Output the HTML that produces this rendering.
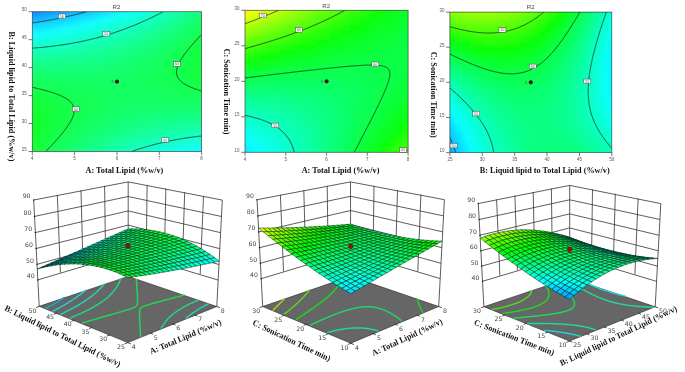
<!DOCTYPE html><html><head><meta charset="utf-8"><style>
*{margin:0;padding:0}
html,body{width:685px;height:372px;background:#fff;overflow:hidden}
svg{display:block}
.cl{fill:none;stroke:#1a1a1a;stroke-width:0.7}
.fr{fill:none;stroke:#2a2a2a;stroke-width:0.8;opacity:.75}
.tk{stroke:#555;stroke-width:0.8}
.tl{font:4.5px "Liberation Sans",sans-serif;fill:#555}
.lb{fill:#fff;stroke:#444;stroke-width:0.5}
.lt{font:3.6px "Liberation Sans",sans-serif;fill:#555}
.tt{font:6.2px "Liberation Sans",sans-serif;fill:#444}
.ax{font:bold 8.65px "Liberation Serif",serif;fill:#111}
.wl{fill:none;stroke:#333;stroke-width:0.8}
.fl{fill:#666;stroke:#222;stroke-width:0.6}
.fc{fill:none;stroke-width:1.45}
.ax3{font:bold 8.55px "Liberation Serif",serif;fill:#111}
.zl{font:6.2px "DejaVu Sans",sans-serif;fill:#444}
.tk3{stroke:#222;stroke-width:0.8}
.sf polygon{stroke:#051905;stroke-width:0.55;stroke-opacity:0.85}
</style></head><body>
<svg width="685" height="372" viewBox="0 0 685 372">
<defs><filter id="bl" x="-5%" y="-5%" width="110%" height="110%"><feGaussianBlur stdDeviation="2.2"/></filter></defs>
<clipPath id="cp0"><rect x="32.3" y="11.7" width="169.3" height="139.8"/></clipPath>
<g clip-path="url(#cp0)"><g class="cg" filter="url(#bl)">
<rect x="27.3" y="6.7" width="5" height="5" fill="#0068ff"/>
<rect x="32.3" y="6.7" width="5" height="5" fill="#006dff"/>
<rect x="37.3" y="6.7" width="5" height="5" fill="#0073ff"/>
<rect x="42.3" y="6.7" width="5" height="5" fill="#0079ff"/>
<rect x="47.3" y="6.7" width="5" height="5" fill="#007fff"/>
<rect x="52.3" y="6.7" width="5" height="5" fill="#0086ff"/>
<rect x="57.3" y="6.7" width="5" height="5" fill="#008cff"/>
<rect x="62.3" y="6.7" width="5" height="5" fill="#0093ff"/>
<rect x="67.3" y="6.7" width="5" height="5" fill="#009aff"/>
<rect x="72.3" y="6.7" width="5" height="5" fill="#00a1ff"/>
<rect x="77.3" y="6.7" width="5" height="5" fill="#00a8ff"/>
<rect x="82.3" y="6.7" width="5" height="5" fill="#00afff"/>
<rect x="87.3" y="6.7" width="5" height="5" fill="#00b6ff"/>
<rect x="92.3" y="6.7" width="5" height="5" fill="#00beff"/>
<rect x="97.3" y="6.7" width="5" height="5" fill="#00c6ff"/>
<rect x="102.3" y="6.7" width="5" height="5" fill="#00ceff"/>
<rect x="107.3" y="6.7" width="5" height="5" fill="#00d6ff"/>
<rect x="112.3" y="6.7" width="5" height="5" fill="#00deff"/>
<rect x="117.3" y="6.7" width="5" height="5" fill="#00e6ff"/>
<rect x="122.3" y="6.7" width="5" height="5" fill="#00efff"/>
<rect x="127.3" y="6.7" width="5" height="5" fill="#00f7ff"/>
<rect x="132.3" y="6.7" width="5" height="5" fill="#00fffe"/>
<rect x="137.3" y="6.7" width="5" height="5" fill="#00fff5"/>
<rect x="142.3" y="6.7" width="5" height="5" fill="#00ffec"/>
<rect x="147.3" y="6.7" width="5" height="5" fill="#00ffe3"/>
<rect x="152.3" y="6.7" width="5" height="5" fill="#00ffd9"/>
<rect x="157.3" y="6.7" width="5" height="5" fill="#00ffd0"/>
<rect x="162.3" y="6.7" width="5" height="5" fill="#00ffc6"/>
<rect x="167.3" y="6.7" width="5" height="5" fill="#00ffbc"/>
<rect x="172.3" y="6.7" width="5" height="5" fill="#00ffb2"/>
<rect x="177.3" y="6.7" width="5" height="5" fill="#00ffa8"/>
<rect x="182.3" y="6.7" width="5" height="5" fill="#00ff9d"/>
<rect x="187.3" y="6.7" width="5" height="5" fill="#00ff93"/>
<rect x="192.3" y="6.7" width="5" height="5" fill="#00ff88"/>
<rect x="197.3" y="6.7" width="5" height="5" fill="#00ff7d"/>
<rect x="202.3" y="6.7" width="5" height="5" fill="#00ff72"/>
<rect x="207.3" y="6.7" width="5" height="5" fill="#00ff67"/>
<rect x="27.3" y="11.7" width="5" height="5" fill="#0088ff"/>
<rect x="32.3" y="11.7" width="5" height="5" fill="#008dff"/>
<rect x="37.3" y="11.7" width="5" height="5" fill="#0092ff"/>
<rect x="42.3" y="11.7" width="5" height="5" fill="#0098ff"/>
<rect x="47.3" y="11.7" width="5" height="5" fill="#009eff"/>
<rect x="52.3" y="11.7" width="5" height="5" fill="#00a3ff"/>
<rect x="57.3" y="11.7" width="5" height="5" fill="#00a9ff"/>
<rect x="62.3" y="11.7" width="5" height="5" fill="#00b0ff"/>
<rect x="67.3" y="11.7" width="5" height="5" fill="#00b6ff"/>
<rect x="72.3" y="11.7" width="5" height="5" fill="#00bcff"/>
<rect x="77.3" y="11.7" width="5" height="5" fill="#00c3ff"/>
<rect x="82.3" y="11.7" width="5" height="5" fill="#00caff"/>
<rect x="87.3" y="11.7" width="5" height="5" fill="#00d0ff"/>
<rect x="92.3" y="11.7" width="5" height="5" fill="#00d7ff"/>
<rect x="97.3" y="11.7" width="5" height="5" fill="#00dfff"/>
<rect x="102.3" y="11.7" width="5" height="5" fill="#00e6ff"/>
<rect x="107.3" y="11.7" width="5" height="5" fill="#00eeff"/>
<rect x="112.3" y="11.7" width="5" height="5" fill="#00f5ff"/>
<rect x="117.3" y="11.7" width="5" height="5" fill="#00fdff"/>
<rect x="122.3" y="11.7" width="5" height="5" fill="#00fff9"/>
<rect x="127.3" y="11.7" width="5" height="5" fill="#00fff1"/>
<rect x="132.3" y="11.7" width="5" height="5" fill="#00ffe9"/>
<rect x="137.3" y="11.7" width="5" height="5" fill="#00ffe0"/>
<rect x="142.3" y="11.7" width="5" height="5" fill="#00ffd8"/>
<rect x="147.3" y="11.7" width="5" height="5" fill="#00ffcf"/>
<rect x="152.3" y="11.7" width="5" height="5" fill="#00ffc6"/>
<rect x="157.3" y="11.7" width="5" height="5" fill="#00ffbd"/>
<rect x="162.3" y="11.7" width="5" height="5" fill="#00ffb4"/>
<rect x="167.3" y="11.7" width="5" height="5" fill="#00ffaa"/>
<rect x="172.3" y="11.7" width="5" height="5" fill="#00ffa1"/>
<rect x="177.3" y="11.7" width="5" height="5" fill="#00ff97"/>
<rect x="182.3" y="11.7" width="5" height="5" fill="#00ff8d"/>
<rect x="187.3" y="11.7" width="5" height="5" fill="#00ff83"/>
<rect x="192.3" y="11.7" width="5" height="5" fill="#00ff79"/>
<rect x="197.3" y="11.7" width="5" height="5" fill="#00ff6f"/>
<rect x="202.3" y="11.7" width="5" height="5" fill="#00ff65"/>
<rect x="207.3" y="11.7" width="5" height="5" fill="#00ff5a"/>
<rect x="27.3" y="16.7" width="5" height="5" fill="#00a7ff"/>
<rect x="32.3" y="16.7" width="5" height="5" fill="#00abff"/>
<rect x="37.3" y="16.7" width="5" height="5" fill="#00b0ff"/>
<rect x="42.3" y="16.7" width="5" height="5" fill="#00b5ff"/>
<rect x="47.3" y="16.7" width="5" height="5" fill="#00baff"/>
<rect x="52.3" y="16.7" width="5" height="5" fill="#00c0ff"/>
<rect x="57.3" y="16.7" width="5" height="5" fill="#00c5ff"/>
<rect x="62.3" y="16.7" width="5" height="5" fill="#00cbff"/>
<rect x="67.3" y="16.7" width="5" height="5" fill="#00d0ff"/>
<rect x="72.3" y="16.7" width="5" height="5" fill="#00d6ff"/>
<rect x="77.3" y="16.7" width="5" height="5" fill="#00dcff"/>
<rect x="82.3" y="16.7" width="5" height="5" fill="#00e3ff"/>
<rect x="87.3" y="16.7" width="5" height="5" fill="#00e9ff"/>
<rect x="92.3" y="16.7" width="5" height="5" fill="#00f0ff"/>
<rect x="97.3" y="16.7" width="5" height="5" fill="#00f6ff"/>
<rect x="102.3" y="16.7" width="5" height="5" fill="#00fdff"/>
<rect x="107.3" y="16.7" width="5" height="5" fill="#00fffa"/>
<rect x="112.3" y="16.7" width="5" height="5" fill="#00fff3"/>
<rect x="117.3" y="16.7" width="5" height="5" fill="#00ffec"/>
<rect x="122.3" y="16.7" width="5" height="5" fill="#00ffe4"/>
<rect x="127.3" y="16.7" width="5" height="5" fill="#00ffdc"/>
<rect x="132.3" y="16.7" width="5" height="5" fill="#00ffd5"/>
<rect x="137.3" y="16.7" width="5" height="5" fill="#00ffcd"/>
<rect x="142.3" y="16.7" width="5" height="5" fill="#00ffc5"/>
<rect x="147.3" y="16.7" width="5" height="5" fill="#00ffbd"/>
<rect x="152.3" y="16.7" width="5" height="5" fill="#00ffb4"/>
<rect x="157.3" y="16.7" width="5" height="5" fill="#00ffac"/>
<rect x="162.3" y="16.7" width="5" height="5" fill="#00ffa3"/>
<rect x="167.3" y="16.7" width="5" height="5" fill="#00ff9a"/>
<rect x="172.3" y="16.7" width="5" height="5" fill="#00ff91"/>
<rect x="177.3" y="16.7" width="5" height="5" fill="#00ff88"/>
<rect x="182.3" y="16.7" width="5" height="5" fill="#00ff7f"/>
<rect x="187.3" y="16.7" width="5" height="5" fill="#00ff75"/>
<rect x="192.3" y="16.7" width="5" height="5" fill="#00ff6c"/>
<rect x="197.3" y="16.7" width="5" height="5" fill="#00ff62"/>
<rect x="202.3" y="16.7" width="5" height="5" fill="#00ff58"/>
<rect x="207.3" y="16.7" width="5" height="5" fill="#00ff4e"/>
<rect x="27.3" y="21.7" width="5" height="5" fill="#00c4ff"/>
<rect x="32.3" y="21.7" width="5" height="5" fill="#00c8ff"/>
<rect x="37.3" y="21.7" width="5" height="5" fill="#00cdff"/>
<rect x="42.3" y="21.7" width="5" height="5" fill="#00d1ff"/>
<rect x="47.3" y="21.7" width="5" height="5" fill="#00d6ff"/>
<rect x="52.3" y="21.7" width="5" height="5" fill="#00daff"/>
<rect x="57.3" y="21.7" width="5" height="5" fill="#00dfff"/>
<rect x="62.3" y="21.7" width="5" height="5" fill="#00e4ff"/>
<rect x="67.3" y="21.7" width="5" height="5" fill="#00eaff"/>
<rect x="72.3" y="21.7" width="5" height="5" fill="#00efff"/>
<rect x="77.3" y="21.7" width="5" height="5" fill="#00f5ff"/>
<rect x="82.3" y="21.7" width="5" height="5" fill="#00faff"/>
<rect x="87.3" y="21.7" width="5" height="5" fill="#00fffe"/>
<rect x="92.3" y="21.7" width="5" height="5" fill="#00fff8"/>
<rect x="97.3" y="21.7" width="5" height="5" fill="#00fff2"/>
<rect x="102.3" y="21.7" width="5" height="5" fill="#00ffeb"/>
<rect x="107.3" y="21.7" width="5" height="5" fill="#00ffe5"/>
<rect x="112.3" y="21.7" width="5" height="5" fill="#00ffde"/>
<rect x="117.3" y="21.7" width="5" height="5" fill="#00ffd8"/>
<rect x="122.3" y="21.7" width="5" height="5" fill="#00ffd1"/>
<rect x="127.3" y="21.7" width="5" height="5" fill="#00ffca"/>
<rect x="132.3" y="21.7" width="5" height="5" fill="#00ffc2"/>
<rect x="137.3" y="21.7" width="5" height="5" fill="#00ffbb"/>
<rect x="142.3" y="21.7" width="5" height="5" fill="#00ffb3"/>
<rect x="147.3" y="21.7" width="5" height="5" fill="#00ffac"/>
<rect x="152.3" y="21.7" width="5" height="5" fill="#00ffa4"/>
<rect x="157.3" y="21.7" width="5" height="5" fill="#00ff9c"/>
<rect x="162.3" y="21.7" width="5" height="5" fill="#00ff94"/>
<rect x="167.3" y="21.7" width="5" height="5" fill="#00ff8b"/>
<rect x="172.3" y="21.7" width="5" height="5" fill="#00ff83"/>
<rect x="177.3" y="21.7" width="5" height="5" fill="#00ff7a"/>
<rect x="182.3" y="21.7" width="5" height="5" fill="#00ff71"/>
<rect x="187.3" y="21.7" width="5" height="5" fill="#00ff69"/>
<rect x="192.3" y="21.7" width="5" height="5" fill="#00ff5f"/>
<rect x="197.3" y="21.7" width="5" height="5" fill="#00ff56"/>
<rect x="202.3" y="21.7" width="5" height="5" fill="#00ff4d"/>
<rect x="207.3" y="21.7" width="5" height="5" fill="#00ff43"/>
<rect x="27.3" y="26.7" width="5" height="5" fill="#00e0ff"/>
<rect x="32.3" y="26.7" width="5" height="5" fill="#00e4ff"/>
<rect x="37.3" y="26.7" width="5" height="5" fill="#00e8ff"/>
<rect x="42.3" y="26.7" width="5" height="5" fill="#00ecff"/>
<rect x="47.3" y="26.7" width="5" height="5" fill="#00f0ff"/>
<rect x="52.3" y="26.7" width="5" height="5" fill="#00f4ff"/>
<rect x="57.3" y="26.7" width="5" height="5" fill="#00f8ff"/>
<rect x="62.3" y="26.7" width="5" height="5" fill="#00fdff"/>
<rect x="67.3" y="26.7" width="5" height="5" fill="#00fffc"/>
<rect x="72.3" y="26.7" width="5" height="5" fill="#00fff8"/>
<rect x="77.3" y="26.7" width="5" height="5" fill="#00fff3"/>
<rect x="82.3" y="26.7" width="5" height="5" fill="#00ffed"/>
<rect x="87.3" y="26.7" width="5" height="5" fill="#00ffe8"/>
<rect x="92.3" y="26.7" width="5" height="5" fill="#00ffe3"/>
<rect x="97.3" y="26.7" width="5" height="5" fill="#00ffdd"/>
<rect x="102.3" y="26.7" width="5" height="5" fill="#00ffd7"/>
<rect x="107.3" y="26.7" width="5" height="5" fill="#00ffd1"/>
<rect x="112.3" y="26.7" width="5" height="5" fill="#00ffcb"/>
<rect x="117.3" y="26.7" width="5" height="5" fill="#00ffc5"/>
<rect x="122.3" y="26.7" width="5" height="5" fill="#00ffbe"/>
<rect x="127.3" y="26.7" width="5" height="5" fill="#00ffb8"/>
<rect x="132.3" y="26.7" width="5" height="5" fill="#00ffb1"/>
<rect x="137.3" y="26.7" width="5" height="5" fill="#00ffaa"/>
<rect x="142.3" y="26.7" width="5" height="5" fill="#00ffa3"/>
<rect x="147.3" y="26.7" width="5" height="5" fill="#00ff9c"/>
<rect x="152.3" y="26.7" width="5" height="5" fill="#00ff95"/>
<rect x="157.3" y="26.7" width="5" height="5" fill="#00ff8d"/>
<rect x="162.3" y="26.7" width="5" height="5" fill="#00ff86"/>
<rect x="167.3" y="26.7" width="5" height="5" fill="#00ff7e"/>
<rect x="172.3" y="26.7" width="5" height="5" fill="#00ff76"/>
<rect x="177.3" y="26.7" width="5" height="5" fill="#00ff6e"/>
<rect x="182.3" y="26.7" width="5" height="5" fill="#00ff66"/>
<rect x="187.3" y="26.7" width="5" height="5" fill="#00ff5d"/>
<rect x="192.3" y="26.7" width="5" height="5" fill="#00ff55"/>
<rect x="197.3" y="26.7" width="5" height="5" fill="#00ff4c"/>
<rect x="202.3" y="26.7" width="5" height="5" fill="#00ff43"/>
<rect x="207.3" y="26.7" width="5" height="5" fill="#00ff3a"/>
<rect x="27.3" y="31.7" width="5" height="5" fill="#00fbff"/>
<rect x="32.3" y="31.7" width="5" height="5" fill="#00feff"/>
<rect x="37.3" y="31.7" width="5" height="5" fill="#00fffd"/>
<rect x="42.3" y="31.7" width="5" height="5" fill="#00fff9"/>
<rect x="47.3" y="31.7" width="5" height="5" fill="#00fff6"/>
<rect x="52.3" y="31.7" width="5" height="5" fill="#00fff2"/>
<rect x="57.3" y="31.7" width="5" height="5" fill="#00ffee"/>
<rect x="62.3" y="31.7" width="5" height="5" fill="#00ffea"/>
<rect x="67.3" y="31.7" width="5" height="5" fill="#00ffe6"/>
<rect x="72.3" y="31.7" width="5" height="5" fill="#00ffe2"/>
<rect x="77.3" y="31.7" width="5" height="5" fill="#00ffdd"/>
<rect x="82.3" y="31.7" width="5" height="5" fill="#00ffd8"/>
<rect x="87.3" y="31.7" width="5" height="5" fill="#00ffd4"/>
<rect x="92.3" y="31.7" width="5" height="5" fill="#00ffcf"/>
<rect x="97.3" y="31.7" width="5" height="5" fill="#00ffca"/>
<rect x="102.3" y="31.7" width="5" height="5" fill="#00ffc4"/>
<rect x="107.3" y="31.7" width="5" height="5" fill="#00ffbf"/>
<rect x="112.3" y="31.7" width="5" height="5" fill="#00ffb9"/>
<rect x="117.3" y="31.7" width="5" height="5" fill="#00ffb4"/>
<rect x="122.3" y="31.7" width="5" height="5" fill="#00ffae"/>
<rect x="127.3" y="31.7" width="5" height="5" fill="#00ffa8"/>
<rect x="132.3" y="31.7" width="5" height="5" fill="#00ffa2"/>
<rect x="137.3" y="31.7" width="5" height="5" fill="#00ff9b"/>
<rect x="142.3" y="31.7" width="5" height="5" fill="#00ff95"/>
<rect x="147.3" y="31.7" width="5" height="5" fill="#00ff8e"/>
<rect x="152.3" y="31.7" width="5" height="5" fill="#00ff87"/>
<rect x="157.3" y="31.7" width="5" height="5" fill="#00ff80"/>
<rect x="162.3" y="31.7" width="5" height="5" fill="#00ff79"/>
<rect x="167.3" y="31.7" width="5" height="5" fill="#00ff72"/>
<rect x="172.3" y="31.7" width="5" height="5" fill="#00ff6b"/>
<rect x="177.3" y="31.7" width="5" height="5" fill="#00ff63"/>
<rect x="182.3" y="31.7" width="5" height="5" fill="#00ff5b"/>
<rect x="187.3" y="31.7" width="5" height="5" fill="#00ff53"/>
<rect x="192.3" y="31.7" width="5" height="5" fill="#00ff4b"/>
<rect x="197.3" y="31.7" width="5" height="5" fill="#00ff43"/>
<rect x="202.3" y="31.7" width="5" height="5" fill="#00ff3b"/>
<rect x="207.3" y="31.7" width="5" height="5" fill="#00ff32"/>
<rect x="27.3" y="36.7" width="5" height="5" fill="#00ffea"/>
<rect x="32.3" y="36.7" width="5" height="5" fill="#00ffe7"/>
<rect x="37.3" y="36.7" width="5" height="5" fill="#00ffe5"/>
<rect x="42.3" y="36.7" width="5" height="5" fill="#00ffe2"/>
<rect x="47.3" y="36.7" width="5" height="5" fill="#00ffdf"/>
<rect x="52.3" y="36.7" width="5" height="5" fill="#00ffdb"/>
<rect x="57.3" y="36.7" width="5" height="5" fill="#00ffd8"/>
<rect x="62.3" y="36.7" width="5" height="5" fill="#00ffd5"/>
<rect x="67.3" y="36.7" width="5" height="5" fill="#00ffd1"/>
<rect x="72.3" y="36.7" width="5" height="5" fill="#00ffcd"/>
<rect x="77.3" y="36.7" width="5" height="5" fill="#00ffc9"/>
<rect x="82.3" y="36.7" width="5" height="5" fill="#00ffc5"/>
<rect x="87.3" y="36.7" width="5" height="5" fill="#00ffc1"/>
<rect x="92.3" y="36.7" width="5" height="5" fill="#00ffbc"/>
<rect x="97.3" y="36.7" width="5" height="5" fill="#00ffb8"/>
<rect x="102.3" y="36.7" width="5" height="5" fill="#00ffb3"/>
<rect x="107.3" y="36.7" width="5" height="5" fill="#00ffae"/>
<rect x="112.3" y="36.7" width="5" height="5" fill="#00ffa9"/>
<rect x="117.3" y="36.7" width="5" height="5" fill="#00ffa4"/>
<rect x="122.3" y="36.7" width="5" height="5" fill="#00ff9e"/>
<rect x="127.3" y="36.7" width="5" height="5" fill="#00ff99"/>
<rect x="132.3" y="36.7" width="5" height="5" fill="#00ff93"/>
<rect x="137.3" y="36.7" width="5" height="5" fill="#00ff8d"/>
<rect x="142.3" y="36.7" width="5" height="5" fill="#00ff87"/>
<rect x="147.3" y="36.7" width="5" height="5" fill="#00ff81"/>
<rect x="152.3" y="36.7" width="5" height="5" fill="#00ff7b"/>
<rect x="157.3" y="36.7" width="5" height="5" fill="#00ff75"/>
<rect x="162.3" y="36.7" width="5" height="5" fill="#00ff6e"/>
<rect x="167.3" y="36.7" width="5" height="5" fill="#00ff67"/>
<rect x="172.3" y="36.7" width="5" height="5" fill="#00ff60"/>
<rect x="177.3" y="36.7" width="5" height="5" fill="#00ff59"/>
<rect x="182.3" y="36.7" width="5" height="5" fill="#00ff52"/>
<rect x="187.3" y="36.7" width="5" height="5" fill="#00ff4b"/>
<rect x="192.3" y="36.7" width="5" height="5" fill="#00ff43"/>
<rect x="197.3" y="36.7" width="5" height="5" fill="#00ff3c"/>
<rect x="202.3" y="36.7" width="5" height="5" fill="#00ff34"/>
<rect x="207.3" y="36.7" width="5" height="5" fill="#00ff2c"/>
<rect x="27.3" y="41.7" width="5" height="5" fill="#00ffd2"/>
<rect x="32.3" y="41.7" width="5" height="5" fill="#00ffd0"/>
<rect x="37.3" y="41.7" width="5" height="5" fill="#00ffce"/>
<rect x="42.3" y="41.7" width="5" height="5" fill="#00ffcb"/>
<rect x="47.3" y="41.7" width="5" height="5" fill="#00ffc9"/>
<rect x="52.3" y="41.7" width="5" height="5" fill="#00ffc6"/>
<rect x="57.3" y="41.7" width="5" height="5" fill="#00ffc3"/>
<rect x="62.3" y="41.7" width="5" height="5" fill="#00ffc0"/>
<rect x="67.3" y="41.7" width="5" height="5" fill="#00ffbd"/>
<rect x="72.3" y="41.7" width="5" height="5" fill="#00ffba"/>
<rect x="77.3" y="41.7" width="5" height="5" fill="#00ffb6"/>
<rect x="82.3" y="41.7" width="5" height="5" fill="#00ffb3"/>
<rect x="87.3" y="41.7" width="5" height="5" fill="#00ffaf"/>
<rect x="92.3" y="41.7" width="5" height="5" fill="#00ffab"/>
<rect x="97.3" y="41.7" width="5" height="5" fill="#00ffa7"/>
<rect x="102.3" y="41.7" width="5" height="5" fill="#00ffa3"/>
<rect x="107.3" y="41.7" width="5" height="5" fill="#00ff9f"/>
<rect x="112.3" y="41.7" width="5" height="5" fill="#00ff9a"/>
<rect x="117.3" y="41.7" width="5" height="5" fill="#00ff95"/>
<rect x="122.3" y="41.7" width="5" height="5" fill="#00ff91"/>
<rect x="127.3" y="41.7" width="5" height="5" fill="#00ff8c"/>
<rect x="132.3" y="41.7" width="5" height="5" fill="#00ff86"/>
<rect x="137.3" y="41.7" width="5" height="5" fill="#00ff81"/>
<rect x="142.3" y="41.7" width="5" height="5" fill="#00ff7c"/>
<rect x="147.3" y="41.7" width="5" height="5" fill="#00ff76"/>
<rect x="152.3" y="41.7" width="5" height="5" fill="#00ff70"/>
<rect x="157.3" y="41.7" width="5" height="5" fill="#00ff6a"/>
<rect x="162.3" y="41.7" width="5" height="5" fill="#00ff64"/>
<rect x="167.3" y="41.7" width="5" height="5" fill="#00ff5e"/>
<rect x="172.3" y="41.7" width="5" height="5" fill="#00ff58"/>
<rect x="177.3" y="41.7" width="5" height="5" fill="#00ff51"/>
<rect x="182.3" y="41.7" width="5" height="5" fill="#00ff4b"/>
<rect x="187.3" y="41.7" width="5" height="5" fill="#00ff44"/>
<rect x="192.3" y="41.7" width="5" height="5" fill="#00ff3d"/>
<rect x="197.3" y="41.7" width="5" height="5" fill="#00ff36"/>
<rect x="202.3" y="41.7" width="5" height="5" fill="#00ff2e"/>
<rect x="207.3" y="41.7" width="5" height="5" fill="#00ff27"/>
<rect x="27.3" y="46.7" width="5" height="5" fill="#00ffbc"/>
<rect x="32.3" y="46.7" width="5" height="5" fill="#00ffba"/>
<rect x="37.3" y="46.7" width="5" height="5" fill="#00ffb8"/>
<rect x="42.3" y="46.7" width="5" height="5" fill="#00ffb6"/>
<rect x="47.3" y="46.7" width="5" height="5" fill="#00ffb4"/>
<rect x="52.3" y="46.7" width="5" height="5" fill="#00ffb2"/>
<rect x="57.3" y="46.7" width="5" height="5" fill="#00ffb0"/>
<rect x="62.3" y="46.7" width="5" height="5" fill="#00ffae"/>
<rect x="67.3" y="46.7" width="5" height="5" fill="#00ffab"/>
<rect x="72.3" y="46.7" width="5" height="5" fill="#00ffa8"/>
<rect x="77.3" y="46.7" width="5" height="5" fill="#00ffa5"/>
<rect x="82.3" y="46.7" width="5" height="5" fill="#00ffa2"/>
<rect x="87.3" y="46.7" width="5" height="5" fill="#00ff9f"/>
<rect x="92.3" y="46.7" width="5" height="5" fill="#00ff9c"/>
<rect x="97.3" y="46.7" width="5" height="5" fill="#00ff98"/>
<rect x="102.3" y="46.7" width="5" height="5" fill="#00ff94"/>
<rect x="107.3" y="46.7" width="5" height="5" fill="#00ff90"/>
<rect x="112.3" y="46.7" width="5" height="5" fill="#00ff8c"/>
<rect x="117.3" y="46.7" width="5" height="5" fill="#00ff88"/>
<rect x="122.3" y="46.7" width="5" height="5" fill="#00ff84"/>
<rect x="127.3" y="46.7" width="5" height="5" fill="#00ff80"/>
<rect x="132.3" y="46.7" width="5" height="5" fill="#00ff7b"/>
<rect x="137.3" y="46.7" width="5" height="5" fill="#00ff76"/>
<rect x="142.3" y="46.7" width="5" height="5" fill="#00ff71"/>
<rect x="147.3" y="46.7" width="5" height="5" fill="#00ff6c"/>
<rect x="152.3" y="46.7" width="5" height="5" fill="#00ff67"/>
<rect x="157.3" y="46.7" width="5" height="5" fill="#00ff62"/>
<rect x="162.3" y="46.7" width="5" height="5" fill="#00ff5c"/>
<rect x="167.3" y="46.7" width="5" height="5" fill="#00ff56"/>
<rect x="172.3" y="46.7" width="5" height="5" fill="#00ff50"/>
<rect x="177.3" y="46.7" width="5" height="5" fill="#00ff4a"/>
<rect x="182.3" y="46.7" width="5" height="5" fill="#00ff44"/>
<rect x="187.3" y="46.7" width="5" height="5" fill="#00ff3e"/>
<rect x="192.3" y="46.7" width="5" height="5" fill="#00ff38"/>
<rect x="197.3" y="46.7" width="5" height="5" fill="#00ff31"/>
<rect x="202.3" y="46.7" width="5" height="5" fill="#00ff2a"/>
<rect x="207.3" y="46.7" width="5" height="5" fill="#00ff23"/>
<rect x="27.3" y="51.7" width="5" height="5" fill="#00ffa6"/>
<rect x="32.3" y="51.7" width="5" height="5" fill="#00ffa5"/>
<rect x="37.3" y="51.7" width="5" height="5" fill="#00ffa4"/>
<rect x="42.3" y="51.7" width="5" height="5" fill="#00ffa3"/>
<rect x="47.3" y="51.7" width="5" height="5" fill="#00ffa2"/>
<rect x="52.3" y="51.7" width="5" height="5" fill="#00ffa0"/>
<rect x="57.3" y="51.7" width="5" height="5" fill="#00ff9e"/>
<rect x="62.3" y="51.7" width="5" height="5" fill="#00ff9c"/>
<rect x="67.3" y="51.7" width="5" height="5" fill="#00ff9a"/>
<rect x="72.3" y="51.7" width="5" height="5" fill="#00ff98"/>
<rect x="77.3" y="51.7" width="5" height="5" fill="#00ff95"/>
<rect x="82.3" y="51.7" width="5" height="5" fill="#00ff93"/>
<rect x="87.3" y="51.7" width="5" height="5" fill="#00ff90"/>
<rect x="92.3" y="51.7" width="5" height="5" fill="#00ff8d"/>
<rect x="97.3" y="51.7" width="5" height="5" fill="#00ff8a"/>
<rect x="102.3" y="51.7" width="5" height="5" fill="#00ff87"/>
<rect x="107.3" y="51.7" width="5" height="5" fill="#00ff84"/>
<rect x="112.3" y="51.7" width="5" height="5" fill="#00ff80"/>
<rect x="117.3" y="51.7" width="5" height="5" fill="#00ff7d"/>
<rect x="122.3" y="51.7" width="5" height="5" fill="#00ff79"/>
<rect x="127.3" y="51.7" width="5" height="5" fill="#00ff75"/>
<rect x="132.3" y="51.7" width="5" height="5" fill="#00ff71"/>
<rect x="137.3" y="51.7" width="5" height="5" fill="#00ff6d"/>
<rect x="142.3" y="51.7" width="5" height="5" fill="#00ff68"/>
<rect x="147.3" y="51.7" width="5" height="5" fill="#00ff64"/>
<rect x="152.3" y="51.7" width="5" height="5" fill="#00ff5f"/>
<rect x="157.3" y="51.7" width="5" height="5" fill="#00ff5a"/>
<rect x="162.3" y="51.7" width="5" height="5" fill="#00ff55"/>
<rect x="167.3" y="51.7" width="5" height="5" fill="#00ff50"/>
<rect x="172.3" y="51.7" width="5" height="5" fill="#00ff4b"/>
<rect x="177.3" y="51.7" width="5" height="5" fill="#00ff45"/>
<rect x="182.3" y="51.7" width="5" height="5" fill="#00ff3f"/>
<rect x="187.3" y="51.7" width="5" height="5" fill="#00ff3a"/>
<rect x="192.3" y="51.7" width="5" height="5" fill="#00ff34"/>
<rect x="197.3" y="51.7" width="5" height="5" fill="#00ff2e"/>
<rect x="202.3" y="51.7" width="5" height="5" fill="#00ff27"/>
<rect x="207.3" y="51.7" width="5" height="5" fill="#00ff21"/>
<rect x="27.3" y="56.7" width="5" height="5" fill="#00ff93"/>
<rect x="32.3" y="56.7" width="5" height="5" fill="#00ff92"/>
<rect x="37.3" y="56.7" width="5" height="5" fill="#00ff92"/>
<rect x="42.3" y="56.7" width="5" height="5" fill="#00ff91"/>
<rect x="47.3" y="56.7" width="5" height="5" fill="#00ff90"/>
<rect x="52.3" y="56.7" width="5" height="5" fill="#00ff8f"/>
<rect x="57.3" y="56.7" width="5" height="5" fill="#00ff8e"/>
<rect x="62.3" y="56.7" width="5" height="5" fill="#00ff8c"/>
<rect x="67.3" y="56.7" width="5" height="5" fill="#00ff8b"/>
<rect x="72.3" y="56.7" width="5" height="5" fill="#00ff89"/>
<rect x="77.3" y="56.7" width="5" height="5" fill="#00ff87"/>
<rect x="82.3" y="56.7" width="5" height="5" fill="#00ff85"/>
<rect x="87.3" y="56.7" width="5" height="5" fill="#00ff83"/>
<rect x="92.3" y="56.7" width="5" height="5" fill="#00ff80"/>
<rect x="97.3" y="56.7" width="5" height="5" fill="#00ff7e"/>
<rect x="102.3" y="56.7" width="5" height="5" fill="#00ff7b"/>
<rect x="107.3" y="56.7" width="5" height="5" fill="#00ff79"/>
<rect x="112.3" y="56.7" width="5" height="5" fill="#00ff76"/>
<rect x="117.3" y="56.7" width="5" height="5" fill="#00ff72"/>
<rect x="122.3" y="56.7" width="5" height="5" fill="#00ff6f"/>
<rect x="127.3" y="56.7" width="5" height="5" fill="#00ff6c"/>
<rect x="132.3" y="56.7" width="5" height="5" fill="#00ff68"/>
<rect x="137.3" y="56.7" width="5" height="5" fill="#00ff64"/>
<rect x="142.3" y="56.7" width="5" height="5" fill="#00ff61"/>
<rect x="147.3" y="56.7" width="5" height="5" fill="#00ff5d"/>
<rect x="152.3" y="56.7" width="5" height="5" fill="#00ff58"/>
<rect x="157.3" y="56.7" width="5" height="5" fill="#00ff54"/>
<rect x="162.3" y="56.7" width="5" height="5" fill="#00ff50"/>
<rect x="167.3" y="56.7" width="5" height="5" fill="#00ff4b"/>
<rect x="172.3" y="56.7" width="5" height="5" fill="#00ff46"/>
<rect x="177.3" y="56.7" width="5" height="5" fill="#00ff41"/>
<rect x="182.3" y="56.7" width="5" height="5" fill="#00ff3c"/>
<rect x="187.3" y="56.7" width="5" height="5" fill="#00ff37"/>
<rect x="192.3" y="56.7" width="5" height="5" fill="#00ff31"/>
<rect x="197.3" y="56.7" width="5" height="5" fill="#00ff2c"/>
<rect x="202.3" y="56.7" width="5" height="5" fill="#00ff26"/>
<rect x="207.3" y="56.7" width="5" height="5" fill="#00ff20"/>
<rect x="27.3" y="61.7" width="5" height="5" fill="#00ff81"/>
<rect x="32.3" y="61.7" width="5" height="5" fill="#00ff81"/>
<rect x="37.3" y="61.7" width="5" height="5" fill="#00ff80"/>
<rect x="42.3" y="61.7" width="5" height="5" fill="#00ff80"/>
<rect x="47.3" y="61.7" width="5" height="5" fill="#00ff80"/>
<rect x="52.3" y="61.7" width="5" height="5" fill="#00ff7f"/>
<rect x="57.3" y="61.7" width="5" height="5" fill="#00ff7e"/>
<rect x="62.3" y="61.7" width="5" height="5" fill="#00ff7e"/>
<rect x="67.3" y="61.7" width="5" height="5" fill="#00ff7d"/>
<rect x="72.3" y="61.7" width="5" height="5" fill="#00ff7b"/>
<rect x="77.3" y="61.7" width="5" height="5" fill="#00ff7a"/>
<rect x="82.3" y="61.7" width="5" height="5" fill="#00ff78"/>
<rect x="87.3" y="61.7" width="5" height="5" fill="#00ff77"/>
<rect x="92.3" y="61.7" width="5" height="5" fill="#00ff75"/>
<rect x="97.3" y="61.7" width="5" height="5" fill="#00ff73"/>
<rect x="102.3" y="61.7" width="5" height="5" fill="#00ff71"/>
<rect x="107.3" y="61.7" width="5" height="5" fill="#00ff6f"/>
<rect x="112.3" y="61.7" width="5" height="5" fill="#00ff6c"/>
<rect x="117.3" y="61.7" width="5" height="5" fill="#00ff6a"/>
<rect x="122.3" y="61.7" width="5" height="5" fill="#00ff67"/>
<rect x="127.3" y="61.7" width="5" height="5" fill="#00ff64"/>
<rect x="132.3" y="61.7" width="5" height="5" fill="#00ff61"/>
<rect x="137.3" y="61.7" width="5" height="5" fill="#00ff5e"/>
<rect x="142.3" y="61.7" width="5" height="5" fill="#00ff5a"/>
<rect x="147.3" y="61.7" width="5" height="5" fill="#00ff57"/>
<rect x="152.3" y="61.7" width="5" height="5" fill="#00ff53"/>
<rect x="157.3" y="61.7" width="5" height="5" fill="#00ff4f"/>
<rect x="162.3" y="61.7" width="5" height="5" fill="#00ff4b"/>
<rect x="167.3" y="61.7" width="5" height="5" fill="#00ff47"/>
<rect x="172.3" y="61.7" width="5" height="5" fill="#00ff43"/>
<rect x="177.3" y="61.7" width="5" height="5" fill="#00ff3f"/>
<rect x="182.3" y="61.7" width="5" height="5" fill="#00ff3a"/>
<rect x="187.3" y="61.7" width="5" height="5" fill="#00ff35"/>
<rect x="192.3" y="61.7" width="5" height="5" fill="#00ff30"/>
<rect x="197.3" y="61.7" width="5" height="5" fill="#00ff2b"/>
<rect x="202.3" y="61.7" width="5" height="5" fill="#00ff26"/>
<rect x="207.3" y="61.7" width="5" height="5" fill="#00ff21"/>
<rect x="27.3" y="66.7" width="5" height="5" fill="#00ff70"/>
<rect x="32.3" y="66.7" width="5" height="5" fill="#00ff70"/>
<rect x="37.3" y="66.7" width="5" height="5" fill="#00ff71"/>
<rect x="42.3" y="66.7" width="5" height="5" fill="#00ff71"/>
<rect x="47.3" y="66.7" width="5" height="5" fill="#00ff71"/>
<rect x="52.3" y="66.7" width="5" height="5" fill="#00ff71"/>
<rect x="57.3" y="66.7" width="5" height="5" fill="#00ff71"/>
<rect x="62.3" y="66.7" width="5" height="5" fill="#00ff70"/>
<rect x="67.3" y="66.7" width="5" height="5" fill="#00ff70"/>
<rect x="72.3" y="66.7" width="5" height="5" fill="#00ff6f"/>
<rect x="77.3" y="66.7" width="5" height="5" fill="#00ff6e"/>
<rect x="82.3" y="66.7" width="5" height="5" fill="#00ff6d"/>
<rect x="87.3" y="66.7" width="5" height="5" fill="#00ff6c"/>
<rect x="92.3" y="66.7" width="5" height="5" fill="#00ff6b"/>
<rect x="97.3" y="66.7" width="5" height="5" fill="#00ff69"/>
<rect x="102.3" y="66.7" width="5" height="5" fill="#00ff68"/>
<rect x="107.3" y="66.7" width="5" height="5" fill="#00ff66"/>
<rect x="112.3" y="66.7" width="5" height="5" fill="#00ff64"/>
<rect x="117.3" y="66.7" width="5" height="5" fill="#00ff62"/>
<rect x="122.3" y="66.7" width="5" height="5" fill="#00ff60"/>
<rect x="127.3" y="66.7" width="5" height="5" fill="#00ff5e"/>
<rect x="132.3" y="66.7" width="5" height="5" fill="#00ff5b"/>
<rect x="137.3" y="66.7" width="5" height="5" fill="#00ff58"/>
<rect x="142.3" y="66.7" width="5" height="5" fill="#00ff56"/>
<rect x="147.3" y="66.7" width="5" height="5" fill="#00ff53"/>
<rect x="152.3" y="66.7" width="5" height="5" fill="#00ff4f"/>
<rect x="157.3" y="66.7" width="5" height="5" fill="#00ff4c"/>
<rect x="162.3" y="66.7" width="5" height="5" fill="#00ff49"/>
<rect x="167.3" y="66.7" width="5" height="5" fill="#00ff45"/>
<rect x="172.3" y="66.7" width="5" height="5" fill="#00ff41"/>
<rect x="177.3" y="66.7" width="5" height="5" fill="#00ff3d"/>
<rect x="182.3" y="66.7" width="5" height="5" fill="#00ff39"/>
<rect x="187.3" y="66.7" width="5" height="5" fill="#00ff35"/>
<rect x="192.3" y="66.7" width="5" height="5" fill="#00ff31"/>
<rect x="197.3" y="66.7" width="5" height="5" fill="#00ff2c"/>
<rect x="202.3" y="66.7" width="5" height="5" fill="#00ff28"/>
<rect x="207.3" y="66.7" width="5" height="5" fill="#00ff23"/>
<rect x="27.3" y="71.7" width="5" height="5" fill="#00ff60"/>
<rect x="32.3" y="71.7" width="5" height="5" fill="#00ff61"/>
<rect x="37.3" y="71.7" width="5" height="5" fill="#00ff62"/>
<rect x="42.3" y="71.7" width="5" height="5" fill="#00ff63"/>
<rect x="47.3" y="71.7" width="5" height="5" fill="#00ff64"/>
<rect x="52.3" y="71.7" width="5" height="5" fill="#00ff64"/>
<rect x="57.3" y="71.7" width="5" height="5" fill="#00ff64"/>
<rect x="62.3" y="71.7" width="5" height="5" fill="#00ff65"/>
<rect x="67.3" y="71.7" width="5" height="5" fill="#00ff65"/>
<rect x="72.3" y="71.7" width="5" height="5" fill="#00ff64"/>
<rect x="77.3" y="71.7" width="5" height="5" fill="#00ff64"/>
<rect x="82.3" y="71.7" width="5" height="5" fill="#00ff64"/>
<rect x="87.3" y="71.7" width="5" height="5" fill="#00ff63"/>
<rect x="92.3" y="71.7" width="5" height="5" fill="#00ff62"/>
<rect x="97.3" y="71.7" width="5" height="5" fill="#00ff61"/>
<rect x="102.3" y="71.7" width="5" height="5" fill="#00ff60"/>
<rect x="107.3" y="71.7" width="5" height="5" fill="#00ff5f"/>
<rect x="112.3" y="71.7" width="5" height="5" fill="#00ff5e"/>
<rect x="117.3" y="71.7" width="5" height="5" fill="#00ff5c"/>
<rect x="122.3" y="71.7" width="5" height="5" fill="#00ff5a"/>
<rect x="127.3" y="71.7" width="5" height="5" fill="#00ff59"/>
<rect x="132.3" y="71.7" width="5" height="5" fill="#00ff57"/>
<rect x="137.3" y="71.7" width="5" height="5" fill="#00ff54"/>
<rect x="142.3" y="71.7" width="5" height="5" fill="#00ff52"/>
<rect x="147.3" y="71.7" width="5" height="5" fill="#00ff50"/>
<rect x="152.3" y="71.7" width="5" height="5" fill="#00ff4d"/>
<rect x="157.3" y="71.7" width="5" height="5" fill="#00ff4a"/>
<rect x="162.3" y="71.7" width="5" height="5" fill="#00ff47"/>
<rect x="167.3" y="71.7" width="5" height="5" fill="#00ff44"/>
<rect x="172.3" y="71.7" width="5" height="5" fill="#00ff41"/>
<rect x="177.3" y="71.7" width="5" height="5" fill="#00ff3e"/>
<rect x="182.3" y="71.7" width="5" height="5" fill="#00ff3a"/>
<rect x="187.3" y="71.7" width="5" height="5" fill="#00ff36"/>
<rect x="192.3" y="71.7" width="5" height="5" fill="#00ff33"/>
<rect x="197.3" y="71.7" width="5" height="5" fill="#00ff2f"/>
<rect x="202.3" y="71.7" width="5" height="5" fill="#00ff2a"/>
<rect x="207.3" y="71.7" width="5" height="5" fill="#00ff26"/>
<rect x="27.3" y="76.7" width="5" height="5" fill="#00ff52"/>
<rect x="32.3" y="76.7" width="5" height="5" fill="#00ff54"/>
<rect x="37.3" y="76.7" width="5" height="5" fill="#00ff55"/>
<rect x="42.3" y="76.7" width="5" height="5" fill="#00ff57"/>
<rect x="47.3" y="76.7" width="5" height="5" fill="#00ff58"/>
<rect x="52.3" y="76.7" width="5" height="5" fill="#00ff59"/>
<rect x="57.3" y="76.7" width="5" height="5" fill="#00ff59"/>
<rect x="62.3" y="76.7" width="5" height="5" fill="#00ff5a"/>
<rect x="67.3" y="76.7" width="5" height="5" fill="#00ff5b"/>
<rect x="72.3" y="76.7" width="5" height="5" fill="#00ff5b"/>
<rect x="77.3" y="76.7" width="5" height="5" fill="#00ff5b"/>
<rect x="82.3" y="76.7" width="5" height="5" fill="#00ff5b"/>
<rect x="87.3" y="76.7" width="5" height="5" fill="#00ff5b"/>
<rect x="92.3" y="76.7" width="5" height="5" fill="#00ff5b"/>
<rect x="97.3" y="76.7" width="5" height="5" fill="#00ff5b"/>
<rect x="102.3" y="76.7" width="5" height="5" fill="#00ff5a"/>
<rect x="107.3" y="76.7" width="5" height="5" fill="#00ff59"/>
<rect x="112.3" y="76.7" width="5" height="5" fill="#00ff58"/>
<rect x="117.3" y="76.7" width="5" height="5" fill="#00ff57"/>
<rect x="122.3" y="76.7" width="5" height="5" fill="#00ff56"/>
<rect x="127.3" y="76.7" width="5" height="5" fill="#00ff55"/>
<rect x="132.3" y="76.7" width="5" height="5" fill="#00ff53"/>
<rect x="137.3" y="76.7" width="5" height="5" fill="#00ff52"/>
<rect x="142.3" y="76.7" width="5" height="5" fill="#00ff50"/>
<rect x="147.3" y="76.7" width="5" height="5" fill="#00ff4e"/>
<rect x="152.3" y="76.7" width="5" height="5" fill="#00ff4c"/>
<rect x="157.3" y="76.7" width="5" height="5" fill="#00ff4a"/>
<rect x="162.3" y="76.7" width="5" height="5" fill="#00ff47"/>
<rect x="167.3" y="76.7" width="5" height="5" fill="#00ff45"/>
<rect x="172.3" y="76.7" width="5" height="5" fill="#00ff42"/>
<rect x="177.3" y="76.7" width="5" height="5" fill="#00ff3f"/>
<rect x="182.3" y="76.7" width="5" height="5" fill="#00ff3c"/>
<rect x="187.3" y="76.7" width="5" height="5" fill="#00ff39"/>
<rect x="192.3" y="76.7" width="5" height="5" fill="#00ff36"/>
<rect x="197.3" y="76.7" width="5" height="5" fill="#00ff32"/>
<rect x="202.3" y="76.7" width="5" height="5" fill="#00ff2f"/>
<rect x="207.3" y="76.7" width="5" height="5" fill="#00ff2b"/>
<rect x="27.3" y="81.7" width="5" height="5" fill="#00ff45"/>
<rect x="32.3" y="81.7" width="5" height="5" fill="#00ff48"/>
<rect x="37.3" y="81.7" width="5" height="5" fill="#00ff4a"/>
<rect x="42.3" y="81.7" width="5" height="5" fill="#00ff4b"/>
<rect x="47.3" y="81.7" width="5" height="5" fill="#00ff4d"/>
<rect x="52.3" y="81.7" width="5" height="5" fill="#00ff4f"/>
<rect x="57.3" y="81.7" width="5" height="5" fill="#00ff50"/>
<rect x="62.3" y="81.7" width="5" height="5" fill="#00ff51"/>
<rect x="67.3" y="81.7" width="5" height="5" fill="#00ff52"/>
<rect x="72.3" y="81.7" width="5" height="5" fill="#00ff53"/>
<rect x="77.3" y="81.7" width="5" height="5" fill="#00ff54"/>
<rect x="82.3" y="81.7" width="5" height="5" fill="#00ff54"/>
<rect x="87.3" y="81.7" width="5" height="5" fill="#00ff55"/>
<rect x="92.3" y="81.7" width="5" height="5" fill="#00ff55"/>
<rect x="97.3" y="81.7" width="5" height="5" fill="#00ff55"/>
<rect x="102.3" y="81.7" width="5" height="5" fill="#00ff55"/>
<rect x="107.3" y="81.7" width="5" height="5" fill="#00ff55"/>
<rect x="112.3" y="81.7" width="5" height="5" fill="#00ff55"/>
<rect x="117.3" y="81.7" width="5" height="5" fill="#00ff54"/>
<rect x="122.3" y="81.7" width="5" height="5" fill="#00ff54"/>
<rect x="127.3" y="81.7" width="5" height="5" fill="#00ff53"/>
<rect x="132.3" y="81.7" width="5" height="5" fill="#00ff52"/>
<rect x="137.3" y="81.7" width="5" height="5" fill="#00ff51"/>
<rect x="142.3" y="81.7" width="5" height="5" fill="#00ff4f"/>
<rect x="147.3" y="81.7" width="5" height="5" fill="#00ff4e"/>
<rect x="152.3" y="81.7" width="5" height="5" fill="#00ff4c"/>
<rect x="157.3" y="81.7" width="5" height="5" fill="#00ff4b"/>
<rect x="162.3" y="81.7" width="5" height="5" fill="#00ff49"/>
<rect x="167.3" y="81.7" width="5" height="5" fill="#00ff47"/>
<rect x="172.3" y="81.7" width="5" height="5" fill="#00ff45"/>
<rect x="177.3" y="81.7" width="5" height="5" fill="#00ff42"/>
<rect x="182.3" y="81.7" width="5" height="5" fill="#00ff40"/>
<rect x="187.3" y="81.7" width="5" height="5" fill="#00ff3d"/>
<rect x="192.3" y="81.7" width="5" height="5" fill="#00ff3a"/>
<rect x="197.3" y="81.7" width="5" height="5" fill="#00ff37"/>
<rect x="202.3" y="81.7" width="5" height="5" fill="#00ff34"/>
<rect x="207.3" y="81.7" width="5" height="5" fill="#00ff31"/>
<rect x="27.3" y="86.7" width="5" height="5" fill="#00ff3a"/>
<rect x="32.3" y="86.7" width="5" height="5" fill="#00ff3d"/>
<rect x="37.3" y="86.7" width="5" height="5" fill="#00ff3f"/>
<rect x="42.3" y="86.7" width="5" height="5" fill="#00ff42"/>
<rect x="47.3" y="86.7" width="5" height="5" fill="#00ff44"/>
<rect x="52.3" y="86.7" width="5" height="5" fill="#00ff46"/>
<rect x="57.3" y="86.7" width="5" height="5" fill="#00ff48"/>
<rect x="62.3" y="86.7" width="5" height="5" fill="#00ff4a"/>
<rect x="67.3" y="86.7" width="5" height="5" fill="#00ff4b"/>
<rect x="72.3" y="86.7" width="5" height="5" fill="#00ff4d"/>
<rect x="77.3" y="86.7" width="5" height="5" fill="#00ff4e"/>
<rect x="82.3" y="86.7" width="5" height="5" fill="#00ff4f"/>
<rect x="87.3" y="86.7" width="5" height="5" fill="#00ff50"/>
<rect x="92.3" y="86.7" width="5" height="5" fill="#00ff51"/>
<rect x="97.3" y="86.7" width="5" height="5" fill="#00ff51"/>
<rect x="102.3" y="86.7" width="5" height="5" fill="#00ff52"/>
<rect x="107.3" y="86.7" width="5" height="5" fill="#00ff52"/>
<rect x="112.3" y="86.7" width="5" height="5" fill="#00ff52"/>
<rect x="117.3" y="86.7" width="5" height="5" fill="#00ff52"/>
<rect x="122.3" y="86.7" width="5" height="5" fill="#00ff52"/>
<rect x="127.3" y="86.7" width="5" height="5" fill="#00ff52"/>
<rect x="132.3" y="86.7" width="5" height="5" fill="#00ff52"/>
<rect x="137.3" y="86.7" width="5" height="5" fill="#00ff51"/>
<rect x="142.3" y="86.7" width="5" height="5" fill="#00ff50"/>
<rect x="147.3" y="86.7" width="5" height="5" fill="#00ff4f"/>
<rect x="152.3" y="86.7" width="5" height="5" fill="#00ff4e"/>
<rect x="157.3" y="86.7" width="5" height="5" fill="#00ff4d"/>
<rect x="162.3" y="86.7" width="5" height="5" fill="#00ff4c"/>
<rect x="167.3" y="86.7" width="5" height="5" fill="#00ff4a"/>
<rect x="172.3" y="86.7" width="5" height="5" fill="#00ff49"/>
<rect x="177.3" y="86.7" width="5" height="5" fill="#00ff47"/>
<rect x="182.3" y="86.7" width="5" height="5" fill="#00ff45"/>
<rect x="187.3" y="86.7" width="5" height="5" fill="#00ff43"/>
<rect x="192.3" y="86.7" width="5" height="5" fill="#00ff40"/>
<rect x="197.3" y="86.7" width="5" height="5" fill="#00ff3e"/>
<rect x="202.3" y="86.7" width="5" height="5" fill="#00ff3b"/>
<rect x="207.3" y="86.7" width="5" height="5" fill="#00ff39"/>
<rect x="27.3" y="91.7" width="5" height="5" fill="#00ff30"/>
<rect x="32.3" y="91.7" width="5" height="5" fill="#00ff34"/>
<rect x="37.3" y="91.7" width="5" height="5" fill="#00ff37"/>
<rect x="42.3" y="91.7" width="5" height="5" fill="#00ff39"/>
<rect x="47.3" y="91.7" width="5" height="5" fill="#00ff3c"/>
<rect x="52.3" y="91.7" width="5" height="5" fill="#00ff3f"/>
<rect x="57.3" y="91.7" width="5" height="5" fill="#00ff41"/>
<rect x="62.3" y="91.7" width="5" height="5" fill="#00ff43"/>
<rect x="67.3" y="91.7" width="5" height="5" fill="#00ff45"/>
<rect x="72.3" y="91.7" width="5" height="5" fill="#00ff47"/>
<rect x="77.3" y="91.7" width="5" height="5" fill="#00ff49"/>
<rect x="82.3" y="91.7" width="5" height="5" fill="#00ff4b"/>
<rect x="87.3" y="91.7" width="5" height="5" fill="#00ff4c"/>
<rect x="92.3" y="91.7" width="5" height="5" fill="#00ff4e"/>
<rect x="97.3" y="91.7" width="5" height="5" fill="#00ff4f"/>
<rect x="102.3" y="91.7" width="5" height="5" fill="#00ff50"/>
<rect x="107.3" y="91.7" width="5" height="5" fill="#00ff51"/>
<rect x="112.3" y="91.7" width="5" height="5" fill="#00ff51"/>
<rect x="117.3" y="91.7" width="5" height="5" fill="#00ff52"/>
<rect x="122.3" y="91.7" width="5" height="5" fill="#00ff52"/>
<rect x="127.3" y="91.7" width="5" height="5" fill="#00ff53"/>
<rect x="132.3" y="91.7" width="5" height="5" fill="#00ff53"/>
<rect x="137.3" y="91.7" width="5" height="5" fill="#00ff53"/>
<rect x="142.3" y="91.7" width="5" height="5" fill="#00ff52"/>
<rect x="147.3" y="91.7" width="5" height="5" fill="#00ff52"/>
<rect x="152.3" y="91.7" width="5" height="5" fill="#00ff51"/>
<rect x="157.3" y="91.7" width="5" height="5" fill="#00ff51"/>
<rect x="162.3" y="91.7" width="5" height="5" fill="#00ff50"/>
<rect x="167.3" y="91.7" width="5" height="5" fill="#00ff4f"/>
<rect x="172.3" y="91.7" width="5" height="5" fill="#00ff4e"/>
<rect x="177.3" y="91.7" width="5" height="5" fill="#00ff4d"/>
<rect x="182.3" y="91.7" width="5" height="5" fill="#00ff4b"/>
<rect x="187.3" y="91.7" width="5" height="5" fill="#00ff49"/>
<rect x="192.3" y="91.7" width="5" height="5" fill="#00ff48"/>
<rect x="197.3" y="91.7" width="5" height="5" fill="#00ff46"/>
<rect x="202.3" y="91.7" width="5" height="5" fill="#00ff44"/>
<rect x="207.3" y="91.7" width="5" height="5" fill="#00ff42"/>
<rect x="27.3" y="96.7" width="5" height="5" fill="#00ff28"/>
<rect x="32.3" y="96.7" width="5" height="5" fill="#00ff2c"/>
<rect x="37.3" y="96.7" width="5" height="5" fill="#00ff2f"/>
<rect x="42.3" y="96.7" width="5" height="5" fill="#00ff32"/>
<rect x="47.3" y="96.7" width="5" height="5" fill="#00ff36"/>
<rect x="52.3" y="96.7" width="5" height="5" fill="#00ff39"/>
<rect x="57.3" y="96.7" width="5" height="5" fill="#00ff3c"/>
<rect x="62.3" y="96.7" width="5" height="5" fill="#00ff3f"/>
<rect x="67.3" y="96.7" width="5" height="5" fill="#00ff41"/>
<rect x="72.3" y="96.7" width="5" height="5" fill="#00ff44"/>
<rect x="77.3" y="96.7" width="5" height="5" fill="#00ff46"/>
<rect x="82.3" y="96.7" width="5" height="5" fill="#00ff48"/>
<rect x="87.3" y="96.7" width="5" height="5" fill="#00ff4a"/>
<rect x="92.3" y="96.7" width="5" height="5" fill="#00ff4c"/>
<rect x="97.3" y="96.7" width="5" height="5" fill="#00ff4e"/>
<rect x="102.3" y="96.7" width="5" height="5" fill="#00ff4f"/>
<rect x="107.3" y="96.7" width="5" height="5" fill="#00ff51"/>
<rect x="112.3" y="96.7" width="5" height="5" fill="#00ff52"/>
<rect x="117.3" y="96.7" width="5" height="5" fill="#00ff53"/>
<rect x="122.3" y="96.7" width="5" height="5" fill="#00ff54"/>
<rect x="127.3" y="96.7" width="5" height="5" fill="#00ff55"/>
<rect x="132.3" y="96.7" width="5" height="5" fill="#00ff55"/>
<rect x="137.3" y="96.7" width="5" height="5" fill="#00ff56"/>
<rect x="142.3" y="96.7" width="5" height="5" fill="#00ff56"/>
<rect x="147.3" y="96.7" width="5" height="5" fill="#00ff56"/>
<rect x="152.3" y="96.7" width="5" height="5" fill="#00ff56"/>
<rect x="157.3" y="96.7" width="5" height="5" fill="#00ff56"/>
<rect x="162.3" y="96.7" width="5" height="5" fill="#00ff56"/>
<rect x="167.3" y="96.7" width="5" height="5" fill="#00ff55"/>
<rect x="172.3" y="96.7" width="5" height="5" fill="#00ff55"/>
<rect x="177.3" y="96.7" width="5" height="5" fill="#00ff54"/>
<rect x="182.3" y="96.7" width="5" height="5" fill="#00ff53"/>
<rect x="187.3" y="96.7" width="5" height="5" fill="#00ff52"/>
<rect x="192.3" y="96.7" width="5" height="5" fill="#00ff51"/>
<rect x="197.3" y="96.7" width="5" height="5" fill="#00ff4f"/>
<rect x="202.3" y="96.7" width="5" height="5" fill="#00ff4e"/>
<rect x="207.3" y="96.7" width="5" height="5" fill="#00ff4c"/>
<rect x="27.3" y="101.7" width="5" height="5" fill="#00ff21"/>
<rect x="32.3" y="101.7" width="5" height="5" fill="#00ff25"/>
<rect x="37.3" y="101.7" width="5" height="5" fill="#00ff29"/>
<rect x="42.3" y="101.7" width="5" height="5" fill="#00ff2d"/>
<rect x="47.3" y="101.7" width="5" height="5" fill="#00ff31"/>
<rect x="52.3" y="101.7" width="5" height="5" fill="#00ff34"/>
<rect x="57.3" y="101.7" width="5" height="5" fill="#00ff38"/>
<rect x="62.3" y="101.7" width="5" height="5" fill="#00ff3b"/>
<rect x="67.3" y="101.7" width="5" height="5" fill="#00ff3e"/>
<rect x="72.3" y="101.7" width="5" height="5" fill="#00ff41"/>
<rect x="77.3" y="101.7" width="5" height="5" fill="#00ff44"/>
<rect x="82.3" y="101.7" width="5" height="5" fill="#00ff47"/>
<rect x="87.3" y="101.7" width="5" height="5" fill="#00ff49"/>
<rect x="92.3" y="101.7" width="5" height="5" fill="#00ff4c"/>
<rect x="97.3" y="101.7" width="5" height="5" fill="#00ff4e"/>
<rect x="102.3" y="101.7" width="5" height="5" fill="#00ff50"/>
<rect x="107.3" y="101.7" width="5" height="5" fill="#00ff52"/>
<rect x="112.3" y="101.7" width="5" height="5" fill="#00ff54"/>
<rect x="117.3" y="101.7" width="5" height="5" fill="#00ff55"/>
<rect x="122.3" y="101.7" width="5" height="5" fill="#00ff57"/>
<rect x="127.3" y="101.7" width="5" height="5" fill="#00ff58"/>
<rect x="132.3" y="101.7" width="5" height="5" fill="#00ff59"/>
<rect x="137.3" y="101.7" width="5" height="5" fill="#00ff5a"/>
<rect x="142.3" y="101.7" width="5" height="5" fill="#00ff5b"/>
<rect x="147.3" y="101.7" width="5" height="5" fill="#00ff5c"/>
<rect x="152.3" y="101.7" width="5" height="5" fill="#00ff5c"/>
<rect x="157.3" y="101.7" width="5" height="5" fill="#00ff5c"/>
<rect x="162.3" y="101.7" width="5" height="5" fill="#00ff5d"/>
<rect x="167.3" y="101.7" width="5" height="5" fill="#00ff5d"/>
<rect x="172.3" y="101.7" width="5" height="5" fill="#00ff5d"/>
<rect x="177.3" y="101.7" width="5" height="5" fill="#00ff5c"/>
<rect x="182.3" y="101.7" width="5" height="5" fill="#00ff5c"/>
<rect x="187.3" y="101.7" width="5" height="5" fill="#00ff5b"/>
<rect x="192.3" y="101.7" width="5" height="5" fill="#00ff5b"/>
<rect x="197.3" y="101.7" width="5" height="5" fill="#00ff5a"/>
<rect x="202.3" y="101.7" width="5" height="5" fill="#00ff59"/>
<rect x="207.3" y="101.7" width="5" height="5" fill="#00ff58"/>
<rect x="27.3" y="106.7" width="5" height="5" fill="#00ff1b"/>
<rect x="32.3" y="106.7" width="5" height="5" fill="#00ff20"/>
<rect x="37.3" y="106.7" width="5" height="5" fill="#00ff24"/>
<rect x="42.3" y="106.7" width="5" height="5" fill="#00ff29"/>
<rect x="47.3" y="106.7" width="5" height="5" fill="#00ff2d"/>
<rect x="52.3" y="106.7" width="5" height="5" fill="#00ff31"/>
<rect x="57.3" y="106.7" width="5" height="5" fill="#00ff35"/>
<rect x="62.3" y="106.7" width="5" height="5" fill="#00ff39"/>
<rect x="67.3" y="106.7" width="5" height="5" fill="#00ff3d"/>
<rect x="72.3" y="106.7" width="5" height="5" fill="#00ff40"/>
<rect x="77.3" y="106.7" width="5" height="5" fill="#00ff44"/>
<rect x="82.3" y="106.7" width="5" height="5" fill="#00ff47"/>
<rect x="87.3" y="106.7" width="5" height="5" fill="#00ff4a"/>
<rect x="92.3" y="106.7" width="5" height="5" fill="#00ff4d"/>
<rect x="97.3" y="106.7" width="5" height="5" fill="#00ff4f"/>
<rect x="102.3" y="106.7" width="5" height="5" fill="#00ff52"/>
<rect x="107.3" y="106.7" width="5" height="5" fill="#00ff55"/>
<rect x="112.3" y="106.7" width="5" height="5" fill="#00ff57"/>
<rect x="117.3" y="106.7" width="5" height="5" fill="#00ff59"/>
<rect x="122.3" y="106.7" width="5" height="5" fill="#00ff5b"/>
<rect x="127.3" y="106.7" width="5" height="5" fill="#00ff5d"/>
<rect x="132.3" y="106.7" width="5" height="5" fill="#00ff5e"/>
<rect x="137.3" y="106.7" width="5" height="5" fill="#00ff60"/>
<rect x="142.3" y="106.7" width="5" height="5" fill="#00ff61"/>
<rect x="147.3" y="106.7" width="5" height="5" fill="#00ff62"/>
<rect x="152.3" y="106.7" width="5" height="5" fill="#00ff63"/>
<rect x="157.3" y="106.7" width="5" height="5" fill="#00ff64"/>
<rect x="162.3" y="106.7" width="5" height="5" fill="#00ff65"/>
<rect x="167.3" y="106.7" width="5" height="5" fill="#00ff66"/>
<rect x="172.3" y="106.7" width="5" height="5" fill="#00ff66"/>
<rect x="177.3" y="106.7" width="5" height="5" fill="#00ff66"/>
<rect x="182.3" y="106.7" width="5" height="5" fill="#00ff66"/>
<rect x="187.3" y="106.7" width="5" height="5" fill="#00ff66"/>
<rect x="192.3" y="106.7" width="5" height="5" fill="#00ff66"/>
<rect x="197.3" y="106.7" width="5" height="5" fill="#00ff66"/>
<rect x="202.3" y="106.7" width="5" height="5" fill="#00ff65"/>
<rect x="207.3" y="106.7" width="5" height="5" fill="#00ff65"/>
<rect x="27.3" y="111.7" width="5" height="5" fill="#00ff17"/>
<rect x="32.3" y="111.7" width="5" height="5" fill="#00ff1c"/>
<rect x="37.3" y="111.7" width="5" height="5" fill="#00ff21"/>
<rect x="42.3" y="111.7" width="5" height="5" fill="#00ff26"/>
<rect x="47.3" y="111.7" width="5" height="5" fill="#00ff2b"/>
<rect x="52.3" y="111.7" width="5" height="5" fill="#00ff30"/>
<rect x="57.3" y="111.7" width="5" height="5" fill="#00ff34"/>
<rect x="62.3" y="111.7" width="5" height="5" fill="#00ff38"/>
<rect x="67.3" y="111.7" width="5" height="5" fill="#00ff3d"/>
<rect x="72.3" y="111.7" width="5" height="5" fill="#00ff41"/>
<rect x="77.3" y="111.7" width="5" height="5" fill="#00ff45"/>
<rect x="82.3" y="111.7" width="5" height="5" fill="#00ff48"/>
<rect x="87.3" y="111.7" width="5" height="5" fill="#00ff4c"/>
<rect x="92.3" y="111.7" width="5" height="5" fill="#00ff4f"/>
<rect x="97.3" y="111.7" width="5" height="5" fill="#00ff53"/>
<rect x="102.3" y="111.7" width="5" height="5" fill="#00ff56"/>
<rect x="107.3" y="111.7" width="5" height="5" fill="#00ff59"/>
<rect x="112.3" y="111.7" width="5" height="5" fill="#00ff5b"/>
<rect x="117.3" y="111.7" width="5" height="5" fill="#00ff5e"/>
<rect x="122.3" y="111.7" width="5" height="5" fill="#00ff61"/>
<rect x="127.3" y="111.7" width="5" height="5" fill="#00ff63"/>
<rect x="132.3" y="111.7" width="5" height="5" fill="#00ff65"/>
<rect x="137.3" y="111.7" width="5" height="5" fill="#00ff67"/>
<rect x="142.3" y="111.7" width="5" height="5" fill="#00ff69"/>
<rect x="147.3" y="111.7" width="5" height="5" fill="#00ff6b"/>
<rect x="152.3" y="111.7" width="5" height="5" fill="#00ff6c"/>
<rect x="157.3" y="111.7" width="5" height="5" fill="#00ff6e"/>
<rect x="162.3" y="111.7" width="5" height="5" fill="#00ff6f"/>
<rect x="167.3" y="111.7" width="5" height="5" fill="#00ff70"/>
<rect x="172.3" y="111.7" width="5" height="5" fill="#00ff71"/>
<rect x="177.3" y="111.7" width="5" height="5" fill="#00ff72"/>
<rect x="182.3" y="111.7" width="5" height="5" fill="#00ff72"/>
<rect x="187.3" y="111.7" width="5" height="5" fill="#00ff73"/>
<rect x="192.3" y="111.7" width="5" height="5" fill="#00ff73"/>
<rect x="197.3" y="111.7" width="5" height="5" fill="#00ff73"/>
<rect x="202.3" y="111.7" width="5" height="5" fill="#00ff73"/>
<rect x="207.3" y="111.7" width="5" height="5" fill="#00ff73"/>
<rect x="27.3" y="116.7" width="5" height="5" fill="#00ff14"/>
<rect x="32.3" y="116.7" width="5" height="5" fill="#00ff1a"/>
<rect x="37.3" y="116.7" width="5" height="5" fill="#00ff1f"/>
<rect x="42.3" y="116.7" width="5" height="5" fill="#00ff25"/>
<rect x="47.3" y="116.7" width="5" height="5" fill="#00ff2a"/>
<rect x="52.3" y="116.7" width="5" height="5" fill="#00ff2f"/>
<rect x="57.3" y="116.7" width="5" height="5" fill="#00ff34"/>
<rect x="62.3" y="116.7" width="5" height="5" fill="#00ff39"/>
<rect x="67.3" y="116.7" width="5" height="5" fill="#00ff3e"/>
<rect x="72.3" y="116.7" width="5" height="5" fill="#00ff42"/>
<rect x="77.3" y="116.7" width="5" height="5" fill="#00ff47"/>
<rect x="82.3" y="116.7" width="5" height="5" fill="#00ff4b"/>
<rect x="87.3" y="116.7" width="5" height="5" fill="#00ff4f"/>
<rect x="92.3" y="116.7" width="5" height="5" fill="#00ff53"/>
<rect x="97.3" y="116.7" width="5" height="5" fill="#00ff57"/>
<rect x="102.3" y="116.7" width="5" height="5" fill="#00ff5b"/>
<rect x="107.3" y="116.7" width="5" height="5" fill="#00ff5e"/>
<rect x="112.3" y="116.7" width="5" height="5" fill="#00ff61"/>
<rect x="117.3" y="116.7" width="5" height="5" fill="#00ff65"/>
<rect x="122.3" y="116.7" width="5" height="5" fill="#00ff68"/>
<rect x="127.3" y="116.7" width="5" height="5" fill="#00ff6a"/>
<rect x="132.3" y="116.7" width="5" height="5" fill="#00ff6d"/>
<rect x="137.3" y="116.7" width="5" height="5" fill="#00ff70"/>
<rect x="142.3" y="116.7" width="5" height="5" fill="#00ff72"/>
<rect x="147.3" y="116.7" width="5" height="5" fill="#00ff74"/>
<rect x="152.3" y="116.7" width="5" height="5" fill="#00ff76"/>
<rect x="157.3" y="116.7" width="5" height="5" fill="#00ff78"/>
<rect x="162.3" y="116.7" width="5" height="5" fill="#00ff7a"/>
<rect x="167.3" y="116.7" width="5" height="5" fill="#00ff7c"/>
<rect x="172.3" y="116.7" width="5" height="5" fill="#00ff7d"/>
<rect x="177.3" y="116.7" width="5" height="5" fill="#00ff7f"/>
<rect x="182.3" y="116.7" width="5" height="5" fill="#00ff80"/>
<rect x="187.3" y="116.7" width="5" height="5" fill="#00ff81"/>
<rect x="192.3" y="116.7" width="5" height="5" fill="#00ff82"/>
<rect x="197.3" y="116.7" width="5" height="5" fill="#00ff82"/>
<rect x="202.3" y="116.7" width="5" height="5" fill="#00ff83"/>
<rect x="207.3" y="116.7" width="5" height="5" fill="#00ff83"/>
<rect x="27.3" y="121.7" width="5" height="5" fill="#00ff12"/>
<rect x="32.3" y="121.7" width="5" height="5" fill="#00ff19"/>
<rect x="37.3" y="121.7" width="5" height="5" fill="#00ff1f"/>
<rect x="42.3" y="121.7" width="5" height="5" fill="#00ff25"/>
<rect x="47.3" y="121.7" width="5" height="5" fill="#00ff2b"/>
<rect x="52.3" y="121.7" width="5" height="5" fill="#00ff30"/>
<rect x="57.3" y="121.7" width="5" height="5" fill="#00ff36"/>
<rect x="62.3" y="121.7" width="5" height="5" fill="#00ff3b"/>
<rect x="67.3" y="121.7" width="5" height="5" fill="#00ff41"/>
<rect x="72.3" y="121.7" width="5" height="5" fill="#00ff46"/>
<rect x="77.3" y="121.7" width="5" height="5" fill="#00ff4b"/>
<rect x="82.3" y="121.7" width="5" height="5" fill="#00ff4f"/>
<rect x="87.3" y="121.7" width="5" height="5" fill="#00ff54"/>
<rect x="92.3" y="121.7" width="5" height="5" fill="#00ff58"/>
<rect x="97.3" y="121.7" width="5" height="5" fill="#00ff5d"/>
<rect x="102.3" y="121.7" width="5" height="5" fill="#00ff61"/>
<rect x="107.3" y="121.7" width="5" height="5" fill="#00ff65"/>
<rect x="112.3" y="121.7" width="5" height="5" fill="#00ff69"/>
<rect x="117.3" y="121.7" width="5" height="5" fill="#00ff6d"/>
<rect x="122.3" y="121.7" width="5" height="5" fill="#00ff70"/>
<rect x="127.3" y="121.7" width="5" height="5" fill="#00ff73"/>
<rect x="132.3" y="121.7" width="5" height="5" fill="#00ff77"/>
<rect x="137.3" y="121.7" width="5" height="5" fill="#00ff7a"/>
<rect x="142.3" y="121.7" width="5" height="5" fill="#00ff7d"/>
<rect x="147.3" y="121.7" width="5" height="5" fill="#00ff7f"/>
<rect x="152.3" y="121.7" width="5" height="5" fill="#00ff82"/>
<rect x="157.3" y="121.7" width="5" height="5" fill="#00ff85"/>
<rect x="162.3" y="121.7" width="5" height="5" fill="#00ff87"/>
<rect x="167.3" y="121.7" width="5" height="5" fill="#00ff89"/>
<rect x="172.3" y="121.7" width="5" height="5" fill="#00ff8b"/>
<rect x="177.3" y="121.7" width="5" height="5" fill="#00ff8d"/>
<rect x="182.3" y="121.7" width="5" height="5" fill="#00ff8e"/>
<rect x="187.3" y="121.7" width="5" height="5" fill="#00ff90"/>
<rect x="192.3" y="121.7" width="5" height="5" fill="#00ff91"/>
<rect x="197.3" y="121.7" width="5" height="5" fill="#00ff93"/>
<rect x="202.3" y="121.7" width="5" height="5" fill="#00ff94"/>
<rect x="207.3" y="121.7" width="5" height="5" fill="#00ff95"/>
<rect x="27.3" y="126.7" width="5" height="5" fill="#00ff12"/>
<rect x="32.3" y="126.7" width="5" height="5" fill="#00ff19"/>
<rect x="37.3" y="126.7" width="5" height="5" fill="#00ff20"/>
<rect x="42.3" y="126.7" width="5" height="5" fill="#00ff26"/>
<rect x="47.3" y="126.7" width="5" height="5" fill="#00ff2d"/>
<rect x="52.3" y="126.7" width="5" height="5" fill="#00ff33"/>
<rect x="57.3" y="126.7" width="5" height="5" fill="#00ff39"/>
<rect x="62.3" y="126.7" width="5" height="5" fill="#00ff3f"/>
<rect x="67.3" y="126.7" width="5" height="5" fill="#00ff45"/>
<rect x="72.3" y="126.7" width="5" height="5" fill="#00ff4a"/>
<rect x="77.3" y="126.7" width="5" height="5" fill="#00ff50"/>
<rect x="82.3" y="126.7" width="5" height="5" fill="#00ff55"/>
<rect x="87.3" y="126.7" width="5" height="5" fill="#00ff5a"/>
<rect x="92.3" y="126.7" width="5" height="5" fill="#00ff5f"/>
<rect x="97.3" y="126.7" width="5" height="5" fill="#00ff64"/>
<rect x="102.3" y="126.7" width="5" height="5" fill="#00ff69"/>
<rect x="107.3" y="126.7" width="5" height="5" fill="#00ff6d"/>
<rect x="112.3" y="126.7" width="5" height="5" fill="#00ff72"/>
<rect x="117.3" y="126.7" width="5" height="5" fill="#00ff76"/>
<rect x="122.3" y="126.7" width="5" height="5" fill="#00ff7a"/>
<rect x="127.3" y="126.7" width="5" height="5" fill="#00ff7e"/>
<rect x="132.3" y="126.7" width="5" height="5" fill="#00ff82"/>
<rect x="137.3" y="126.7" width="5" height="5" fill="#00ff85"/>
<rect x="142.3" y="126.7" width="5" height="5" fill="#00ff89"/>
<rect x="147.3" y="126.7" width="5" height="5" fill="#00ff8c"/>
<rect x="152.3" y="126.7" width="5" height="5" fill="#00ff8f"/>
<rect x="157.3" y="126.7" width="5" height="5" fill="#00ff92"/>
<rect x="162.3" y="126.7" width="5" height="5" fill="#00ff95"/>
<rect x="167.3" y="126.7" width="5" height="5" fill="#00ff98"/>
<rect x="172.3" y="126.7" width="5" height="5" fill="#00ff9a"/>
<rect x="177.3" y="126.7" width="5" height="5" fill="#00ff9c"/>
<rect x="182.3" y="126.7" width="5" height="5" fill="#00ff9f"/>
<rect x="187.3" y="126.7" width="5" height="5" fill="#00ffa1"/>
<rect x="192.3" y="126.7" width="5" height="5" fill="#00ffa3"/>
<rect x="197.3" y="126.7" width="5" height="5" fill="#00ffa4"/>
<rect x="202.3" y="126.7" width="5" height="5" fill="#00ffa6"/>
<rect x="207.3" y="126.7" width="5" height="5" fill="#00ffa7"/>
<rect x="27.3" y="131.7" width="5" height="5" fill="#00ff14"/>
<rect x="32.3" y="131.7" width="5" height="5" fill="#00ff1b"/>
<rect x="37.3" y="131.7" width="5" height="5" fill="#00ff22"/>
<rect x="42.3" y="131.7" width="5" height="5" fill="#00ff29"/>
<rect x="47.3" y="131.7" width="5" height="5" fill="#00ff30"/>
<rect x="52.3" y="131.7" width="5" height="5" fill="#00ff37"/>
<rect x="57.3" y="131.7" width="5" height="5" fill="#00ff3e"/>
<rect x="62.3" y="131.7" width="5" height="5" fill="#00ff44"/>
<rect x="67.3" y="131.7" width="5" height="5" fill="#00ff4a"/>
<rect x="72.3" y="131.7" width="5" height="5" fill="#00ff50"/>
<rect x="77.3" y="131.7" width="5" height="5" fill="#00ff56"/>
<rect x="82.3" y="131.7" width="5" height="5" fill="#00ff5c"/>
<rect x="87.3" y="131.7" width="5" height="5" fill="#00ff62"/>
<rect x="92.3" y="131.7" width="5" height="5" fill="#00ff67"/>
<rect x="97.3" y="131.7" width="5" height="5" fill="#00ff6d"/>
<rect x="102.3" y="131.7" width="5" height="5" fill="#00ff72"/>
<rect x="107.3" y="131.7" width="5" height="5" fill="#00ff77"/>
<rect x="112.3" y="131.7" width="5" height="5" fill="#00ff7c"/>
<rect x="117.3" y="131.7" width="5" height="5" fill="#00ff81"/>
<rect x="122.3" y="131.7" width="5" height="5" fill="#00ff85"/>
<rect x="127.3" y="131.7" width="5" height="5" fill="#00ff8a"/>
<rect x="132.3" y="131.7" width="5" height="5" fill="#00ff8e"/>
<rect x="137.3" y="131.7" width="5" height="5" fill="#00ff92"/>
<rect x="142.3" y="131.7" width="5" height="5" fill="#00ff96"/>
<rect x="147.3" y="131.7" width="5" height="5" fill="#00ff9a"/>
<rect x="152.3" y="131.7" width="5" height="5" fill="#00ff9d"/>
<rect x="157.3" y="131.7" width="5" height="5" fill="#00ffa1"/>
<rect x="162.3" y="131.7" width="5" height="5" fill="#00ffa4"/>
<rect x="167.3" y="131.7" width="5" height="5" fill="#00ffa7"/>
<rect x="172.3" y="131.7" width="5" height="5" fill="#00ffab"/>
<rect x="177.3" y="131.7" width="5" height="5" fill="#00ffad"/>
<rect x="182.3" y="131.7" width="5" height="5" fill="#00ffb0"/>
<rect x="187.3" y="131.7" width="5" height="5" fill="#00ffb3"/>
<rect x="192.3" y="131.7" width="5" height="5" fill="#00ffb5"/>
<rect x="197.3" y="131.7" width="5" height="5" fill="#00ffb7"/>
<rect x="202.3" y="131.7" width="5" height="5" fill="#00ffba"/>
<rect x="207.3" y="131.7" width="5" height="5" fill="#00ffbc"/>
<rect x="27.3" y="136.7" width="5" height="5" fill="#00ff16"/>
<rect x="32.3" y="136.7" width="5" height="5" fill="#00ff1e"/>
<rect x="37.3" y="136.7" width="5" height="5" fill="#00ff26"/>
<rect x="42.3" y="136.7" width="5" height="5" fill="#00ff2e"/>
<rect x="47.3" y="136.7" width="5" height="5" fill="#00ff35"/>
<rect x="52.3" y="136.7" width="5" height="5" fill="#00ff3c"/>
<rect x="57.3" y="136.7" width="5" height="5" fill="#00ff43"/>
<rect x="62.3" y="136.7" width="5" height="5" fill="#00ff4a"/>
<rect x="67.3" y="136.7" width="5" height="5" fill="#00ff51"/>
<rect x="72.3" y="136.7" width="5" height="5" fill="#00ff58"/>
<rect x="77.3" y="136.7" width="5" height="5" fill="#00ff5e"/>
<rect x="82.3" y="136.7" width="5" height="5" fill="#00ff65"/>
<rect x="87.3" y="136.7" width="5" height="5" fill="#00ff6b"/>
<rect x="92.3" y="136.7" width="5" height="5" fill="#00ff71"/>
<rect x="97.3" y="136.7" width="5" height="5" fill="#00ff77"/>
<rect x="102.3" y="136.7" width="5" height="5" fill="#00ff7c"/>
<rect x="107.3" y="136.7" width="5" height="5" fill="#00ff82"/>
<rect x="112.3" y="136.7" width="5" height="5" fill="#00ff87"/>
<rect x="117.3" y="136.7" width="5" height="5" fill="#00ff8d"/>
<rect x="122.3" y="136.7" width="5" height="5" fill="#00ff92"/>
<rect x="127.3" y="136.7" width="5" height="5" fill="#00ff97"/>
<rect x="132.3" y="136.7" width="5" height="5" fill="#00ff9c"/>
<rect x="137.3" y="136.7" width="5" height="5" fill="#00ffa0"/>
<rect x="142.3" y="136.7" width="5" height="5" fill="#00ffa5"/>
<rect x="147.3" y="136.7" width="5" height="5" fill="#00ffa9"/>
<rect x="152.3" y="136.7" width="5" height="5" fill="#00ffad"/>
<rect x="157.3" y="136.7" width="5" height="5" fill="#00ffb1"/>
<rect x="162.3" y="136.7" width="5" height="5" fill="#00ffb5"/>
<rect x="167.3" y="136.7" width="5" height="5" fill="#00ffb9"/>
<rect x="172.3" y="136.7" width="5" height="5" fill="#00ffbc"/>
<rect x="177.3" y="136.7" width="5" height="5" fill="#00ffc0"/>
<rect x="182.3" y="136.7" width="5" height="5" fill="#00ffc3"/>
<rect x="187.3" y="136.7" width="5" height="5" fill="#00ffc6"/>
<rect x="192.3" y="136.7" width="5" height="5" fill="#00ffc9"/>
<rect x="197.3" y="136.7" width="5" height="5" fill="#00ffcc"/>
<rect x="202.3" y="136.7" width="5" height="5" fill="#00ffcf"/>
<rect x="207.3" y="136.7" width="5" height="5" fill="#00ffd1"/>
<rect x="27.3" y="141.7" width="5" height="5" fill="#00ff1a"/>
<rect x="32.3" y="141.7" width="5" height="5" fill="#00ff23"/>
<rect x="37.3" y="141.7" width="5" height="5" fill="#00ff2b"/>
<rect x="42.3" y="141.7" width="5" height="5" fill="#00ff33"/>
<rect x="47.3" y="141.7" width="5" height="5" fill="#00ff3b"/>
<rect x="52.3" y="141.7" width="5" height="5" fill="#00ff43"/>
<rect x="57.3" y="141.7" width="5" height="5" fill="#00ff4b"/>
<rect x="62.3" y="141.7" width="5" height="5" fill="#00ff52"/>
<rect x="67.3" y="141.7" width="5" height="5" fill="#00ff59"/>
<rect x="72.3" y="141.7" width="5" height="5" fill="#00ff61"/>
<rect x="77.3" y="141.7" width="5" height="5" fill="#00ff68"/>
<rect x="82.3" y="141.7" width="5" height="5" fill="#00ff6e"/>
<rect x="87.3" y="141.7" width="5" height="5" fill="#00ff75"/>
<rect x="92.3" y="141.7" width="5" height="5" fill="#00ff7c"/>
<rect x="97.3" y="141.7" width="5" height="5" fill="#00ff82"/>
<rect x="102.3" y="141.7" width="5" height="5" fill="#00ff88"/>
<rect x="107.3" y="141.7" width="5" height="5" fill="#00ff8e"/>
<rect x="112.3" y="141.7" width="5" height="5" fill="#00ff94"/>
<rect x="117.3" y="141.7" width="5" height="5" fill="#00ff9a"/>
<rect x="122.3" y="141.7" width="5" height="5" fill="#00ffa0"/>
<rect x="127.3" y="141.7" width="5" height="5" fill="#00ffa5"/>
<rect x="132.3" y="141.7" width="5" height="5" fill="#00ffab"/>
<rect x="137.3" y="141.7" width="5" height="5" fill="#00ffb0"/>
<rect x="142.3" y="141.7" width="5" height="5" fill="#00ffb5"/>
<rect x="147.3" y="141.7" width="5" height="5" fill="#00ffba"/>
<rect x="152.3" y="141.7" width="5" height="5" fill="#00ffbe"/>
<rect x="157.3" y="141.7" width="5" height="5" fill="#00ffc3"/>
<rect x="162.3" y="141.7" width="5" height="5" fill="#00ffc7"/>
<rect x="167.3" y="141.7" width="5" height="5" fill="#00ffcc"/>
<rect x="172.3" y="141.7" width="5" height="5" fill="#00ffd0"/>
<rect x="177.3" y="141.7" width="5" height="5" fill="#00ffd4"/>
<rect x="182.3" y="141.7" width="5" height="5" fill="#00ffd7"/>
<rect x="187.3" y="141.7" width="5" height="5" fill="#00ffdb"/>
<rect x="192.3" y="141.7" width="5" height="5" fill="#00ffdf"/>
<rect x="197.3" y="141.7" width="5" height="5" fill="#00ffe2"/>
<rect x="202.3" y="141.7" width="5" height="5" fill="#00ffe5"/>
<rect x="207.3" y="141.7" width="5" height="5" fill="#00ffe8"/>
<rect x="27.3" y="146.7" width="5" height="5" fill="#00ff20"/>
<rect x="32.3" y="146.7" width="5" height="5" fill="#00ff29"/>
<rect x="37.3" y="146.7" width="5" height="5" fill="#00ff32"/>
<rect x="42.3" y="146.7" width="5" height="5" fill="#00ff3a"/>
<rect x="47.3" y="146.7" width="5" height="5" fill="#00ff43"/>
<rect x="52.3" y="146.7" width="5" height="5" fill="#00ff4b"/>
<rect x="57.3" y="146.7" width="5" height="5" fill="#00ff53"/>
<rect x="62.3" y="146.7" width="5" height="5" fill="#00ff5b"/>
<rect x="67.3" y="146.7" width="5" height="5" fill="#00ff63"/>
<rect x="72.3" y="146.7" width="5" height="5" fill="#00ff6b"/>
<rect x="77.3" y="146.7" width="5" height="5" fill="#00ff72"/>
<rect x="82.3" y="146.7" width="5" height="5" fill="#00ff7a"/>
<rect x="87.3" y="146.7" width="5" height="5" fill="#00ff81"/>
<rect x="92.3" y="146.7" width="5" height="5" fill="#00ff88"/>
<rect x="97.3" y="146.7" width="5" height="5" fill="#00ff8f"/>
<rect x="102.3" y="146.7" width="5" height="5" fill="#00ff96"/>
<rect x="107.3" y="146.7" width="5" height="5" fill="#00ff9c"/>
<rect x="112.3" y="146.7" width="5" height="5" fill="#00ffa3"/>
<rect x="117.3" y="146.7" width="5" height="5" fill="#00ffa9"/>
<rect x="122.3" y="146.7" width="5" height="5" fill="#00ffaf"/>
<rect x="127.3" y="146.7" width="5" height="5" fill="#00ffb5"/>
<rect x="132.3" y="146.7" width="5" height="5" fill="#00ffbb"/>
<rect x="137.3" y="146.7" width="5" height="5" fill="#00ffc1"/>
<rect x="142.3" y="146.7" width="5" height="5" fill="#00ffc6"/>
<rect x="147.3" y="146.7" width="5" height="5" fill="#00ffcc"/>
<rect x="152.3" y="146.7" width="5" height="5" fill="#00ffd1"/>
<rect x="157.3" y="146.7" width="5" height="5" fill="#00ffd6"/>
<rect x="162.3" y="146.7" width="5" height="5" fill="#00ffdb"/>
<rect x="167.3" y="146.7" width="5" height="5" fill="#00ffe0"/>
<rect x="172.3" y="146.7" width="5" height="5" fill="#00ffe4"/>
<rect x="177.3" y="146.7" width="5" height="5" fill="#00ffe9"/>
<rect x="182.3" y="146.7" width="5" height="5" fill="#00ffed"/>
<rect x="187.3" y="146.7" width="5" height="5" fill="#00fff1"/>
<rect x="192.3" y="146.7" width="5" height="5" fill="#00fff5"/>
<rect x="197.3" y="146.7" width="5" height="5" fill="#00fff9"/>
<rect x="202.3" y="146.7" width="5" height="5" fill="#00fffd"/>
<rect x="207.3" y="146.7" width="5" height="5" fill="#00feff"/>
<rect x="27.3" y="151.7" width="5" height="5" fill="#00ff27"/>
<rect x="32.3" y="151.7" width="5" height="5" fill="#00ff30"/>
<rect x="37.3" y="151.7" width="5" height="5" fill="#00ff3a"/>
<rect x="42.3" y="151.7" width="5" height="5" fill="#00ff43"/>
<rect x="47.3" y="151.7" width="5" height="5" fill="#00ff4c"/>
<rect x="52.3" y="151.7" width="5" height="5" fill="#00ff55"/>
<rect x="57.3" y="151.7" width="5" height="5" fill="#00ff5d"/>
<rect x="62.3" y="151.7" width="5" height="5" fill="#00ff66"/>
<rect x="67.3" y="151.7" width="5" height="5" fill="#00ff6e"/>
<rect x="72.3" y="151.7" width="5" height="5" fill="#00ff76"/>
<rect x="77.3" y="151.7" width="5" height="5" fill="#00ff7e"/>
<rect x="82.3" y="151.7" width="5" height="5" fill="#00ff86"/>
<rect x="87.3" y="151.7" width="5" height="5" fill="#00ff8e"/>
<rect x="92.3" y="151.7" width="5" height="5" fill="#00ff96"/>
<rect x="97.3" y="151.7" width="5" height="5" fill="#00ff9d"/>
<rect x="102.3" y="151.7" width="5" height="5" fill="#00ffa4"/>
<rect x="107.3" y="151.7" width="5" height="5" fill="#00ffac"/>
<rect x="112.3" y="151.7" width="5" height="5" fill="#00ffb3"/>
<rect x="117.3" y="151.7" width="5" height="5" fill="#00ffb9"/>
<rect x="122.3" y="151.7" width="5" height="5" fill="#00ffc0"/>
<rect x="127.3" y="151.7" width="5" height="5" fill="#00ffc7"/>
<rect x="132.3" y="151.7" width="5" height="5" fill="#00ffcd"/>
<rect x="137.3" y="151.7" width="5" height="5" fill="#00ffd3"/>
<rect x="142.3" y="151.7" width="5" height="5" fill="#00ffd9"/>
<rect x="147.3" y="151.7" width="5" height="5" fill="#00ffdf"/>
<rect x="152.3" y="151.7" width="5" height="5" fill="#00ffe5"/>
<rect x="157.3" y="151.7" width="5" height="5" fill="#00ffeb"/>
<rect x="162.3" y="151.7" width="5" height="5" fill="#00fff0"/>
<rect x="167.3" y="151.7" width="5" height="5" fill="#00fff5"/>
<rect x="172.3" y="151.7" width="5" height="5" fill="#00fffa"/>
<rect x="177.3" y="151.7" width="5" height="5" fill="#00ffff"/>
<rect x="182.3" y="151.7" width="5" height="5" fill="#00faff"/>
<rect x="187.3" y="151.7" width="5" height="5" fill="#00f5ff"/>
<rect x="192.3" y="151.7" width="5" height="5" fill="#00f1ff"/>
<rect x="197.3" y="151.7" width="5" height="5" fill="#00ecff"/>
<rect x="202.3" y="151.7" width="5" height="5" fill="#00e8ff"/>
<rect x="207.3" y="151.7" width="5" height="5" fill="#00e4ff"/>
<rect x="27.3" y="156.7" width="5" height="5" fill="#00ff2f"/>
<rect x="32.3" y="156.7" width="5" height="5" fill="#00ff39"/>
<rect x="37.3" y="156.7" width="5" height="5" fill="#00ff43"/>
<rect x="42.3" y="156.7" width="5" height="5" fill="#00ff4d"/>
<rect x="47.3" y="156.7" width="5" height="5" fill="#00ff56"/>
<rect x="52.3" y="156.7" width="5" height="5" fill="#00ff60"/>
<rect x="57.3" y="156.7" width="5" height="5" fill="#00ff69"/>
<rect x="62.3" y="156.7" width="5" height="5" fill="#00ff72"/>
<rect x="67.3" y="156.7" width="5" height="5" fill="#00ff7b"/>
<rect x="72.3" y="156.7" width="5" height="5" fill="#00ff83"/>
<rect x="77.3" y="156.7" width="5" height="5" fill="#00ff8c"/>
<rect x="82.3" y="156.7" width="5" height="5" fill="#00ff94"/>
<rect x="87.3" y="156.7" width="5" height="5" fill="#00ff9d"/>
<rect x="92.3" y="156.7" width="5" height="5" fill="#00ffa5"/>
<rect x="97.3" y="156.7" width="5" height="5" fill="#00ffad"/>
<rect x="102.3" y="156.7" width="5" height="5" fill="#00ffb5"/>
<rect x="107.3" y="156.7" width="5" height="5" fill="#00ffbc"/>
<rect x="112.3" y="156.7" width="5" height="5" fill="#00ffc4"/>
<rect x="117.3" y="156.7" width="5" height="5" fill="#00ffcb"/>
<rect x="122.3" y="156.7" width="5" height="5" fill="#00ffd2"/>
<rect x="127.3" y="156.7" width="5" height="5" fill="#00ffd9"/>
<rect x="132.3" y="156.7" width="5" height="5" fill="#00ffe0"/>
<rect x="137.3" y="156.7" width="5" height="5" fill="#00ffe7"/>
<rect x="142.3" y="156.7" width="5" height="5" fill="#00ffee"/>
<rect x="147.3" y="156.7" width="5" height="5" fill="#00fff4"/>
<rect x="152.3" y="156.7" width="5" height="5" fill="#00fffa"/>
<rect x="157.3" y="156.7" width="5" height="5" fill="#00feff"/>
<rect x="162.3" y="156.7" width="5" height="5" fill="#00f8ff"/>
<rect x="167.3" y="156.7" width="5" height="5" fill="#00f2ff"/>
<rect x="172.3" y="156.7" width="5" height="5" fill="#00ecff"/>
<rect x="177.3" y="156.7" width="5" height="5" fill="#00e7ff"/>
<rect x="182.3" y="156.7" width="5" height="5" fill="#00e1ff"/>
<rect x="187.3" y="156.7" width="5" height="5" fill="#00dcff"/>
<rect x="192.3" y="156.7" width="5" height="5" fill="#00d7ff"/>
<rect x="197.3" y="156.7" width="5" height="5" fill="#00d2ff"/>
<rect x="202.3" y="156.7" width="5" height="5" fill="#00cdff"/>
<rect x="207.3" y="156.7" width="5" height="5" fill="#00c9ff"/>
</g>
<polyline class="cl" points="86.7,11.7 86.3,11.8 85.2,12.1 84.1,12.4 83.5,12.6 83.1,12.7 82.0,13.0 81.0,13.2 80.1,13.4 79.9,13.5 78.9,13.8 77.8,14.0 76.7,14.3 76.6,14.3 75.7,14.5 74.6,14.8 73.6,15.1 73.0,15.2 72.5,15.3 71.5,15.6 70.4,15.8 69.3,16.0 69.2,16.1 68.3,16.3 67.2,16.5 66.2,16.8 65.3,16.9 65.1,17.0 64.0,17.2 63.0,17.5 61.9,17.7 61.3,17.8 60.9,17.9 59.8,18.1 58.8,18.3 57.7,18.6 57.0,18.7 56.6,18.8 55.6,19.0 54.5,19.2 53.5,19.4 52.5,19.6 52.4,19.6 51.3,19.8 50.3,20.0 49.2,20.2 48.2,20.4 47.8,20.4 47.1,20.6 46.1,20.7 45.0,20.9 43.9,21.1 42.9,21.3 42.8,21.3 41.8,21.5 40.8,21.7 39.7,21.8 38.6,22.0 37.6,22.2 37.5,22.2 36.5,22.3 35.5,22.5 34.4,22.7 33.4,22.8 32.3,23.0"/>
<polyline class="cl" points="131.6,151.5 131.8,151.4 132.8,151.1 133.9,150.7 134.1,150.6 134.9,150.3 136.0,150.0 136.7,149.8 137.1,149.6 138.1,149.3 139.2,149.0 139.4,148.9 140.2,148.6 141.3,148.3 142.2,148.0 142.3,148.0 143.4,147.6 144.5,147.3 145.1,147.1 145.5,147.0 146.6,146.7 147.6,146.4 148.1,146.3 148.7,146.1 149.8,145.8 150.8,145.5 151.3,145.4 151.9,145.2 152.9,144.9 154.0,144.7 154.5,144.5 155.0,144.4 156.1,144.1 157.2,143.8 158.0,143.6 158.2,143.6 159.3,143.3 160.3,143.1 161.4,142.8 161.6,142.8 162.4,142.6 163.5,142.3 164.6,142.1 165.4,141.9 165.6,141.8 166.7,141.6 167.7,141.4 168.8,141.2 169.5,141.0 169.9,140.9 170.9,140.7 172.0,140.5 173.0,140.3 173.9,140.1 174.1,140.1 175.1,139.9 176.2,139.7 177.3,139.5 178.3,139.3 178.6,139.3 179.4,139.1 180.4,138.9 181.5,138.8 182.6,138.6 183.6,138.4 183.7,138.4 184.7,138.2 185.7,138.1 186.8,137.9 187.8,137.7 188.9,137.6 189.4,137.5 190.0,137.4 191.0,137.3 192.1,137.1 193.1,137.0 194.2,136.8 195.3,136.7 195.7,136.6 196.3,136.6 197.4,136.4 198.4,136.3 199.5,136.2 200.5,136.1 201.6,135.9"/>
<polyline class="cl" points="163.4,11.7 162.4,12.2 161.7,12.6 161.4,12.7 160.3,13.3 160.0,13.4 159.3,13.8 158.3,14.3 158.2,14.3 157.2,14.9 156.5,15.2 156.1,15.4 155.0,15.9 154.7,16.1 154.0,16.4 152.9,16.9 152.9,16.9 151.9,17.5 151.1,17.8 150.8,18.0 149.8,18.5 149.3,18.7 148.7,19.0 147.6,19.4 147.4,19.6 146.6,19.9 145.5,20.4 145.5,20.4 144.5,20.9 143.5,21.3 143.4,21.4 142.3,21.8 141.5,22.2 141.3,22.3 140.2,22.8 139.5,23.1 139.2,23.2 138.1,23.7 137.5,23.9 137.1,24.1 136.0,24.6 135.4,24.8 134.9,25.0 133.9,25.4 133.3,25.7 132.8,25.9 131.8,26.3 131.1,26.6 130.7,26.7 129.6,27.1 128.9,27.4 128.6,27.5 127.5,27.9 126.6,28.3 126.5,28.4 125.4,28.8 124.4,29.1 124.3,29.2 123.3,29.5 122.2,29.9 121.9,30.0 121.2,30.3 120.1,30.7 119.4,30.9 119.1,31.0 118.0,31.4 117.0,31.8 116.9,31.8 115.9,32.1 114.8,32.5 114.3,32.7 113.8,32.8 112.7,33.2 111.7,33.5 111.6,33.5 110.6,33.9 109.5,34.2 108.8,34.4 108.5,34.5 107.4,34.8 106.4,35.2 105.9,35.3 105.3,35.5 104.3,35.8 103.2,36.1 102.9,36.2 102.1,36.4 101.1,36.7 100.0,37.0 99.8,37.0 99.0,37.3 97.9,37.6 96.8,37.8 96.6,37.9 95.8,38.1 94.7,38.4 93.7,38.7 93.1,38.8 92.6,38.9 91.6,39.2 90.5,39.4 89.5,39.7 89.4,39.7 88.4,39.9 87.3,40.2 86.3,40.4 85.7,40.5 85.2,40.7 84.1,40.9 83.1,41.1 82.0,41.3 81.7,41.4 81.0,41.6 79.9,41.8 78.9,42.0 77.8,42.2 77.4,42.3 76.7,42.4 75.7,42.6 74.6,42.8 73.6,43.0 72.7,43.2 72.5,43.2 71.5,43.4 70.4,43.6 69.3,43.7 68.3,43.9 67.6,44.0 67.2,44.1 66.2,44.3 65.1,44.4 64.0,44.6 63.0,44.8 62.1,44.9 61.9,44.9 60.9,45.1 59.8,45.2 58.8,45.4 57.7,45.5 56.6,45.7 55.8,45.8 55.6,45.8 54.5,45.9 53.5,46.1 52.4,46.2 51.3,46.3 50.3,46.5 49.2,46.6 48.6,46.7 48.2,46.7 47.1,46.8 46.1,46.9 45.0,47.0 43.9,47.1 42.9,47.3 41.8,47.4 40.8,47.5 40.0,47.5 39.7,47.6 38.6,47.7 37.6,47.7 36.5,47.8 35.5,47.9 34.4,48.0 33.4,48.1 32.3,48.2"/>
<polyline class="cl" points="45.8,151.5 46.1,151.2 46.6,150.6 47.1,150.1 47.5,149.8 48.2,149.0 48.3,148.9 49.2,148.0 49.2,147.9 50.0,147.1 50.3,146.8 50.8,146.3 51.3,145.7 51.6,145.4 52.4,144.5 52.4,144.5 53.2,143.6 53.5,143.4 54.0,142.8 54.5,142.2 54.8,141.9 55.6,141.1 55.6,141.0 56.4,140.1 56.6,139.9 57.2,139.3 57.7,138.7 58.0,138.4 58.7,137.5 58.8,137.5 59.5,136.6 59.8,136.2 60.2,135.8 60.9,135.0 60.9,134.9 61.7,134.0 61.9,133.7 62.4,133.2 63.0,132.4 63.1,132.3 63.8,131.4 64.0,131.1 64.5,130.5 65.1,129.7 65.1,129.7 65.8,128.8 66.2,128.3 66.4,127.9 67.0,127.0 67.2,126.8 67.6,126.2 68.2,125.3 68.3,125.2 68.8,124.4 69.3,123.6 69.4,123.5 69.9,122.7 70.4,121.8 70.4,121.8 70.9,120.9 71.3,120.0 71.5,119.8 71.8,119.2 72.2,118.3 72.5,117.5 72.6,117.4 72.9,116.6 73.2,115.7 73.5,114.8 73.6,114.5 73.7,113.9 73.9,113.1 74.0,112.2 74.1,111.3 74.1,110.4 74.1,109.6 74.0,108.7 73.8,107.8 73.6,106.9 73.6,106.8 73.3,106.1 72.9,105.2 72.5,104.5 72.4,104.3 71.8,103.4 71.5,103.0 71.1,102.6 70.4,101.9 70.2,101.7 69.3,100.9 69.3,100.8 68.3,100.0 68.2,99.9 67.2,99.3 66.9,99.1 66.2,98.6 65.6,98.2 65.1,97.9 64.0,97.3 64.0,97.3 63.0,96.8 62.3,96.5 61.9,96.3 60.9,95.8 60.4,95.6 59.8,95.3 58.8,94.9 58.3,94.7 57.7,94.5 56.6,94.1 56.0,93.8 55.6,93.7 54.5,93.3 53.5,93.0 53.5,92.9 52.4,92.6 51.3,92.2 50.9,92.1 50.3,91.9 49.2,91.6 48.2,91.3 48.0,91.2 47.1,91.0 46.1,90.7 45.0,90.4 44.9,90.3 43.9,90.1 42.9,89.8 41.8,89.5 41.6,89.5 40.8,89.2 39.7,89.0 38.6,88.7 38.1,88.6 37.6,88.5 36.5,88.2 35.5,88.0 34.5,87.7 34.4,87.7 33.4,87.5 32.3,87.2"/>
<polyline class="cl" points="201.6,34.4 200.8,35.3 200.5,35.6 200.0,36.2 199.5,36.7 199.1,37.0 198.4,37.8 198.3,37.9 197.5,38.8 197.4,38.9 196.7,39.7 196.3,40.1 195.9,40.5 195.3,41.3 195.1,41.4 194.3,42.3 194.2,42.5 193.6,43.2 193.1,43.6 192.8,44.0 192.1,44.9 192.0,44.9 191.3,45.8 191.0,46.1 190.5,46.7 190.0,47.3 189.8,47.5 189.1,48.4 188.9,48.6 188.4,49.3 187.8,49.9 187.7,50.1 187.0,51.0 186.8,51.3 186.3,51.9 185.7,52.6 185.6,52.8 185.0,53.6 184.7,54.0 184.3,54.5 183.7,55.4 183.6,55.5 183.1,56.3 182.6,57.1 182.5,57.1 181.9,58.0 181.5,58.7 181.4,58.9 180.8,59.8 180.4,60.4 180.3,60.6 179.8,61.5 179.4,62.4 179.4,62.4 178.9,63.3 178.5,64.1 178.3,64.6 178.1,65.0 177.8,65.9 177.5,66.7 177.3,67.5 177.2,67.6 177.0,68.5 176.8,69.4 176.6,70.2 176.6,71.1 176.5,72.0 176.5,72.9 176.6,73.7 176.8,74.6 177.0,75.5 177.3,76.2 177.3,76.4 177.7,77.2 178.2,78.1 178.3,78.3 178.8,79.0 179.4,79.7 179.5,79.9 180.3,80.7 180.4,80.8 181.3,81.6 181.5,81.8 182.3,82.5 182.6,82.6 183.5,83.3 183.6,83.4 184.7,84.1 184.9,84.2 185.7,84.7 186.4,85.1 186.8,85.3 187.8,85.8 188.1,86.0 188.9,86.3 190.0,86.8 190.0,86.8 191.0,87.3 192.1,87.7 192.1,87.7 193.1,88.1 194.2,88.5 194.3,88.6 195.3,88.9 196.3,89.3 196.8,89.5 197.4,89.7 198.4,90.0 199.4,90.3 199.5,90.4 200.5,90.7 201.6,91.0"/>
</g>
<rect class="fr" x="32.3" y="11.7" width="169.3" height="139.8"/>
<line class="tk" x1="32.3" y1="151.5" x2="32.3" y2="155.0"/>
<text class="tl" x="32.3" y="159.7" text-anchor="middle">4</text>
<line class="tk" x1="74.6" y1="151.5" x2="74.6" y2="155.0"/>
<text class="tl" x="74.6" y="159.7" text-anchor="middle">5</text>
<line class="tk" x1="117.0" y1="151.5" x2="117.0" y2="155.0"/>
<text class="tl" x="117.0" y="159.7" text-anchor="middle">6</text>
<line class="tk" x1="159.3" y1="151.5" x2="159.3" y2="155.0"/>
<text class="tl" x="159.3" y="159.7" text-anchor="middle">7</text>
<line class="tk" x1="201.6" y1="151.5" x2="201.6" y2="155.0"/>
<text class="tl" x="201.6" y="159.7" text-anchor="middle">8</text>
<line class="tk" x1="28.5" y1="151.5" x2="32.3" y2="151.5"/>
<text class="tl" x="26.8" y="150.9" text-anchor="end">25</text>
<line class="tk" x1="28.5" y1="123.5" x2="32.3" y2="123.5"/>
<text class="tl" x="26.8" y="122.9" text-anchor="end">30</text>
<line class="tk" x1="28.5" y1="95.6" x2="32.3" y2="95.6"/>
<text class="tl" x="26.8" y="95.0" text-anchor="end">35</text>
<line class="tk" x1="28.5" y1="67.6" x2="32.3" y2="67.6"/>
<text class="tl" x="26.8" y="67.0" text-anchor="end">40</text>
<line class="tk" x1="28.5" y1="39.7" x2="32.3" y2="39.7"/>
<text class="tl" x="26.8" y="39.1" text-anchor="end">45</text>
<line class="tk" x1="28.5" y1="11.7" x2="32.3" y2="11.7"/>
<text class="tl" x="26.8" y="11.1" text-anchor="end">50</text>
<rect class="lb" x="58.5" y="14.0" width="7" height="4.6"/>
<text class="lt" x="62.0" y="17.7" text-anchor="middle">50</text>
<rect class="lb" x="102.8" y="31.4" width="7" height="4.6"/>
<text class="lt" x="106.3" y="35.1" text-anchor="middle">55</text>
<rect class="lb" x="173.4" y="61.6" width="7" height="4.6"/>
<text class="lt" x="176.9" y="65.3" text-anchor="middle">60</text>
<rect class="lb" x="161.8" y="137.8" width="7" height="4.6"/>
<text class="lt" x="165.3" y="141.5" text-anchor="middle">55</text>
<rect class="lb" x="72.4" y="106.9" width="7" height="4.6"/>
<text class="lt" x="75.9" y="110.6" text-anchor="middle">60</text>
<circle cx="117.0" cy="81.6" r="1.6" fill="#700" stroke="#111" stroke-width="0.9"/>
<text class="lt" x="112.5" y="82.9" text-anchor="middle" fill="#333">6</text>
<text class="tt" x="116.5" y="9.2" text-anchor="middle">R2</text>
<text class="ax" transform="translate(124.4,172.9) scale(0.95,1)" text-anchor="middle">A: Total Lipid (%w/v)</text>
<text class="ax" transform="translate(9.3,96.5) rotate(90) scale(0.95,1)" text-anchor="middle">B: Liquid lipid to Total Lipid (%w/v)</text>
<clipPath id="cp1"><rect x="245.0" y="10.3" width="163.1" height="142.0"/></clipPath>
<g clip-path="url(#cp1)"><g class="cg" filter="url(#bl)">
<rect x="240" y="5.3" width="5" height="5" fill="#ffde00"/>
<rect x="245" y="5.3" width="5" height="5" fill="#ffea00"/>
<rect x="250" y="5.3" width="5" height="5" fill="#fff600"/>
<rect x="255" y="5.3" width="5" height="5" fill="#fcff00"/>
<rect x="260" y="5.3" width="5" height="5" fill="#f0ff00"/>
<rect x="265" y="5.3" width="5" height="5" fill="#e5ff00"/>
<rect x="270" y="5.3" width="5" height="5" fill="#d9ff00"/>
<rect x="275" y="5.3" width="5" height="5" fill="#ceff00"/>
<rect x="280" y="5.3" width="5" height="5" fill="#c3ff00"/>
<rect x="285" y="5.3" width="5" height="5" fill="#b8ff00"/>
<rect x="290" y="5.3" width="5" height="5" fill="#aeff00"/>
<rect x="295" y="5.3" width="5" height="5" fill="#a3ff00"/>
<rect x="300" y="5.3" width="5" height="5" fill="#99ff00"/>
<rect x="305" y="5.3" width="5" height="5" fill="#8fff00"/>
<rect x="310" y="5.3" width="5" height="5" fill="#84ff00"/>
<rect x="315" y="5.3" width="5" height="5" fill="#7bff00"/>
<rect x="320" y="5.3" width="5" height="5" fill="#71ff00"/>
<rect x="325" y="5.3" width="5" height="5" fill="#67ff00"/>
<rect x="330" y="5.3" width="5" height="5" fill="#5eff00"/>
<rect x="335" y="5.3" width="5" height="5" fill="#55ff00"/>
<rect x="340" y="5.3" width="5" height="5" fill="#4cff00"/>
<rect x="345" y="5.3" width="5" height="5" fill="#43ff00"/>
<rect x="350" y="5.3" width="5" height="5" fill="#3aff00"/>
<rect x="355" y="5.3" width="5" height="5" fill="#32ff00"/>
<rect x="360" y="5.3" width="5" height="5" fill="#29ff00"/>
<rect x="365" y="5.3" width="5" height="5" fill="#21ff00"/>
<rect x="370" y="5.3" width="5" height="5" fill="#19ff00"/>
<rect x="375" y="5.3" width="5" height="5" fill="#11ff00"/>
<rect x="380" y="5.3" width="5" height="5" fill="#09ff00"/>
<rect x="385" y="5.3" width="5" height="5" fill="#02ff00"/>
<rect x="390" y="5.3" width="5" height="5" fill="#00ff06"/>
<rect x="395" y="5.3" width="5" height="5" fill="#00ff0d"/>
<rect x="400" y="5.3" width="5" height="5" fill="#00ff14"/>
<rect x="405" y="5.3" width="5" height="5" fill="#00ff1b"/>
<rect x="410" y="5.3" width="5" height="5" fill="#00ff22"/>
<rect x="415" y="5.3" width="5" height="5" fill="#00ff28"/>
<rect x="240" y="10.3" width="5" height="5" fill="#fffb00"/>
<rect x="245" y="10.3" width="5" height="5" fill="#f7ff00"/>
<rect x="250" y="10.3" width="5" height="5" fill="#ecff00"/>
<rect x="255" y="10.3" width="5" height="5" fill="#e1ff00"/>
<rect x="260" y="10.3" width="5" height="5" fill="#d6ff00"/>
<rect x="265" y="10.3" width="5" height="5" fill="#cbff00"/>
<rect x="270" y="10.3" width="5" height="5" fill="#c0ff00"/>
<rect x="275" y="10.3" width="5" height="5" fill="#b6ff00"/>
<rect x="280" y="10.3" width="5" height="5" fill="#abff00"/>
<rect x="285" y="10.3" width="5" height="5" fill="#a1ff00"/>
<rect x="290" y="10.3" width="5" height="5" fill="#97ff00"/>
<rect x="295" y="10.3" width="5" height="5" fill="#8dff00"/>
<rect x="300" y="10.3" width="5" height="5" fill="#83ff00"/>
<rect x="305" y="10.3" width="5" height="5" fill="#7aff00"/>
<rect x="310" y="10.3" width="5" height="5" fill="#71ff00"/>
<rect x="315" y="10.3" width="5" height="5" fill="#67ff00"/>
<rect x="320" y="10.3" width="5" height="5" fill="#5eff00"/>
<rect x="325" y="10.3" width="5" height="5" fill="#56ff00"/>
<rect x="330" y="10.3" width="5" height="5" fill="#4dff00"/>
<rect x="335" y="10.3" width="5" height="5" fill="#44ff00"/>
<rect x="340" y="10.3" width="5" height="5" fill="#3cff00"/>
<rect x="345" y="10.3" width="5" height="5" fill="#34ff00"/>
<rect x="350" y="10.3" width="5" height="5" fill="#2cff00"/>
<rect x="355" y="10.3" width="5" height="5" fill="#24ff00"/>
<rect x="360" y="10.3" width="5" height="5" fill="#1cff00"/>
<rect x="365" y="10.3" width="5" height="5" fill="#15ff00"/>
<rect x="370" y="10.3" width="5" height="5" fill="#0dff00"/>
<rect x="375" y="10.3" width="5" height="5" fill="#06ff00"/>
<rect x="380" y="10.3" width="5" height="5" fill="#00ff01"/>
<rect x="385" y="10.3" width="5" height="5" fill="#00ff08"/>
<rect x="390" y="10.3" width="5" height="5" fill="#00ff0e"/>
<rect x="395" y="10.3" width="5" height="5" fill="#00ff15"/>
<rect x="400" y="10.3" width="5" height="5" fill="#00ff1b"/>
<rect x="405" y="10.3" width="5" height="5" fill="#00ff21"/>
<rect x="410" y="10.3" width="5" height="5" fill="#00ff27"/>
<rect x="415" y="10.3" width="5" height="5" fill="#00ff2d"/>
<rect x="240" y="15.3" width="5" height="5" fill="#e6ff00"/>
<rect x="245" y="15.3" width="5" height="5" fill="#dbff00"/>
<rect x="250" y="15.3" width="5" height="5" fill="#d0ff00"/>
<rect x="255" y="15.3" width="5" height="5" fill="#c6ff00"/>
<rect x="260" y="15.3" width="5" height="5" fill="#bbff00"/>
<rect x="265" y="15.3" width="5" height="5" fill="#b1ff00"/>
<rect x="270" y="15.3" width="5" height="5" fill="#a7ff00"/>
<rect x="275" y="15.3" width="5" height="5" fill="#9eff00"/>
<rect x="280" y="15.3" width="5" height="5" fill="#94ff00"/>
<rect x="285" y="15.3" width="5" height="5" fill="#8aff00"/>
<rect x="290" y="15.3" width="5" height="5" fill="#81ff00"/>
<rect x="295" y="15.3" width="5" height="5" fill="#78ff00"/>
<rect x="300" y="15.3" width="5" height="5" fill="#6fff00"/>
<rect x="305" y="15.3" width="5" height="5" fill="#66ff00"/>
<rect x="310" y="15.3" width="5" height="5" fill="#5eff00"/>
<rect x="315" y="15.3" width="5" height="5" fill="#55ff00"/>
<rect x="320" y="15.3" width="5" height="5" fill="#4dff00"/>
<rect x="325" y="15.3" width="5" height="5" fill="#45ff00"/>
<rect x="330" y="15.3" width="5" height="5" fill="#3dff00"/>
<rect x="335" y="15.3" width="5" height="5" fill="#35ff00"/>
<rect x="340" y="15.3" width="5" height="5" fill="#2dff00"/>
<rect x="345" y="15.3" width="5" height="5" fill="#26ff00"/>
<rect x="350" y="15.3" width="5" height="5" fill="#1eff00"/>
<rect x="355" y="15.3" width="5" height="5" fill="#17ff00"/>
<rect x="360" y="15.3" width="5" height="5" fill="#10ff00"/>
<rect x="365" y="15.3" width="5" height="5" fill="#09ff00"/>
<rect x="370" y="15.3" width="5" height="5" fill="#03ff00"/>
<rect x="375" y="15.3" width="5" height="5" fill="#00ff04"/>
<rect x="380" y="15.3" width="5" height="5" fill="#00ff0a"/>
<rect x="385" y="15.3" width="5" height="5" fill="#00ff10"/>
<rect x="390" y="15.3" width="5" height="5" fill="#00ff16"/>
<rect x="395" y="15.3" width="5" height="5" fill="#00ff1c"/>
<rect x="400" y="15.3" width="5" height="5" fill="#00ff22"/>
<rect x="405" y="15.3" width="5" height="5" fill="#00ff27"/>
<rect x="410" y="15.3" width="5" height="5" fill="#00ff2d"/>
<rect x="415" y="15.3" width="5" height="5" fill="#00ff32"/>
<rect x="240" y="20.3" width="5" height="5" fill="#c9ff00"/>
<rect x="245" y="20.3" width="5" height="5" fill="#bfff00"/>
<rect x="250" y="20.3" width="5" height="5" fill="#b5ff00"/>
<rect x="255" y="20.3" width="5" height="5" fill="#acff00"/>
<rect x="260" y="20.3" width="5" height="5" fill="#a2ff00"/>
<rect x="265" y="20.3" width="5" height="5" fill="#99ff00"/>
<rect x="270" y="20.3" width="5" height="5" fill="#8fff00"/>
<rect x="275" y="20.3" width="5" height="5" fill="#86ff00"/>
<rect x="280" y="20.3" width="5" height="5" fill="#7dff00"/>
<rect x="285" y="20.3" width="5" height="5" fill="#74ff00"/>
<rect x="290" y="20.3" width="5" height="5" fill="#6cff00"/>
<rect x="295" y="20.3" width="5" height="5" fill="#63ff00"/>
<rect x="300" y="20.3" width="5" height="5" fill="#5bff00"/>
<rect x="305" y="20.3" width="5" height="5" fill="#53ff00"/>
<rect x="310" y="20.3" width="5" height="5" fill="#4bff00"/>
<rect x="315" y="20.3" width="5" height="5" fill="#43ff00"/>
<rect x="320" y="20.3" width="5" height="5" fill="#3cff00"/>
<rect x="325" y="20.3" width="5" height="5" fill="#34ff00"/>
<rect x="330" y="20.3" width="5" height="5" fill="#2dff00"/>
<rect x="335" y="20.3" width="5" height="5" fill="#26ff00"/>
<rect x="340" y="20.3" width="5" height="5" fill="#1fff00"/>
<rect x="345" y="20.3" width="5" height="5" fill="#18ff00"/>
<rect x="350" y="20.3" width="5" height="5" fill="#11ff00"/>
<rect x="355" y="20.3" width="5" height="5" fill="#0bff00"/>
<rect x="360" y="20.3" width="5" height="5" fill="#05ff00"/>
<rect x="365" y="20.3" width="5" height="5" fill="#00ff01"/>
<rect x="370" y="20.3" width="5" height="5" fill="#00ff07"/>
<rect x="375" y="20.3" width="5" height="5" fill="#00ff0d"/>
<rect x="380" y="20.3" width="5" height="5" fill="#00ff13"/>
<rect x="385" y="20.3" width="5" height="5" fill="#00ff18"/>
<rect x="390" y="20.3" width="5" height="5" fill="#00ff1d"/>
<rect x="395" y="20.3" width="5" height="5" fill="#00ff23"/>
<rect x="400" y="20.3" width="5" height="5" fill="#00ff28"/>
<rect x="405" y="20.3" width="5" height="5" fill="#00ff2c"/>
<rect x="410" y="20.3" width="5" height="5" fill="#00ff31"/>
<rect x="415" y="20.3" width="5" height="5" fill="#00ff35"/>
<rect x="240" y="25.3" width="5" height="5" fill="#aeff00"/>
<rect x="245" y="25.3" width="5" height="5" fill="#a5ff00"/>
<rect x="250" y="25.3" width="5" height="5" fill="#9bff00"/>
<rect x="255" y="25.3" width="5" height="5" fill="#92ff00"/>
<rect x="260" y="25.3" width="5" height="5" fill="#89ff00"/>
<rect x="265" y="25.3" width="5" height="5" fill="#81ff00"/>
<rect x="270" y="25.3" width="5" height="5" fill="#78ff00"/>
<rect x="275" y="25.3" width="5" height="5" fill="#70ff00"/>
<rect x="280" y="25.3" width="5" height="5" fill="#67ff00"/>
<rect x="285" y="25.3" width="5" height="5" fill="#5fff00"/>
<rect x="290" y="25.3" width="5" height="5" fill="#57ff00"/>
<rect x="295" y="25.3" width="5" height="5" fill="#50ff00"/>
<rect x="300" y="25.3" width="5" height="5" fill="#48ff00"/>
<rect x="305" y="25.3" width="5" height="5" fill="#41ff00"/>
<rect x="310" y="25.3" width="5" height="5" fill="#39ff00"/>
<rect x="315" y="25.3" width="5" height="5" fill="#32ff00"/>
<rect x="320" y="25.3" width="5" height="5" fill="#2bff00"/>
<rect x="325" y="25.3" width="5" height="5" fill="#25ff00"/>
<rect x="330" y="25.3" width="5" height="5" fill="#1eff00"/>
<rect x="335" y="25.3" width="5" height="5" fill="#18ff00"/>
<rect x="340" y="25.3" width="5" height="5" fill="#11ff00"/>
<rect x="345" y="25.3" width="5" height="5" fill="#0bff00"/>
<rect x="350" y="25.3" width="5" height="5" fill="#05ff00"/>
<rect x="355" y="25.3" width="5" height="5" fill="#00ff00"/>
<rect x="360" y="25.3" width="5" height="5" fill="#00ff06"/>
<rect x="365" y="25.3" width="5" height="5" fill="#00ff0b"/>
<rect x="370" y="25.3" width="5" height="5" fill="#00ff11"/>
<rect x="375" y="25.3" width="5" height="5" fill="#00ff16"/>
<rect x="380" y="25.3" width="5" height="5" fill="#00ff1b"/>
<rect x="385" y="25.3" width="5" height="5" fill="#00ff1f"/>
<rect x="390" y="25.3" width="5" height="5" fill="#00ff24"/>
<rect x="395" y="25.3" width="5" height="5" fill="#00ff28"/>
<rect x="400" y="25.3" width="5" height="5" fill="#00ff2d"/>
<rect x="405" y="25.3" width="5" height="5" fill="#00ff31"/>
<rect x="410" y="25.3" width="5" height="5" fill="#00ff35"/>
<rect x="415" y="25.3" width="5" height="5" fill="#00ff38"/>
<rect x="240" y="30.3" width="5" height="5" fill="#93ff00"/>
<rect x="245" y="30.3" width="5" height="5" fill="#8aff00"/>
<rect x="250" y="30.3" width="5" height="5" fill="#82ff00"/>
<rect x="255" y="30.3" width="5" height="5" fill="#7aff00"/>
<rect x="260" y="30.3" width="5" height="5" fill="#71ff00"/>
<rect x="265" y="30.3" width="5" height="5" fill="#69ff00"/>
<rect x="270" y="30.3" width="5" height="5" fill="#61ff00"/>
<rect x="275" y="30.3" width="5" height="5" fill="#5aff00"/>
<rect x="280" y="30.3" width="5" height="5" fill="#52ff00"/>
<rect x="285" y="30.3" width="5" height="5" fill="#4bff00"/>
<rect x="290" y="30.3" width="5" height="5" fill="#44ff00"/>
<rect x="295" y="30.3" width="5" height="5" fill="#3dff00"/>
<rect x="300" y="30.3" width="5" height="5" fill="#36ff00"/>
<rect x="305" y="30.3" width="5" height="5" fill="#2fff00"/>
<rect x="310" y="30.3" width="5" height="5" fill="#28ff00"/>
<rect x="315" y="30.3" width="5" height="5" fill="#22ff00"/>
<rect x="320" y="30.3" width="5" height="5" fill="#1cff00"/>
<rect x="325" y="30.3" width="5" height="5" fill="#16ff00"/>
<rect x="330" y="30.3" width="5" height="5" fill="#10ff00"/>
<rect x="335" y="30.3" width="5" height="5" fill="#0aff00"/>
<rect x="340" y="30.3" width="5" height="5" fill="#05ff00"/>
<rect x="345" y="30.3" width="5" height="5" fill="#00ff01"/>
<rect x="350" y="30.3" width="5" height="5" fill="#00ff06"/>
<rect x="355" y="30.3" width="5" height="5" fill="#00ff0b"/>
<rect x="360" y="30.3" width="5" height="5" fill="#00ff10"/>
<rect x="365" y="30.3" width="5" height="5" fill="#00ff15"/>
<rect x="370" y="30.3" width="5" height="5" fill="#00ff19"/>
<rect x="375" y="30.3" width="5" height="5" fill="#00ff1e"/>
<rect x="380" y="30.3" width="5" height="5" fill="#00ff22"/>
<rect x="385" y="30.3" width="5" height="5" fill="#00ff26"/>
<rect x="390" y="30.3" width="5" height="5" fill="#00ff2a"/>
<rect x="395" y="30.3" width="5" height="5" fill="#00ff2e"/>
<rect x="400" y="30.3" width="5" height="5" fill="#00ff31"/>
<rect x="405" y="30.3" width="5" height="5" fill="#00ff34"/>
<rect x="410" y="30.3" width="5" height="5" fill="#00ff38"/>
<rect x="415" y="30.3" width="5" height="5" fill="#00ff3b"/>
<rect x="240" y="35.3" width="5" height="5" fill="#79ff00"/>
<rect x="245" y="35.3" width="5" height="5" fill="#71ff00"/>
<rect x="250" y="35.3" width="5" height="5" fill="#69ff00"/>
<rect x="255" y="35.3" width="5" height="5" fill="#62ff00"/>
<rect x="260" y="35.3" width="5" height="5" fill="#5aff00"/>
<rect x="265" y="35.3" width="5" height="5" fill="#53ff00"/>
<rect x="270" y="35.3" width="5" height="5" fill="#4cff00"/>
<rect x="275" y="35.3" width="5" height="5" fill="#45ff00"/>
<rect x="280" y="35.3" width="5" height="5" fill="#3eff00"/>
<rect x="285" y="35.3" width="5" height="5" fill="#37ff00"/>
<rect x="290" y="35.3" width="5" height="5" fill="#30ff00"/>
<rect x="295" y="35.3" width="5" height="5" fill="#2aff00"/>
<rect x="300" y="35.3" width="5" height="5" fill="#24ff00"/>
<rect x="305" y="35.3" width="5" height="5" fill="#1eff00"/>
<rect x="310" y="35.3" width="5" height="5" fill="#18ff00"/>
<rect x="315" y="35.3" width="5" height="5" fill="#12ff00"/>
<rect x="320" y="35.3" width="5" height="5" fill="#0dff00"/>
<rect x="325" y="35.3" width="5" height="5" fill="#08ff00"/>
<rect x="330" y="35.3" width="5" height="5" fill="#02ff00"/>
<rect x="335" y="35.3" width="5" height="5" fill="#00ff03"/>
<rect x="340" y="35.3" width="5" height="5" fill="#00ff08"/>
<rect x="345" y="35.3" width="5" height="5" fill="#00ff0c"/>
<rect x="350" y="35.3" width="5" height="5" fill="#00ff11"/>
<rect x="355" y="35.3" width="5" height="5" fill="#00ff15"/>
<rect x="360" y="35.3" width="5" height="5" fill="#00ff19"/>
<rect x="365" y="35.3" width="5" height="5" fill="#00ff1d"/>
<rect x="370" y="35.3" width="5" height="5" fill="#00ff21"/>
<rect x="375" y="35.3" width="5" height="5" fill="#00ff25"/>
<rect x="380" y="35.3" width="5" height="5" fill="#00ff28"/>
<rect x="385" y="35.3" width="5" height="5" fill="#00ff2c"/>
<rect x="390" y="35.3" width="5" height="5" fill="#00ff2f"/>
<rect x="395" y="35.3" width="5" height="5" fill="#00ff32"/>
<rect x="400" y="35.3" width="5" height="5" fill="#00ff35"/>
<rect x="405" y="35.3" width="5" height="5" fill="#00ff37"/>
<rect x="410" y="35.3" width="5" height="5" fill="#00ff3a"/>
<rect x="415" y="35.3" width="5" height="5" fill="#00ff3c"/>
<rect x="240" y="40.3" width="5" height="5" fill="#60ff00"/>
<rect x="245" y="40.3" width="5" height="5" fill="#58ff00"/>
<rect x="250" y="40.3" width="5" height="5" fill="#51ff00"/>
<rect x="255" y="40.3" width="5" height="5" fill="#4aff00"/>
<rect x="260" y="40.3" width="5" height="5" fill="#43ff00"/>
<rect x="265" y="40.3" width="5" height="5" fill="#3dff00"/>
<rect x="270" y="40.3" width="5" height="5" fill="#36ff00"/>
<rect x="275" y="40.3" width="5" height="5" fill="#30ff00"/>
<rect x="280" y="40.3" width="5" height="5" fill="#2aff00"/>
<rect x="285" y="40.3" width="5" height="5" fill="#24ff00"/>
<rect x="290" y="40.3" width="5" height="5" fill="#1eff00"/>
<rect x="295" y="40.3" width="5" height="5" fill="#18ff00"/>
<rect x="300" y="40.3" width="5" height="5" fill="#13ff00"/>
<rect x="305" y="40.3" width="5" height="5" fill="#0eff00"/>
<rect x="310" y="40.3" width="5" height="5" fill="#09ff00"/>
<rect x="315" y="40.3" width="5" height="5" fill="#04ff00"/>
<rect x="320" y="40.3" width="5" height="5" fill="#00ff01"/>
<rect x="325" y="40.3" width="5" height="5" fill="#00ff06"/>
<rect x="330" y="40.3" width="5" height="5" fill="#00ff0a"/>
<rect x="335" y="40.3" width="5" height="5" fill="#00ff0f"/>
<rect x="340" y="40.3" width="5" height="5" fill="#00ff13"/>
<rect x="345" y="40.3" width="5" height="5" fill="#00ff17"/>
<rect x="350" y="40.3" width="5" height="5" fill="#00ff1b"/>
<rect x="355" y="40.3" width="5" height="5" fill="#00ff1e"/>
<rect x="360" y="40.3" width="5" height="5" fill="#00ff22"/>
<rect x="365" y="40.3" width="5" height="5" fill="#00ff25"/>
<rect x="370" y="40.3" width="5" height="5" fill="#00ff28"/>
<rect x="375" y="40.3" width="5" height="5" fill="#00ff2b"/>
<rect x="380" y="40.3" width="5" height="5" fill="#00ff2e"/>
<rect x="385" y="40.3" width="5" height="5" fill="#00ff31"/>
<rect x="390" y="40.3" width="5" height="5" fill="#00ff33"/>
<rect x="395" y="40.3" width="5" height="5" fill="#00ff36"/>
<rect x="400" y="40.3" width="5" height="5" fill="#00ff38"/>
<rect x="405" y="40.3" width="5" height="5" fill="#00ff3a"/>
<rect x="410" y="40.3" width="5" height="5" fill="#00ff3c"/>
<rect x="415" y="40.3" width="5" height="5" fill="#00ff3d"/>
<rect x="240" y="45.3" width="5" height="5" fill="#47ff00"/>
<rect x="245" y="45.3" width="5" height="5" fill="#40ff00"/>
<rect x="250" y="45.3" width="5" height="5" fill="#3aff00"/>
<rect x="255" y="45.3" width="5" height="5" fill="#34ff00"/>
<rect x="260" y="45.3" width="5" height="5" fill="#2eff00"/>
<rect x="265" y="45.3" width="5" height="5" fill="#28ff00"/>
<rect x="270" y="45.3" width="5" height="5" fill="#22ff00"/>
<rect x="275" y="45.3" width="5" height="5" fill="#1cff00"/>
<rect x="280" y="45.3" width="5" height="5" fill="#17ff00"/>
<rect x="285" y="45.3" width="5" height="5" fill="#12ff00"/>
<rect x="290" y="45.3" width="5" height="5" fill="#0cff00"/>
<rect x="295" y="45.3" width="5" height="5" fill="#07ff00"/>
<rect x="300" y="45.3" width="5" height="5" fill="#03ff00"/>
<rect x="305" y="45.3" width="5" height="5" fill="#00ff02"/>
<rect x="310" y="45.3" width="5" height="5" fill="#00ff06"/>
<rect x="315" y="45.3" width="5" height="5" fill="#00ff0b"/>
<rect x="320" y="45.3" width="5" height="5" fill="#00ff0f"/>
<rect x="325" y="45.3" width="5" height="5" fill="#00ff13"/>
<rect x="330" y="45.3" width="5" height="5" fill="#00ff17"/>
<rect x="335" y="45.3" width="5" height="5" fill="#00ff1a"/>
<rect x="340" y="45.3" width="5" height="5" fill="#00ff1e"/>
<rect x="345" y="45.3" width="5" height="5" fill="#00ff21"/>
<rect x="350" y="45.3" width="5" height="5" fill="#00ff24"/>
<rect x="355" y="45.3" width="5" height="5" fill="#00ff27"/>
<rect x="360" y="45.3" width="5" height="5" fill="#00ff2a"/>
<rect x="365" y="45.3" width="5" height="5" fill="#00ff2c"/>
<rect x="370" y="45.3" width="5" height="5" fill="#00ff2f"/>
<rect x="375" y="45.3" width="5" height="5" fill="#00ff31"/>
<rect x="380" y="45.3" width="5" height="5" fill="#00ff33"/>
<rect x="385" y="45.3" width="5" height="5" fill="#00ff35"/>
<rect x="390" y="45.3" width="5" height="5" fill="#00ff37"/>
<rect x="395" y="45.3" width="5" height="5" fill="#00ff39"/>
<rect x="400" y="45.3" width="5" height="5" fill="#00ff3a"/>
<rect x="405" y="45.3" width="5" height="5" fill="#00ff3b"/>
<rect x="410" y="45.3" width="5" height="5" fill="#00ff3d"/>
<rect x="415" y="45.3" width="5" height="5" fill="#00ff3d"/>
<rect x="240" y="50.3" width="5" height="5" fill="#2fff00"/>
<rect x="245" y="50.3" width="5" height="5" fill="#29ff00"/>
<rect x="250" y="50.3" width="5" height="5" fill="#23ff00"/>
<rect x="255" y="50.3" width="5" height="5" fill="#1eff00"/>
<rect x="260" y="50.3" width="5" height="5" fill="#18ff00"/>
<rect x="265" y="50.3" width="5" height="5" fill="#13ff00"/>
<rect x="270" y="50.3" width="5" height="5" fill="#0eff00"/>
<rect x="275" y="50.3" width="5" height="5" fill="#09ff00"/>
<rect x="280" y="50.3" width="5" height="5" fill="#04ff00"/>
<rect x="285" y="50.3" width="5" height="5" fill="#00ff00"/>
<rect x="290" y="50.3" width="5" height="5" fill="#00ff05"/>
<rect x="295" y="50.3" width="5" height="5" fill="#00ff09"/>
<rect x="300" y="50.3" width="5" height="5" fill="#00ff0d"/>
<rect x="305" y="50.3" width="5" height="5" fill="#00ff11"/>
<rect x="310" y="50.3" width="5" height="5" fill="#00ff15"/>
<rect x="315" y="50.3" width="5" height="5" fill="#00ff18"/>
<rect x="320" y="50.3" width="5" height="5" fill="#00ff1c"/>
<rect x="325" y="50.3" width="5" height="5" fill="#00ff1f"/>
<rect x="330" y="50.3" width="5" height="5" fill="#00ff22"/>
<rect x="335" y="50.3" width="5" height="5" fill="#00ff25"/>
<rect x="340" y="50.3" width="5" height="5" fill="#00ff28"/>
<rect x="345" y="50.3" width="5" height="5" fill="#00ff2a"/>
<rect x="350" y="50.3" width="5" height="5" fill="#00ff2d"/>
<rect x="355" y="50.3" width="5" height="5" fill="#00ff2f"/>
<rect x="360" y="50.3" width="5" height="5" fill="#00ff31"/>
<rect x="365" y="50.3" width="5" height="5" fill="#00ff33"/>
<rect x="370" y="50.3" width="5" height="5" fill="#00ff35"/>
<rect x="375" y="50.3" width="5" height="5" fill="#00ff36"/>
<rect x="380" y="50.3" width="5" height="5" fill="#00ff38"/>
<rect x="385" y="50.3" width="5" height="5" fill="#00ff39"/>
<rect x="390" y="50.3" width="5" height="5" fill="#00ff3a"/>
<rect x="395" y="50.3" width="5" height="5" fill="#00ff3b"/>
<rect x="400" y="50.3" width="5" height="5" fill="#00ff3c"/>
<rect x="405" y="50.3" width="5" height="5" fill="#00ff3c"/>
<rect x="410" y="50.3" width="5" height="5" fill="#00ff3d"/>
<rect x="415" y="50.3" width="5" height="5" fill="#00ff3d"/>
<rect x="240" y="55.3" width="5" height="5" fill="#18ff00"/>
<rect x="245" y="55.3" width="5" height="5" fill="#13ff00"/>
<rect x="250" y="55.3" width="5" height="5" fill="#0eff00"/>
<rect x="255" y="55.3" width="5" height="5" fill="#09ff00"/>
<rect x="260" y="55.3" width="5" height="5" fill="#04ff00"/>
<rect x="265" y="55.3" width="5" height="5" fill="#00ff01"/>
<rect x="270" y="55.3" width="5" height="5" fill="#00ff05"/>
<rect x="275" y="55.3" width="5" height="5" fill="#00ff09"/>
<rect x="280" y="55.3" width="5" height="5" fill="#00ff0d"/>
<rect x="285" y="55.3" width="5" height="5" fill="#00ff11"/>
<rect x="290" y="55.3" width="5" height="5" fill="#00ff15"/>
<rect x="295" y="55.3" width="5" height="5" fill="#00ff18"/>
<rect x="300" y="55.3" width="5" height="5" fill="#00ff1c"/>
<rect x="305" y="55.3" width="5" height="5" fill="#00ff1f"/>
<rect x="310" y="55.3" width="5" height="5" fill="#00ff22"/>
<rect x="315" y="55.3" width="5" height="5" fill="#00ff25"/>
<rect x="320" y="55.3" width="5" height="5" fill="#00ff28"/>
<rect x="325" y="55.3" width="5" height="5" fill="#00ff2a"/>
<rect x="330" y="55.3" width="5" height="5" fill="#00ff2d"/>
<rect x="335" y="55.3" width="5" height="5" fill="#00ff2f"/>
<rect x="340" y="55.3" width="5" height="5" fill="#00ff31"/>
<rect x="345" y="55.3" width="5" height="5" fill="#00ff33"/>
<rect x="350" y="55.3" width="5" height="5" fill="#00ff34"/>
<rect x="355" y="55.3" width="5" height="5" fill="#00ff36"/>
<rect x="360" y="55.3" width="5" height="5" fill="#00ff37"/>
<rect x="365" y="55.3" width="5" height="5" fill="#00ff39"/>
<rect x="370" y="55.3" width="5" height="5" fill="#00ff3a"/>
<rect x="375" y="55.3" width="5" height="5" fill="#00ff3b"/>
<rect x="380" y="55.3" width="5" height="5" fill="#00ff3b"/>
<rect x="385" y="55.3" width="5" height="5" fill="#00ff3c"/>
<rect x="390" y="55.3" width="5" height="5" fill="#00ff3c"/>
<rect x="395" y="55.3" width="5" height="5" fill="#00ff3c"/>
<rect x="400" y="55.3" width="5" height="5" fill="#00ff3d"/>
<rect x="405" y="55.3" width="5" height="5" fill="#00ff3c"/>
<rect x="410" y="55.3" width="5" height="5" fill="#00ff3c"/>
<rect x="415" y="55.3" width="5" height="5" fill="#00ff3c"/>
<rect x="240" y="60.3" width="5" height="5" fill="#01ff00"/>
<rect x="245" y="60.3" width="5" height="5" fill="#00ff03"/>
<rect x="250" y="60.3" width="5" height="5" fill="#00ff08"/>
<rect x="255" y="60.3" width="5" height="5" fill="#00ff0c"/>
<rect x="260" y="60.3" width="5" height="5" fill="#00ff10"/>
<rect x="265" y="60.3" width="5" height="5" fill="#00ff14"/>
<rect x="270" y="60.3" width="5" height="5" fill="#00ff17"/>
<rect x="275" y="60.3" width="5" height="5" fill="#00ff1b"/>
<rect x="280" y="60.3" width="5" height="5" fill="#00ff1e"/>
<rect x="285" y="60.3" width="5" height="5" fill="#00ff21"/>
<rect x="290" y="60.3" width="5" height="5" fill="#00ff24"/>
<rect x="295" y="60.3" width="5" height="5" fill="#00ff27"/>
<rect x="300" y="60.3" width="5" height="5" fill="#00ff2a"/>
<rect x="305" y="60.3" width="5" height="5" fill="#00ff2c"/>
<rect x="310" y="60.3" width="5" height="5" fill="#00ff2f"/>
<rect x="315" y="60.3" width="5" height="5" fill="#00ff31"/>
<rect x="320" y="60.3" width="5" height="5" fill="#00ff33"/>
<rect x="325" y="60.3" width="5" height="5" fill="#00ff35"/>
<rect x="330" y="60.3" width="5" height="5" fill="#00ff36"/>
<rect x="335" y="60.3" width="5" height="5" fill="#00ff38"/>
<rect x="340" y="60.3" width="5" height="5" fill="#00ff39"/>
<rect x="345" y="60.3" width="5" height="5" fill="#00ff3b"/>
<rect x="350" y="60.3" width="5" height="5" fill="#00ff3c"/>
<rect x="355" y="60.3" width="5" height="5" fill="#00ff3c"/>
<rect x="360" y="60.3" width="5" height="5" fill="#00ff3d"/>
<rect x="365" y="60.3" width="5" height="5" fill="#00ff3e"/>
<rect x="370" y="60.3" width="5" height="5" fill="#00ff3e"/>
<rect x="375" y="60.3" width="5" height="5" fill="#00ff3e"/>
<rect x="380" y="60.3" width="5" height="5" fill="#00ff3e"/>
<rect x="385" y="60.3" width="5" height="5" fill="#00ff3e"/>
<rect x="390" y="60.3" width="5" height="5" fill="#00ff3e"/>
<rect x="395" y="60.3" width="5" height="5" fill="#00ff3d"/>
<rect x="400" y="60.3" width="5" height="5" fill="#00ff3d"/>
<rect x="405" y="60.3" width="5" height="5" fill="#00ff3c"/>
<rect x="410" y="60.3" width="5" height="5" fill="#00ff3b"/>
<rect x="415" y="60.3" width="5" height="5" fill="#00ff3a"/>
<rect x="240" y="65.3" width="5" height="5" fill="#00ff14"/>
<rect x="245" y="65.3" width="5" height="5" fill="#00ff18"/>
<rect x="250" y="65.3" width="5" height="5" fill="#00ff1c"/>
<rect x="255" y="65.3" width="5" height="5" fill="#00ff1f"/>
<rect x="260" y="65.3" width="5" height="5" fill="#00ff23"/>
<rect x="265" y="65.3" width="5" height="5" fill="#00ff26"/>
<rect x="270" y="65.3" width="5" height="5" fill="#00ff29"/>
<rect x="275" y="65.3" width="5" height="5" fill="#00ff2c"/>
<rect x="280" y="65.3" width="5" height="5" fill="#00ff2e"/>
<rect x="285" y="65.3" width="5" height="5" fill="#00ff31"/>
<rect x="290" y="65.3" width="5" height="5" fill="#00ff33"/>
<rect x="295" y="65.3" width="5" height="5" fill="#00ff35"/>
<rect x="300" y="65.3" width="5" height="5" fill="#00ff37"/>
<rect x="305" y="65.3" width="5" height="5" fill="#00ff39"/>
<rect x="310" y="65.3" width="5" height="5" fill="#00ff3b"/>
<rect x="315" y="65.3" width="5" height="5" fill="#00ff3c"/>
<rect x="320" y="65.3" width="5" height="5" fill="#00ff3e"/>
<rect x="325" y="65.3" width="5" height="5" fill="#00ff3f"/>
<rect x="330" y="65.3" width="5" height="5" fill="#00ff40"/>
<rect x="335" y="65.3" width="5" height="5" fill="#00ff41"/>
<rect x="340" y="65.3" width="5" height="5" fill="#00ff41"/>
<rect x="345" y="65.3" width="5" height="5" fill="#00ff42"/>
<rect x="350" y="65.3" width="5" height="5" fill="#00ff42"/>
<rect x="355" y="65.3" width="5" height="5" fill="#00ff42"/>
<rect x="360" y="65.3" width="5" height="5" fill="#00ff42"/>
<rect x="365" y="65.3" width="5" height="5" fill="#00ff42"/>
<rect x="370" y="65.3" width="5" height="5" fill="#00ff42"/>
<rect x="375" y="65.3" width="5" height="5" fill="#00ff41"/>
<rect x="380" y="65.3" width="5" height="5" fill="#00ff40"/>
<rect x="385" y="65.3" width="5" height="5" fill="#00ff40"/>
<rect x="390" y="65.3" width="5" height="5" fill="#00ff3f"/>
<rect x="395" y="65.3" width="5" height="5" fill="#00ff3d"/>
<rect x="400" y="65.3" width="5" height="5" fill="#00ff3c"/>
<rect x="405" y="65.3" width="5" height="5" fill="#00ff3b"/>
<rect x="410" y="65.3" width="5" height="5" fill="#00ff39"/>
<rect x="415" y="65.3" width="5" height="5" fill="#00ff37"/>
<rect x="240" y="70.3" width="5" height="5" fill="#00ff2a"/>
<rect x="245" y="70.3" width="5" height="5" fill="#00ff2d"/>
<rect x="250" y="70.3" width="5" height="5" fill="#00ff30"/>
<rect x="255" y="70.3" width="5" height="5" fill="#00ff32"/>
<rect x="260" y="70.3" width="5" height="5" fill="#00ff35"/>
<rect x="265" y="70.3" width="5" height="5" fill="#00ff38"/>
<rect x="270" y="70.3" width="5" height="5" fill="#00ff3a"/>
<rect x="275" y="70.3" width="5" height="5" fill="#00ff3c"/>
<rect x="280" y="70.3" width="5" height="5" fill="#00ff3e"/>
<rect x="285" y="70.3" width="5" height="5" fill="#00ff40"/>
<rect x="290" y="70.3" width="5" height="5" fill="#00ff41"/>
<rect x="295" y="70.3" width="5" height="5" fill="#00ff43"/>
<rect x="300" y="70.3" width="5" height="5" fill="#00ff44"/>
<rect x="305" y="70.3" width="5" height="5" fill="#00ff45"/>
<rect x="310" y="70.3" width="5" height="5" fill="#00ff46"/>
<rect x="315" y="70.3" width="5" height="5" fill="#00ff47"/>
<rect x="320" y="70.3" width="5" height="5" fill="#00ff48"/>
<rect x="325" y="70.3" width="5" height="5" fill="#00ff48"/>
<rect x="330" y="70.3" width="5" height="5" fill="#00ff48"/>
<rect x="335" y="70.3" width="5" height="5" fill="#00ff48"/>
<rect x="340" y="70.3" width="5" height="5" fill="#00ff48"/>
<rect x="345" y="70.3" width="5" height="5" fill="#00ff48"/>
<rect x="350" y="70.3" width="5" height="5" fill="#00ff48"/>
<rect x="355" y="70.3" width="5" height="5" fill="#00ff47"/>
<rect x="360" y="70.3" width="5" height="5" fill="#00ff47"/>
<rect x="365" y="70.3" width="5" height="5" fill="#00ff46"/>
<rect x="370" y="70.3" width="5" height="5" fill="#00ff45"/>
<rect x="375" y="70.3" width="5" height="5" fill="#00ff43"/>
<rect x="380" y="70.3" width="5" height="5" fill="#00ff42"/>
<rect x="385" y="70.3" width="5" height="5" fill="#00ff41"/>
<rect x="390" y="70.3" width="5" height="5" fill="#00ff3f"/>
<rect x="395" y="70.3" width="5" height="5" fill="#00ff3d"/>
<rect x="400" y="70.3" width="5" height="5" fill="#00ff3b"/>
<rect x="405" y="70.3" width="5" height="5" fill="#00ff39"/>
<rect x="410" y="70.3" width="5" height="5" fill="#00ff36"/>
<rect x="415" y="70.3" width="5" height="5" fill="#00ff34"/>
<rect x="240" y="75.3" width="5" height="5" fill="#00ff3e"/>
<rect x="245" y="75.3" width="5" height="5" fill="#00ff40"/>
<rect x="250" y="75.3" width="5" height="5" fill="#00ff43"/>
<rect x="255" y="75.3" width="5" height="5" fill="#00ff45"/>
<rect x="260" y="75.3" width="5" height="5" fill="#00ff47"/>
<rect x="265" y="75.3" width="5" height="5" fill="#00ff48"/>
<rect x="270" y="75.3" width="5" height="5" fill="#00ff4a"/>
<rect x="275" y="75.3" width="5" height="5" fill="#00ff4b"/>
<rect x="280" y="75.3" width="5" height="5" fill="#00ff4d"/>
<rect x="285" y="75.3" width="5" height="5" fill="#00ff4e"/>
<rect x="290" y="75.3" width="5" height="5" fill="#00ff4f"/>
<rect x="295" y="75.3" width="5" height="5" fill="#00ff4f"/>
<rect x="300" y="75.3" width="5" height="5" fill="#00ff50"/>
<rect x="305" y="75.3" width="5" height="5" fill="#00ff50"/>
<rect x="310" y="75.3" width="5" height="5" fill="#00ff51"/>
<rect x="315" y="75.3" width="5" height="5" fill="#00ff51"/>
<rect x="320" y="75.3" width="5" height="5" fill="#00ff51"/>
<rect x="325" y="75.3" width="5" height="5" fill="#00ff50"/>
<rect x="330" y="75.3" width="5" height="5" fill="#00ff50"/>
<rect x="335" y="75.3" width="5" height="5" fill="#00ff50"/>
<rect x="340" y="75.3" width="5" height="5" fill="#00ff4f"/>
<rect x="345" y="75.3" width="5" height="5" fill="#00ff4e"/>
<rect x="350" y="75.3" width="5" height="5" fill="#00ff4d"/>
<rect x="355" y="75.3" width="5" height="5" fill="#00ff4c"/>
<rect x="360" y="75.3" width="5" height="5" fill="#00ff4a"/>
<rect x="365" y="75.3" width="5" height="5" fill="#00ff49"/>
<rect x="370" y="75.3" width="5" height="5" fill="#00ff47"/>
<rect x="375" y="75.3" width="5" height="5" fill="#00ff45"/>
<rect x="380" y="75.3" width="5" height="5" fill="#00ff43"/>
<rect x="385" y="75.3" width="5" height="5" fill="#00ff41"/>
<rect x="390" y="75.3" width="5" height="5" fill="#00ff3e"/>
<rect x="395" y="75.3" width="5" height="5" fill="#00ff3c"/>
<rect x="400" y="75.3" width="5" height="5" fill="#00ff39"/>
<rect x="405" y="75.3" width="5" height="5" fill="#00ff36"/>
<rect x="410" y="75.3" width="5" height="5" fill="#00ff33"/>
<rect x="415" y="75.3" width="5" height="5" fill="#00ff30"/>
<rect x="240" y="80.3" width="5" height="5" fill="#00ff52"/>
<rect x="245" y="80.3" width="5" height="5" fill="#00ff53"/>
<rect x="250" y="80.3" width="5" height="5" fill="#00ff55"/>
<rect x="255" y="80.3" width="5" height="5" fill="#00ff56"/>
<rect x="260" y="80.3" width="5" height="5" fill="#00ff58"/>
<rect x="265" y="80.3" width="5" height="5" fill="#00ff59"/>
<rect x="270" y="80.3" width="5" height="5" fill="#00ff5a"/>
<rect x="275" y="80.3" width="5" height="5" fill="#00ff5a"/>
<rect x="280" y="80.3" width="5" height="5" fill="#00ff5b"/>
<rect x="285" y="80.3" width="5" height="5" fill="#00ff5b"/>
<rect x="290" y="80.3" width="5" height="5" fill="#00ff5b"/>
<rect x="295" y="80.3" width="5" height="5" fill="#00ff5b"/>
<rect x="300" y="80.3" width="5" height="5" fill="#00ff5b"/>
<rect x="305" y="80.3" width="5" height="5" fill="#00ff5b"/>
<rect x="310" y="80.3" width="5" height="5" fill="#00ff5b"/>
<rect x="315" y="80.3" width="5" height="5" fill="#00ff5a"/>
<rect x="320" y="80.3" width="5" height="5" fill="#00ff59"/>
<rect x="325" y="80.3" width="5" height="5" fill="#00ff58"/>
<rect x="330" y="80.3" width="5" height="5" fill="#00ff57"/>
<rect x="335" y="80.3" width="5" height="5" fill="#00ff56"/>
<rect x="340" y="80.3" width="5" height="5" fill="#00ff54"/>
<rect x="345" y="80.3" width="5" height="5" fill="#00ff53"/>
<rect x="350" y="80.3" width="5" height="5" fill="#00ff51"/>
<rect x="355" y="80.3" width="5" height="5" fill="#00ff4f"/>
<rect x="360" y="80.3" width="5" height="5" fill="#00ff4d"/>
<rect x="365" y="80.3" width="5" height="5" fill="#00ff4b"/>
<rect x="370" y="80.3" width="5" height="5" fill="#00ff48"/>
<rect x="375" y="80.3" width="5" height="5" fill="#00ff46"/>
<rect x="380" y="80.3" width="5" height="5" fill="#00ff43"/>
<rect x="385" y="80.3" width="5" height="5" fill="#00ff40"/>
<rect x="390" y="80.3" width="5" height="5" fill="#00ff3d"/>
<rect x="395" y="80.3" width="5" height="5" fill="#00ff3a"/>
<rect x="400" y="80.3" width="5" height="5" fill="#00ff36"/>
<rect x="405" y="80.3" width="5" height="5" fill="#00ff33"/>
<rect x="410" y="80.3" width="5" height="5" fill="#00ff2f"/>
<rect x="415" y="80.3" width="5" height="5" fill="#00ff2b"/>
<rect x="240" y="85.3" width="5" height="5" fill="#00ff65"/>
<rect x="245" y="85.3" width="5" height="5" fill="#00ff66"/>
<rect x="250" y="85.3" width="5" height="5" fill="#00ff67"/>
<rect x="255" y="85.3" width="5" height="5" fill="#00ff67"/>
<rect x="260" y="85.3" width="5" height="5" fill="#00ff68"/>
<rect x="265" y="85.3" width="5" height="5" fill="#00ff68"/>
<rect x="270" y="85.3" width="5" height="5" fill="#00ff68"/>
<rect x="275" y="85.3" width="5" height="5" fill="#00ff68"/>
<rect x="280" y="85.3" width="5" height="5" fill="#00ff68"/>
<rect x="285" y="85.3" width="5" height="5" fill="#00ff68"/>
<rect x="290" y="85.3" width="5" height="5" fill="#00ff67"/>
<rect x="295" y="85.3" width="5" height="5" fill="#00ff67"/>
<rect x="300" y="85.3" width="5" height="5" fill="#00ff66"/>
<rect x="305" y="85.3" width="5" height="5" fill="#00ff65"/>
<rect x="310" y="85.3" width="5" height="5" fill="#00ff64"/>
<rect x="315" y="85.3" width="5" height="5" fill="#00ff63"/>
<rect x="320" y="85.3" width="5" height="5" fill="#00ff61"/>
<rect x="325" y="85.3" width="5" height="5" fill="#00ff5f"/>
<rect x="330" y="85.3" width="5" height="5" fill="#00ff5e"/>
<rect x="335" y="85.3" width="5" height="5" fill="#00ff5c"/>
<rect x="340" y="85.3" width="5" height="5" fill="#00ff59"/>
<rect x="345" y="85.3" width="5" height="5" fill="#00ff57"/>
<rect x="350" y="85.3" width="5" height="5" fill="#00ff55"/>
<rect x="355" y="85.3" width="5" height="5" fill="#00ff52"/>
<rect x="360" y="85.3" width="5" height="5" fill="#00ff4f"/>
<rect x="365" y="85.3" width="5" height="5" fill="#00ff4c"/>
<rect x="370" y="85.3" width="5" height="5" fill="#00ff49"/>
<rect x="375" y="85.3" width="5" height="5" fill="#00ff46"/>
<rect x="380" y="85.3" width="5" height="5" fill="#00ff42"/>
<rect x="385" y="85.3" width="5" height="5" fill="#00ff3f"/>
<rect x="390" y="85.3" width="5" height="5" fill="#00ff3b"/>
<rect x="395" y="85.3" width="5" height="5" fill="#00ff37"/>
<rect x="400" y="85.3" width="5" height="5" fill="#00ff33"/>
<rect x="405" y="85.3" width="5" height="5" fill="#00ff2f"/>
<rect x="410" y="85.3" width="5" height="5" fill="#00ff2a"/>
<rect x="415" y="85.3" width="5" height="5" fill="#00ff26"/>
<rect x="240" y="90.3" width="5" height="5" fill="#00ff77"/>
<rect x="245" y="90.3" width="5" height="5" fill="#00ff77"/>
<rect x="250" y="90.3" width="5" height="5" fill="#00ff77"/>
<rect x="255" y="90.3" width="5" height="5" fill="#00ff77"/>
<rect x="260" y="90.3" width="5" height="5" fill="#00ff77"/>
<rect x="265" y="90.3" width="5" height="5" fill="#00ff77"/>
<rect x="270" y="90.3" width="5" height="5" fill="#00ff76"/>
<rect x="275" y="90.3" width="5" height="5" fill="#00ff76"/>
<rect x="280" y="90.3" width="5" height="5" fill="#00ff75"/>
<rect x="285" y="90.3" width="5" height="5" fill="#00ff74"/>
<rect x="290" y="90.3" width="5" height="5" fill="#00ff73"/>
<rect x="295" y="90.3" width="5" height="5" fill="#00ff71"/>
<rect x="300" y="90.3" width="5" height="5" fill="#00ff70"/>
<rect x="305" y="90.3" width="5" height="5" fill="#00ff6e"/>
<rect x="310" y="90.3" width="5" height="5" fill="#00ff6c"/>
<rect x="315" y="90.3" width="5" height="5" fill="#00ff6a"/>
<rect x="320" y="90.3" width="5" height="5" fill="#00ff68"/>
<rect x="325" y="90.3" width="5" height="5" fill="#00ff66"/>
<rect x="330" y="90.3" width="5" height="5" fill="#00ff63"/>
<rect x="335" y="90.3" width="5" height="5" fill="#00ff61"/>
<rect x="340" y="90.3" width="5" height="5" fill="#00ff5e"/>
<rect x="345" y="90.3" width="5" height="5" fill="#00ff5b"/>
<rect x="350" y="90.3" width="5" height="5" fill="#00ff58"/>
<rect x="355" y="90.3" width="5" height="5" fill="#00ff54"/>
<rect x="360" y="90.3" width="5" height="5" fill="#00ff51"/>
<rect x="365" y="90.3" width="5" height="5" fill="#00ff4d"/>
<rect x="370" y="90.3" width="5" height="5" fill="#00ff49"/>
<rect x="375" y="90.3" width="5" height="5" fill="#00ff45"/>
<rect x="380" y="90.3" width="5" height="5" fill="#00ff41"/>
<rect x="385" y="90.3" width="5" height="5" fill="#00ff3d"/>
<rect x="390" y="90.3" width="5" height="5" fill="#00ff38"/>
<rect x="395" y="90.3" width="5" height="5" fill="#00ff34"/>
<rect x="400" y="90.3" width="5" height="5" fill="#00ff2f"/>
<rect x="405" y="90.3" width="5" height="5" fill="#00ff2a"/>
<rect x="410" y="90.3" width="5" height="5" fill="#00ff25"/>
<rect x="415" y="90.3" width="5" height="5" fill="#00ff1f"/>
<rect x="240" y="95.3" width="5" height="5" fill="#00ff89"/>
<rect x="245" y="95.3" width="5" height="5" fill="#00ff88"/>
<rect x="250" y="95.3" width="5" height="5" fill="#00ff88"/>
<rect x="255" y="95.3" width="5" height="5" fill="#00ff87"/>
<rect x="260" y="95.3" width="5" height="5" fill="#00ff86"/>
<rect x="265" y="95.3" width="5" height="5" fill="#00ff85"/>
<rect x="270" y="95.3" width="5" height="5" fill="#00ff84"/>
<rect x="275" y="95.3" width="5" height="5" fill="#00ff82"/>
<rect x="280" y="95.3" width="5" height="5" fill="#00ff81"/>
<rect x="285" y="95.3" width="5" height="5" fill="#00ff7f"/>
<rect x="290" y="95.3" width="5" height="5" fill="#00ff7d"/>
<rect x="295" y="95.3" width="5" height="5" fill="#00ff7b"/>
<rect x="300" y="95.3" width="5" height="5" fill="#00ff79"/>
<rect x="305" y="95.3" width="5" height="5" fill="#00ff77"/>
<rect x="310" y="95.3" width="5" height="5" fill="#00ff74"/>
<rect x="315" y="95.3" width="5" height="5" fill="#00ff71"/>
<rect x="320" y="95.3" width="5" height="5" fill="#00ff6f"/>
<rect x="325" y="95.3" width="5" height="5" fill="#00ff6b"/>
<rect x="330" y="95.3" width="5" height="5" fill="#00ff68"/>
<rect x="335" y="95.3" width="5" height="5" fill="#00ff65"/>
<rect x="340" y="95.3" width="5" height="5" fill="#00ff61"/>
<rect x="345" y="95.3" width="5" height="5" fill="#00ff5e"/>
<rect x="350" y="95.3" width="5" height="5" fill="#00ff5a"/>
<rect x="355" y="95.3" width="5" height="5" fill="#00ff56"/>
<rect x="360" y="95.3" width="5" height="5" fill="#00ff52"/>
<rect x="365" y="95.3" width="5" height="5" fill="#00ff4d"/>
<rect x="370" y="95.3" width="5" height="5" fill="#00ff49"/>
<rect x="375" y="95.3" width="5" height="5" fill="#00ff44"/>
<rect x="380" y="95.3" width="5" height="5" fill="#00ff3f"/>
<rect x="385" y="95.3" width="5" height="5" fill="#00ff3a"/>
<rect x="390" y="95.3" width="5" height="5" fill="#00ff35"/>
<rect x="395" y="95.3" width="5" height="5" fill="#00ff30"/>
<rect x="400" y="95.3" width="5" height="5" fill="#00ff2a"/>
<rect x="405" y="95.3" width="5" height="5" fill="#00ff24"/>
<rect x="410" y="95.3" width="5" height="5" fill="#00ff1e"/>
<rect x="415" y="95.3" width="5" height="5" fill="#00ff18"/>
<rect x="240" y="100.3" width="5" height="5" fill="#00ff99"/>
<rect x="245" y="100.3" width="5" height="5" fill="#00ff98"/>
<rect x="250" y="100.3" width="5" height="5" fill="#00ff97"/>
<rect x="255" y="100.3" width="5" height="5" fill="#00ff96"/>
<rect x="260" y="100.3" width="5" height="5" fill="#00ff94"/>
<rect x="265" y="100.3" width="5" height="5" fill="#00ff92"/>
<rect x="270" y="100.3" width="5" height="5" fill="#00ff90"/>
<rect x="275" y="100.3" width="5" height="5" fill="#00ff8e"/>
<rect x="280" y="100.3" width="5" height="5" fill="#00ff8c"/>
<rect x="285" y="100.3" width="5" height="5" fill="#00ff8a"/>
<rect x="290" y="100.3" width="5" height="5" fill="#00ff87"/>
<rect x="295" y="100.3" width="5" height="5" fill="#00ff84"/>
<rect x="300" y="100.3" width="5" height="5" fill="#00ff81"/>
<rect x="305" y="100.3" width="5" height="5" fill="#00ff7e"/>
<rect x="310" y="100.3" width="5" height="5" fill="#00ff7b"/>
<rect x="315" y="100.3" width="5" height="5" fill="#00ff78"/>
<rect x="320" y="100.3" width="5" height="5" fill="#00ff74"/>
<rect x="325" y="100.3" width="5" height="5" fill="#00ff70"/>
<rect x="330" y="100.3" width="5" height="5" fill="#00ff6d"/>
<rect x="335" y="100.3" width="5" height="5" fill="#00ff68"/>
<rect x="340" y="100.3" width="5" height="5" fill="#00ff64"/>
<rect x="345" y="100.3" width="5" height="5" fill="#00ff60"/>
<rect x="350" y="100.3" width="5" height="5" fill="#00ff5b"/>
<rect x="355" y="100.3" width="5" height="5" fill="#00ff57"/>
<rect x="360" y="100.3" width="5" height="5" fill="#00ff52"/>
<rect x="365" y="100.3" width="5" height="5" fill="#00ff4d"/>
<rect x="370" y="100.3" width="5" height="5" fill="#00ff47"/>
<rect x="375" y="100.3" width="5" height="5" fill="#00ff42"/>
<rect x="380" y="100.3" width="5" height="5" fill="#00ff3c"/>
<rect x="385" y="100.3" width="5" height="5" fill="#00ff37"/>
<rect x="390" y="100.3" width="5" height="5" fill="#00ff31"/>
<rect x="395" y="100.3" width="5" height="5" fill="#00ff2b"/>
<rect x="400" y="100.3" width="5" height="5" fill="#00ff25"/>
<rect x="405" y="100.3" width="5" height="5" fill="#00ff1e"/>
<rect x="410" y="100.3" width="5" height="5" fill="#00ff18"/>
<rect x="415" y="100.3" width="5" height="5" fill="#00ff11"/>
<rect x="240" y="105.3" width="5" height="5" fill="#00ffaa"/>
<rect x="245" y="105.3" width="5" height="5" fill="#00ffa8"/>
<rect x="250" y="105.3" width="5" height="5" fill="#00ffa6"/>
<rect x="255" y="105.3" width="5" height="5" fill="#00ffa4"/>
<rect x="260" y="105.3" width="5" height="5" fill="#00ffa1"/>
<rect x="265" y="105.3" width="5" height="5" fill="#00ff9f"/>
<rect x="270" y="105.3" width="5" height="5" fill="#00ff9c"/>
<rect x="275" y="105.3" width="5" height="5" fill="#00ff9a"/>
<rect x="280" y="105.3" width="5" height="5" fill="#00ff97"/>
<rect x="285" y="105.3" width="5" height="5" fill="#00ff94"/>
<rect x="290" y="105.3" width="5" height="5" fill="#00ff90"/>
<rect x="295" y="105.3" width="5" height="5" fill="#00ff8d"/>
<rect x="300" y="105.3" width="5" height="5" fill="#00ff89"/>
<rect x="305" y="105.3" width="5" height="5" fill="#00ff85"/>
<rect x="310" y="105.3" width="5" height="5" fill="#00ff82"/>
<rect x="315" y="105.3" width="5" height="5" fill="#00ff7d"/>
<rect x="320" y="105.3" width="5" height="5" fill="#00ff79"/>
<rect x="325" y="105.3" width="5" height="5" fill="#00ff75"/>
<rect x="330" y="105.3" width="5" height="5" fill="#00ff70"/>
<rect x="335" y="105.3" width="5" height="5" fill="#00ff6b"/>
<rect x="340" y="105.3" width="5" height="5" fill="#00ff66"/>
<rect x="345" y="105.3" width="5" height="5" fill="#00ff61"/>
<rect x="350" y="105.3" width="5" height="5" fill="#00ff5c"/>
<rect x="355" y="105.3" width="5" height="5" fill="#00ff57"/>
<rect x="360" y="105.3" width="5" height="5" fill="#00ff51"/>
<rect x="365" y="105.3" width="5" height="5" fill="#00ff4b"/>
<rect x="370" y="105.3" width="5" height="5" fill="#00ff45"/>
<rect x="375" y="105.3" width="5" height="5" fill="#00ff3f"/>
<rect x="380" y="105.3" width="5" height="5" fill="#00ff39"/>
<rect x="385" y="105.3" width="5" height="5" fill="#00ff33"/>
<rect x="390" y="105.3" width="5" height="5" fill="#00ff2c"/>
<rect x="395" y="105.3" width="5" height="5" fill="#00ff25"/>
<rect x="400" y="105.3" width="5" height="5" fill="#00ff1e"/>
<rect x="405" y="105.3" width="5" height="5" fill="#00ff17"/>
<rect x="410" y="105.3" width="5" height="5" fill="#00ff10"/>
<rect x="415" y="105.3" width="5" height="5" fill="#00ff09"/>
<rect x="240" y="110.3" width="5" height="5" fill="#00ffb9"/>
<rect x="245" y="110.3" width="5" height="5" fill="#00ffb7"/>
<rect x="250" y="110.3" width="5" height="5" fill="#00ffb4"/>
<rect x="255" y="110.3" width="5" height="5" fill="#00ffb1"/>
<rect x="260" y="110.3" width="5" height="5" fill="#00ffae"/>
<rect x="265" y="110.3" width="5" height="5" fill="#00ffab"/>
<rect x="270" y="110.3" width="5" height="5" fill="#00ffa8"/>
<rect x="275" y="110.3" width="5" height="5" fill="#00ffa4"/>
<rect x="280" y="110.3" width="5" height="5" fill="#00ffa1"/>
<rect x="285" y="110.3" width="5" height="5" fill="#00ff9d"/>
<rect x="290" y="110.3" width="5" height="5" fill="#00ff99"/>
<rect x="295" y="110.3" width="5" height="5" fill="#00ff95"/>
<rect x="300" y="110.3" width="5" height="5" fill="#00ff90"/>
<rect x="305" y="110.3" width="5" height="5" fill="#00ff8c"/>
<rect x="310" y="110.3" width="5" height="5" fill="#00ff87"/>
<rect x="315" y="110.3" width="5" height="5" fill="#00ff82"/>
<rect x="320" y="110.3" width="5" height="5" fill="#00ff7d"/>
<rect x="325" y="110.3" width="5" height="5" fill="#00ff78"/>
<rect x="330" y="110.3" width="5" height="5" fill="#00ff73"/>
<rect x="335" y="110.3" width="5" height="5" fill="#00ff6e"/>
<rect x="340" y="110.3" width="5" height="5" fill="#00ff68"/>
<rect x="345" y="110.3" width="5" height="5" fill="#00ff62"/>
<rect x="350" y="110.3" width="5" height="5" fill="#00ff5c"/>
<rect x="355" y="110.3" width="5" height="5" fill="#00ff56"/>
<rect x="360" y="110.3" width="5" height="5" fill="#00ff50"/>
<rect x="365" y="110.3" width="5" height="5" fill="#00ff49"/>
<rect x="370" y="110.3" width="5" height="5" fill="#00ff43"/>
<rect x="375" y="110.3" width="5" height="5" fill="#00ff3c"/>
<rect x="380" y="110.3" width="5" height="5" fill="#00ff35"/>
<rect x="385" y="110.3" width="5" height="5" fill="#00ff2e"/>
<rect x="390" y="110.3" width="5" height="5" fill="#00ff26"/>
<rect x="395" y="110.3" width="5" height="5" fill="#00ff1f"/>
<rect x="400" y="110.3" width="5" height="5" fill="#00ff17"/>
<rect x="405" y="110.3" width="5" height="5" fill="#00ff10"/>
<rect x="410" y="110.3" width="5" height="5" fill="#00ff08"/>
<rect x="415" y="110.3" width="5" height="5" fill="#01ff00"/>
<rect x="240" y="115.3" width="5" height="5" fill="#00ffc8"/>
<rect x="245" y="115.3" width="5" height="5" fill="#00ffc5"/>
<rect x="250" y="115.3" width="5" height="5" fill="#00ffc1"/>
<rect x="255" y="115.3" width="5" height="5" fill="#00ffbe"/>
<rect x="260" y="115.3" width="5" height="5" fill="#00ffba"/>
<rect x="265" y="115.3" width="5" height="5" fill="#00ffb6"/>
<rect x="270" y="115.3" width="5" height="5" fill="#00ffb2"/>
<rect x="275" y="115.3" width="5" height="5" fill="#00ffae"/>
<rect x="280" y="115.3" width="5" height="5" fill="#00ffaa"/>
<rect x="285" y="115.3" width="5" height="5" fill="#00ffa5"/>
<rect x="290" y="115.3" width="5" height="5" fill="#00ffa1"/>
<rect x="295" y="115.3" width="5" height="5" fill="#00ff9c"/>
<rect x="300" y="115.3" width="5" height="5" fill="#00ff97"/>
<rect x="305" y="115.3" width="5" height="5" fill="#00ff91"/>
<rect x="310" y="115.3" width="5" height="5" fill="#00ff8c"/>
<rect x="315" y="115.3" width="5" height="5" fill="#00ff87"/>
<rect x="320" y="115.3" width="5" height="5" fill="#00ff81"/>
<rect x="325" y="115.3" width="5" height="5" fill="#00ff7b"/>
<rect x="330" y="115.3" width="5" height="5" fill="#00ff75"/>
<rect x="335" y="115.3" width="5" height="5" fill="#00ff6f"/>
<rect x="340" y="115.3" width="5" height="5" fill="#00ff69"/>
<rect x="345" y="115.3" width="5" height="5" fill="#00ff62"/>
<rect x="350" y="115.3" width="5" height="5" fill="#00ff5b"/>
<rect x="355" y="115.3" width="5" height="5" fill="#00ff55"/>
<rect x="360" y="115.3" width="5" height="5" fill="#00ff4e"/>
<rect x="365" y="115.3" width="5" height="5" fill="#00ff47"/>
<rect x="370" y="115.3" width="5" height="5" fill="#00ff3f"/>
<rect x="375" y="115.3" width="5" height="5" fill="#00ff38"/>
<rect x="380" y="115.3" width="5" height="5" fill="#00ff30"/>
<rect x="385" y="115.3" width="5" height="5" fill="#00ff28"/>
<rect x="390" y="115.3" width="5" height="5" fill="#00ff20"/>
<rect x="395" y="115.3" width="5" height="5" fill="#00ff18"/>
<rect x="400" y="115.3" width="5" height="5" fill="#00ff10"/>
<rect x="405" y="115.3" width="5" height="5" fill="#00ff07"/>
<rect x="410" y="115.3" width="5" height="5" fill="#01ff00"/>
<rect x="415" y="115.3" width="5" height="5" fill="#0aff00"/>
<rect x="240" y="120.3" width="5" height="5" fill="#00ffd6"/>
<rect x="245" y="120.3" width="5" height="5" fill="#00ffd2"/>
<rect x="250" y="120.3" width="5" height="5" fill="#00ffce"/>
<rect x="255" y="120.3" width="5" height="5" fill="#00ffca"/>
<rect x="260" y="120.3" width="5" height="5" fill="#00ffc5"/>
<rect x="265" y="120.3" width="5" height="5" fill="#00ffc1"/>
<rect x="270" y="120.3" width="5" height="5" fill="#00ffbc"/>
<rect x="275" y="120.3" width="5" height="5" fill="#00ffb7"/>
<rect x="280" y="120.3" width="5" height="5" fill="#00ffb2"/>
<rect x="285" y="120.3" width="5" height="5" fill="#00ffad"/>
<rect x="290" y="120.3" width="5" height="5" fill="#00ffa8"/>
<rect x="295" y="120.3" width="5" height="5" fill="#00ffa2"/>
<rect x="300" y="120.3" width="5" height="5" fill="#00ff9c"/>
<rect x="305" y="120.3" width="5" height="5" fill="#00ff96"/>
<rect x="310" y="120.3" width="5" height="5" fill="#00ff90"/>
<rect x="315" y="120.3" width="5" height="5" fill="#00ff8a"/>
<rect x="320" y="120.3" width="5" height="5" fill="#00ff84"/>
<rect x="325" y="120.3" width="5" height="5" fill="#00ff7d"/>
<rect x="330" y="120.3" width="5" height="5" fill="#00ff77"/>
<rect x="335" y="120.3" width="5" height="5" fill="#00ff70"/>
<rect x="340" y="120.3" width="5" height="5" fill="#00ff69"/>
<rect x="345" y="120.3" width="5" height="5" fill="#00ff62"/>
<rect x="350" y="120.3" width="5" height="5" fill="#00ff5a"/>
<rect x="355" y="120.3" width="5" height="5" fill="#00ff53"/>
<rect x="360" y="120.3" width="5" height="5" fill="#00ff4b"/>
<rect x="365" y="120.3" width="5" height="5" fill="#00ff43"/>
<rect x="370" y="120.3" width="5" height="5" fill="#00ff3b"/>
<rect x="375" y="120.3" width="5" height="5" fill="#00ff33"/>
<rect x="380" y="120.3" width="5" height="5" fill="#00ff2a"/>
<rect x="385" y="120.3" width="5" height="5" fill="#00ff22"/>
<rect x="390" y="120.3" width="5" height="5" fill="#00ff19"/>
<rect x="395" y="120.3" width="5" height="5" fill="#00ff10"/>
<rect x="400" y="120.3" width="5" height="5" fill="#00ff07"/>
<rect x="405" y="120.3" width="5" height="5" fill="#02ff00"/>
<rect x="410" y="120.3" width="5" height="5" fill="#0bff00"/>
<rect x="415" y="120.3" width="5" height="5" fill="#15ff00"/>
<rect x="240" y="125.3" width="5" height="5" fill="#00ffe3"/>
<rect x="245" y="125.3" width="5" height="5" fill="#00ffdf"/>
<rect x="250" y="125.3" width="5" height="5" fill="#00ffda"/>
<rect x="255" y="125.3" width="5" height="5" fill="#00ffd5"/>
<rect x="260" y="125.3" width="5" height="5" fill="#00ffd0"/>
<rect x="265" y="125.3" width="5" height="5" fill="#00ffcb"/>
<rect x="270" y="125.3" width="5" height="5" fill="#00ffc5"/>
<rect x="275" y="125.3" width="5" height="5" fill="#00ffc0"/>
<rect x="280" y="125.3" width="5" height="5" fill="#00ffba"/>
<rect x="285" y="125.3" width="5" height="5" fill="#00ffb4"/>
<rect x="290" y="125.3" width="5" height="5" fill="#00ffae"/>
<rect x="295" y="125.3" width="5" height="5" fill="#00ffa8"/>
<rect x="300" y="125.3" width="5" height="5" fill="#00ffa1"/>
<rect x="305" y="125.3" width="5" height="5" fill="#00ff9b"/>
<rect x="310" y="125.3" width="5" height="5" fill="#00ff94"/>
<rect x="315" y="125.3" width="5" height="5" fill="#00ff8d"/>
<rect x="320" y="125.3" width="5" height="5" fill="#00ff86"/>
<rect x="325" y="125.3" width="5" height="5" fill="#00ff7f"/>
<rect x="330" y="125.3" width="5" height="5" fill="#00ff77"/>
<rect x="335" y="125.3" width="5" height="5" fill="#00ff70"/>
<rect x="340" y="125.3" width="5" height="5" fill="#00ff68"/>
<rect x="345" y="125.3" width="5" height="5" fill="#00ff60"/>
<rect x="350" y="125.3" width="5" height="5" fill="#00ff58"/>
<rect x="355" y="125.3" width="5" height="5" fill="#00ff50"/>
<rect x="360" y="125.3" width="5" height="5" fill="#00ff47"/>
<rect x="365" y="125.3" width="5" height="5" fill="#00ff3f"/>
<rect x="370" y="125.3" width="5" height="5" fill="#00ff36"/>
<rect x="375" y="125.3" width="5" height="5" fill="#00ff2d"/>
<rect x="380" y="125.3" width="5" height="5" fill="#00ff24"/>
<rect x="385" y="125.3" width="5" height="5" fill="#00ff1b"/>
<rect x="390" y="125.3" width="5" height="5" fill="#00ff12"/>
<rect x="395" y="125.3" width="5" height="5" fill="#00ff08"/>
<rect x="400" y="125.3" width="5" height="5" fill="#02ff00"/>
<rect x="405" y="125.3" width="5" height="5" fill="#0cff00"/>
<rect x="410" y="125.3" width="5" height="5" fill="#16ff00"/>
<rect x="415" y="125.3" width="5" height="5" fill="#20ff00"/>
<rect x="240" y="130.3" width="5" height="5" fill="#00fff0"/>
<rect x="245" y="130.3" width="5" height="5" fill="#00ffea"/>
<rect x="250" y="130.3" width="5" height="5" fill="#00ffe5"/>
<rect x="255" y="130.3" width="5" height="5" fill="#00ffdf"/>
<rect x="260" y="130.3" width="5" height="5" fill="#00ffda"/>
<rect x="265" y="130.3" width="5" height="5" fill="#00ffd4"/>
<rect x="270" y="130.3" width="5" height="5" fill="#00ffce"/>
<rect x="275" y="130.3" width="5" height="5" fill="#00ffc7"/>
<rect x="280" y="130.3" width="5" height="5" fill="#00ffc1"/>
<rect x="285" y="130.3" width="5" height="5" fill="#00ffba"/>
<rect x="290" y="130.3" width="5" height="5" fill="#00ffb3"/>
<rect x="295" y="130.3" width="5" height="5" fill="#00ffad"/>
<rect x="300" y="130.3" width="5" height="5" fill="#00ffa5"/>
<rect x="305" y="130.3" width="5" height="5" fill="#00ff9e"/>
<rect x="310" y="130.3" width="5" height="5" fill="#00ff97"/>
<rect x="315" y="130.3" width="5" height="5" fill="#00ff8f"/>
<rect x="320" y="130.3" width="5" height="5" fill="#00ff87"/>
<rect x="325" y="130.3" width="5" height="5" fill="#00ff7f"/>
<rect x="330" y="130.3" width="5" height="5" fill="#00ff77"/>
<rect x="335" y="130.3" width="5" height="5" fill="#00ff6f"/>
<rect x="340" y="130.3" width="5" height="5" fill="#00ff67"/>
<rect x="345" y="130.3" width="5" height="5" fill="#00ff5e"/>
<rect x="350" y="130.3" width="5" height="5" fill="#00ff55"/>
<rect x="355" y="130.3" width="5" height="5" fill="#00ff4c"/>
<rect x="360" y="130.3" width="5" height="5" fill="#00ff43"/>
<rect x="365" y="130.3" width="5" height="5" fill="#00ff3a"/>
<rect x="370" y="130.3" width="5" height="5" fill="#00ff31"/>
<rect x="375" y="130.3" width="5" height="5" fill="#00ff27"/>
<rect x="380" y="130.3" width="5" height="5" fill="#00ff1d"/>
<rect x="385" y="130.3" width="5" height="5" fill="#00ff13"/>
<rect x="390" y="130.3" width="5" height="5" fill="#00ff09"/>
<rect x="395" y="130.3" width="5" height="5" fill="#01ff00"/>
<rect x="400" y="130.3" width="5" height="5" fill="#0bff00"/>
<rect x="405" y="130.3" width="5" height="5" fill="#16ff00"/>
<rect x="410" y="130.3" width="5" height="5" fill="#21ff00"/>
<rect x="415" y="130.3" width="5" height="5" fill="#2cff00"/>
<rect x="240" y="135.3" width="5" height="5" fill="#00fffc"/>
<rect x="245" y="135.3" width="5" height="5" fill="#00fff6"/>
<rect x="250" y="135.3" width="5" height="5" fill="#00ffef"/>
<rect x="255" y="135.3" width="5" height="5" fill="#00ffe9"/>
<rect x="260" y="135.3" width="5" height="5" fill="#00ffe3"/>
<rect x="265" y="135.3" width="5" height="5" fill="#00ffdc"/>
<rect x="270" y="135.3" width="5" height="5" fill="#00ffd5"/>
<rect x="275" y="135.3" width="5" height="5" fill="#00ffce"/>
<rect x="280" y="135.3" width="5" height="5" fill="#00ffc7"/>
<rect x="285" y="135.3" width="5" height="5" fill="#00ffc0"/>
<rect x="290" y="135.3" width="5" height="5" fill="#00ffb8"/>
<rect x="295" y="135.3" width="5" height="5" fill="#00ffb1"/>
<rect x="300" y="135.3" width="5" height="5" fill="#00ffa9"/>
<rect x="305" y="135.3" width="5" height="5" fill="#00ffa1"/>
<rect x="310" y="135.3" width="5" height="5" fill="#00ff99"/>
<rect x="315" y="135.3" width="5" height="5" fill="#00ff91"/>
<rect x="320" y="135.3" width="5" height="5" fill="#00ff88"/>
<rect x="325" y="135.3" width="5" height="5" fill="#00ff7f"/>
<rect x="330" y="135.3" width="5" height="5" fill="#00ff77"/>
<rect x="335" y="135.3" width="5" height="5" fill="#00ff6e"/>
<rect x="340" y="135.3" width="5" height="5" fill="#00ff65"/>
<rect x="345" y="135.3" width="5" height="5" fill="#00ff5b"/>
<rect x="350" y="135.3" width="5" height="5" fill="#00ff52"/>
<rect x="355" y="135.3" width="5" height="5" fill="#00ff48"/>
<rect x="360" y="135.3" width="5" height="5" fill="#00ff3e"/>
<rect x="365" y="135.3" width="5" height="5" fill="#00ff34"/>
<rect x="370" y="135.3" width="5" height="5" fill="#00ff2a"/>
<rect x="375" y="135.3" width="5" height="5" fill="#00ff20"/>
<rect x="380" y="135.3" width="5" height="5" fill="#00ff16"/>
<rect x="385" y="135.3" width="5" height="5" fill="#00ff0b"/>
<rect x="390" y="135.3" width="5" height="5" fill="#00ff00"/>
<rect x="395" y="135.3" width="5" height="5" fill="#0bff00"/>
<rect x="400" y="135.3" width="5" height="5" fill="#16ff00"/>
<rect x="405" y="135.3" width="5" height="5" fill="#21ff00"/>
<rect x="410" y="135.3" width="5" height="5" fill="#2dff00"/>
<rect x="415" y="135.3" width="5" height="5" fill="#38ff00"/>
<rect x="240" y="140.3" width="5" height="5" fill="#00f7ff"/>
<rect x="245" y="140.3" width="5" height="5" fill="#00feff"/>
<rect x="250" y="140.3" width="5" height="5" fill="#00fff9"/>
<rect x="255" y="140.3" width="5" height="5" fill="#00fff2"/>
<rect x="260" y="140.3" width="5" height="5" fill="#00ffeb"/>
<rect x="265" y="140.3" width="5" height="5" fill="#00ffe4"/>
<rect x="270" y="140.3" width="5" height="5" fill="#00ffdc"/>
<rect x="275" y="140.3" width="5" height="5" fill="#00ffd5"/>
<rect x="280" y="140.3" width="5" height="5" fill="#00ffcd"/>
<rect x="285" y="140.3" width="5" height="5" fill="#00ffc5"/>
<rect x="290" y="140.3" width="5" height="5" fill="#00ffbd"/>
<rect x="295" y="140.3" width="5" height="5" fill="#00ffb4"/>
<rect x="300" y="140.3" width="5" height="5" fill="#00ffac"/>
<rect x="305" y="140.3" width="5" height="5" fill="#00ffa3"/>
<rect x="310" y="140.3" width="5" height="5" fill="#00ff9a"/>
<rect x="315" y="140.3" width="5" height="5" fill="#00ff91"/>
<rect x="320" y="140.3" width="5" height="5" fill="#00ff88"/>
<rect x="325" y="140.3" width="5" height="5" fill="#00ff7f"/>
<rect x="330" y="140.3" width="5" height="5" fill="#00ff75"/>
<rect x="335" y="140.3" width="5" height="5" fill="#00ff6c"/>
<rect x="340" y="140.3" width="5" height="5" fill="#00ff62"/>
<rect x="345" y="140.3" width="5" height="5" fill="#00ff58"/>
<rect x="350" y="140.3" width="5" height="5" fill="#00ff4e"/>
<rect x="355" y="140.3" width="5" height="5" fill="#00ff43"/>
<rect x="360" y="140.3" width="5" height="5" fill="#00ff39"/>
<rect x="365" y="140.3" width="5" height="5" fill="#00ff2e"/>
<rect x="370" y="140.3" width="5" height="5" fill="#00ff23"/>
<rect x="375" y="140.3" width="5" height="5" fill="#00ff18"/>
<rect x="380" y="140.3" width="5" height="5" fill="#00ff0d"/>
<rect x="385" y="140.3" width="5" height="5" fill="#00ff02"/>
<rect x="390" y="140.3" width="5" height="5" fill="#0aff00"/>
<rect x="395" y="140.3" width="5" height="5" fill="#15ff00"/>
<rect x="400" y="140.3" width="5" height="5" fill="#21ff00"/>
<rect x="405" y="140.3" width="5" height="5" fill="#2dff00"/>
<rect x="410" y="140.3" width="5" height="5" fill="#39ff00"/>
<rect x="415" y="140.3" width="5" height="5" fill="#46ff00"/>
<rect x="240" y="145.3" width="5" height="5" fill="#00edff"/>
<rect x="245" y="145.3" width="5" height="5" fill="#00f4ff"/>
<rect x="250" y="145.3" width="5" height="5" fill="#00fcff"/>
<rect x="255" y="145.3" width="5" height="5" fill="#00fffb"/>
<rect x="260" y="145.3" width="5" height="5" fill="#00fff3"/>
<rect x="265" y="145.3" width="5" height="5" fill="#00ffeb"/>
<rect x="270" y="145.3" width="5" height="5" fill="#00ffe3"/>
<rect x="275" y="145.3" width="5" height="5" fill="#00ffda"/>
<rect x="280" y="145.3" width="5" height="5" fill="#00ffd2"/>
<rect x="285" y="145.3" width="5" height="5" fill="#00ffc9"/>
<rect x="290" y="145.3" width="5" height="5" fill="#00ffc0"/>
<rect x="295" y="145.3" width="5" height="5" fill="#00ffb7"/>
<rect x="300" y="145.3" width="5" height="5" fill="#00ffae"/>
<rect x="305" y="145.3" width="5" height="5" fill="#00ffa5"/>
<rect x="310" y="145.3" width="5" height="5" fill="#00ff9b"/>
<rect x="315" y="145.3" width="5" height="5" fill="#00ff91"/>
<rect x="320" y="145.3" width="5" height="5" fill="#00ff87"/>
<rect x="325" y="145.3" width="5" height="5" fill="#00ff7d"/>
<rect x="330" y="145.3" width="5" height="5" fill="#00ff73"/>
<rect x="335" y="145.3" width="5" height="5" fill="#00ff69"/>
<rect x="340" y="145.3" width="5" height="5" fill="#00ff5e"/>
<rect x="345" y="145.3" width="5" height="5" fill="#00ff54"/>
<rect x="350" y="145.3" width="5" height="5" fill="#00ff49"/>
<rect x="355" y="145.3" width="5" height="5" fill="#00ff3e"/>
<rect x="360" y="145.3" width="5" height="5" fill="#00ff33"/>
<rect x="365" y="145.3" width="5" height="5" fill="#00ff27"/>
<rect x="370" y="145.3" width="5" height="5" fill="#00ff1c"/>
<rect x="375" y="145.3" width="5" height="5" fill="#00ff10"/>
<rect x="380" y="145.3" width="5" height="5" fill="#00ff04"/>
<rect x="385" y="145.3" width="5" height="5" fill="#08ff00"/>
<rect x="390" y="145.3" width="5" height="5" fill="#14ff00"/>
<rect x="395" y="145.3" width="5" height="5" fill="#20ff00"/>
<rect x="400" y="145.3" width="5" height="5" fill="#2dff00"/>
<rect x="405" y="145.3" width="5" height="5" fill="#3aff00"/>
<rect x="410" y="145.3" width="5" height="5" fill="#46ff00"/>
<rect x="415" y="145.3" width="5" height="5" fill="#53ff00"/>
<rect x="240" y="150.3" width="5" height="5" fill="#00e3ff"/>
<rect x="245" y="150.3" width="5" height="5" fill="#00ebff"/>
<rect x="250" y="150.3" width="5" height="5" fill="#00f3ff"/>
<rect x="255" y="150.3" width="5" height="5" fill="#00fcff"/>
<rect x="260" y="150.3" width="5" height="5" fill="#00fffa"/>
<rect x="265" y="150.3" width="5" height="5" fill="#00fff1"/>
<rect x="270" y="150.3" width="5" height="5" fill="#00ffe8"/>
<rect x="275" y="150.3" width="5" height="5" fill="#00ffdf"/>
<rect x="280" y="150.3" width="5" height="5" fill="#00ffd6"/>
<rect x="285" y="150.3" width="5" height="5" fill="#00ffcc"/>
<rect x="290" y="150.3" width="5" height="5" fill="#00ffc3"/>
<rect x="295" y="150.3" width="5" height="5" fill="#00ffb9"/>
<rect x="300" y="150.3" width="5" height="5" fill="#00ffaf"/>
<rect x="305" y="150.3" width="5" height="5" fill="#00ffa5"/>
<rect x="310" y="150.3" width="5" height="5" fill="#00ff9b"/>
<rect x="315" y="150.3" width="5" height="5" fill="#00ff91"/>
<rect x="320" y="150.3" width="5" height="5" fill="#00ff86"/>
<rect x="325" y="150.3" width="5" height="5" fill="#00ff7b"/>
<rect x="330" y="150.3" width="5" height="5" fill="#00ff70"/>
<rect x="335" y="150.3" width="5" height="5" fill="#00ff65"/>
<rect x="340" y="150.3" width="5" height="5" fill="#00ff5a"/>
<rect x="345" y="150.3" width="5" height="5" fill="#00ff4f"/>
<rect x="350" y="150.3" width="5" height="5" fill="#00ff43"/>
<rect x="355" y="150.3" width="5" height="5" fill="#00ff37"/>
<rect x="360" y="150.3" width="5" height="5" fill="#00ff2c"/>
<rect x="365" y="150.3" width="5" height="5" fill="#00ff1f"/>
<rect x="370" y="150.3" width="5" height="5" fill="#00ff13"/>
<rect x="375" y="150.3" width="5" height="5" fill="#00ff07"/>
<rect x="380" y="150.3" width="5" height="5" fill="#06ff00"/>
<rect x="385" y="150.3" width="5" height="5" fill="#12ff00"/>
<rect x="390" y="150.3" width="5" height="5" fill="#1fff00"/>
<rect x="395" y="150.3" width="5" height="5" fill="#2cff00"/>
<rect x="400" y="150.3" width="5" height="5" fill="#3aff00"/>
<rect x="405" y="150.3" width="5" height="5" fill="#47ff00"/>
<rect x="410" y="150.3" width="5" height="5" fill="#54ff00"/>
<rect x="415" y="150.3" width="5" height="5" fill="#62ff00"/>
<rect x="240" y="155.3" width="5" height="5" fill="#00daff"/>
<rect x="245" y="155.3" width="5" height="5" fill="#00e3ff"/>
<rect x="250" y="155.3" width="5" height="5" fill="#00ecff"/>
<rect x="255" y="155.3" width="5" height="5" fill="#00f5ff"/>
<rect x="260" y="155.3" width="5" height="5" fill="#00feff"/>
<rect x="265" y="155.3" width="5" height="5" fill="#00fff7"/>
<rect x="270" y="155.3" width="5" height="5" fill="#00ffed"/>
<rect x="275" y="155.3" width="5" height="5" fill="#00ffe3"/>
<rect x="280" y="155.3" width="5" height="5" fill="#00ffd9"/>
<rect x="285" y="155.3" width="5" height="5" fill="#00ffcf"/>
<rect x="290" y="155.3" width="5" height="5" fill="#00ffc5"/>
<rect x="295" y="155.3" width="5" height="5" fill="#00ffbb"/>
<rect x="300" y="155.3" width="5" height="5" fill="#00ffb0"/>
<rect x="305" y="155.3" width="5" height="5" fill="#00ffa5"/>
<rect x="310" y="155.3" width="5" height="5" fill="#00ff9a"/>
<rect x="315" y="155.3" width="5" height="5" fill="#00ff8f"/>
<rect x="320" y="155.3" width="5" height="5" fill="#00ff84"/>
<rect x="325" y="155.3" width="5" height="5" fill="#00ff78"/>
<rect x="330" y="155.3" width="5" height="5" fill="#00ff6d"/>
<rect x="335" y="155.3" width="5" height="5" fill="#00ff61"/>
<rect x="340" y="155.3" width="5" height="5" fill="#00ff55"/>
<rect x="345" y="155.3" width="5" height="5" fill="#00ff49"/>
<rect x="350" y="155.3" width="5" height="5" fill="#00ff3d"/>
<rect x="355" y="155.3" width="5" height="5" fill="#00ff30"/>
<rect x="360" y="155.3" width="5" height="5" fill="#00ff24"/>
<rect x="365" y="155.3" width="5" height="5" fill="#00ff17"/>
<rect x="370" y="155.3" width="5" height="5" fill="#00ff0a"/>
<rect x="375" y="155.3" width="5" height="5" fill="#03ff00"/>
<rect x="380" y="155.3" width="5" height="5" fill="#10ff00"/>
<rect x="385" y="155.3" width="5" height="5" fill="#1eff00"/>
<rect x="390" y="155.3" width="5" height="5" fill="#2bff00"/>
<rect x="395" y="155.3" width="5" height="5" fill="#39ff00"/>
<rect x="400" y="155.3" width="5" height="5" fill="#47ff00"/>
<rect x="405" y="155.3" width="5" height="5" fill="#55ff00"/>
<rect x="410" y="155.3" width="5" height="5" fill="#63ff00"/>
<rect x="415" y="155.3" width="5" height="5" fill="#72ff00"/>
<rect x="240" y="160.3" width="5" height="5" fill="#00d2ff"/>
<rect x="245" y="160.3" width="5" height="5" fill="#00dbff"/>
<rect x="250" y="160.3" width="5" height="5" fill="#00e5ff"/>
<rect x="255" y="160.3" width="5" height="5" fill="#00eeff"/>
<rect x="260" y="160.3" width="5" height="5" fill="#00f8ff"/>
<rect x="265" y="160.3" width="5" height="5" fill="#00fffb"/>
<rect x="270" y="160.3" width="5" height="5" fill="#00fff1"/>
<rect x="275" y="160.3" width="5" height="5" fill="#00ffe7"/>
<rect x="280" y="160.3" width="5" height="5" fill="#00ffdc"/>
<rect x="285" y="160.3" width="5" height="5" fill="#00ffd1"/>
<rect x="290" y="160.3" width="5" height="5" fill="#00ffc6"/>
<rect x="295" y="160.3" width="5" height="5" fill="#00ffbb"/>
<rect x="300" y="160.3" width="5" height="5" fill="#00ffb0"/>
<rect x="305" y="160.3" width="5" height="5" fill="#00ffa4"/>
<rect x="310" y="160.3" width="5" height="5" fill="#00ff99"/>
<rect x="315" y="160.3" width="5" height="5" fill="#00ff8d"/>
<rect x="320" y="160.3" width="5" height="5" fill="#00ff81"/>
<rect x="325" y="160.3" width="5" height="5" fill="#00ff75"/>
<rect x="330" y="160.3" width="5" height="5" fill="#00ff69"/>
<rect x="335" y="160.3" width="5" height="5" fill="#00ff5c"/>
<rect x="340" y="160.3" width="5" height="5" fill="#00ff50"/>
<rect x="345" y="160.3" width="5" height="5" fill="#00ff43"/>
<rect x="350" y="160.3" width="5" height="5" fill="#00ff36"/>
<rect x="355" y="160.3" width="5" height="5" fill="#00ff29"/>
<rect x="360" y="160.3" width="5" height="5" fill="#00ff1b"/>
<rect x="365" y="160.3" width="5" height="5" fill="#00ff0e"/>
<rect x="370" y="160.3" width="5" height="5" fill="#00ff00"/>
<rect x="375" y="160.3" width="5" height="5" fill="#0dff00"/>
<rect x="380" y="160.3" width="5" height="5" fill="#1bff00"/>
<rect x="385" y="160.3" width="5" height="5" fill="#2aff00"/>
<rect x="390" y="160.3" width="5" height="5" fill="#38ff00"/>
<rect x="395" y="160.3" width="5" height="5" fill="#46ff00"/>
<rect x="400" y="160.3" width="5" height="5" fill="#55ff00"/>
<rect x="405" y="160.3" width="5" height="5" fill="#64ff00"/>
<rect x="410" y="160.3" width="5" height="5" fill="#73ff00"/>
<rect x="415" y="160.3" width="5" height="5" fill="#82ff00"/>
</g>
<polyline class="cl" points="245.0,115.4 246.0,115.6 247.0,115.8 247.7,115.9 248.1,116.0 249.1,116.2 250.1,116.5 251.1,116.7 251.5,116.8 252.1,117.0 253.2,117.2 254.2,117.5 254.9,117.7 255.2,117.8 256.2,118.0 257.2,118.3 258.0,118.6 258.3,118.7 259.3,119.0 260.3,119.3 260.7,119.5 261.3,119.7 262.3,120.0 263.2,120.3 263.3,120.4 264.4,120.8 265.4,121.2 265.5,121.2 266.4,121.6 267.4,122.0 267.6,122.1 268.4,122.5 269.5,123.0 269.5,123.0 270.5,123.5 271.3,123.9 271.5,124.0 272.5,124.5 273.0,124.8 273.5,125.1 274.5,125.7 274.6,125.7 275.6,126.3 275.9,126.6 276.6,127.0 277.3,127.4 277.6,127.7 278.5,128.3 278.6,128.4 279.7,129.2 279.7,129.2 280.7,130.0 280.8,130.1 281.7,130.9 281.8,131.0 282.7,131.8 282.8,131.9 283.7,132.8 283.7,132.8 284.6,133.7 284.8,133.9 285.4,134.6 285.8,135.0 286.1,135.4 286.8,136.3 286.8,136.3 287.5,137.2 287.8,137.7 288.1,138.1 288.7,139.0 288.8,139.2 289.3,139.9 289.8,140.8 289.9,140.9 290.3,141.7 290.8,142.5 290.9,142.8 291.2,143.4 291.6,144.3 291.9,145.0 292.0,145.2 292.3,146.1 292.7,147.0 292.9,147.6 293.0,147.9 293.3,148.8 293.6,149.6 293.8,150.5 293.9,151.0 294.0,151.4 294.3,152.3"/>
<polyline class="cl" points="245.0,77.9 246.0,77.8 246.5,77.8 247.0,77.7 248.1,77.6 249.1,77.4 250.1,77.3 251.1,77.2 252.1,77.1 253.2,76.9 253.8,76.9 254.2,76.8 255.2,76.7 256.2,76.6 257.2,76.4 258.3,76.3 259.3,76.2 260.3,76.1 261.1,76.0 261.3,76.0 262.3,75.8 263.3,75.7 264.4,75.6 265.4,75.5 266.4,75.3 267.4,75.2 268.4,75.1 268.5,75.1 269.5,75.0 270.5,74.9 271.5,74.7 272.5,74.6 273.5,74.5 274.6,74.4 275.6,74.2 275.9,74.2 276.6,74.1 277.6,74.0 278.6,73.9 279.7,73.8 280.7,73.6 281.7,73.5 282.7,73.4 283.4,73.3 283.7,73.3 284.8,73.2 285.8,73.0 286.8,72.9 287.8,72.8 288.8,72.7 289.9,72.6 290.9,72.4 291.0,72.4 291.9,72.3 292.9,72.2 293.9,72.1 294.9,72.0 296.0,71.8 297.0,71.7 298.0,71.6 298.6,71.5 299.0,71.5 300.0,71.4 301.1,71.3 302.1,71.1 303.1,71.0 304.1,70.9 305.1,70.8 306.2,70.7 306.4,70.6 307.2,70.6 308.2,70.4 309.2,70.3 310.2,70.2 311.3,70.1 312.3,70.0 313.3,69.9 314.3,69.8 314.3,69.8 315.3,69.6 316.4,69.5 317.4,69.4 318.4,69.3 319.4,69.2 320.4,69.1 321.5,69.0 322.4,68.9 322.5,68.9 323.5,68.8 324.5,68.7 325.5,68.5 326.6,68.4 327.6,68.3 328.6,68.2 329.6,68.1 330.6,68.0 330.8,68.0 331.6,67.9 332.7,67.8 333.7,67.7 334.7,67.6 335.7,67.5 336.7,67.4 337.8,67.3 338.8,67.2 339.7,67.1 339.8,67.1 340.8,67.0 341.8,66.9 342.9,66.8 343.9,66.7 344.9,66.6 345.9,66.5 346.9,66.4 348.0,66.3 349.0,66.3 349.5,66.2 350.0,66.2 351.0,66.1 352.0,66.0 353.1,65.9 354.1,65.9 355.1,65.8 356.1,65.7 357.1,65.6 358.2,65.6 359.2,65.5 360.2,65.4 361.2,65.4 362.1,65.3 362.2,65.3 363.2,65.3 364.3,65.2 365.3,65.2 366.3,65.1 367.3,65.1 368.3,65.1 369.4,65.1 370.4,65.1 371.4,65.0 372.4,65.0 373.4,65.1 374.5,65.1 375.5,65.1 376.5,65.2 377.5,65.2 378.4,65.3 378.5,65.3 379.6,65.5 380.6,65.6 381.6,65.8 382.6,66.0 383.5,66.2 383.6,66.2 384.7,66.6 385.7,67.0 385.9,67.1 386.7,67.6 387.3,68.0 387.7,68.4 388.2,68.9 388.7,69.6 388.9,69.8 389.3,70.6 389.6,71.5 389.7,72.4 389.8,72.5 389.8,73.3 389.8,74.2 389.8,75.1 389.8,75.5 389.7,76.0 389.6,76.9 389.4,77.8 389.2,78.6 389.0,79.5 388.8,80.4 388.7,80.5 388.5,81.3 388.2,82.2 387.9,83.1 387.7,83.7 387.6,84.0 387.3,84.8 387.0,85.7 386.7,86.5 386.7,86.6 386.3,87.5 386.0,88.4 385.7,89.1 385.6,89.3 385.2,90.2 384.9,91.1 384.7,91.5 384.5,91.9 384.1,92.8 383.7,93.7 383.6,93.9 383.3,94.6 382.9,95.5 382.6,96.1 382.5,96.4 382.1,97.3 381.7,98.2 381.6,98.4 381.3,99.0 380.9,99.9 380.6,100.6 380.5,100.8 380.0,101.7 379.6,102.6 379.6,102.7 379.2,103.5 378.8,104.4 378.5,104.8 378.3,105.3 377.9,106.2 377.5,106.9 377.5,107.0 377.0,107.9 376.6,108.8 376.5,109.0 376.2,109.7 375.7,110.6 375.5,111.1 375.3,111.5 374.8,112.4 374.5,113.1 374.4,113.2 374.0,114.1 373.5,115.0 373.4,115.2 373.1,115.9 372.6,116.8 372.4,117.2 372.2,117.7 371.7,118.6 371.4,119.2 371.3,119.5 370.8,120.3 370.4,121.2 370.4,121.2 369.9,122.1 369.5,123.0 369.4,123.2 369.0,123.9 368.6,124.8 368.3,125.2 368.1,125.7 367.6,126.6 367.3,127.2 367.2,127.4 366.7,128.3 366.3,129.2 366.3,129.2 365.8,130.1 365.4,131.0 365.3,131.1 364.9,131.9 364.4,132.8 364.3,133.1 364.0,133.7 363.5,134.6 363.2,135.1 363.1,135.4 362.6,136.3 362.2,137.0 362.1,137.2 361.7,138.1 361.2,139.0 361.2,139.0 360.7,139.9 360.3,140.8 360.2,140.9 359.8,141.7 359.4,142.5 359.2,142.9 358.9,143.4 358.4,144.3 358.2,144.8 358.0,145.2 357.5,146.1 357.1,146.8 357.0,147.0 356.6,147.9 356.1,148.7 356.1,148.8 355.6,149.6 355.2,150.5 355.1,150.6 354.7,151.4 354.2,152.3"/>
<polyline class="cl" points="408.1,149.5 408.0,149.6 407.1,150.5 407.1,150.5 406.2,151.4 406.1,151.6 405.3,152.3"/>
<polyline class="cl" points="245.0,48.6 245.6,48.5 246.0,48.4 247.0,48.1 248.1,47.8 248.8,47.6 249.1,47.5 250.1,47.2 251.1,46.9 252.0,46.7 252.1,46.7 253.2,46.4 254.2,46.1 255.1,45.8 255.2,45.8 256.2,45.5 257.2,45.2 258.2,44.9 258.3,44.9 259.3,44.6 260.3,44.3 261.2,44.0 261.3,44.0 262.3,43.7 263.3,43.4 264.2,43.1 264.4,43.1 265.4,42.8 266.4,42.5 267.1,42.2 267.4,42.1 268.4,41.8 269.5,41.5 270.0,41.4 270.5,41.2 271.5,40.9 272.5,40.6 272.8,40.5 273.5,40.2 274.6,39.9 275.5,39.6 275.6,39.6 276.6,39.2 277.6,38.9 278.3,38.7 278.6,38.6 279.7,38.2 280.7,37.9 280.9,37.8 281.7,37.6 282.7,37.2 283.6,36.9 283.7,36.9 284.8,36.5 285.8,36.2 286.1,36.0 286.8,35.8 287.8,35.5 288.7,35.1 288.8,35.1 289.9,34.7 290.9,34.4 291.2,34.3 291.9,34.0 292.9,33.6 293.6,33.4 293.9,33.3 294.9,32.9 296.0,32.5 296.0,32.5 297.0,32.1 298.0,31.8 298.4,31.6 299.0,31.4 300.0,31.0 300.7,30.7 301.1,30.6 302.1,30.2 303.0,29.8 303.1,29.8 304.1,29.4 305.1,29.0 305.3,28.9 306.2,28.6 307.2,28.2 307.5,28.1 308.2,27.8 309.2,27.3 309.7,27.2 310.2,26.9 311.3,26.5 311.8,26.3 312.3,26.1 313.3,25.6 313.9,25.4 314.3,25.2 315.3,24.8 316.0,24.5 316.4,24.3 317.4,23.9 318.0,23.6 318.4,23.4 319.4,23.0 320.0,22.7 320.4,22.5 321.5,22.1 322.0,21.8 322.5,21.6 323.5,21.1 323.9,20.9 324.5,20.7 325.5,20.2 325.8,20.1 326.6,19.7 327.6,19.2 327.7,19.2 328.6,18.7 329.5,18.3 329.6,18.2 330.6,17.7 331.3,17.4 331.6,17.2 332.7,16.7 333.1,16.5 333.7,16.2 334.7,15.7 334.9,15.6 335.7,15.2 336.6,14.7 336.7,14.7 337.8,14.1 338.3,13.8 338.8,13.6 339.8,13.1 340.0,13.0 340.8,12.5 341.6,12.1 341.8,12.0 342.9,11.4 343.2,11.2 343.9,10.8 344.8,10.3"/>
<polyline class="cl" points="245.0,23.7 245.3,23.6 246.0,23.4 247.0,23.0 247.7,22.7 248.1,22.6 249.1,22.2 250.1,21.9 250.1,21.8 251.1,21.5 252.1,21.1 252.5,20.9 253.2,20.7 254.2,20.3 254.8,20.1 255.2,19.9 256.2,19.5 257.1,19.2 257.2,19.1 258.3,18.7 259.3,18.3 259.4,18.3 260.3,17.9 261.3,17.5 261.6,17.4 262.3,17.1 263.3,16.7 263.9,16.5 264.4,16.3 265.4,15.9 266.1,15.6 266.4,15.5 267.4,15.1 268.2,14.7 268.4,14.6 269.5,14.2 270.4,13.8 270.5,13.8 271.5,13.4 272.5,13.0 272.5,12.9 273.5,12.5 274.6,12.1 274.6,12.1 275.6,11.6 276.6,11.2 276.6,11.2 277.6,10.8 278.6,10.3 278.7,10.3"/>
</g>
<rect class="fr" x="245.0" y="10.3" width="163.1" height="142.0"/>
<line class="tk" x1="245.0" y1="152.3" x2="245.0" y2="155.8"/>
<text class="tl" x="245.0" y="160.5" text-anchor="middle">4</text>
<line class="tk" x1="285.8" y1="152.3" x2="285.8" y2="155.8"/>
<text class="tl" x="285.8" y="160.5" text-anchor="middle">5</text>
<line class="tk" x1="326.6" y1="152.3" x2="326.6" y2="155.8"/>
<text class="tl" x="326.6" y="160.5" text-anchor="middle">6</text>
<line class="tk" x1="367.3" y1="152.3" x2="367.3" y2="155.8"/>
<text class="tl" x="367.3" y="160.5" text-anchor="middle">7</text>
<line class="tk" x1="408.1" y1="152.3" x2="408.1" y2="155.8"/>
<text class="tl" x="408.1" y="160.5" text-anchor="middle">8</text>
<line class="tk" x1="241.2" y1="152.3" x2="245.0" y2="152.3"/>
<text class="tl" x="239.5" y="151.7" text-anchor="end">10</text>
<line class="tk" x1="241.2" y1="116.8" x2="245.0" y2="116.8"/>
<text class="tl" x="239.5" y="116.2" text-anchor="end">15</text>
<line class="tk" x1="241.2" y1="81.3" x2="245.0" y2="81.3"/>
<text class="tl" x="239.5" y="80.7" text-anchor="end">20</text>
<line class="tk" x1="241.2" y1="45.8" x2="245.0" y2="45.8"/>
<text class="tl" x="239.5" y="45.2" text-anchor="end">25</text>
<line class="tk" x1="241.2" y1="10.3" x2="245.0" y2="10.3"/>
<text class="tl" x="239.5" y="9.7" text-anchor="end">30</text>
<rect class="lb" x="259.2" y="13.2" width="7" height="4.6"/>
<text class="lt" x="262.7" y="16.9" text-anchor="middle">70</text>
<rect class="lb" x="295.4" y="27.5" width="7" height="4.6"/>
<text class="lt" x="298.9" y="31.2" text-anchor="middle">65</text>
<rect class="lb" x="371.8" y="62.0" width="7" height="4.6"/>
<text class="lt" x="375.3" y="65.7" text-anchor="middle">60</text>
<rect class="lb" x="271.8" y="123.1" width="7" height="4.6"/>
<text class="lt" x="275.3" y="126.8" text-anchor="middle">55</text>
<rect class="lb" x="399.8" y="147.6" width="7" height="4.6"/>
<text class="lt" x="403.3" y="151.3" text-anchor="middle">65</text>
<circle cx="326.6" cy="81.3" r="1.6" fill="#700" stroke="#111" stroke-width="0.9"/>
<text class="lt" x="322.1" y="82.6" text-anchor="middle" fill="#333">6</text>
<text class="tt" x="326.3" y="7.9" text-anchor="middle">R2</text>
<text class="ax" transform="translate(340.5,172.5) scale(0.95,1)" text-anchor="middle">A: Total Lipid (%w/v)</text>
<text class="ax" transform="translate(223.9,91.5) rotate(90) scale(0.95,1)" text-anchor="middle">C: Sonication Time min)</text>
<clipPath id="cp2"><rect x="449.9" y="12.1" width="161.9" height="140.5"/></clipPath>
<g clip-path="url(#cp2)"><g class="cg" filter="url(#bl)">
<rect x="444.9" y="7.1" width="5" height="5" fill="#97ff00"/>
<rect x="449.9" y="7.1" width="5" height="5" fill="#9dff00"/>
<rect x="454.9" y="7.1" width="5" height="5" fill="#a1ff00"/>
<rect x="459.9" y="7.1" width="5" height="5" fill="#a4ff00"/>
<rect x="464.9" y="7.1" width="5" height="5" fill="#a7ff00"/>
<rect x="469.9" y="7.1" width="5" height="5" fill="#a8ff00"/>
<rect x="474.9" y="7.1" width="5" height="5" fill="#a8ff00"/>
<rect x="479.9" y="7.1" width="5" height="5" fill="#a7ff00"/>
<rect x="484.9" y="7.1" width="5" height="5" fill="#a5ff00"/>
<rect x="489.9" y="7.1" width="5" height="5" fill="#a3ff00"/>
<rect x="494.9" y="7.1" width="5" height="5" fill="#9fff00"/>
<rect x="499.9" y="7.1" width="5" height="5" fill="#9aff00"/>
<rect x="504.9" y="7.1" width="5" height="5" fill="#94ff00"/>
<rect x="509.9" y="7.1" width="5" height="5" fill="#8cff00"/>
<rect x="514.9" y="7.1" width="5" height="5" fill="#84ff00"/>
<rect x="519.9" y="7.1" width="5" height="5" fill="#7bff00"/>
<rect x="524.9" y="7.1" width="5" height="5" fill="#71ff00"/>
<rect x="529.9" y="7.1" width="5" height="5" fill="#66ff00"/>
<rect x="534.9" y="7.1" width="5" height="5" fill="#59ff00"/>
<rect x="539.9" y="7.1" width="5" height="5" fill="#4cff00"/>
<rect x="544.9" y="7.1" width="5" height="5" fill="#3eff00"/>
<rect x="549.9" y="7.1" width="5" height="5" fill="#2eff00"/>
<rect x="554.9" y="7.1" width="5" height="5" fill="#1eff00"/>
<rect x="559.9" y="7.1" width="5" height="5" fill="#0cff00"/>
<rect x="564.9" y="7.1" width="5" height="5" fill="#00ff06"/>
<rect x="569.9" y="7.1" width="5" height="5" fill="#00ff1a"/>
<rect x="574.9" y="7.1" width="5" height="5" fill="#00ff2f"/>
<rect x="579.9" y="7.1" width="5" height="5" fill="#00ff44"/>
<rect x="584.9" y="7.1" width="5" height="5" fill="#00ff5b"/>
<rect x="589.9" y="7.1" width="5" height="5" fill="#00ff73"/>
<rect x="594.9" y="7.1" width="5" height="5" fill="#00ff8c"/>
<rect x="599.9" y="7.1" width="5" height="5" fill="#00ffa6"/>
<rect x="604.9" y="7.1" width="5" height="5" fill="#00ffc0"/>
<rect x="609.9" y="7.1" width="5" height="5" fill="#00ffdc"/>
<rect x="614.9" y="7.1" width="5" height="5" fill="#00fff9"/>
<rect x="619.9" y="7.1" width="5" height="5" fill="#00e7ff"/>
<rect x="444.9" y="12.1" width="5" height="5" fill="#7cff00"/>
<rect x="449.9" y="12.1" width="5" height="5" fill="#82ff00"/>
<rect x="454.9" y="12.1" width="5" height="5" fill="#87ff00"/>
<rect x="459.9" y="12.1" width="5" height="5" fill="#8bff00"/>
<rect x="464.9" y="12.1" width="5" height="5" fill="#8dff00"/>
<rect x="469.9" y="12.1" width="5" height="5" fill="#8fff00"/>
<rect x="474.9" y="12.1" width="5" height="5" fill="#90ff00"/>
<rect x="479.9" y="12.1" width="5" height="5" fill="#90ff00"/>
<rect x="484.9" y="12.1" width="5" height="5" fill="#8eff00"/>
<rect x="489.9" y="12.1" width="5" height="5" fill="#8cff00"/>
<rect x="494.9" y="12.1" width="5" height="5" fill="#89ff00"/>
<rect x="499.9" y="12.1" width="5" height="5" fill="#84ff00"/>
<rect x="504.9" y="12.1" width="5" height="5" fill="#7fff00"/>
<rect x="509.9" y="12.1" width="5" height="5" fill="#78ff00"/>
<rect x="514.9" y="12.1" width="5" height="5" fill="#71ff00"/>
<rect x="519.9" y="12.1" width="5" height="5" fill="#68ff00"/>
<rect x="524.9" y="12.1" width="5" height="5" fill="#5eff00"/>
<rect x="529.9" y="12.1" width="5" height="5" fill="#54ff00"/>
<rect x="534.9" y="12.1" width="5" height="5" fill="#48ff00"/>
<rect x="539.9" y="12.1" width="5" height="5" fill="#3bff00"/>
<rect x="544.9" y="12.1" width="5" height="5" fill="#2dff00"/>
<rect x="549.9" y="12.1" width="5" height="5" fill="#1fff00"/>
<rect x="554.9" y="12.1" width="5" height="5" fill="#0fff00"/>
<rect x="559.9" y="12.1" width="5" height="5" fill="#00ff02"/>
<rect x="564.9" y="12.1" width="5" height="5" fill="#00ff14"/>
<rect x="569.9" y="12.1" width="5" height="5" fill="#00ff27"/>
<rect x="574.9" y="12.1" width="5" height="5" fill="#00ff3b"/>
<rect x="579.9" y="12.1" width="5" height="5" fill="#00ff50"/>
<rect x="584.9" y="12.1" width="5" height="5" fill="#00ff67"/>
<rect x="589.9" y="12.1" width="5" height="5" fill="#00ff7e"/>
<rect x="594.9" y="12.1" width="5" height="5" fill="#00ff96"/>
<rect x="599.9" y="12.1" width="5" height="5" fill="#00ffaf"/>
<rect x="604.9" y="12.1" width="5" height="5" fill="#00ffca"/>
<rect x="609.9" y="12.1" width="5" height="5" fill="#00ffe5"/>
<rect x="614.9" y="12.1" width="5" height="5" fill="#00fdff"/>
<rect x="619.9" y="12.1" width="5" height="5" fill="#00dfff"/>
<rect x="444.9" y="17.1" width="5" height="5" fill="#61ff00"/>
<rect x="449.9" y="17.1" width="5" height="5" fill="#67ff00"/>
<rect x="454.9" y="17.1" width="5" height="5" fill="#6dff00"/>
<rect x="459.9" y="17.1" width="5" height="5" fill="#71ff00"/>
<rect x="464.9" y="17.1" width="5" height="5" fill="#75ff00"/>
<rect x="469.9" y="17.1" width="5" height="5" fill="#77ff00"/>
<rect x="474.9" y="17.1" width="5" height="5" fill="#79ff00"/>
<rect x="479.9" y="17.1" width="5" height="5" fill="#79ff00"/>
<rect x="484.9" y="17.1" width="5" height="5" fill="#78ff00"/>
<rect x="489.9" y="17.1" width="5" height="5" fill="#76ff00"/>
<rect x="494.9" y="17.1" width="5" height="5" fill="#73ff00"/>
<rect x="499.9" y="17.1" width="5" height="5" fill="#70ff00"/>
<rect x="504.9" y="17.1" width="5" height="5" fill="#6bff00"/>
<rect x="509.9" y="17.1" width="5" height="5" fill="#65ff00"/>
<rect x="514.9" y="17.1" width="5" height="5" fill="#5eff00"/>
<rect x="519.9" y="17.1" width="5" height="5" fill="#56ff00"/>
<rect x="524.9" y="17.1" width="5" height="5" fill="#4dff00"/>
<rect x="529.9" y="17.1" width="5" height="5" fill="#43ff00"/>
<rect x="534.9" y="17.1" width="5" height="5" fill="#37ff00"/>
<rect x="539.9" y="17.1" width="5" height="5" fill="#2bff00"/>
<rect x="544.9" y="17.1" width="5" height="5" fill="#1eff00"/>
<rect x="549.9" y="17.1" width="5" height="5" fill="#10ff00"/>
<rect x="554.9" y="17.1" width="5" height="5" fill="#00ff00"/>
<rect x="559.9" y="17.1" width="5" height="5" fill="#00ff10"/>
<rect x="564.9" y="17.1" width="5" height="5" fill="#00ff21"/>
<rect x="569.9" y="17.1" width="5" height="5" fill="#00ff34"/>
<rect x="574.9" y="17.1" width="5" height="5" fill="#00ff47"/>
<rect x="579.9" y="17.1" width="5" height="5" fill="#00ff5c"/>
<rect x="584.9" y="17.1" width="5" height="5" fill="#00ff71"/>
<rect x="589.9" y="17.1" width="5" height="5" fill="#00ff88"/>
<rect x="594.9" y="17.1" width="5" height="5" fill="#00ffa0"/>
<rect x="599.9" y="17.1" width="5" height="5" fill="#00ffb8"/>
<rect x="604.9" y="17.1" width="5" height="5" fill="#00ffd2"/>
<rect x="609.9" y="17.1" width="5" height="5" fill="#00ffed"/>
<rect x="614.9" y="17.1" width="5" height="5" fill="#00f5ff"/>
<rect x="619.9" y="17.1" width="5" height="5" fill="#00d8ff"/>
<rect x="444.9" y="22.1" width="5" height="5" fill="#47ff00"/>
<rect x="449.9" y="22.1" width="5" height="5" fill="#4eff00"/>
<rect x="454.9" y="22.1" width="5" height="5" fill="#54ff00"/>
<rect x="459.9" y="22.1" width="5" height="5" fill="#59ff00"/>
<rect x="464.9" y="22.1" width="5" height="5" fill="#5dff00"/>
<rect x="469.9" y="22.1" width="5" height="5" fill="#60ff00"/>
<rect x="474.9" y="22.1" width="5" height="5" fill="#62ff00"/>
<rect x="479.9" y="22.1" width="5" height="5" fill="#63ff00"/>
<rect x="484.9" y="22.1" width="5" height="5" fill="#62ff00"/>
<rect x="489.9" y="22.1" width="5" height="5" fill="#61ff00"/>
<rect x="494.9" y="22.1" width="5" height="5" fill="#5fff00"/>
<rect x="499.9" y="22.1" width="5" height="5" fill="#5cff00"/>
<rect x="504.9" y="22.1" width="5" height="5" fill="#57ff00"/>
<rect x="509.9" y="22.1" width="5" height="5" fill="#52ff00"/>
<rect x="514.9" y="22.1" width="5" height="5" fill="#4cff00"/>
<rect x="519.9" y="22.1" width="5" height="5" fill="#44ff00"/>
<rect x="524.9" y="22.1" width="5" height="5" fill="#3cff00"/>
<rect x="529.9" y="22.1" width="5" height="5" fill="#32ff00"/>
<rect x="534.9" y="22.1" width="5" height="5" fill="#28ff00"/>
<rect x="539.9" y="22.1" width="5" height="5" fill="#1cff00"/>
<rect x="544.9" y="22.1" width="5" height="5" fill="#0fff00"/>
<rect x="549.9" y="22.1" width="5" height="5" fill="#02ff00"/>
<rect x="554.9" y="22.1" width="5" height="5" fill="#00ff0d"/>
<rect x="559.9" y="22.1" width="5" height="5" fill="#00ff1d"/>
<rect x="564.9" y="22.1" width="5" height="5" fill="#00ff2e"/>
<rect x="569.9" y="22.1" width="5" height="5" fill="#00ff40"/>
<rect x="574.9" y="22.1" width="5" height="5" fill="#00ff53"/>
<rect x="579.9" y="22.1" width="5" height="5" fill="#00ff67"/>
<rect x="584.9" y="22.1" width="5" height="5" fill="#00ff7c"/>
<rect x="589.9" y="22.1" width="5" height="5" fill="#00ff92"/>
<rect x="594.9" y="22.1" width="5" height="5" fill="#00ffa9"/>
<rect x="599.9" y="22.1" width="5" height="5" fill="#00ffc1"/>
<rect x="604.9" y="22.1" width="5" height="5" fill="#00ffda"/>
<rect x="609.9" y="22.1" width="5" height="5" fill="#00fff4"/>
<rect x="614.9" y="22.1" width="5" height="5" fill="#00efff"/>
<rect x="619.9" y="22.1" width="5" height="5" fill="#00d2ff"/>
<rect x="444.9" y="27.1" width="5" height="5" fill="#2dff00"/>
<rect x="449.9" y="27.1" width="5" height="5" fill="#35ff00"/>
<rect x="454.9" y="27.1" width="5" height="5" fill="#3bff00"/>
<rect x="459.9" y="27.1" width="5" height="5" fill="#41ff00"/>
<rect x="464.9" y="27.1" width="5" height="5" fill="#46ff00"/>
<rect x="469.9" y="27.1" width="5" height="5" fill="#49ff00"/>
<rect x="474.9" y="27.1" width="5" height="5" fill="#4cff00"/>
<rect x="479.9" y="27.1" width="5" height="5" fill="#4dff00"/>
<rect x="484.9" y="27.1" width="5" height="5" fill="#4eff00"/>
<rect x="489.9" y="27.1" width="5" height="5" fill="#4dff00"/>
<rect x="494.9" y="27.1" width="5" height="5" fill="#4bff00"/>
<rect x="499.9" y="27.1" width="5" height="5" fill="#49ff00"/>
<rect x="504.9" y="27.1" width="5" height="5" fill="#45ff00"/>
<rect x="509.9" y="27.1" width="5" height="5" fill="#40ff00"/>
<rect x="514.9" y="27.1" width="5" height="5" fill="#3aff00"/>
<rect x="519.9" y="27.1" width="5" height="5" fill="#33ff00"/>
<rect x="524.9" y="27.1" width="5" height="5" fill="#2bff00"/>
<rect x="529.9" y="27.1" width="5" height="5" fill="#22ff00"/>
<rect x="534.9" y="27.1" width="5" height="5" fill="#18ff00"/>
<rect x="539.9" y="27.1" width="5" height="5" fill="#0dff00"/>
<rect x="544.9" y="27.1" width="5" height="5" fill="#01ff00"/>
<rect x="549.9" y="27.1" width="5" height="5" fill="#00ff0c"/>
<rect x="554.9" y="27.1" width="5" height="5" fill="#00ff1a"/>
<rect x="559.9" y="27.1" width="5" height="5" fill="#00ff29"/>
<rect x="564.9" y="27.1" width="5" height="5" fill="#00ff39"/>
<rect x="569.9" y="27.1" width="5" height="5" fill="#00ff4b"/>
<rect x="574.9" y="27.1" width="5" height="5" fill="#00ff5d"/>
<rect x="579.9" y="27.1" width="5" height="5" fill="#00ff71"/>
<rect x="584.9" y="27.1" width="5" height="5" fill="#00ff85"/>
<rect x="589.9" y="27.1" width="5" height="5" fill="#00ff9a"/>
<rect x="594.9" y="27.1" width="5" height="5" fill="#00ffb1"/>
<rect x="599.9" y="27.1" width="5" height="5" fill="#00ffc8"/>
<rect x="604.9" y="27.1" width="5" height="5" fill="#00ffe1"/>
<rect x="609.9" y="27.1" width="5" height="5" fill="#00fffb"/>
<rect x="614.9" y="27.1" width="5" height="5" fill="#00e9ff"/>
<rect x="619.9" y="27.1" width="5" height="5" fill="#00cdff"/>
<rect x="444.9" y="32.1" width="5" height="5" fill="#14ff00"/>
<rect x="449.9" y="32.1" width="5" height="5" fill="#1dff00"/>
<rect x="454.9" y="32.1" width="5" height="5" fill="#24ff00"/>
<rect x="459.9" y="32.1" width="5" height="5" fill="#2aff00"/>
<rect x="464.9" y="32.1" width="5" height="5" fill="#2fff00"/>
<rect x="469.9" y="32.1" width="5" height="5" fill="#33ff00"/>
<rect x="474.9" y="32.1" width="5" height="5" fill="#36ff00"/>
<rect x="479.9" y="32.1" width="5" height="5" fill="#38ff00"/>
<rect x="484.9" y="32.1" width="5" height="5" fill="#39ff00"/>
<rect x="489.9" y="32.1" width="5" height="5" fill="#39ff00"/>
<rect x="494.9" y="32.1" width="5" height="5" fill="#38ff00"/>
<rect x="499.9" y="32.1" width="5" height="5" fill="#36ff00"/>
<rect x="504.9" y="32.1" width="5" height="5" fill="#33ff00"/>
<rect x="509.9" y="32.1" width="5" height="5" fill="#2fff00"/>
<rect x="514.9" y="32.1" width="5" height="5" fill="#29ff00"/>
<rect x="519.9" y="32.1" width="5" height="5" fill="#23ff00"/>
<rect x="524.9" y="32.1" width="5" height="5" fill="#1cff00"/>
<rect x="529.9" y="32.1" width="5" height="5" fill="#13ff00"/>
<rect x="534.9" y="32.1" width="5" height="5" fill="#0aff00"/>
<rect x="539.9" y="32.1" width="5" height="5" fill="#00ff00"/>
<rect x="544.9" y="32.1" width="5" height="5" fill="#00ff0c"/>
<rect x="549.9" y="32.1" width="5" height="5" fill="#00ff19"/>
<rect x="554.9" y="32.1" width="5" height="5" fill="#00ff26"/>
<rect x="559.9" y="32.1" width="5" height="5" fill="#00ff35"/>
<rect x="564.9" y="32.1" width="5" height="5" fill="#00ff44"/>
<rect x="569.9" y="32.1" width="5" height="5" fill="#00ff55"/>
<rect x="574.9" y="32.1" width="5" height="5" fill="#00ff67"/>
<rect x="579.9" y="32.1" width="5" height="5" fill="#00ff7a"/>
<rect x="584.9" y="32.1" width="5" height="5" fill="#00ff8e"/>
<rect x="589.9" y="32.1" width="5" height="5" fill="#00ffa3"/>
<rect x="594.9" y="32.1" width="5" height="5" fill="#00ffb8"/>
<rect x="599.9" y="32.1" width="5" height="5" fill="#00ffcf"/>
<rect x="604.9" y="32.1" width="5" height="5" fill="#00ffe7"/>
<rect x="609.9" y="32.1" width="5" height="5" fill="#00fdff"/>
<rect x="614.9" y="32.1" width="5" height="5" fill="#00e3ff"/>
<rect x="619.9" y="32.1" width="5" height="5" fill="#00c8ff"/>
<rect x="444.9" y="37.1" width="5" height="5" fill="#00ff04"/>
<rect x="449.9" y="37.1" width="5" height="5" fill="#05ff00"/>
<rect x="454.9" y="37.1" width="5" height="5" fill="#0dff00"/>
<rect x="459.9" y="37.1" width="5" height="5" fill="#14ff00"/>
<rect x="464.9" y="37.1" width="5" height="5" fill="#19ff00"/>
<rect x="469.9" y="37.1" width="5" height="5" fill="#1eff00"/>
<rect x="474.9" y="37.1" width="5" height="5" fill="#22ff00"/>
<rect x="479.9" y="37.1" width="5" height="5" fill="#24ff00"/>
<rect x="484.9" y="37.1" width="5" height="5" fill="#26ff00"/>
<rect x="489.9" y="37.1" width="5" height="5" fill="#27ff00"/>
<rect x="494.9" y="37.1" width="5" height="5" fill="#26ff00"/>
<rect x="499.9" y="37.1" width="5" height="5" fill="#24ff00"/>
<rect x="504.9" y="37.1" width="5" height="5" fill="#22ff00"/>
<rect x="509.9" y="37.1" width="5" height="5" fill="#1eff00"/>
<rect x="514.9" y="37.1" width="5" height="5" fill="#1aff00"/>
<rect x="519.9" y="37.1" width="5" height="5" fill="#14ff00"/>
<rect x="524.9" y="37.1" width="5" height="5" fill="#0dff00"/>
<rect x="529.9" y="37.1" width="5" height="5" fill="#05ff00"/>
<rect x="534.9" y="37.1" width="5" height="5" fill="#00ff04"/>
<rect x="539.9" y="37.1" width="5" height="5" fill="#00ff0e"/>
<rect x="544.9" y="37.1" width="5" height="5" fill="#00ff19"/>
<rect x="549.9" y="37.1" width="5" height="5" fill="#00ff24"/>
<rect x="554.9" y="37.1" width="5" height="5" fill="#00ff32"/>
<rect x="559.9" y="37.1" width="5" height="5" fill="#00ff40"/>
<rect x="564.9" y="37.1" width="5" height="5" fill="#00ff4f"/>
<rect x="569.9" y="37.1" width="5" height="5" fill="#00ff5f"/>
<rect x="574.9" y="37.1" width="5" height="5" fill="#00ff70"/>
<rect x="579.9" y="37.1" width="5" height="5" fill="#00ff82"/>
<rect x="584.9" y="37.1" width="5" height="5" fill="#00ff96"/>
<rect x="589.9" y="37.1" width="5" height="5" fill="#00ffaa"/>
<rect x="594.9" y="37.1" width="5" height="5" fill="#00ffbf"/>
<rect x="599.9" y="37.1" width="5" height="5" fill="#00ffd6"/>
<rect x="604.9" y="37.1" width="5" height="5" fill="#00ffed"/>
<rect x="609.9" y="37.1" width="5" height="5" fill="#00f8ff"/>
<rect x="614.9" y="37.1" width="5" height="5" fill="#00dfff"/>
<rect x="619.9" y="37.1" width="5" height="5" fill="#00c4ff"/>
<rect x="444.9" y="42.1" width="5" height="5" fill="#00ff1b"/>
<rect x="449.9" y="42.1" width="5" height="5" fill="#00ff12"/>
<rect x="454.9" y="42.1" width="5" height="5" fill="#00ff09"/>
<rect x="459.9" y="42.1" width="5" height="5" fill="#00ff02"/>
<rect x="464.9" y="42.1" width="5" height="5" fill="#04ff00"/>
<rect x="469.9" y="42.1" width="5" height="5" fill="#0aff00"/>
<rect x="474.9" y="42.1" width="5" height="5" fill="#0eff00"/>
<rect x="479.9" y="42.1" width="5" height="5" fill="#11ff00"/>
<rect x="484.9" y="42.1" width="5" height="5" fill="#13ff00"/>
<rect x="489.9" y="42.1" width="5" height="5" fill="#14ff00"/>
<rect x="494.9" y="42.1" width="5" height="5" fill="#14ff00"/>
<rect x="499.9" y="42.1" width="5" height="5" fill="#13ff00"/>
<rect x="504.9" y="42.1" width="5" height="5" fill="#11ff00"/>
<rect x="509.9" y="42.1" width="5" height="5" fill="#0eff00"/>
<rect x="514.9" y="42.1" width="5" height="5" fill="#0aff00"/>
<rect x="519.9" y="42.1" width="5" height="5" fill="#05ff00"/>
<rect x="524.9" y="42.1" width="5" height="5" fill="#00ff01"/>
<rect x="529.9" y="42.1" width="5" height="5" fill="#00ff08"/>
<rect x="534.9" y="42.1" width="5" height="5" fill="#00ff11"/>
<rect x="539.9" y="42.1" width="5" height="5" fill="#00ff1a"/>
<rect x="544.9" y="42.1" width="5" height="5" fill="#00ff24"/>
<rect x="549.9" y="42.1" width="5" height="5" fill="#00ff30"/>
<rect x="554.9" y="42.1" width="5" height="5" fill="#00ff3c"/>
<rect x="559.9" y="42.1" width="5" height="5" fill="#00ff4a"/>
<rect x="564.9" y="42.1" width="5" height="5" fill="#00ff58"/>
<rect x="569.9" y="42.1" width="5" height="5" fill="#00ff68"/>
<rect x="574.9" y="42.1" width="5" height="5" fill="#00ff78"/>
<rect x="579.9" y="42.1" width="5" height="5" fill="#00ff8a"/>
<rect x="584.9" y="42.1" width="5" height="5" fill="#00ff9d"/>
<rect x="589.9" y="42.1" width="5" height="5" fill="#00ffb0"/>
<rect x="594.9" y="42.1" width="5" height="5" fill="#00ffc5"/>
<rect x="599.9" y="42.1" width="5" height="5" fill="#00ffdb"/>
<rect x="604.9" y="42.1" width="5" height="5" fill="#00fff2"/>
<rect x="609.9" y="42.1" width="5" height="5" fill="#00f4ff"/>
<rect x="614.9" y="42.1" width="5" height="5" fill="#00dbff"/>
<rect x="619.9" y="42.1" width="5" height="5" fill="#00c1ff"/>
<rect x="444.9" y="47.1" width="5" height="5" fill="#00ff32"/>
<rect x="449.9" y="47.1" width="5" height="5" fill="#00ff28"/>
<rect x="454.9" y="47.1" width="5" height="5" fill="#00ff1f"/>
<rect x="459.9" y="47.1" width="5" height="5" fill="#00ff17"/>
<rect x="464.9" y="47.1" width="5" height="5" fill="#00ff10"/>
<rect x="469.9" y="47.1" width="5" height="5" fill="#00ff0a"/>
<rect x="474.9" y="47.1" width="5" height="5" fill="#00ff05"/>
<rect x="479.9" y="47.1" width="5" height="5" fill="#00ff01"/>
<rect x="484.9" y="47.1" width="5" height="5" fill="#01ff00"/>
<rect x="489.9" y="47.1" width="5" height="5" fill="#03ff00"/>
<rect x="494.9" y="47.1" width="5" height="5" fill="#04ff00"/>
<rect x="499.9" y="47.1" width="5" height="5" fill="#03ff00"/>
<rect x="504.9" y="47.1" width="5" height="5" fill="#02ff00"/>
<rect x="509.9" y="47.1" width="5" height="5" fill="#00ff01"/>
<rect x="514.9" y="47.1" width="5" height="5" fill="#00ff04"/>
<rect x="519.9" y="47.1" width="5" height="5" fill="#00ff09"/>
<rect x="524.9" y="47.1" width="5" height="5" fill="#00ff0e"/>
<rect x="529.9" y="47.1" width="5" height="5" fill="#00ff15"/>
<rect x="534.9" y="47.1" width="5" height="5" fill="#00ff1d"/>
<rect x="539.9" y="47.1" width="5" height="5" fill="#00ff26"/>
<rect x="544.9" y="47.1" width="5" height="5" fill="#00ff2f"/>
<rect x="549.9" y="47.1" width="5" height="5" fill="#00ff3a"/>
<rect x="554.9" y="47.1" width="5" height="5" fill="#00ff46"/>
<rect x="559.9" y="47.1" width="5" height="5" fill="#00ff53"/>
<rect x="564.9" y="47.1" width="5" height="5" fill="#00ff61"/>
<rect x="569.9" y="47.1" width="5" height="5" fill="#00ff70"/>
<rect x="574.9" y="47.1" width="5" height="5" fill="#00ff80"/>
<rect x="579.9" y="47.1" width="5" height="5" fill="#00ff91"/>
<rect x="584.9" y="47.1" width="5" height="5" fill="#00ffa3"/>
<rect x="589.9" y="47.1" width="5" height="5" fill="#00ffb6"/>
<rect x="594.9" y="47.1" width="5" height="5" fill="#00ffcb"/>
<rect x="599.9" y="47.1" width="5" height="5" fill="#00ffe0"/>
<rect x="604.9" y="47.1" width="5" height="5" fill="#00fff6"/>
<rect x="609.9" y="47.1" width="5" height="5" fill="#00f0ff"/>
<rect x="614.9" y="47.1" width="5" height="5" fill="#00d8ff"/>
<rect x="619.9" y="47.1" width="5" height="5" fill="#00bfff"/>
<rect x="444.9" y="52.1" width="5" height="5" fill="#00ff48"/>
<rect x="449.9" y="52.1" width="5" height="5" fill="#00ff3d"/>
<rect x="454.9" y="52.1" width="5" height="5" fill="#00ff33"/>
<rect x="459.9" y="52.1" width="5" height="5" fill="#00ff2b"/>
<rect x="464.9" y="52.1" width="5" height="5" fill="#00ff23"/>
<rect x="469.9" y="52.1" width="5" height="5" fill="#00ff1d"/>
<rect x="474.9" y="52.1" width="5" height="5" fill="#00ff18"/>
<rect x="479.9" y="52.1" width="5" height="5" fill="#00ff13"/>
<rect x="484.9" y="52.1" width="5" height="5" fill="#00ff10"/>
<rect x="489.9" y="52.1" width="5" height="5" fill="#00ff0e"/>
<rect x="494.9" y="52.1" width="5" height="5" fill="#00ff0d"/>
<rect x="499.9" y="52.1" width="5" height="5" fill="#00ff0c"/>
<rect x="504.9" y="52.1" width="5" height="5" fill="#00ff0d"/>
<rect x="509.9" y="52.1" width="5" height="5" fill="#00ff0f"/>
<rect x="514.9" y="52.1" width="5" height="5" fill="#00ff12"/>
<rect x="519.9" y="52.1" width="5" height="5" fill="#00ff16"/>
<rect x="524.9" y="52.1" width="5" height="5" fill="#00ff1b"/>
<rect x="529.9" y="52.1" width="5" height="5" fill="#00ff21"/>
<rect x="534.9" y="52.1" width="5" height="5" fill="#00ff28"/>
<rect x="539.9" y="52.1" width="5" height="5" fill="#00ff31"/>
<rect x="544.9" y="52.1" width="5" height="5" fill="#00ff3a"/>
<rect x="549.9" y="52.1" width="5" height="5" fill="#00ff44"/>
<rect x="554.9" y="52.1" width="5" height="5" fill="#00ff4f"/>
<rect x="559.9" y="52.1" width="5" height="5" fill="#00ff5c"/>
<rect x="564.9" y="52.1" width="5" height="5" fill="#00ff69"/>
<rect x="569.9" y="52.1" width="5" height="5" fill="#00ff77"/>
<rect x="574.9" y="52.1" width="5" height="5" fill="#00ff87"/>
<rect x="579.9" y="52.1" width="5" height="5" fill="#00ff97"/>
<rect x="584.9" y="52.1" width="5" height="5" fill="#00ffa9"/>
<rect x="589.9" y="52.1" width="5" height="5" fill="#00ffbc"/>
<rect x="594.9" y="52.1" width="5" height="5" fill="#00ffcf"/>
<rect x="599.9" y="52.1" width="5" height="5" fill="#00ffe4"/>
<rect x="604.9" y="52.1" width="5" height="5" fill="#00fffa"/>
<rect x="609.9" y="52.1" width="5" height="5" fill="#00eeff"/>
<rect x="614.9" y="52.1" width="5" height="5" fill="#00d6ff"/>
<rect x="619.9" y="52.1" width="5" height="5" fill="#00bdff"/>
<rect x="444.9" y="57.1" width="5" height="5" fill="#00ff5d"/>
<rect x="449.9" y="57.1" width="5" height="5" fill="#00ff52"/>
<rect x="454.9" y="57.1" width="5" height="5" fill="#00ff47"/>
<rect x="459.9" y="57.1" width="5" height="5" fill="#00ff3e"/>
<rect x="464.9" y="57.1" width="5" height="5" fill="#00ff36"/>
<rect x="469.9" y="57.1" width="5" height="5" fill="#00ff2f"/>
<rect x="474.9" y="57.1" width="5" height="5" fill="#00ff29"/>
<rect x="479.9" y="57.1" width="5" height="5" fill="#00ff24"/>
<rect x="484.9" y="57.1" width="5" height="5" fill="#00ff21"/>
<rect x="489.9" y="57.1" width="5" height="5" fill="#00ff1e"/>
<rect x="494.9" y="57.1" width="5" height="5" fill="#00ff1c"/>
<rect x="499.9" y="57.1" width="5" height="5" fill="#00ff1b"/>
<rect x="504.9" y="57.1" width="5" height="5" fill="#00ff1b"/>
<rect x="509.9" y="57.1" width="5" height="5" fill="#00ff1d"/>
<rect x="514.9" y="57.1" width="5" height="5" fill="#00ff1f"/>
<rect x="519.9" y="57.1" width="5" height="5" fill="#00ff23"/>
<rect x="524.9" y="57.1" width="5" height="5" fill="#00ff27"/>
<rect x="529.9" y="57.1" width="5" height="5" fill="#00ff2d"/>
<rect x="534.9" y="57.1" width="5" height="5" fill="#00ff33"/>
<rect x="539.9" y="57.1" width="5" height="5" fill="#00ff3b"/>
<rect x="544.9" y="57.1" width="5" height="5" fill="#00ff43"/>
<rect x="549.9" y="57.1" width="5" height="5" fill="#00ff4d"/>
<rect x="554.9" y="57.1" width="5" height="5" fill="#00ff58"/>
<rect x="559.9" y="57.1" width="5" height="5" fill="#00ff64"/>
<rect x="564.9" y="57.1" width="5" height="5" fill="#00ff70"/>
<rect x="569.9" y="57.1" width="5" height="5" fill="#00ff7e"/>
<rect x="574.9" y="57.1" width="5" height="5" fill="#00ff8d"/>
<rect x="579.9" y="57.1" width="5" height="5" fill="#00ff9d"/>
<rect x="584.9" y="57.1" width="5" height="5" fill="#00ffae"/>
<rect x="589.9" y="57.1" width="5" height="5" fill="#00ffc0"/>
<rect x="594.9" y="57.1" width="5" height="5" fill="#00ffd3"/>
<rect x="599.9" y="57.1" width="5" height="5" fill="#00ffe7"/>
<rect x="604.9" y="57.1" width="5" height="5" fill="#00fffc"/>
<rect x="609.9" y="57.1" width="5" height="5" fill="#00ebff"/>
<rect x="614.9" y="57.1" width="5" height="5" fill="#00d4ff"/>
<rect x="619.9" y="57.1" width="5" height="5" fill="#00bcff"/>
<rect x="444.9" y="62.1" width="5" height="5" fill="#00ff71"/>
<rect x="449.9" y="62.1" width="5" height="5" fill="#00ff65"/>
<rect x="454.9" y="62.1" width="5" height="5" fill="#00ff5b"/>
<rect x="459.9" y="62.1" width="5" height="5" fill="#00ff51"/>
<rect x="464.9" y="62.1" width="5" height="5" fill="#00ff48"/>
<rect x="469.9" y="62.1" width="5" height="5" fill="#00ff41"/>
<rect x="474.9" y="62.1" width="5" height="5" fill="#00ff3a"/>
<rect x="479.9" y="62.1" width="5" height="5" fill="#00ff35"/>
<rect x="484.9" y="62.1" width="5" height="5" fill="#00ff30"/>
<rect x="489.9" y="62.1" width="5" height="5" fill="#00ff2d"/>
<rect x="494.9" y="62.1" width="5" height="5" fill="#00ff2b"/>
<rect x="499.9" y="62.1" width="5" height="5" fill="#00ff29"/>
<rect x="504.9" y="62.1" width="5" height="5" fill="#00ff29"/>
<rect x="509.9" y="62.1" width="5" height="5" fill="#00ff2a"/>
<rect x="514.9" y="62.1" width="5" height="5" fill="#00ff2c"/>
<rect x="519.9" y="62.1" width="5" height="5" fill="#00ff2e"/>
<rect x="524.9" y="62.1" width="5" height="5" fill="#00ff32"/>
<rect x="529.9" y="62.1" width="5" height="5" fill="#00ff37"/>
<rect x="534.9" y="62.1" width="5" height="5" fill="#00ff3d"/>
<rect x="539.9" y="62.1" width="5" height="5" fill="#00ff44"/>
<rect x="544.9" y="62.1" width="5" height="5" fill="#00ff4c"/>
<rect x="549.9" y="62.1" width="5" height="5" fill="#00ff55"/>
<rect x="554.9" y="62.1" width="5" height="5" fill="#00ff60"/>
<rect x="559.9" y="62.1" width="5" height="5" fill="#00ff6b"/>
<rect x="564.9" y="62.1" width="5" height="5" fill="#00ff77"/>
<rect x="569.9" y="62.1" width="5" height="5" fill="#00ff84"/>
<rect x="574.9" y="62.1" width="5" height="5" fill="#00ff93"/>
<rect x="579.9" y="62.1" width="5" height="5" fill="#00ffa2"/>
<rect x="584.9" y="62.1" width="5" height="5" fill="#00ffb2"/>
<rect x="589.9" y="62.1" width="5" height="5" fill="#00ffc4"/>
<rect x="594.9" y="62.1" width="5" height="5" fill="#00ffd6"/>
<rect x="599.9" y="62.1" width="5" height="5" fill="#00ffea"/>
<rect x="604.9" y="62.1" width="5" height="5" fill="#00fffe"/>
<rect x="609.9" y="62.1" width="5" height="5" fill="#00eaff"/>
<rect x="614.9" y="62.1" width="5" height="5" fill="#00d3ff"/>
<rect x="619.9" y="62.1" width="5" height="5" fill="#00bcff"/>
<rect x="444.9" y="67.1" width="5" height="5" fill="#00ff85"/>
<rect x="449.9" y="67.1" width="5" height="5" fill="#00ff78"/>
<rect x="454.9" y="67.1" width="5" height="5" fill="#00ff6d"/>
<rect x="459.9" y="67.1" width="5" height="5" fill="#00ff63"/>
<rect x="464.9" y="67.1" width="5" height="5" fill="#00ff5a"/>
<rect x="469.9" y="67.1" width="5" height="5" fill="#00ff52"/>
<rect x="474.9" y="67.1" width="5" height="5" fill="#00ff4b"/>
<rect x="479.9" y="67.1" width="5" height="5" fill="#00ff44"/>
<rect x="484.9" y="67.1" width="5" height="5" fill="#00ff3f"/>
<rect x="489.9" y="67.1" width="5" height="5" fill="#00ff3b"/>
<rect x="494.9" y="67.1" width="5" height="5" fill="#00ff39"/>
<rect x="499.9" y="67.1" width="5" height="5" fill="#00ff37"/>
<rect x="504.9" y="67.1" width="5" height="5" fill="#00ff36"/>
<rect x="509.9" y="67.1" width="5" height="5" fill="#00ff36"/>
<rect x="514.9" y="67.1" width="5" height="5" fill="#00ff37"/>
<rect x="519.9" y="67.1" width="5" height="5" fill="#00ff39"/>
<rect x="524.9" y="67.1" width="5" height="5" fill="#00ff3d"/>
<rect x="529.9" y="67.1" width="5" height="5" fill="#00ff41"/>
<rect x="534.9" y="67.1" width="5" height="5" fill="#00ff47"/>
<rect x="539.9" y="67.1" width="5" height="5" fill="#00ff4d"/>
<rect x="544.9" y="67.1" width="5" height="5" fill="#00ff55"/>
<rect x="549.9" y="67.1" width="5" height="5" fill="#00ff5d"/>
<rect x="554.9" y="67.1" width="5" height="5" fill="#00ff67"/>
<rect x="559.9" y="67.1" width="5" height="5" fill="#00ff71"/>
<rect x="564.9" y="67.1" width="5" height="5" fill="#00ff7d"/>
<rect x="569.9" y="67.1" width="5" height="5" fill="#00ff8a"/>
<rect x="574.9" y="67.1" width="5" height="5" fill="#00ff97"/>
<rect x="579.9" y="67.1" width="5" height="5" fill="#00ffa6"/>
<rect x="584.9" y="67.1" width="5" height="5" fill="#00ffb6"/>
<rect x="589.9" y="67.1" width="5" height="5" fill="#00ffc7"/>
<rect x="594.9" y="67.1" width="5" height="5" fill="#00ffd9"/>
<rect x="599.9" y="67.1" width="5" height="5" fill="#00ffec"/>
<rect x="604.9" y="67.1" width="5" height="5" fill="#00feff"/>
<rect x="609.9" y="67.1" width="5" height="5" fill="#00e9ff"/>
<rect x="614.9" y="67.1" width="5" height="5" fill="#00d3ff"/>
<rect x="619.9" y="67.1" width="5" height="5" fill="#00bcff"/>
<rect x="444.9" y="72.1" width="5" height="5" fill="#00ff98"/>
<rect x="449.9" y="72.1" width="5" height="5" fill="#00ff8b"/>
<rect x="454.9" y="72.1" width="5" height="5" fill="#00ff7f"/>
<rect x="459.9" y="72.1" width="5" height="5" fill="#00ff74"/>
<rect x="464.9" y="72.1" width="5" height="5" fill="#00ff6a"/>
<rect x="469.9" y="72.1" width="5" height="5" fill="#00ff62"/>
<rect x="474.9" y="72.1" width="5" height="5" fill="#00ff5a"/>
<rect x="479.9" y="72.1" width="5" height="5" fill="#00ff53"/>
<rect x="484.9" y="72.1" width="5" height="5" fill="#00ff4e"/>
<rect x="489.9" y="72.1" width="5" height="5" fill="#00ff49"/>
<rect x="494.9" y="72.1" width="5" height="5" fill="#00ff46"/>
<rect x="499.9" y="72.1" width="5" height="5" fill="#00ff43"/>
<rect x="504.9" y="72.1" width="5" height="5" fill="#00ff42"/>
<rect x="509.9" y="72.1" width="5" height="5" fill="#00ff41"/>
<rect x="514.9" y="72.1" width="5" height="5" fill="#00ff42"/>
<rect x="519.9" y="72.1" width="5" height="5" fill="#00ff44"/>
<rect x="524.9" y="72.1" width="5" height="5" fill="#00ff47"/>
<rect x="529.9" y="72.1" width="5" height="5" fill="#00ff4a"/>
<rect x="534.9" y="72.1" width="5" height="5" fill="#00ff4f"/>
<rect x="539.9" y="72.1" width="5" height="5" fill="#00ff55"/>
<rect x="544.9" y="72.1" width="5" height="5" fill="#00ff5c"/>
<rect x="549.9" y="72.1" width="5" height="5" fill="#00ff64"/>
<rect x="554.9" y="72.1" width="5" height="5" fill="#00ff6d"/>
<rect x="559.9" y="72.1" width="5" height="5" fill="#00ff77"/>
<rect x="564.9" y="72.1" width="5" height="5" fill="#00ff82"/>
<rect x="569.9" y="72.1" width="5" height="5" fill="#00ff8e"/>
<rect x="574.9" y="72.1" width="5" height="5" fill="#00ff9b"/>
<rect x="579.9" y="72.1" width="5" height="5" fill="#00ffaa"/>
<rect x="584.9" y="72.1" width="5" height="5" fill="#00ffb9"/>
<rect x="589.9" y="72.1" width="5" height="5" fill="#00ffc9"/>
<rect x="594.9" y="72.1" width="5" height="5" fill="#00ffda"/>
<rect x="599.9" y="72.1" width="5" height="5" fill="#00ffed"/>
<rect x="604.9" y="72.1" width="5" height="5" fill="#00feff"/>
<rect x="609.9" y="72.1" width="5" height="5" fill="#00e9ff"/>
<rect x="614.9" y="72.1" width="5" height="5" fill="#00d4ff"/>
<rect x="619.9" y="72.1" width="5" height="5" fill="#00bdff"/>
<rect x="444.9" y="77.1" width="5" height="5" fill="#00ffaa"/>
<rect x="449.9" y="77.1" width="5" height="5" fill="#00ff9d"/>
<rect x="454.9" y="77.1" width="5" height="5" fill="#00ff90"/>
<rect x="459.9" y="77.1" width="5" height="5" fill="#00ff85"/>
<rect x="464.9" y="77.1" width="5" height="5" fill="#00ff7a"/>
<rect x="469.9" y="77.1" width="5" height="5" fill="#00ff71"/>
<rect x="474.9" y="77.1" width="5" height="5" fill="#00ff69"/>
<rect x="479.9" y="77.1" width="5" height="5" fill="#00ff62"/>
<rect x="484.9" y="77.1" width="5" height="5" fill="#00ff5b"/>
<rect x="489.9" y="77.1" width="5" height="5" fill="#00ff56"/>
<rect x="494.9" y="77.1" width="5" height="5" fill="#00ff52"/>
<rect x="499.9" y="77.1" width="5" height="5" fill="#00ff4f"/>
<rect x="504.9" y="77.1" width="5" height="5" fill="#00ff4d"/>
<rect x="509.9" y="77.1" width="5" height="5" fill="#00ff4c"/>
<rect x="514.9" y="77.1" width="5" height="5" fill="#00ff4c"/>
<rect x="519.9" y="77.1" width="5" height="5" fill="#00ff4d"/>
<rect x="524.9" y="77.1" width="5" height="5" fill="#00ff50"/>
<rect x="529.9" y="77.1" width="5" height="5" fill="#00ff53"/>
<rect x="534.9" y="77.1" width="5" height="5" fill="#00ff57"/>
<rect x="539.9" y="77.1" width="5" height="5" fill="#00ff5c"/>
<rect x="544.9" y="77.1" width="5" height="5" fill="#00ff63"/>
<rect x="549.9" y="77.1" width="5" height="5" fill="#00ff6a"/>
<rect x="554.9" y="77.1" width="5" height="5" fill="#00ff73"/>
<rect x="559.9" y="77.1" width="5" height="5" fill="#00ff7c"/>
<rect x="564.9" y="77.1" width="5" height="5" fill="#00ff86"/>
<rect x="569.9" y="77.1" width="5" height="5" fill="#00ff92"/>
<rect x="574.9" y="77.1" width="5" height="5" fill="#00ff9f"/>
<rect x="579.9" y="77.1" width="5" height="5" fill="#00ffac"/>
<rect x="584.9" y="77.1" width="5" height="5" fill="#00ffbb"/>
<rect x="589.9" y="77.1" width="5" height="5" fill="#00ffcb"/>
<rect x="594.9" y="77.1" width="5" height="5" fill="#00ffdb"/>
<rect x="599.9" y="77.1" width="5" height="5" fill="#00ffed"/>
<rect x="604.9" y="77.1" width="5" height="5" fill="#00feff"/>
<rect x="609.9" y="77.1" width="5" height="5" fill="#00eaff"/>
<rect x="614.9" y="77.1" width="5" height="5" fill="#00d5ff"/>
<rect x="619.9" y="77.1" width="5" height="5" fill="#00bfff"/>
<rect x="444.9" y="82.1" width="5" height="5" fill="#00ffbc"/>
<rect x="449.9" y="82.1" width="5" height="5" fill="#00ffae"/>
<rect x="454.9" y="82.1" width="5" height="5" fill="#00ffa1"/>
<rect x="459.9" y="82.1" width="5" height="5" fill="#00ff95"/>
<rect x="464.9" y="82.1" width="5" height="5" fill="#00ff8a"/>
<rect x="469.9" y="82.1" width="5" height="5" fill="#00ff80"/>
<rect x="474.9" y="82.1" width="5" height="5" fill="#00ff77"/>
<rect x="479.9" y="82.1" width="5" height="5" fill="#00ff6f"/>
<rect x="484.9" y="82.1" width="5" height="5" fill="#00ff68"/>
<rect x="489.9" y="82.1" width="5" height="5" fill="#00ff63"/>
<rect x="494.9" y="82.1" width="5" height="5" fill="#00ff5e"/>
<rect x="499.9" y="82.1" width="5" height="5" fill="#00ff5a"/>
<rect x="504.9" y="82.1" width="5" height="5" fill="#00ff58"/>
<rect x="509.9" y="82.1" width="5" height="5" fill="#00ff56"/>
<rect x="514.9" y="82.1" width="5" height="5" fill="#00ff56"/>
<rect x="519.9" y="82.1" width="5" height="5" fill="#00ff56"/>
<rect x="524.9" y="82.1" width="5" height="5" fill="#00ff58"/>
<rect x="529.9" y="82.1" width="5" height="5" fill="#00ff5b"/>
<rect x="534.9" y="82.1" width="5" height="5" fill="#00ff5e"/>
<rect x="539.9" y="82.1" width="5" height="5" fill="#00ff63"/>
<rect x="544.9" y="82.1" width="5" height="5" fill="#00ff69"/>
<rect x="549.9" y="82.1" width="5" height="5" fill="#00ff70"/>
<rect x="554.9" y="82.1" width="5" height="5" fill="#00ff77"/>
<rect x="559.9" y="82.1" width="5" height="5" fill="#00ff80"/>
<rect x="564.9" y="82.1" width="5" height="5" fill="#00ff8a"/>
<rect x="569.9" y="82.1" width="5" height="5" fill="#00ff95"/>
<rect x="574.9" y="82.1" width="5" height="5" fill="#00ffa1"/>
<rect x="579.9" y="82.1" width="5" height="5" fill="#00ffae"/>
<rect x="584.9" y="82.1" width="5" height="5" fill="#00ffbc"/>
<rect x="589.9" y="82.1" width="5" height="5" fill="#00ffcb"/>
<rect x="594.9" y="82.1" width="5" height="5" fill="#00ffdc"/>
<rect x="599.9" y="82.1" width="5" height="5" fill="#00ffed"/>
<rect x="604.9" y="82.1" width="5" height="5" fill="#00ffff"/>
<rect x="609.9" y="82.1" width="5" height="5" fill="#00ecff"/>
<rect x="614.9" y="82.1" width="5" height="5" fill="#00d7ff"/>
<rect x="619.9" y="82.1" width="5" height="5" fill="#00c2ff"/>
<rect x="444.9" y="87.1" width="5" height="5" fill="#00ffcc"/>
<rect x="449.9" y="87.1" width="5" height="5" fill="#00ffbe"/>
<rect x="454.9" y="87.1" width="5" height="5" fill="#00ffb0"/>
<rect x="459.9" y="87.1" width="5" height="5" fill="#00ffa4"/>
<rect x="464.9" y="87.1" width="5" height="5" fill="#00ff98"/>
<rect x="469.9" y="87.1" width="5" height="5" fill="#00ff8e"/>
<rect x="474.9" y="87.1" width="5" height="5" fill="#00ff84"/>
<rect x="479.9" y="87.1" width="5" height="5" fill="#00ff7c"/>
<rect x="484.9" y="87.1" width="5" height="5" fill="#00ff75"/>
<rect x="489.9" y="87.1" width="5" height="5" fill="#00ff6e"/>
<rect x="494.9" y="87.1" width="5" height="5" fill="#00ff69"/>
<rect x="499.9" y="87.1" width="5" height="5" fill="#00ff65"/>
<rect x="504.9" y="87.1" width="5" height="5" fill="#00ff62"/>
<rect x="509.9" y="87.1" width="5" height="5" fill="#00ff60"/>
<rect x="514.9" y="87.1" width="5" height="5" fill="#00ff5f"/>
<rect x="519.9" y="87.1" width="5" height="5" fill="#00ff5f"/>
<rect x="524.9" y="87.1" width="5" height="5" fill="#00ff60"/>
<rect x="529.9" y="87.1" width="5" height="5" fill="#00ff62"/>
<rect x="534.9" y="87.1" width="5" height="5" fill="#00ff65"/>
<rect x="539.9" y="87.1" width="5" height="5" fill="#00ff69"/>
<rect x="544.9" y="87.1" width="5" height="5" fill="#00ff6e"/>
<rect x="549.9" y="87.1" width="5" height="5" fill="#00ff74"/>
<rect x="554.9" y="87.1" width="5" height="5" fill="#00ff7c"/>
<rect x="559.9" y="87.1" width="5" height="5" fill="#00ff84"/>
<rect x="564.9" y="87.1" width="5" height="5" fill="#00ff8d"/>
<rect x="569.9" y="87.1" width="5" height="5" fill="#00ff98"/>
<rect x="574.9" y="87.1" width="5" height="5" fill="#00ffa3"/>
<rect x="579.9" y="87.1" width="5" height="5" fill="#00ffb0"/>
<rect x="584.9" y="87.1" width="5" height="5" fill="#00ffbd"/>
<rect x="589.9" y="87.1" width="5" height="5" fill="#00ffcc"/>
<rect x="594.9" y="87.1" width="5" height="5" fill="#00ffdb"/>
<rect x="599.9" y="87.1" width="5" height="5" fill="#00ffec"/>
<rect x="604.9" y="87.1" width="5" height="5" fill="#00fffe"/>
<rect x="609.9" y="87.1" width="5" height="5" fill="#00eeff"/>
<rect x="614.9" y="87.1" width="5" height="5" fill="#00daff"/>
<rect x="619.9" y="87.1" width="5" height="5" fill="#00c5ff"/>
<rect x="444.9" y="92.1" width="5" height="5" fill="#00ffdc"/>
<rect x="449.9" y="92.1" width="5" height="5" fill="#00ffcd"/>
<rect x="454.9" y="92.1" width="5" height="5" fill="#00ffbf"/>
<rect x="459.9" y="92.1" width="5" height="5" fill="#00ffb2"/>
<rect x="464.9" y="92.1" width="5" height="5" fill="#00ffa6"/>
<rect x="469.9" y="92.1" width="5" height="5" fill="#00ff9b"/>
<rect x="474.9" y="92.1" width="5" height="5" fill="#00ff91"/>
<rect x="479.9" y="92.1" width="5" height="5" fill="#00ff88"/>
<rect x="484.9" y="92.1" width="5" height="5" fill="#00ff80"/>
<rect x="489.9" y="92.1" width="5" height="5" fill="#00ff79"/>
<rect x="494.9" y="92.1" width="5" height="5" fill="#00ff73"/>
<rect x="499.9" y="92.1" width="5" height="5" fill="#00ff6f"/>
<rect x="504.9" y="92.1" width="5" height="5" fill="#00ff6b"/>
<rect x="509.9" y="92.1" width="5" height="5" fill="#00ff68"/>
<rect x="514.9" y="92.1" width="5" height="5" fill="#00ff67"/>
<rect x="519.9" y="92.1" width="5" height="5" fill="#00ff66"/>
<rect x="524.9" y="92.1" width="5" height="5" fill="#00ff66"/>
<rect x="529.9" y="92.1" width="5" height="5" fill="#00ff68"/>
<rect x="534.9" y="92.1" width="5" height="5" fill="#00ff6a"/>
<rect x="539.9" y="92.1" width="5" height="5" fill="#00ff6e"/>
<rect x="544.9" y="92.1" width="5" height="5" fill="#00ff73"/>
<rect x="549.9" y="92.1" width="5" height="5" fill="#00ff78"/>
<rect x="554.9" y="92.1" width="5" height="5" fill="#00ff7f"/>
<rect x="559.9" y="92.1" width="5" height="5" fill="#00ff87"/>
<rect x="564.9" y="92.1" width="5" height="5" fill="#00ff8f"/>
<rect x="569.9" y="92.1" width="5" height="5" fill="#00ff99"/>
<rect x="574.9" y="92.1" width="5" height="5" fill="#00ffa4"/>
<rect x="579.9" y="92.1" width="5" height="5" fill="#00ffb0"/>
<rect x="584.9" y="92.1" width="5" height="5" fill="#00ffbd"/>
<rect x="589.9" y="92.1" width="5" height="5" fill="#00ffcb"/>
<rect x="594.9" y="92.1" width="5" height="5" fill="#00ffda"/>
<rect x="599.9" y="92.1" width="5" height="5" fill="#00ffea"/>
<rect x="604.9" y="92.1" width="5" height="5" fill="#00fffb"/>
<rect x="609.9" y="92.1" width="5" height="5" fill="#00f1ff"/>
<rect x="614.9" y="92.1" width="5" height="5" fill="#00ddff"/>
<rect x="619.9" y="92.1" width="5" height="5" fill="#00c9ff"/>
<rect x="444.9" y="97.1" width="5" height="5" fill="#00ffec"/>
<rect x="449.9" y="97.1" width="5" height="5" fill="#00ffdc"/>
<rect x="454.9" y="97.1" width="5" height="5" fill="#00ffcd"/>
<rect x="459.9" y="97.1" width="5" height="5" fill="#00ffc0"/>
<rect x="464.9" y="97.1" width="5" height="5" fill="#00ffb3"/>
<rect x="469.9" y="97.1" width="5" height="5" fill="#00ffa7"/>
<rect x="474.9" y="97.1" width="5" height="5" fill="#00ff9d"/>
<rect x="479.9" y="97.1" width="5" height="5" fill="#00ff93"/>
<rect x="484.9" y="97.1" width="5" height="5" fill="#00ff8b"/>
<rect x="489.9" y="97.1" width="5" height="5" fill="#00ff83"/>
<rect x="494.9" y="97.1" width="5" height="5" fill="#00ff7d"/>
<rect x="499.9" y="97.1" width="5" height="5" fill="#00ff78"/>
<rect x="504.9" y="97.1" width="5" height="5" fill="#00ff73"/>
<rect x="509.9" y="97.1" width="5" height="5" fill="#00ff70"/>
<rect x="514.9" y="97.1" width="5" height="5" fill="#00ff6e"/>
<rect x="519.9" y="97.1" width="5" height="5" fill="#00ff6d"/>
<rect x="524.9" y="97.1" width="5" height="5" fill="#00ff6d"/>
<rect x="529.9" y="97.1" width="5" height="5" fill="#00ff6d"/>
<rect x="534.9" y="97.1" width="5" height="5" fill="#00ff6f"/>
<rect x="539.9" y="97.1" width="5" height="5" fill="#00ff72"/>
<rect x="544.9" y="97.1" width="5" height="5" fill="#00ff76"/>
<rect x="549.9" y="97.1" width="5" height="5" fill="#00ff7c"/>
<rect x="554.9" y="97.1" width="5" height="5" fill="#00ff82"/>
<rect x="559.9" y="97.1" width="5" height="5" fill="#00ff89"/>
<rect x="564.9" y="97.1" width="5" height="5" fill="#00ff91"/>
<rect x="569.9" y="97.1" width="5" height="5" fill="#00ff9a"/>
<rect x="574.9" y="97.1" width="5" height="5" fill="#00ffa5"/>
<rect x="579.9" y="97.1" width="5" height="5" fill="#00ffb0"/>
<rect x="584.9" y="97.1" width="5" height="5" fill="#00ffbc"/>
<rect x="589.9" y="97.1" width="5" height="5" fill="#00ffca"/>
<rect x="594.9" y="97.1" width="5" height="5" fill="#00ffd8"/>
<rect x="599.9" y="97.1" width="5" height="5" fill="#00ffe8"/>
<rect x="604.9" y="97.1" width="5" height="5" fill="#00fff8"/>
<rect x="609.9" y="97.1" width="5" height="5" fill="#00f4ff"/>
<rect x="614.9" y="97.1" width="5" height="5" fill="#00e2ff"/>
<rect x="619.9" y="97.1" width="5" height="5" fill="#00ceff"/>
<rect x="444.9" y="102.1" width="5" height="5" fill="#00fffa"/>
<rect x="449.9" y="102.1" width="5" height="5" fill="#00ffea"/>
<rect x="454.9" y="102.1" width="5" height="5" fill="#00ffdb"/>
<rect x="459.9" y="102.1" width="5" height="5" fill="#00ffcd"/>
<rect x="464.9" y="102.1" width="5" height="5" fill="#00ffbf"/>
<rect x="469.9" y="102.1" width="5" height="5" fill="#00ffb3"/>
<rect x="474.9" y="102.1" width="5" height="5" fill="#00ffa8"/>
<rect x="479.9" y="102.1" width="5" height="5" fill="#00ff9e"/>
<rect x="484.9" y="102.1" width="5" height="5" fill="#00ff95"/>
<rect x="489.9" y="102.1" width="5" height="5" fill="#00ff8d"/>
<rect x="494.9" y="102.1" width="5" height="5" fill="#00ff86"/>
<rect x="499.9" y="102.1" width="5" height="5" fill="#00ff80"/>
<rect x="504.9" y="102.1" width="5" height="5" fill="#00ff7b"/>
<rect x="509.9" y="102.1" width="5" height="5" fill="#00ff77"/>
<rect x="514.9" y="102.1" width="5" height="5" fill="#00ff74"/>
<rect x="519.9" y="102.1" width="5" height="5" fill="#00ff73"/>
<rect x="524.9" y="102.1" width="5" height="5" fill="#00ff72"/>
<rect x="529.9" y="102.1" width="5" height="5" fill="#00ff72"/>
<rect x="534.9" y="102.1" width="5" height="5" fill="#00ff74"/>
<rect x="539.9" y="102.1" width="5" height="5" fill="#00ff76"/>
<rect x="544.9" y="102.1" width="5" height="5" fill="#00ff7a"/>
<rect x="549.9" y="102.1" width="5" height="5" fill="#00ff7e"/>
<rect x="554.9" y="102.1" width="5" height="5" fill="#00ff84"/>
<rect x="559.9" y="102.1" width="5" height="5" fill="#00ff8a"/>
<rect x="564.9" y="102.1" width="5" height="5" fill="#00ff92"/>
<rect x="569.9" y="102.1" width="5" height="5" fill="#00ff9b"/>
<rect x="574.9" y="102.1" width="5" height="5" fill="#00ffa4"/>
<rect x="579.9" y="102.1" width="5" height="5" fill="#00ffaf"/>
<rect x="584.9" y="102.1" width="5" height="5" fill="#00ffbb"/>
<rect x="589.9" y="102.1" width="5" height="5" fill="#00ffc8"/>
<rect x="594.9" y="102.1" width="5" height="5" fill="#00ffd5"/>
<rect x="599.9" y="102.1" width="5" height="5" fill="#00ffe4"/>
<rect x="604.9" y="102.1" width="5" height="5" fill="#00fff4"/>
<rect x="609.9" y="102.1" width="5" height="5" fill="#00f9ff"/>
<rect x="614.9" y="102.1" width="5" height="5" fill="#00e7ff"/>
<rect x="619.9" y="102.1" width="5" height="5" fill="#00d3ff"/>
<rect x="444.9" y="107.1" width="5" height="5" fill="#00f6ff"/>
<rect x="449.9" y="107.1" width="5" height="5" fill="#00fff7"/>
<rect x="454.9" y="107.1" width="5" height="5" fill="#00ffe8"/>
<rect x="459.9" y="107.1" width="5" height="5" fill="#00ffd9"/>
<rect x="464.9" y="107.1" width="5" height="5" fill="#00ffcb"/>
<rect x="469.9" y="107.1" width="5" height="5" fill="#00ffbe"/>
<rect x="474.9" y="107.1" width="5" height="5" fill="#00ffb2"/>
<rect x="479.9" y="107.1" width="5" height="5" fill="#00ffa8"/>
<rect x="484.9" y="107.1" width="5" height="5" fill="#00ff9e"/>
<rect x="489.9" y="107.1" width="5" height="5" fill="#00ff96"/>
<rect x="494.9" y="107.1" width="5" height="5" fill="#00ff8e"/>
<rect x="499.9" y="107.1" width="5" height="5" fill="#00ff88"/>
<rect x="504.9" y="107.1" width="5" height="5" fill="#00ff82"/>
<rect x="509.9" y="107.1" width="5" height="5" fill="#00ff7e"/>
<rect x="514.9" y="107.1" width="5" height="5" fill="#00ff7a"/>
<rect x="519.9" y="107.1" width="5" height="5" fill="#00ff78"/>
<rect x="524.9" y="107.1" width="5" height="5" fill="#00ff77"/>
<rect x="529.9" y="107.1" width="5" height="5" fill="#00ff76"/>
<rect x="534.9" y="107.1" width="5" height="5" fill="#00ff77"/>
<rect x="539.9" y="107.1" width="5" height="5" fill="#00ff79"/>
<rect x="544.9" y="107.1" width="5" height="5" fill="#00ff7c"/>
<rect x="549.9" y="107.1" width="5" height="5" fill="#00ff80"/>
<rect x="554.9" y="107.1" width="5" height="5" fill="#00ff85"/>
<rect x="559.9" y="107.1" width="5" height="5" fill="#00ff8b"/>
<rect x="564.9" y="107.1" width="5" height="5" fill="#00ff92"/>
<rect x="569.9" y="107.1" width="5" height="5" fill="#00ff9a"/>
<rect x="574.9" y="107.1" width="5" height="5" fill="#00ffa3"/>
<rect x="579.9" y="107.1" width="5" height="5" fill="#00ffad"/>
<rect x="584.9" y="107.1" width="5" height="5" fill="#00ffb9"/>
<rect x="589.9" y="107.1" width="5" height="5" fill="#00ffc5"/>
<rect x="594.9" y="107.1" width="5" height="5" fill="#00ffd2"/>
<rect x="599.9" y="107.1" width="5" height="5" fill="#00ffe0"/>
<rect x="604.9" y="107.1" width="5" height="5" fill="#00fff0"/>
<rect x="609.9" y="107.1" width="5" height="5" fill="#00feff"/>
<rect x="614.9" y="107.1" width="5" height="5" fill="#00ecff"/>
<rect x="619.9" y="107.1" width="5" height="5" fill="#00daff"/>
<rect x="444.9" y="112.1" width="5" height="5" fill="#00e8ff"/>
<rect x="449.9" y="112.1" width="5" height="5" fill="#00faff"/>
<rect x="454.9" y="112.1" width="5" height="5" fill="#00fff4"/>
<rect x="459.9" y="112.1" width="5" height="5" fill="#00ffe4"/>
<rect x="464.9" y="112.1" width="5" height="5" fill="#00ffd6"/>
<rect x="469.9" y="112.1" width="5" height="5" fill="#00ffc8"/>
<rect x="474.9" y="112.1" width="5" height="5" fill="#00ffbc"/>
<rect x="479.9" y="112.1" width="5" height="5" fill="#00ffb1"/>
<rect x="484.9" y="112.1" width="5" height="5" fill="#00ffa7"/>
<rect x="489.9" y="112.1" width="5" height="5" fill="#00ff9e"/>
<rect x="494.9" y="112.1" width="5" height="5" fill="#00ff95"/>
<rect x="499.9" y="112.1" width="5" height="5" fill="#00ff8e"/>
<rect x="504.9" y="112.1" width="5" height="5" fill="#00ff88"/>
<rect x="509.9" y="112.1" width="5" height="5" fill="#00ff83"/>
<rect x="514.9" y="112.1" width="5" height="5" fill="#00ff7f"/>
<rect x="519.9" y="112.1" width="5" height="5" fill="#00ff7d"/>
<rect x="524.9" y="112.1" width="5" height="5" fill="#00ff7b"/>
<rect x="529.9" y="112.1" width="5" height="5" fill="#00ff7a"/>
<rect x="534.9" y="112.1" width="5" height="5" fill="#00ff7a"/>
<rect x="539.9" y="112.1" width="5" height="5" fill="#00ff7b"/>
<rect x="544.9" y="112.1" width="5" height="5" fill="#00ff7e"/>
<rect x="549.9" y="112.1" width="5" height="5" fill="#00ff81"/>
<rect x="554.9" y="112.1" width="5" height="5" fill="#00ff85"/>
<rect x="559.9" y="112.1" width="5" height="5" fill="#00ff8b"/>
<rect x="564.9" y="112.1" width="5" height="5" fill="#00ff91"/>
<rect x="569.9" y="112.1" width="5" height="5" fill="#00ff99"/>
<rect x="574.9" y="112.1" width="5" height="5" fill="#00ffa1"/>
<rect x="579.9" y="112.1" width="5" height="5" fill="#00ffab"/>
<rect x="584.9" y="112.1" width="5" height="5" fill="#00ffb6"/>
<rect x="589.9" y="112.1" width="5" height="5" fill="#00ffc1"/>
<rect x="594.9" y="112.1" width="5" height="5" fill="#00ffce"/>
<rect x="599.9" y="112.1" width="5" height="5" fill="#00ffdc"/>
<rect x="604.9" y="112.1" width="5" height="5" fill="#00ffeb"/>
<rect x="609.9" y="112.1" width="5" height="5" fill="#00fffb"/>
<rect x="614.9" y="112.1" width="5" height="5" fill="#00f3ff"/>
<rect x="619.9" y="112.1" width="5" height="5" fill="#00e1ff"/>
<rect x="444.9" y="117.1" width="5" height="5" fill="#00dcff"/>
<rect x="449.9" y="117.1" width="5" height="5" fill="#00eeff"/>
<rect x="454.9" y="117.1" width="5" height="5" fill="#00ffff"/>
<rect x="459.9" y="117.1" width="5" height="5" fill="#00ffef"/>
<rect x="464.9" y="117.1" width="5" height="5" fill="#00ffe0"/>
<rect x="469.9" y="117.1" width="5" height="5" fill="#00ffd2"/>
<rect x="474.9" y="117.1" width="5" height="5" fill="#00ffc5"/>
<rect x="479.9" y="117.1" width="5" height="5" fill="#00ffb9"/>
<rect x="484.9" y="117.1" width="5" height="5" fill="#00ffaf"/>
<rect x="489.9" y="117.1" width="5" height="5" fill="#00ffa5"/>
<rect x="494.9" y="117.1" width="5" height="5" fill="#00ff9c"/>
<rect x="499.9" y="117.1" width="5" height="5" fill="#00ff95"/>
<rect x="504.9" y="117.1" width="5" height="5" fill="#00ff8e"/>
<rect x="509.9" y="117.1" width="5" height="5" fill="#00ff88"/>
<rect x="514.9" y="117.1" width="5" height="5" fill="#00ff84"/>
<rect x="519.9" y="117.1" width="5" height="5" fill="#00ff80"/>
<rect x="524.9" y="117.1" width="5" height="5" fill="#00ff7e"/>
<rect x="529.9" y="117.1" width="5" height="5" fill="#00ff7d"/>
<rect x="534.9" y="117.1" width="5" height="5" fill="#00ff7c"/>
<rect x="539.9" y="117.1" width="5" height="5" fill="#00ff7d"/>
<rect x="544.9" y="117.1" width="5" height="5" fill="#00ff7f"/>
<rect x="549.9" y="117.1" width="5" height="5" fill="#00ff81"/>
<rect x="554.9" y="117.1" width="5" height="5" fill="#00ff85"/>
<rect x="559.9" y="117.1" width="5" height="5" fill="#00ff8a"/>
<rect x="564.9" y="117.1" width="5" height="5" fill="#00ff90"/>
<rect x="569.9" y="117.1" width="5" height="5" fill="#00ff97"/>
<rect x="574.9" y="117.1" width="5" height="5" fill="#00ff9f"/>
<rect x="579.9" y="117.1" width="5" height="5" fill="#00ffa8"/>
<rect x="584.9" y="117.1" width="5" height="5" fill="#00ffb2"/>
<rect x="589.9" y="117.1" width="5" height="5" fill="#00ffbd"/>
<rect x="594.9" y="117.1" width="5" height="5" fill="#00ffc9"/>
<rect x="599.9" y="117.1" width="5" height="5" fill="#00ffd6"/>
<rect x="604.9" y="117.1" width="5" height="5" fill="#00ffe5"/>
<rect x="609.9" y="117.1" width="5" height="5" fill="#00fff4"/>
<rect x="614.9" y="117.1" width="5" height="5" fill="#00faff"/>
<rect x="619.9" y="117.1" width="5" height="5" fill="#00e8ff"/>
<rect x="444.9" y="122.1" width="5" height="5" fill="#00d0ff"/>
<rect x="449.9" y="122.1" width="5" height="5" fill="#00e3ff"/>
<rect x="454.9" y="122.1" width="5" height="5" fill="#00f5ff"/>
<rect x="459.9" y="122.1" width="5" height="5" fill="#00fff9"/>
<rect x="464.9" y="122.1" width="5" height="5" fill="#00ffe9"/>
<rect x="469.9" y="122.1" width="5" height="5" fill="#00ffdb"/>
<rect x="474.9" y="122.1" width="5" height="5" fill="#00ffcd"/>
<rect x="479.9" y="122.1" width="5" height="5" fill="#00ffc1"/>
<rect x="484.9" y="122.1" width="5" height="5" fill="#00ffb6"/>
<rect x="489.9" y="122.1" width="5" height="5" fill="#00ffab"/>
<rect x="494.9" y="122.1" width="5" height="5" fill="#00ffa2"/>
<rect x="499.9" y="122.1" width="5" height="5" fill="#00ff9a"/>
<rect x="504.9" y="122.1" width="5" height="5" fill="#00ff93"/>
<rect x="509.9" y="122.1" width="5" height="5" fill="#00ff8d"/>
<rect x="514.9" y="122.1" width="5" height="5" fill="#00ff88"/>
<rect x="519.9" y="122.1" width="5" height="5" fill="#00ff83"/>
<rect x="524.9" y="122.1" width="5" height="5" fill="#00ff80"/>
<rect x="529.9" y="122.1" width="5" height="5" fill="#00ff7e"/>
<rect x="534.9" y="122.1" width="5" height="5" fill="#00ff7e"/>
<rect x="539.9" y="122.1" width="5" height="5" fill="#00ff7e"/>
<rect x="544.9" y="122.1" width="5" height="5" fill="#00ff7f"/>
<rect x="549.9" y="122.1" width="5" height="5" fill="#00ff81"/>
<rect x="554.9" y="122.1" width="5" height="5" fill="#00ff84"/>
<rect x="559.9" y="122.1" width="5" height="5" fill="#00ff89"/>
<rect x="564.9" y="122.1" width="5" height="5" fill="#00ff8e"/>
<rect x="569.9" y="122.1" width="5" height="5" fill="#00ff94"/>
<rect x="574.9" y="122.1" width="5" height="5" fill="#00ff9c"/>
<rect x="579.9" y="122.1" width="5" height="5" fill="#00ffa4"/>
<rect x="584.9" y="122.1" width="5" height="5" fill="#00ffae"/>
<rect x="589.9" y="122.1" width="5" height="5" fill="#00ffb8"/>
<rect x="594.9" y="122.1" width="5" height="5" fill="#00ffc4"/>
<rect x="599.9" y="122.1" width="5" height="5" fill="#00ffd0"/>
<rect x="604.9" y="122.1" width="5" height="5" fill="#00ffde"/>
<rect x="609.9" y="122.1" width="5" height="5" fill="#00ffed"/>
<rect x="614.9" y="122.1" width="5" height="5" fill="#00fffc"/>
<rect x="619.9" y="122.1" width="5" height="5" fill="#00f1ff"/>
<rect x="444.9" y="127.1" width="5" height="5" fill="#00c5ff"/>
<rect x="449.9" y="127.1" width="5" height="5" fill="#00d8ff"/>
<rect x="454.9" y="127.1" width="5" height="5" fill="#00ebff"/>
<rect x="459.9" y="127.1" width="5" height="5" fill="#00fcff"/>
<rect x="464.9" y="127.1" width="5" height="5" fill="#00fff2"/>
<rect x="469.9" y="127.1" width="5" height="5" fill="#00ffe3"/>
<rect x="474.9" y="127.1" width="5" height="5" fill="#00ffd5"/>
<rect x="479.9" y="127.1" width="5" height="5" fill="#00ffc8"/>
<rect x="484.9" y="127.1" width="5" height="5" fill="#00ffbc"/>
<rect x="489.9" y="127.1" width="5" height="5" fill="#00ffb1"/>
<rect x="494.9" y="127.1" width="5" height="5" fill="#00ffa7"/>
<rect x="499.9" y="127.1" width="5" height="5" fill="#00ff9f"/>
<rect x="504.9" y="127.1" width="5" height="5" fill="#00ff97"/>
<rect x="509.9" y="127.1" width="5" height="5" fill="#00ff90"/>
<rect x="514.9" y="127.1" width="5" height="5" fill="#00ff8a"/>
<rect x="519.9" y="127.1" width="5" height="5" fill="#00ff86"/>
<rect x="524.9" y="127.1" width="5" height="5" fill="#00ff82"/>
<rect x="529.9" y="127.1" width="5" height="5" fill="#00ff80"/>
<rect x="534.9" y="127.1" width="5" height="5" fill="#00ff7e"/>
<rect x="539.9" y="127.1" width="5" height="5" fill="#00ff7e"/>
<rect x="544.9" y="127.1" width="5" height="5" fill="#00ff7e"/>
<rect x="549.9" y="127.1" width="5" height="5" fill="#00ff80"/>
<rect x="554.9" y="127.1" width="5" height="5" fill="#00ff83"/>
<rect x="559.9" y="127.1" width="5" height="5" fill="#00ff86"/>
<rect x="564.9" y="127.1" width="5" height="5" fill="#00ff8b"/>
<rect x="569.9" y="127.1" width="5" height="5" fill="#00ff91"/>
<rect x="574.9" y="127.1" width="5" height="5" fill="#00ff98"/>
<rect x="579.9" y="127.1" width="5" height="5" fill="#00ffa0"/>
<rect x="584.9" y="127.1" width="5" height="5" fill="#00ffa9"/>
<rect x="589.9" y="127.1" width="5" height="5" fill="#00ffb2"/>
<rect x="594.9" y="127.1" width="5" height="5" fill="#00ffbd"/>
<rect x="599.9" y="127.1" width="5" height="5" fill="#00ffca"/>
<rect x="604.9" y="127.1" width="5" height="5" fill="#00ffd7"/>
<rect x="609.9" y="127.1" width="5" height="5" fill="#00ffe5"/>
<rect x="614.9" y="127.1" width="5" height="5" fill="#00fff4"/>
<rect x="619.9" y="127.1" width="5" height="5" fill="#00faff"/>
<rect x="444.9" y="132.1" width="5" height="5" fill="#00bbff"/>
<rect x="449.9" y="132.1" width="5" height="5" fill="#00cfff"/>
<rect x="454.9" y="132.1" width="5" height="5" fill="#00e2ff"/>
<rect x="459.9" y="132.1" width="5" height="5" fill="#00f3ff"/>
<rect x="464.9" y="132.1" width="5" height="5" fill="#00fffa"/>
<rect x="469.9" y="132.1" width="5" height="5" fill="#00ffea"/>
<rect x="474.9" y="132.1" width="5" height="5" fill="#00ffdc"/>
<rect x="479.9" y="132.1" width="5" height="5" fill="#00ffce"/>
<rect x="484.9" y="132.1" width="5" height="5" fill="#00ffc2"/>
<rect x="489.9" y="132.1" width="5" height="5" fill="#00ffb6"/>
<rect x="494.9" y="132.1" width="5" height="5" fill="#00ffac"/>
<rect x="499.9" y="132.1" width="5" height="5" fill="#00ffa3"/>
<rect x="504.9" y="132.1" width="5" height="5" fill="#00ff9a"/>
<rect x="509.9" y="132.1" width="5" height="5" fill="#00ff93"/>
<rect x="514.9" y="132.1" width="5" height="5" fill="#00ff8d"/>
<rect x="519.9" y="132.1" width="5" height="5" fill="#00ff88"/>
<rect x="524.9" y="132.1" width="5" height="5" fill="#00ff83"/>
<rect x="529.9" y="132.1" width="5" height="5" fill="#00ff80"/>
<rect x="534.9" y="132.1" width="5" height="5" fill="#00ff7e"/>
<rect x="539.9" y="132.1" width="5" height="5" fill="#00ff7d"/>
<rect x="544.9" y="132.1" width="5" height="5" fill="#00ff7d"/>
<rect x="549.9" y="132.1" width="5" height="5" fill="#00ff7e"/>
<rect x="554.9" y="132.1" width="5" height="5" fill="#00ff80"/>
<rect x="559.9" y="132.1" width="5" height="5" fill="#00ff83"/>
<rect x="564.9" y="132.1" width="5" height="5" fill="#00ff88"/>
<rect x="569.9" y="132.1" width="5" height="5" fill="#00ff8d"/>
<rect x="574.9" y="132.1" width="5" height="5" fill="#00ff93"/>
<rect x="579.9" y="132.1" width="5" height="5" fill="#00ff9a"/>
<rect x="584.9" y="132.1" width="5" height="5" fill="#00ffa3"/>
<rect x="589.9" y="132.1" width="5" height="5" fill="#00ffac"/>
<rect x="594.9" y="132.1" width="5" height="5" fill="#00ffb7"/>
<rect x="599.9" y="132.1" width="5" height="5" fill="#00ffc2"/>
<rect x="604.9" y="132.1" width="5" height="5" fill="#00ffce"/>
<rect x="609.9" y="132.1" width="5" height="5" fill="#00ffdc"/>
<rect x="614.9" y="132.1" width="5" height="5" fill="#00ffeb"/>
<rect x="619.9" y="132.1" width="5" height="5" fill="#00fffa"/>
<rect x="444.9" y="137.1" width="5" height="5" fill="#00b1ff"/>
<rect x="449.9" y="137.1" width="5" height="5" fill="#00c6ff"/>
<rect x="454.9" y="137.1" width="5" height="5" fill="#00d9ff"/>
<rect x="459.9" y="137.1" width="5" height="5" fill="#00ebff"/>
<rect x="464.9" y="137.1" width="5" height="5" fill="#00fdff"/>
<rect x="469.9" y="137.1" width="5" height="5" fill="#00fff1"/>
<rect x="474.9" y="137.1" width="5" height="5" fill="#00ffe2"/>
<rect x="479.9" y="137.1" width="5" height="5" fill="#00ffd4"/>
<rect x="484.9" y="137.1" width="5" height="5" fill="#00ffc7"/>
<rect x="489.9" y="137.1" width="5" height="5" fill="#00ffbb"/>
<rect x="494.9" y="137.1" width="5" height="5" fill="#00ffb0"/>
<rect x="499.9" y="137.1" width="5" height="5" fill="#00ffa6"/>
<rect x="504.9" y="137.1" width="5" height="5" fill="#00ff9d"/>
<rect x="509.9" y="137.1" width="5" height="5" fill="#00ff95"/>
<rect x="514.9" y="137.1" width="5" height="5" fill="#00ff8e"/>
<rect x="519.9" y="137.1" width="5" height="5" fill="#00ff88"/>
<rect x="524.9" y="137.1" width="5" height="5" fill="#00ff84"/>
<rect x="529.9" y="137.1" width="5" height="5" fill="#00ff80"/>
<rect x="534.9" y="137.1" width="5" height="5" fill="#00ff7d"/>
<rect x="539.9" y="137.1" width="5" height="5" fill="#00ff7c"/>
<rect x="544.9" y="137.1" width="5" height="5" fill="#00ff7b"/>
<rect x="549.9" y="137.1" width="5" height="5" fill="#00ff7c"/>
<rect x="554.9" y="137.1" width="5" height="5" fill="#00ff7d"/>
<rect x="559.9" y="137.1" width="5" height="5" fill="#00ff80"/>
<rect x="564.9" y="137.1" width="5" height="5" fill="#00ff83"/>
<rect x="569.9" y="137.1" width="5" height="5" fill="#00ff88"/>
<rect x="574.9" y="137.1" width="5" height="5" fill="#00ff8e"/>
<rect x="579.9" y="137.1" width="5" height="5" fill="#00ff94"/>
<rect x="584.9" y="137.1" width="5" height="5" fill="#00ff9c"/>
<rect x="589.9" y="137.1" width="5" height="5" fill="#00ffa5"/>
<rect x="594.9" y="137.1" width="5" height="5" fill="#00ffaf"/>
<rect x="599.9" y="137.1" width="5" height="5" fill="#00ffba"/>
<rect x="604.9" y="137.1" width="5" height="5" fill="#00ffc6"/>
<rect x="609.9" y="137.1" width="5" height="5" fill="#00ffd3"/>
<rect x="614.9" y="137.1" width="5" height="5" fill="#00ffe1"/>
<rect x="619.9" y="137.1" width="5" height="5" fill="#00fff0"/>
<rect x="444.9" y="142.1" width="5" height="5" fill="#00a9ff"/>
<rect x="449.9" y="142.1" width="5" height="5" fill="#00beff"/>
<rect x="454.9" y="142.1" width="5" height="5" fill="#00d1ff"/>
<rect x="459.9" y="142.1" width="5" height="5" fill="#00e4ff"/>
<rect x="464.9" y="142.1" width="5" height="5" fill="#00f6ff"/>
<rect x="469.9" y="142.1" width="5" height="5" fill="#00fff7"/>
<rect x="474.9" y="142.1" width="5" height="5" fill="#00ffe7"/>
<rect x="479.9" y="142.1" width="5" height="5" fill="#00ffd9"/>
<rect x="484.9" y="142.1" width="5" height="5" fill="#00ffcb"/>
<rect x="489.9" y="142.1" width="5" height="5" fill="#00ffbe"/>
<rect x="494.9" y="142.1" width="5" height="5" fill="#00ffb3"/>
<rect x="499.9" y="142.1" width="5" height="5" fill="#00ffa8"/>
<rect x="504.9" y="142.1" width="5" height="5" fill="#00ff9f"/>
<rect x="509.9" y="142.1" width="5" height="5" fill="#00ff96"/>
<rect x="514.9" y="142.1" width="5" height="5" fill="#00ff8f"/>
<rect x="519.9" y="142.1" width="5" height="5" fill="#00ff89"/>
<rect x="524.9" y="142.1" width="5" height="5" fill="#00ff83"/>
<rect x="529.9" y="142.1" width="5" height="5" fill="#00ff7f"/>
<rect x="534.9" y="142.1" width="5" height="5" fill="#00ff7c"/>
<rect x="539.9" y="142.1" width="5" height="5" fill="#00ff7a"/>
<rect x="544.9" y="142.1" width="5" height="5" fill="#00ff79"/>
<rect x="549.9" y="142.1" width="5" height="5" fill="#00ff78"/>
<rect x="554.9" y="142.1" width="5" height="5" fill="#00ff79"/>
<rect x="559.9" y="142.1" width="5" height="5" fill="#00ff7b"/>
<rect x="564.9" y="142.1" width="5" height="5" fill="#00ff7e"/>
<rect x="569.9" y="142.1" width="5" height="5" fill="#00ff82"/>
<rect x="574.9" y="142.1" width="5" height="5" fill="#00ff88"/>
<rect x="579.9" y="142.1" width="5" height="5" fill="#00ff8e"/>
<rect x="584.9" y="142.1" width="5" height="5" fill="#00ff95"/>
<rect x="589.9" y="142.1" width="5" height="5" fill="#00ff9d"/>
<rect x="594.9" y="142.1" width="5" height="5" fill="#00ffa6"/>
<rect x="599.9" y="142.1" width="5" height="5" fill="#00ffb1"/>
<rect x="604.9" y="142.1" width="5" height="5" fill="#00ffbc"/>
<rect x="609.9" y="142.1" width="5" height="5" fill="#00ffc8"/>
<rect x="614.9" y="142.1" width="5" height="5" fill="#00ffd6"/>
<rect x="619.9" y="142.1" width="5" height="5" fill="#00ffe4"/>
<rect x="444.9" y="147.1" width="5" height="5" fill="#00a0ff"/>
<rect x="449.9" y="147.1" width="5" height="5" fill="#00b6ff"/>
<rect x="454.9" y="147.1" width="5" height="5" fill="#00caff"/>
<rect x="459.9" y="147.1" width="5" height="5" fill="#00deff"/>
<rect x="464.9" y="147.1" width="5" height="5" fill="#00f0ff"/>
<rect x="469.9" y="147.1" width="5" height="5" fill="#00fffc"/>
<rect x="474.9" y="147.1" width="5" height="5" fill="#00ffec"/>
<rect x="479.9" y="147.1" width="5" height="5" fill="#00ffdd"/>
<rect x="484.9" y="147.1" width="5" height="5" fill="#00ffcf"/>
<rect x="489.9" y="147.1" width="5" height="5" fill="#00ffc1"/>
<rect x="494.9" y="147.1" width="5" height="5" fill="#00ffb5"/>
<rect x="499.9" y="147.1" width="5" height="5" fill="#00ffaa"/>
<rect x="504.9" y="147.1" width="5" height="5" fill="#00ffa0"/>
<rect x="509.9" y="147.1" width="5" height="5" fill="#00ff97"/>
<rect x="514.9" y="147.1" width="5" height="5" fill="#00ff8f"/>
<rect x="519.9" y="147.1" width="5" height="5" fill="#00ff88"/>
<rect x="524.9" y="147.1" width="5" height="5" fill="#00ff82"/>
<rect x="529.9" y="147.1" width="5" height="5" fill="#00ff7d"/>
<rect x="534.9" y="147.1" width="5" height="5" fill="#00ff7a"/>
<rect x="539.9" y="147.1" width="5" height="5" fill="#00ff77"/>
<rect x="544.9" y="147.1" width="5" height="5" fill="#00ff75"/>
<rect x="549.9" y="147.1" width="5" height="5" fill="#00ff74"/>
<rect x="554.9" y="147.1" width="5" height="5" fill="#00ff75"/>
<rect x="559.9" y="147.1" width="5" height="5" fill="#00ff76"/>
<rect x="564.9" y="147.1" width="5" height="5" fill="#00ff79"/>
<rect x="569.9" y="147.1" width="5" height="5" fill="#00ff7c"/>
<rect x="574.9" y="147.1" width="5" height="5" fill="#00ff81"/>
<rect x="579.9" y="147.1" width="5" height="5" fill="#00ff86"/>
<rect x="584.9" y="147.1" width="5" height="5" fill="#00ff8d"/>
<rect x="589.9" y="147.1" width="5" height="5" fill="#00ff95"/>
<rect x="594.9" y="147.1" width="5" height="5" fill="#00ff9d"/>
<rect x="599.9" y="147.1" width="5" height="5" fill="#00ffa7"/>
<rect x="604.9" y="147.1" width="5" height="5" fill="#00ffb2"/>
<rect x="609.9" y="147.1" width="5" height="5" fill="#00ffbe"/>
<rect x="614.9" y="147.1" width="5" height="5" fill="#00ffca"/>
<rect x="619.9" y="147.1" width="5" height="5" fill="#00ffd8"/>
<rect x="444.9" y="152.1" width="5" height="5" fill="#0099ff"/>
<rect x="449.9" y="152.1" width="5" height="5" fill="#00afff"/>
<rect x="454.9" y="152.1" width="5" height="5" fill="#00c4ff"/>
<rect x="459.9" y="152.1" width="5" height="5" fill="#00d8ff"/>
<rect x="464.9" y="152.1" width="5" height="5" fill="#00ebff"/>
<rect x="469.9" y="152.1" width="5" height="5" fill="#00fdff"/>
<rect x="474.9" y="152.1" width="5" height="5" fill="#00fff0"/>
<rect x="479.9" y="152.1" width="5" height="5" fill="#00ffe0"/>
<rect x="484.9" y="152.1" width="5" height="5" fill="#00ffd1"/>
<rect x="489.9" y="152.1" width="5" height="5" fill="#00ffc4"/>
<rect x="494.9" y="152.1" width="5" height="5" fill="#00ffb7"/>
<rect x="499.9" y="152.1" width="5" height="5" fill="#00ffab"/>
<rect x="504.9" y="152.1" width="5" height="5" fill="#00ffa1"/>
<rect x="509.9" y="152.1" width="5" height="5" fill="#00ff97"/>
<rect x="514.9" y="152.1" width="5" height="5" fill="#00ff8e"/>
<rect x="519.9" y="152.1" width="5" height="5" fill="#00ff87"/>
<rect x="524.9" y="152.1" width="5" height="5" fill="#00ff80"/>
<rect x="529.9" y="152.1" width="5" height="5" fill="#00ff7b"/>
<rect x="534.9" y="152.1" width="5" height="5" fill="#00ff77"/>
<rect x="539.9" y="152.1" width="5" height="5" fill="#00ff73"/>
<rect x="544.9" y="152.1" width="5" height="5" fill="#00ff71"/>
<rect x="549.9" y="152.1" width="5" height="5" fill="#00ff70"/>
<rect x="554.9" y="152.1" width="5" height="5" fill="#00ff70"/>
<rect x="559.9" y="152.1" width="5" height="5" fill="#00ff70"/>
<rect x="564.9" y="152.1" width="5" height="5" fill="#00ff72"/>
<rect x="569.9" y="152.1" width="5" height="5" fill="#00ff75"/>
<rect x="574.9" y="152.1" width="5" height="5" fill="#00ff79"/>
<rect x="579.9" y="152.1" width="5" height="5" fill="#00ff7e"/>
<rect x="584.9" y="152.1" width="5" height="5" fill="#00ff84"/>
<rect x="589.9" y="152.1" width="5" height="5" fill="#00ff8b"/>
<rect x="594.9" y="152.1" width="5" height="5" fill="#00ff93"/>
<rect x="599.9" y="152.1" width="5" height="5" fill="#00ff9d"/>
<rect x="604.9" y="152.1" width="5" height="5" fill="#00ffa7"/>
<rect x="609.9" y="152.1" width="5" height="5" fill="#00ffb2"/>
<rect x="614.9" y="152.1" width="5" height="5" fill="#00ffbe"/>
<rect x="619.9" y="152.1" width="5" height="5" fill="#00ffcc"/>
<rect x="444.9" y="157.1" width="5" height="5" fill="#0092ff"/>
<rect x="449.9" y="157.1" width="5" height="5" fill="#00a9ff"/>
<rect x="454.9" y="157.1" width="5" height="5" fill="#00bfff"/>
<rect x="459.9" y="157.1" width="5" height="5" fill="#00d3ff"/>
<rect x="464.9" y="157.1" width="5" height="5" fill="#00e7ff"/>
<rect x="469.9" y="157.1" width="5" height="5" fill="#00f9ff"/>
<rect x="474.9" y="157.1" width="5" height="5" fill="#00fff3"/>
<rect x="479.9" y="157.1" width="5" height="5" fill="#00ffe3"/>
<rect x="484.9" y="157.1" width="5" height="5" fill="#00ffd3"/>
<rect x="489.9" y="157.1" width="5" height="5" fill="#00ffc5"/>
<rect x="494.9" y="157.1" width="5" height="5" fill="#00ffb8"/>
<rect x="499.9" y="157.1" width="5" height="5" fill="#00ffac"/>
<rect x="504.9" y="157.1" width="5" height="5" fill="#00ffa0"/>
<rect x="509.9" y="157.1" width="5" height="5" fill="#00ff96"/>
<rect x="514.9" y="157.1" width="5" height="5" fill="#00ff8d"/>
<rect x="519.9" y="157.1" width="5" height="5" fill="#00ff85"/>
<rect x="524.9" y="157.1" width="5" height="5" fill="#00ff7e"/>
<rect x="529.9" y="157.1" width="5" height="5" fill="#00ff78"/>
<rect x="534.9" y="157.1" width="5" height="5" fill="#00ff73"/>
<rect x="539.9" y="157.1" width="5" height="5" fill="#00ff6f"/>
<rect x="544.9" y="157.1" width="5" height="5" fill="#00ff6c"/>
<rect x="549.9" y="157.1" width="5" height="5" fill="#00ff6a"/>
<rect x="554.9" y="157.1" width="5" height="5" fill="#00ff6a"/>
<rect x="559.9" y="157.1" width="5" height="5" fill="#00ff6a"/>
<rect x="564.9" y="157.1" width="5" height="5" fill="#00ff6b"/>
<rect x="569.9" y="157.1" width="5" height="5" fill="#00ff6d"/>
<rect x="574.9" y="157.1" width="5" height="5" fill="#00ff71"/>
<rect x="579.9" y="157.1" width="5" height="5" fill="#00ff75"/>
<rect x="584.9" y="157.1" width="5" height="5" fill="#00ff7b"/>
<rect x="589.9" y="157.1" width="5" height="5" fill="#00ff81"/>
<rect x="594.9" y="157.1" width="5" height="5" fill="#00ff89"/>
<rect x="599.9" y="157.1" width="5" height="5" fill="#00ff91"/>
<rect x="604.9" y="157.1" width="5" height="5" fill="#00ff9b"/>
<rect x="609.9" y="157.1" width="5" height="5" fill="#00ffa6"/>
<rect x="614.9" y="157.1" width="5" height="5" fill="#00ffb1"/>
<rect x="619.9" y="157.1" width="5" height="5" fill="#00ffbe"/>
<rect x="444.9" y="162.1" width="5" height="5" fill="#008cff"/>
<rect x="449.9" y="162.1" width="5" height="5" fill="#00a4ff"/>
<rect x="454.9" y="162.1" width="5" height="5" fill="#00baff"/>
<rect x="459.9" y="162.1" width="5" height="5" fill="#00cfff"/>
<rect x="464.9" y="162.1" width="5" height="5" fill="#00e3ff"/>
<rect x="469.9" y="162.1" width="5" height="5" fill="#00f6ff"/>
<rect x="474.9" y="162.1" width="5" height="5" fill="#00fff6"/>
<rect x="479.9" y="162.1" width="5" height="5" fill="#00ffe5"/>
<rect x="484.9" y="162.1" width="5" height="5" fill="#00ffd5"/>
<rect x="489.9" y="162.1" width="5" height="5" fill="#00ffc6"/>
<rect x="494.9" y="162.1" width="5" height="5" fill="#00ffb8"/>
<rect x="499.9" y="162.1" width="5" height="5" fill="#00ffab"/>
<rect x="504.9" y="162.1" width="5" height="5" fill="#00ff9f"/>
<rect x="509.9" y="162.1" width="5" height="5" fill="#00ff95"/>
<rect x="514.9" y="162.1" width="5" height="5" fill="#00ff8b"/>
<rect x="519.9" y="162.1" width="5" height="5" fill="#00ff82"/>
<rect x="524.9" y="162.1" width="5" height="5" fill="#00ff7b"/>
<rect x="529.9" y="162.1" width="5" height="5" fill="#00ff74"/>
<rect x="534.9" y="162.1" width="5" height="5" fill="#00ff6f"/>
<rect x="539.9" y="162.1" width="5" height="5" fill="#00ff6a"/>
<rect x="544.9" y="162.1" width="5" height="5" fill="#00ff67"/>
<rect x="549.9" y="162.1" width="5" height="5" fill="#00ff64"/>
<rect x="554.9" y="162.1" width="5" height="5" fill="#00ff63"/>
<rect x="559.9" y="162.1" width="5" height="5" fill="#00ff63"/>
<rect x="564.9" y="162.1" width="5" height="5" fill="#00ff63"/>
<rect x="569.9" y="162.1" width="5" height="5" fill="#00ff65"/>
<rect x="574.9" y="162.1" width="5" height="5" fill="#00ff68"/>
<rect x="579.9" y="162.1" width="5" height="5" fill="#00ff6c"/>
<rect x="584.9" y="162.1" width="5" height="5" fill="#00ff71"/>
<rect x="589.9" y="162.1" width="5" height="5" fill="#00ff76"/>
<rect x="594.9" y="162.1" width="5" height="5" fill="#00ff7d"/>
<rect x="599.9" y="162.1" width="5" height="5" fill="#00ff85"/>
<rect x="604.9" y="162.1" width="5" height="5" fill="#00ff8f"/>
<rect x="609.9" y="162.1" width="5" height="5" fill="#00ff99"/>
<rect x="614.9" y="162.1" width="5" height="5" fill="#00ffa4"/>
<rect x="619.9" y="162.1" width="5" height="5" fill="#00ffb0"/>
</g>
<polyline class="cl" points="449.9,137.7 449.9,137.7 450.3,138.6 450.7,139.4 450.9,139.9 451.1,140.3 451.4,141.2 451.8,142.1 451.9,142.3 452.2,142.9 452.5,143.8 452.9,144.7 452.9,144.9 453.2,145.6 453.5,146.5 453.8,147.3 453.9,147.6 454.2,148.2 454.5,149.1 454.8,150.0 455.0,150.6 455.0,150.8 455.3,151.7 455.6,152.6"/>
<polyline class="cl" points="611.8,148.2 611.0,147.3 610.8,147.0 610.3,146.5 609.8,145.9 609.5,145.6 608.8,144.7 608.8,144.7 608.1,143.8 607.8,143.4 607.4,142.9 606.7,142.2 606.7,142.1 606.0,141.2 605.7,140.9 605.3,140.3 604.7,139.5 604.6,139.4 604.0,138.5 603.7,138.1 603.4,137.7 602.7,136.8 602.7,136.7 602.1,135.9 601.7,135.2 601.5,135.0 601.0,134.2 600.7,133.7 600.4,133.3 599.8,132.4 599.7,132.1 599.3,131.5 598.8,130.6 598.6,130.4 598.3,129.8 597.8,128.9 597.6,128.7 597.3,128.0 596.8,127.1 596.6,126.8 596.3,126.3 595.9,125.4 595.6,124.8 595.5,124.5 595.0,123.6 594.6,122.7 594.6,122.6 594.3,121.9 593.9,121.0 593.6,120.3 593.5,120.1 593.2,119.2 592.8,118.4 592.6,117.7 592.5,117.5 592.2,116.6 591.9,115.7 591.6,114.8 591.6,114.7 591.3,114.0 591.1,113.1 590.8,112.2 590.6,111.3 590.6,111.1 590.4,110.4 590.2,109.6 590.0,108.7 589.8,107.8 589.6,106.9 589.5,106.6 589.4,106.1 589.3,105.2 589.1,104.3 589.0,103.4 588.9,102.5 588.8,101.7 588.7,100.8 588.6,99.9 588.5,99.3 588.5,99.0 588.4,98.2 588.4,97.3 588.3,96.4 588.3,95.5 588.2,94.6 588.2,93.8 588.2,92.9 588.2,92.0 588.2,91.1 588.2,90.3 588.2,89.4 588.2,88.5 588.2,87.6 588.3,86.7 588.3,85.9 588.4,85.0 588.4,84.1 588.5,83.2 588.5,82.6 588.5,82.3 588.6,81.5 588.7,80.6 588.8,79.7 588.9,78.8 589.0,78.0 589.1,77.1 589.2,76.2 589.3,75.3 589.4,74.4 589.5,73.8 589.6,73.6 589.7,72.7 589.8,71.8 590.0,70.9 590.1,70.1 590.3,69.2 590.4,68.3 590.6,67.6 590.6,67.4 590.8,66.5 590.9,65.7 591.1,64.8 591.3,63.9 591.4,63.0 591.6,62.5 591.6,62.2 591.8,61.3 592.0,60.4 592.2,59.5 592.4,58.6 592.6,57.9 592.6,57.8 592.8,56.9 593.0,56.0 593.2,55.1 593.4,54.2 593.6,53.7 593.7,53.4 593.9,52.5 594.1,51.6 594.3,50.7 594.6,49.9 594.6,49.7 594.8,49.0 595.0,48.1 595.3,47.2 595.5,46.3 595.6,45.9 595.7,45.5 596.0,44.6 596.2,43.7 596.5,42.8 596.6,42.3 596.7,42.0 597.0,41.1 597.2,40.2 597.5,39.3 597.6,38.8 597.7,38.4 598.0,37.6 598.3,36.7 598.5,35.8 598.6,35.5 598.8,34.9 599.1,34.1 599.3,33.2 599.6,32.3 599.7,32.2 599.9,31.4 600.2,30.5 600.4,29.7 600.7,29.0 600.7,28.8 601.0,27.9 601.3,27.0 601.6,26.1 601.7,25.8 601.9,25.3 602.1,24.4 602.4,23.5 602.7,22.7 602.7,22.6 603.0,21.8 603.3,20.9 603.6,20.0 603.7,19.7 603.9,19.1 604.2,18.2 604.5,17.4 604.7,16.7 604.8,16.5 605.1,15.6 605.4,14.7 605.7,13.9 605.7,13.8 606.0,13.0 606.3,12.1"/>
<polyline class="cl" points="449.9,87.9 450.6,88.5 450.9,88.8 451.6,89.4 451.9,89.7 452.6,90.3 452.9,90.6 453.6,91.1 453.9,91.5 454.5,92.0 455.0,92.4 455.5,92.9 456.0,93.3 456.5,93.8 457.0,94.3 457.4,94.6 458.0,95.2 458.3,95.5 459.0,96.2 459.3,96.4 460.0,97.1 460.2,97.3 461.0,98.1 461.1,98.2 462.0,99.0 462.0,99.1 462.9,99.9 463.1,100.1 463.7,100.8 464.1,101.1 464.6,101.7 465.1,102.2 465.5,102.5 466.1,103.2 466.3,103.4 467.1,104.3 467.1,104.3 468.0,105.2 468.1,105.3 468.8,106.1 469.1,106.4 469.6,106.9 470.1,107.5 470.4,107.8 471.1,108.7 471.2,108.7 471.9,109.6 472.2,109.8 472.7,110.4 473.2,111.0 473.4,111.3 474.2,112.2 474.2,112.2 474.9,113.1 475.2,113.5 475.6,114.0 476.2,114.7 476.3,114.8 477.0,115.7 477.2,116.0 477.7,116.6 478.2,117.4 478.3,117.5 479.0,118.4 479.2,118.7 479.6,119.2 480.2,120.1 480.3,120.2 480.8,121.0 481.3,121.6 481.4,121.9 482.0,122.7 482.3,123.2 482.6,123.6 483.1,124.5 483.3,124.8 483.7,125.4 484.2,126.3 484.3,126.5 484.7,127.1 485.2,128.0 485.3,128.2 485.7,128.9 486.1,129.8 486.3,130.1 486.6,130.6 487.0,131.5 487.3,132.1 487.5,132.4 487.9,133.3 488.3,134.2 488.4,134.3 488.7,135.0 489.1,135.9 489.4,136.7 489.4,136.8 489.8,137.7 490.1,138.6 490.4,139.3 490.4,139.4 490.7,140.3 491.0,141.2 491.3,142.1 491.4,142.3 491.6,142.9 491.8,143.8 492.1,144.7 492.3,145.6 492.4,145.9 492.5,146.5 492.8,147.3 493.0,148.2 493.1,149.1 493.3,150.0 493.4,150.5 493.5,150.8 493.6,151.7 493.8,152.6"/>
<polyline class="cl" points="449.9,54.0 450.3,54.2 450.9,54.5 451.9,55.0 452.1,55.1 452.9,55.5 453.9,56.0 453.9,56.0 455.0,56.5 455.7,56.9 456.0,57.0 457.0,57.5 457.6,57.8 458.0,58.0 459.0,58.4 459.5,58.6 460.0,58.9 461.0,59.4 461.4,59.5 462.0,59.8 463.1,60.3 463.3,60.4 464.1,60.7 465.1,61.2 465.3,61.3 466.1,61.6 467.1,62.1 467.3,62.2 468.1,62.5 469.1,62.9 469.4,63.0 470.1,63.4 471.1,63.8 471.5,63.9 472.2,64.2 473.2,64.6 473.6,64.8 474.2,65.0 475.2,65.4 475.9,65.7 476.2,65.8 477.2,66.2 478.2,66.5 478.2,66.6 479.2,66.9 480.3,67.3 480.6,67.4 481.3,67.7 482.3,68.0 483.1,68.3 483.3,68.4 484.3,68.7 485.3,69.0 485.7,69.2 486.3,69.4 487.3,69.7 488.4,70.0 488.6,70.1 489.4,70.3 490.4,70.6 491.4,70.9 491.7,70.9 492.4,71.1 493.4,71.4 494.4,71.6 495.2,71.8 495.4,71.9 496.4,72.1 497.5,72.3 498.5,72.5 499.5,72.7 499.5,72.7 500.5,72.9 501.5,73.0 502.5,73.2 503.5,73.3 504.5,73.4 505.6,73.5 505.8,73.6 506.6,73.6 507.6,73.7 508.6,73.8 509.6,73.8 510.6,73.8 511.6,73.8 512.6,73.8 513.6,73.8 514.7,73.7 515.7,73.7 516.6,73.6 516.7,73.6 517.7,73.4 518.7,73.3 519.7,73.1 520.7,72.9 521.7,72.7 521.9,72.7 522.8,72.5 523.8,72.2 524.8,71.9 525.2,71.8 525.8,71.6 526.8,71.3 527.7,70.9 527.8,70.9 528.8,70.5 529.8,70.1 529.9,70.1 530.8,69.6 531.8,69.2 531.9,69.1 532.9,68.6 533.4,68.3 533.9,68.1 534.9,67.5 535.0,67.4 535.9,66.9 536.4,66.5 536.9,66.2 537.8,65.7 537.9,65.5 538.9,64.8 539.0,64.8 540.0,64.1 540.2,63.9 541.0,63.3 541.3,63.0 542.0,62.5 542.4,62.2 543.0,61.7 543.5,61.3 544.0,60.8 544.5,60.4 545.0,59.9 545.4,59.5 546.0,59.0 546.4,58.6 547.0,58.0 547.3,57.8 548.1,57.0 548.2,56.9 549.0,56.0 549.1,56.0 549.9,55.1 550.1,54.9 550.7,54.2 551.1,53.8 551.5,53.4 552.1,52.7 552.3,52.5 553.1,51.6 553.1,51.6 553.8,50.7 554.1,50.4 554.6,49.9 555.1,49.2 555.3,49.0 556.0,48.1 556.1,47.9 556.7,47.2 557.2,46.7 557.4,46.3 558.1,45.5 558.2,45.4 558.8,44.6 559.2,44.1 559.4,43.7 560.1,42.8 560.2,42.7 560.7,42.0 561.2,41.3 561.4,41.1 562.0,40.2 562.2,39.9 562.7,39.3 563.2,38.5 563.3,38.4 563.9,37.6 564.2,37.1 564.5,36.7 565.1,35.8 565.3,35.6 565.7,34.9 566.3,34.1 566.3,34.1 566.9,33.2 567.3,32.6 567.5,32.3 568.1,31.4 568.3,31.1 568.6,30.5 569.2,29.7 569.3,29.5 569.8,28.8 570.3,27.9 570.3,27.9 570.9,27.0 571.3,26.3 571.4,26.1 572.0,25.3 572.3,24.7 572.5,24.4 573.1,23.5 573.3,23.1 573.6,22.6 574.2,21.8 574.4,21.4 574.7,20.9 575.2,20.0 575.4,19.8 575.8,19.1 576.3,18.2 576.4,18.1 576.8,17.4 577.3,16.5 577.4,16.4 577.9,15.6 578.4,14.7 578.4,14.7 578.9,13.9 579.4,13.0 579.4,13.0 579.9,12.1"/>
<polyline class="cl" points="449.9,26.7 450.9,27.0 451.1,27.0 451.9,27.3 452.9,27.5 453.9,27.8 454.3,27.9 455.0,28.1 456.0,28.3 457.0,28.6 457.7,28.8 458.0,28.9 459.0,29.1 460.0,29.3 461.0,29.6 461.4,29.7 462.0,29.8 463.1,30.0 464.1,30.2 465.1,30.5 465.5,30.5 466.1,30.7 467.1,30.8 468.1,31.0 469.1,31.2 470.1,31.4 470.3,31.4 471.1,31.6 472.2,31.7 473.2,31.9 474.2,32.0 475.2,32.1 476.2,32.3 476.6,32.3 477.2,32.4 478.2,32.5 479.2,32.6 480.3,32.7 481.3,32.7 482.3,32.8 483.3,32.9 484.3,32.9 485.3,33.0 486.3,33.0 487.3,33.0 488.4,33.0 489.4,33.0 490.4,33.0 491.4,33.0 492.4,33.0 493.4,32.9 494.4,32.9 495.4,32.8 496.4,32.7 497.5,32.6 498.5,32.5 499.5,32.4 500.2,32.3 500.5,32.3 501.5,32.1 502.5,32.0 503.5,31.8 504.5,31.6 505.5,31.4 505.6,31.4 506.6,31.2 507.6,31.0 508.6,30.7 509.3,30.5 509.6,30.5 510.6,30.2 511.6,29.9 512.5,29.7 512.6,29.6 513.6,29.3 514.7,29.0 515.2,28.8 515.7,28.6 516.7,28.3 517.6,27.9 517.7,27.9 518.7,27.5 519.7,27.1 519.8,27.0 520.7,26.6 521.7,26.2 521.8,26.1 522.8,25.7 523.7,25.3 523.8,25.3 524.8,24.8 525.5,24.4 525.8,24.2 526.8,23.7 527.2,23.5 527.8,23.2 528.7,22.6 528.8,22.6 529.8,22.0 530.3,21.8 530.8,21.4 531.7,20.9 531.9,20.8 532.9,20.1 533.1,20.0 533.9,19.5 534.4,19.1 534.9,18.8 535.7,18.2 535.9,18.1 536.9,17.4 537.0,17.4 537.9,16.7 538.2,16.5 538.9,15.9 539.4,15.6 540.0,15.2 540.5,14.7 541.0,14.4 541.6,13.9 542.0,13.6 542.7,13.0 543.0,12.7 543.8,12.1"/>
</g>
<rect class="fr" x="449.9" y="12.1" width="161.9" height="140.5"/>
<line class="tk" x1="449.9" y1="152.6" x2="449.9" y2="156.1"/>
<text class="tl" x="449.9" y="160.8" text-anchor="middle">25</text>
<line class="tk" x1="482.3" y1="152.6" x2="482.3" y2="156.1"/>
<text class="tl" x="482.3" y="160.8" text-anchor="middle">30</text>
<line class="tk" x1="514.7" y1="152.6" x2="514.7" y2="156.1"/>
<text class="tl" x="514.7" y="160.8" text-anchor="middle">35</text>
<line class="tk" x1="547.0" y1="152.6" x2="547.0" y2="156.1"/>
<text class="tl" x="547.0" y="160.8" text-anchor="middle">40</text>
<line class="tk" x1="579.4" y1="152.6" x2="579.4" y2="156.1"/>
<text class="tl" x="579.4" y="160.8" text-anchor="middle">45</text>
<line class="tk" x1="611.8" y1="152.6" x2="611.8" y2="156.1"/>
<text class="tl" x="611.8" y="160.8" text-anchor="middle">50</text>
<line class="tk" x1="446.1" y1="152.6" x2="449.9" y2="152.6"/>
<text class="tl" x="444.4" y="152.0" text-anchor="end">10</text>
<line class="tk" x1="446.1" y1="117.5" x2="449.9" y2="117.5"/>
<text class="tl" x="444.4" y="116.9" text-anchor="end">15</text>
<line class="tk" x1="446.1" y1="82.3" x2="449.9" y2="82.3"/>
<text class="tl" x="444.4" y="81.8" text-anchor="end">20</text>
<line class="tk" x1="446.1" y1="47.2" x2="449.9" y2="47.2"/>
<text class="tl" x="444.4" y="46.6" text-anchor="end">25</text>
<line class="tk" x1="446.1" y1="12.1" x2="449.9" y2="12.1"/>
<text class="tl" x="444.4" y="11.5" text-anchor="end">30</text>
<rect class="lb" x="498.9" y="27.7" width="7" height="4.6"/>
<text class="lt" x="502.4" y="31.4" text-anchor="middle">65</text>
<rect class="lb" x="529.3" y="64.1" width="7" height="4.6"/>
<text class="lt" x="532.8" y="67.8" text-anchor="middle">60</text>
<rect class="lb" x="583.8" y="79.1" width="7" height="4.6"/>
<text class="lt" x="587.3" y="82.8" text-anchor="middle">55</text>
<rect class="lb" x="472.7" y="111.3" width="7" height="4.6"/>
<text class="lt" x="476.2" y="115.0" text-anchor="middle">55</text>
<rect class="lb" x="450.1" y="143.3" width="7" height="4.6"/>
<text class="lt" x="453.6" y="147.0" text-anchor="middle">50</text>
<circle cx="530.8" cy="82.3" r="1.6" fill="#700" stroke="#111" stroke-width="0.9"/>
<text class="lt" x="526.3" y="83.6" text-anchor="middle" fill="#333">6</text>
<text class="tt" x="530.7" y="9.2" text-anchor="middle">R2</text>
<text class="ax" transform="translate(544.7,172.5) scale(0.95,1)" text-anchor="middle">B: Liquid lipid to Total Lipid (%w/v)</text>
<text class="ax" transform="translate(430.7,94.7) rotate(90) scale(0.95,1)" text-anchor="middle">C: Sonication Time min)</text>
<polyline class="wl" points="37.8,279.9 128.2,253.0 218.2,280.1"/>
<polyline class="wl" points="37.0,264.3 128.2,239.2 219.0,264.5"/>
<polyline class="wl" points="36.1,248.5 128.2,225.1 219.9,248.7"/>
<polyline class="wl" points="35.3,232.6 128.2,210.9 220.7,232.7"/>
<polyline class="wl" points="34.5,216.4 128.2,196.5 221.5,216.5"/>
<polyline class="wl" points="33.7,200.0 128.2,181.9 222.3,200.1"/>
<polyline class="wl" points="60.4,272.6 57.3,194.9"/>
<polyline class="wl" points="83.0,265.7 81.0,190.2"/>
<polyline class="wl" points="105.6,259.1 104.6,185.8"/>
<polyline class="wl" points="200.2,274.1 203.5,196.0"/>
<polyline class="wl" points="182.2,268.5 184.7,192.1"/>
<polyline class="wl" points="164.2,263.1 165.9,188.4"/>
<polyline class="wl" points="146.2,257.9 147.1,185.0"/>
<polyline class="wl" points="39.2,306.3 33.7,200.0"/>
<polyline class="wl" points="128.2,276.4 128.2,181.9"/>
<polyline class="wl" points="216.8,306.5 222.3,200.1"/>
<polygon class="fl" points="127.8,342.6 216.8,306.5 128.2,276.4 39.2,306.3"/>
<polyline class="fc" stroke="#1da4d9" points="65.0,297.0 64.6,297.3 64.1,297.6 63.6,298.0 63.3,298.1 63.0,298.3 62.5,298.7 62.0,299.0 61.5,299.3 61.5,299.3 60.9,299.7 60.4,300.0 59.9,300.4 59.6,300.5 59.3,300.7 58.8,301.0 58.2,301.4 57.7,301.7 57.5,301.8 57.1,302.0 56.6,302.4 56.0,302.7 55.5,303.0 55.3,303.1 54.9,303.4 54.3,303.7 53.8,304.1 53.2,304.4 52.9,304.6 52.6,304.7 52.0,305.1 51.4,305.4 50.9,305.7 50.3,306.1 50.2,306.1 49.7,306.4 49.1,306.7 48.5,307.0 47.9,307.4 47.3,307.7 47.3,307.7 46.7,308.0 46.1,308.4 45.5,308.7"/>
<polyline class="fc" stroke="#1dd2d9" points="86.1,289.8 86.0,289.9 85.6,290.2 85.2,290.6 85.1,290.6 84.7,291.0 84.3,291.3 84.1,291.5 83.9,291.7 83.4,292.0 83.0,292.3 83.0,292.4 82.5,292.7 82.1,293.1 81.9,293.2 81.6,293.4 81.2,293.8 80.7,294.1 80.7,294.2 80.2,294.5 79.8,294.8 79.4,295.1 79.3,295.2 78.8,295.5 78.3,295.9 78.0,296.1 77.8,296.2 77.4,296.6 76.9,296.9 76.6,297.1 76.4,297.3 75.9,297.6 75.4,298.0 75.0,298.2 74.9,298.3 74.3,298.7 73.8,299.0 73.4,299.3 73.3,299.3 72.8,299.7 72.3,300.0 71.7,300.4 71.6,300.5 71.2,300.7 70.7,301.1 70.1,301.4 69.6,301.7 69.6,301.7 69.0,302.1 68.5,302.4 67.9,302.8 67.5,303.0 67.4,303.1 66.8,303.4 66.3,303.8 65.7,304.1 65.2,304.4 65.1,304.4 64.5,304.8 64.0,305.1 63.4,305.4 62.8,305.8 62.6,305.9 62.2,306.1 61.6,306.4 61.1,306.8 60.5,307.1 59.9,307.4 59.7,307.5 59.3,307.8 58.7,308.1 58.1,308.4 57.4,308.8 56.8,309.1 56.4,309.3 56.2,309.4 55.6,309.7 55.0,310.1 54.4,310.4 53.7,310.7 53.1,311.0 52.6,311.3 52.5,311.4"/>
<polyline class="fc" stroke="#1dd9b4" points="185.8,318.4 186.2,318.0 186.6,317.6 187.1,317.3 187.1,317.2 187.6,316.9 188.1,316.5 188.5,316.1 188.6,316.1 189.1,315.7 189.6,315.3 190.0,315.0 190.1,314.9 190.6,314.5 191.1,314.2 191.6,313.8 191.6,313.8 192.1,313.4 192.6,313.0 193.2,312.7 193.4,312.5 193.7,312.3 194.2,312.0 194.8,311.6 195.3,311.2 195.4,311.2 195.9,310.9 196.4,310.5 197.0,310.2 197.6,309.8 197.6,309.8 198.1,309.5 198.7,309.1 199.3,308.8 199.8,308.4 200.1,308.3 200.4,308.1 201.0,307.8 201.6,307.4 202.2,307.1 202.8,306.8 203.0,306.7 203.4,306.4 204.0,306.1 204.6,305.8 205.2,305.5 205.8,305.2 206.4,304.9 206.4,304.8 207.1,304.5 207.7,304.2 208.3,303.9 208.9,303.6"/>
<polyline class="fc" stroke="#1dd9b4" points="104.4,283.8 104.2,284.2 103.9,284.4 103.8,284.5 103.5,284.9 103.4,285.1 103.2,285.3 102.9,285.7 102.8,285.8 102.5,286.0 102.2,286.4 102.2,286.4 101.9,286.8 101.6,287.1 101.5,287.2 101.2,287.5 100.9,287.8 100.8,287.9 100.5,288.3 100.2,288.6 100.1,288.7 99.7,289.0 99.5,289.3 99.4,289.4 99.0,289.8 98.7,290.0 98.6,290.1 98.2,290.5 97.9,290.8 97.8,290.9 97.4,291.3 97.1,291.6 97.0,291.6 96.6,292.0 96.2,292.4 96.2,292.4 95.8,292.7 95.4,293.1 95.2,293.2 95.0,293.5 94.5,293.8 94.2,294.1 94.1,294.2 93.7,294.5 93.2,294.9 93.1,295.0 92.8,295.3 92.3,295.6 92.0,295.9 91.9,296.0 91.4,296.3 90.9,296.7 90.7,296.8 90.5,297.0 90.0,297.4 89.5,297.8 89.4,297.8 89.0,298.1 88.5,298.5 88.1,298.8 88.0,298.9 87.6,299.2 87.1,299.5 86.5,299.9 86.4,299.9 86.0,300.2 85.5,300.6 85.0,300.9 84.7,301.1 84.5,301.2 83.9,301.6 83.4,301.9 82.9,302.3 82.8,302.3 82.3,302.6 81.8,303.0 81.2,303.3 80.8,303.6 80.7,303.6 80.1,304.0 79.6,304.3 79.0,304.7 78.4,305.0 78.4,305.0 77.9,305.3 77.3,305.7 76.7,306.0 76.1,306.3 75.8,306.5 75.5,306.7 74.9,307.0 74.3,307.3 73.7,307.7 73.1,308.0 72.8,308.2 72.5,308.3 71.9,308.6 71.3,309.0 70.7,309.3 70.1,309.6 69.4,309.9 69.1,310.1 68.8,310.3 68.2,310.6 67.6,310.9 66.9,311.2 66.3,311.6 65.6,311.9 65.0,312.2 64.7,312.4 64.4,312.5 63.7,312.9 63.1,313.2 62.4,313.5 61.7,313.8 61.1,314.1 60.4,314.4"/>
<polyline class="fc" stroke="#1dd987" points="161.1,328.3 161.1,328.3 161.4,327.8 161.5,327.5 161.7,327.3 162.0,326.8 162.0,326.7 162.3,326.3 162.5,325.9 162.6,325.8 162.9,325.4 163.0,325.1 163.2,324.9 163.5,324.4 163.6,324.3 163.8,323.9 164.2,323.5 164.2,323.4 164.5,323.0 164.8,322.6 164.8,322.5 165.2,322.1 165.5,321.7 165.5,321.6 165.9,321.2 166.2,320.8 166.3,320.7 166.7,320.3 166.9,319.9 167.0,319.8 167.4,319.4 167.8,319.0 167.8,319.0 168.2,318.5 168.6,318.1 168.7,318.1 169.1,317.7 169.5,317.3 169.7,317.1 169.9,316.9 170.4,316.5 170.7,316.1 170.8,316.1 171.2,315.6 171.7,315.2 171.9,315.1 172.2,314.9 172.6,314.5 173.1,314.1 173.2,314.0 173.6,313.7 174.1,313.3 174.6,312.9 174.6,312.9 175.1,312.5 175.6,312.2 176.1,311.8 176.3,311.7 176.6,311.4 177.2,311.1 177.7,310.7 178.1,310.4 178.2,310.3 178.8,310.0 179.3,309.6 179.9,309.3 180.3,309.0 180.5,308.9 181.0,308.6 181.6,308.3 182.2,307.9 182.8,307.6 182.8,307.5 183.4,307.2 183.9,306.9 184.5,306.6 185.2,306.3 185.8,305.9 186.0,305.8 186.4,305.6 187.0,305.3 187.6,305.0 188.2,304.7 188.9,304.3 189.5,304.0 190.0,303.8 190.2,303.7 190.8,303.4 191.4,303.1 192.1,302.8 192.8,302.5 193.4,302.2 194.1,301.9 194.7,301.6 195.4,301.3 196.0,301.1 196.1,301.0 196.8,300.8 197.5,300.5 198.1,300.2 198.8,299.9"/>
<polyline class="fc" stroke="#1dd987" points="120.9,278.7 120.8,278.7 120.7,279.1 120.7,279.2 120.5,279.5 120.4,279.7 120.3,279.9 120.2,280.2 120.2,280.3 120.0,280.7 120.0,280.8 119.8,281.1 119.7,281.3 119.6,281.5 119.5,281.9 119.4,282.0 119.2,282.4 119.2,282.4 119.0,282.8 118.9,283.0 118.8,283.2 118.7,283.5 118.6,283.6 118.4,284.0 118.3,284.1 118.2,284.4 118.0,284.7 118.0,284.8 117.7,285.2 117.7,285.3 117.5,285.6 117.4,285.9 117.3,286.0 117.0,286.4 117.0,286.5 116.8,286.8 116.6,287.1 116.5,287.2 116.2,287.6 116.2,287.7 116.0,288.0 115.8,288.3 115.7,288.4 115.4,288.8 115.3,289.0 115.1,289.2 114.8,289.6 114.8,289.6 114.5,290.0 114.3,290.3 114.2,290.4 113.9,290.8 113.8,291.0 113.6,291.2 113.3,291.6 113.2,291.6 112.9,292.0 112.6,292.4 112.6,292.4 112.3,292.8 112.0,293.1 111.9,293.2 111.6,293.6 111.3,293.8 111.2,294.0 110.8,294.3 110.6,294.6 110.4,294.7 110.1,295.1 109.8,295.4 109.7,295.5 109.3,295.9 108.9,296.2 108.9,296.2 108.5,296.6 108.0,297.0 108.0,297.0 107.6,297.4 107.2,297.7 107.0,297.9 106.7,298.1 106.3,298.5 105.9,298.8 105.9,298.8 105.4,299.2 104.9,299.6 104.6,299.8 104.5,299.9 104.0,300.3 103.5,300.7 103.3,300.8 103.0,301.0 102.5,301.4 102.0,301.7 101.8,301.9 101.5,302.1 101.0,302.4 100.5,302.8 100.1,303.0 99.9,303.1 99.4,303.5 98.9,303.8 98.3,304.2 98.1,304.3 97.8,304.5 97.2,304.8 96.7,305.2 96.1,305.5 95.8,305.7 95.5,305.9 94.9,306.2 94.4,306.5 93.8,306.9 93.2,307.2 93.0,307.3 92.6,307.5 92.0,307.9 91.4,308.2 90.7,308.5 90.1,308.8 89.6,309.1 89.5,309.2 88.9,309.5 88.2,309.8 87.6,310.1 87.0,310.4 86.3,310.8 85.7,311.1 85.0,311.4 84.9,311.4 84.4,311.7 83.7,312.0 83.0,312.3 82.4,312.7 81.7,313.0 81.0,313.3 80.4,313.6 79.7,313.9 79.0,314.2 78.3,314.5 77.6,314.8 77.6,314.8 76.9,315.1 76.2,315.4 75.5,315.7 74.8,316.0 74.1,316.3 73.4,316.6 72.7,317.0 72.0,317.3 71.3,317.6 70.5,317.9 69.8,318.2"/>
<polyline class="fc" stroke="#1dd95a" points="140.6,337.0 140.6,336.5 140.6,336.4 140.5,335.9 140.5,335.7 140.5,335.2 140.5,335.1 140.5,334.6 140.5,334.5 140.4,333.9 140.4,333.9 140.4,333.3 140.4,333.3 140.4,332.7 140.3,332.6 140.3,332.1 140.3,332.0 140.3,331.4 140.3,331.3 140.2,330.8 140.2,330.7 140.2,330.2 140.2,330.1 140.2,329.6 140.2,329.4 140.1,329.0 140.1,328.8 140.1,328.4 140.1,328.2 140.1,327.8 140.1,327.5 140.0,327.2 140.0,326.9 140.0,326.6 140.0,326.3 140.0,326.0 140.0,325.6 140.0,325.4 139.9,325.0 139.9,324.8 139.9,324.4 139.9,324.3 139.9,323.8 139.9,323.7 139.8,323.2 139.8,323.1 139.8,322.6 139.8,322.5 139.8,321.9 139.8,321.9 139.7,321.3 139.7,321.3 139.7,320.7 139.7,320.7 139.7,320.2 139.7,320.1 139.7,319.6 139.7,319.5 139.6,319.0 139.6,318.9 139.6,318.4 139.6,318.3 139.6,317.8 139.6,317.7 139.6,317.3 139.6,317.1 139.6,316.7 139.5,316.5 139.5,316.1 139.5,315.9 139.5,315.6 139.5,315.4 139.5,315.0 139.5,314.8 139.5,314.4 139.5,314.2 139.5,313.8 139.5,313.6 139.5,313.3 139.5,313.1 139.5,312.7 139.5,312.5 139.6,312.1 139.6,311.9 139.6,311.5 139.6,311.4 139.7,310.9 139.7,310.8 139.8,310.3 139.8,310.3 139.9,309.8 139.9,309.7 140.1,309.3 140.2,309.1 140.3,308.8 140.6,308.4 140.6,308.3 140.9,307.9 141.4,307.6 141.7,307.4 141.9,307.2 142.5,306.9 143.2,306.6 143.9,306.3 144.6,306.0 145.4,305.7 146.1,305.5 146.9,305.2 147.7,305.0 148.5,304.7 149.3,304.5 150.2,304.2 150.6,304.1 151.0,304.0 151.8,303.7 152.6,303.5 153.5,303.3 154.3,303.0 155.1,302.8 156.0,302.6 156.8,302.3 157.3,302.2 157.7,302.1 158.5,301.9 159.3,301.6 160.2,301.4 161.0,301.2 161.9,300.9 162.7,300.7 163.4,300.5 163.6,300.5 164.4,300.3 165.3,300.0 166.1,299.8 167.0,299.6 167.8,299.4 168.7,299.1 169.3,299.0 169.5,298.9 170.4,298.7 171.2,298.5 172.1,298.2 172.9,298.0 173.8,297.8 174.6,297.6 175.0,297.5 175.5,297.3 176.3,297.1 177.2,296.9 178.0,296.7 178.9,296.5 179.7,296.2 180.6,296.0 180.8,296.0 181.4,295.8 182.3,295.6 183.1,295.4 184.0,295.1 184.8,294.9"/>
<polyline class="fc" stroke="#1dd95a" points="136.3,278.9 136.3,278.9 136.3,279.4 136.3,279.4 136.3,279.8 136.3,279.8 136.4,280.3 136.4,280.3 136.4,280.7 136.4,280.8 136.4,281.2 136.4,281.3 136.5,281.6 136.5,281.7 136.5,282.1 136.5,282.2 136.5,282.6 136.6,282.7 136.6,283.0 136.6,283.2 136.6,283.5 136.6,283.7 136.6,283.9 136.7,284.2 136.7,284.4 136.7,284.7 136.7,284.9 136.7,285.2 136.7,285.3 136.8,285.6 136.8,285.8 136.8,286.1 136.8,286.3 136.8,286.6 136.8,286.8 136.9,287.1 136.9,287.2 136.9,287.6 136.9,287.7 136.9,288.1 136.9,288.2 137.0,288.7 137.0,288.7 137.0,289.2 137.0,289.2 137.0,289.6 137.0,289.7 137.1,290.1 137.1,290.2 137.1,290.6 137.1,290.7 137.1,291.1 137.1,291.2 137.2,291.6 137.2,291.7 137.2,292.1 137.2,292.2 137.2,292.6 137.2,292.8 137.3,293.1 137.3,293.3 137.3,293.6 137.3,293.8 137.3,294.1 137.3,294.3 137.3,294.6 137.4,294.8 137.4,295.1 137.4,295.4 137.4,295.6 137.4,295.9 137.4,296.1 137.4,296.4 137.4,296.6 137.5,297.0 137.5,297.1 137.5,297.5 137.5,297.6 137.5,298.0 137.5,298.1 137.5,298.5 137.5,298.7 137.5,299.1 137.5,299.2 137.5,299.6 137.5,299.7 137.5,300.1 137.5,300.2 137.5,300.7 137.5,300.8 137.5,301.2 137.5,301.3 137.5,301.7 137.5,301.8 137.5,302.3 137.5,302.4 137.4,302.8 137.4,303.0 137.4,303.3 137.3,303.5 137.3,303.8 137.2,304.1 137.2,304.3 137.0,304.7 137.0,304.8 136.8,305.3 136.7,305.4 136.5,305.7 136.1,306.1 136.1,306.1 135.7,306.5 135.2,306.9 134.6,307.2 134.1,307.4 133.9,307.5 133.2,307.8 132.5,308.1 131.8,308.4 131.0,308.7 130.2,308.9 130.0,309.0 129.4,309.2 128.6,309.4 127.8,309.7 127.0,309.9 126.2,310.2 125.3,310.4 124.5,310.7 123.7,310.9 122.8,311.2 122.3,311.3 122.0,311.4 121.2,311.7 120.3,311.9 119.5,312.2 118.6,312.4 117.8,312.6 117.0,312.9 116.1,313.1 116.1,313.1 115.3,313.4 114.4,313.6 113.6,313.9 112.7,314.1 111.9,314.4 111.0,314.6 110.2,314.9 110.1,314.9 109.3,315.1 108.5,315.3 107.6,315.6 106.8,315.8 105.9,316.1 105.1,316.3 104.3,316.6 104.2,316.6 103.4,316.8 102.5,317.1 101.7,317.3 100.8,317.6 100.0,317.8 99.1,318.1 98.6,318.2 98.3,318.3 97.4,318.6 96.6,318.8 95.7,319.1 94.9,319.3 94.0,319.6 93.2,319.8 92.9,319.9 92.3,320.1 91.5,320.3 90.6,320.6 89.8,320.8 88.9,321.1 88.0,321.3 87.2,321.6 87.2,321.6 86.3,321.8 85.5,322.1 84.6,322.3 83.8,322.6 82.9,322.8 82.1,323.1"/>
<circle cx="37.8" cy="279.9" r="0.75" fill="#222"/>
<text class="zl" x="30.7" y="278.3" text-anchor="middle">40</text>
<circle cx="37.0" cy="264.3" r="0.75" fill="#222"/>
<text class="zl" x="29.9" y="262.7" text-anchor="middle">50</text>
<circle cx="36.1" cy="248.5" r="0.75" fill="#222"/>
<text class="zl" x="29.0" y="246.9" text-anchor="middle">60</text>
<circle cx="35.3" cy="232.6" r="0.75" fill="#222"/>
<text class="zl" x="28.2" y="231.0" text-anchor="middle">70</text>
<circle cx="34.5" cy="216.4" r="0.75" fill="#222"/>
<text class="zl" x="27.4" y="214.8" text-anchor="middle">80</text>
<circle cx="33.7" cy="200.0" r="0.75" fill="#222"/>
<text class="zl" x="26.6" y="198.4" text-anchor="middle">90</text>
<line class="tk3" x1="127.8" y1="342.6" x2="130.9" y2="343.9"/>
<text class="zl" x="133.6" y="349.1" text-anchor="middle">4</text>
<line class="tk3" x1="150.0" y1="333.0" x2="153.1" y2="334.3"/>
<text class="zl" x="155.8" y="339.5" text-anchor="middle">5</text>
<line class="tk3" x1="172.3" y1="323.8" x2="175.4" y2="325.0"/>
<text class="zl" x="178.1" y="330.3" text-anchor="middle">6</text>
<line class="tk3" x1="194.5" y1="314.9" x2="197.6" y2="316.2"/>
<text class="zl" x="200.3" y="321.4" text-anchor="middle">7</text>
<line class="tk3" x1="216.8" y1="306.5" x2="219.9" y2="307.7"/>
<text class="zl" x="222.6" y="313.0" text-anchor="middle">8</text>
<line class="tk3" x1="127.8" y1="342.6" x2="124.6" y2="343.9"/>
<text class="zl" x="121.0" y="348.9" text-anchor="middle">25</text>
<line class="tk3" x1="110.0" y1="334.8" x2="106.9" y2="336.1"/>
<text class="zl" x="103.2" y="341.1" text-anchor="middle">30</text>
<line class="tk3" x1="92.3" y1="327.3" x2="89.2" y2="328.6"/>
<text class="zl" x="85.5" y="333.6" text-anchor="middle">35</text>
<line class="tk3" x1="74.6" y1="320.1" x2="71.5" y2="321.3"/>
<text class="zl" x="67.8" y="326.4" text-anchor="middle">40</text>
<line class="tk3" x1="56.9" y1="313.1" x2="53.8" y2="314.3"/>
<text class="zl" x="50.1" y="319.4" text-anchor="middle">45</text>
<line class="tk3" x1="39.2" y1="306.3" x2="36.1" y2="307.5"/>
<text class="zl" x="32.4" y="312.6" text-anchor="middle">50</text>
<text class="ax3" transform="translate(151.3,354.3) rotate(-23.0) scale(0.95,1)">A: Total Lipid (%w/v)</text>
<text class="ax3" transform="translate(3.9,310.0) rotate(26.4) scale(0.95,1)">B: Liquid lipid to Total Lipid (%w/v)</text>
<g class="sf">
<polygon fill="#00ff81" points="128.2,230.8 132.8,228.8 128.2,228.8 123.6,230.8"/>
<polygon fill="#00ff92" points="123.6,232.7 128.2,230.8 123.6,230.8 119.1,232.8"/>
<polygon fill="#00ff6e" points="132.8,230.8 137.4,228.9 132.8,228.8 128.2,230.8"/>
<polygon fill="#00ffa2" points="119.0,234.7 123.6,232.7 119.1,232.8 114.5,234.9"/>
<polygon fill="#00ff7e" points="128.2,232.8 132.8,230.8 128.2,230.8 123.6,232.7"/>
<polygon fill="#00ff5f" points="137.4,231.1 142.0,229.2 137.4,228.9 132.8,230.8"/>
<polygon fill="#00ffb2" points="114.4,236.7 119.0,234.7 114.5,234.9 109.9,236.9"/>
<polygon fill="#00ff8d" points="123.6,234.7 128.2,232.8 123.6,232.7 119.0,234.7"/>
<polygon fill="#00ff6d" points="132.8,233.0 137.4,231.1 132.8,230.8 128.2,232.8"/>
<polygon fill="#00ff52" points="141.9,231.5 146.6,229.7 142.0,229.2 137.4,231.1"/>
<polygon fill="#00ffc1" points="109.9,238.6 114.4,236.7 109.9,236.9 105.3,238.9"/>
<polygon fill="#00ff9c" points="119.0,236.6 123.6,234.7 119.0,234.7 114.4,236.7"/>
<polygon fill="#00ff7b" points="128.2,234.8 132.8,233.0 128.2,232.8 123.6,234.7"/>
<polygon fill="#00ff5f" points="137.3,233.3 141.9,231.5 137.4,231.1 132.8,233.0"/>
<polygon fill="#00ff47" points="146.5,232.1 151.1,230.3 146.6,229.7 141.9,231.5"/>
<polygon fill="#00ffd0" points="105.3,240.6 109.9,238.6 105.3,238.9 100.8,240.9"/>
<polygon fill="#00ffaa" points="114.4,238.5 119.0,236.6 114.4,236.7 109.9,238.6"/>
<polygon fill="#00ff88" points="123.6,236.7 128.2,234.8 123.6,234.7 119.0,236.6"/>
<polygon fill="#00ff6b" points="132.7,235.1 137.3,233.3 132.8,233.0 128.2,234.8"/>
<polygon fill="#00ff53" points="141.9,233.8 146.5,232.1 141.9,231.5 137.3,233.3"/>
<polygon fill="#00ff40" points="151.1,232.8 155.7,231.1 151.1,230.3 146.5,232.1"/>
<polygon fill="#00ffdf" points="100.7,242.6 105.3,240.6 100.8,240.9 96.2,243.0"/>
<polygon fill="#00ffb8" points="109.8,240.4 114.4,238.5 109.9,238.6 105.3,240.6"/>
<polygon fill="#00ff95" points="119.0,238.5 123.6,236.7 119.0,236.6 114.4,238.5"/>
<polygon fill="#00ff78" points="128.1,236.9 132.7,235.1 128.2,234.8 123.6,236.7"/>
<polygon fill="#00ff5f" points="137.3,235.6 141.9,233.8 137.3,233.3 132.7,235.1"/>
<polygon fill="#00ff4a" points="146.5,234.5 151.1,232.8 146.5,232.1 141.9,233.8"/>
<polygon fill="#00ff3b" points="155.7,233.7 160.3,232.0 155.7,231.1 151.1,232.8"/>
<polygon fill="#00ffed" points="96.2,244.6 100.7,242.6 96.2,243.0 91.6,245.0"/>
<polygon fill="#00ffc5" points="105.3,242.3 109.8,240.4 105.3,240.6 100.7,242.6"/>
<polygon fill="#00ffa2" points="114.4,240.4 119.0,238.5 114.4,238.5 109.8,240.4"/>
<polygon fill="#00ff84" points="123.5,238.7 128.1,236.9 123.6,236.7 119.0,238.5"/>
<polygon fill="#00ff6a" points="132.7,237.3 137.3,235.6 132.7,235.1 128.1,236.9"/>
<polygon fill="#00ff55" points="141.9,236.2 146.5,234.5 141.9,233.8 137.3,235.6"/>
<polygon fill="#00ff44" points="151.1,235.4 155.7,233.7 151.1,232.8 146.5,234.5"/>
<polygon fill="#00ff39" points="160.3,234.8 164.9,233.2 160.3,232.0 155.7,233.7"/>
<polygon fill="#00fffa" points="91.6,246.5 96.2,244.6 91.6,245.0 87.1,247.0"/>
<polygon fill="#00ffd2" points="100.7,244.3 105.3,242.3 100.7,242.6 96.2,244.6"/>
<polygon fill="#00ffae" points="109.8,242.3 114.4,240.4 109.8,240.4 105.3,242.3"/>
<polygon fill="#00ff8f" points="118.9,240.5 123.5,238.7 119.0,238.5 114.4,240.4"/>
<polygon fill="#00ff74" points="128.1,239.1 132.7,237.3 128.1,236.9 123.5,238.7"/>
<polygon fill="#00ff5f" points="137.3,237.9 141.9,236.2 137.3,235.6 132.7,237.3"/>
<polygon fill="#00ff4e" points="146.5,237.0 151.1,235.4 146.5,234.5 141.9,236.2"/>
<polygon fill="#00ff41" points="155.7,236.4 160.3,234.8 155.7,233.7 151.1,235.4"/>
<polygon fill="#00ff39" points="164.9,236.0 169.5,234.5 164.9,233.2 160.3,234.8"/>
<polygon fill="#00f7ff" points="87.0,248.5 91.6,246.5 87.1,247.0 82.5,249.0"/>
<polygon fill="#00ffde" points="96.1,246.2 100.7,244.3 96.2,244.6 91.6,246.5"/>
<polygon fill="#00ffba" points="105.2,244.1 109.8,242.3 105.3,242.3 100.7,244.3"/>
<polygon fill="#00ff9a" points="114.4,242.3 118.9,240.5 114.4,240.4 109.8,242.3"/>
<polygon fill="#00ff7f" points="123.5,240.8 128.1,239.1 123.5,238.7 118.9,240.5"/>
<polygon fill="#00ff68" points="132.7,239.6 137.3,237.9 132.7,237.3 128.1,239.1"/>
<polygon fill="#00ff56" points="141.9,238.7 146.5,237.0 141.9,236.2 137.3,237.9"/>
<polygon fill="#00ff49" points="151.1,238.0 155.7,236.4 151.1,235.4 146.5,237.0"/>
<polygon fill="#00ff41" points="160.2,237.6 164.9,236.0 160.3,234.8 155.7,236.4"/>
<polygon fill="#00ff3d" points="169.4,237.5 174.0,235.9 169.5,234.5 164.9,236.0"/>
<polygon fill="#00eaff" points="82.5,250.4 87.0,248.5 82.5,249.0 78.0,251.1"/>
<polygon fill="#00ffea" points="91.6,248.1 96.1,246.2 91.6,246.5 87.0,248.5"/>
<polygon fill="#00ffc5" points="100.7,246.0 105.2,244.1 100.7,244.3 96.1,246.2"/>
<polygon fill="#00ffa4" points="109.8,244.1 114.4,242.3 109.8,242.3 105.2,244.1"/>
<polygon fill="#00ff88" points="118.9,242.6 123.5,240.8 118.9,240.5 114.4,242.3"/>
<polygon fill="#00ff71" points="128.1,241.3 132.7,239.6 128.1,239.1 123.5,240.8"/>
<polygon fill="#00ff5f" points="137.3,240.3 141.9,238.7 137.3,237.9 132.7,239.6"/>
<polygon fill="#00ff51" points="146.4,239.6 151.1,238.0 146.5,237.0 141.9,238.7"/>
<polygon fill="#00ff47" points="155.6,239.1 160.2,237.6 155.7,236.4 151.1,238.0"/>
<polygon fill="#00ff43" points="164.8,239.0 169.4,237.5 164.9,236.0 160.2,237.6"/>
<polygon fill="#00ff43" points="174.0,239.1 178.6,237.6 174.0,235.9 169.4,237.5"/>
<polygon fill="#00deff" points="77.9,252.4 82.5,250.4 78.0,251.1 73.4,253.1"/>
<polygon fill="#00fff6" points="87.0,250.0 91.6,248.1 87.0,248.5 82.5,250.4"/>
<polygon fill="#00ffd0" points="96.1,247.8 100.7,246.0 96.1,246.2 91.6,248.1"/>
<polygon fill="#00ffae" points="105.2,245.9 109.8,244.1 105.2,244.1 100.7,246.0"/>
<polygon fill="#00ff92" points="114.3,244.3 118.9,242.6 114.4,242.3 109.8,244.1"/>
<polygon fill="#00ff7a" points="123.5,243.0 128.1,241.3 123.5,240.8 118.9,242.6"/>
<polygon fill="#00ff66" points="132.7,241.9 137.3,240.3 132.7,239.6 128.1,241.3"/>
<polygon fill="#00ff58" points="141.8,241.2 146.4,239.6 141.9,238.7 137.3,240.3"/>
<polygon fill="#00ff4e" points="151.0,240.7 155.6,239.1 151.1,238.0 146.4,239.6"/>
<polygon fill="#00ff4c" points="178.6,240.9 183.2,239.4 178.6,237.6 174.0,239.1"/>
<polygon fill="#00ff48" points="160.2,240.4 164.8,239.0 160.2,237.6 155.6,239.1"/>
<polygon fill="#00ff48" points="169.4,240.5 174.0,239.1 169.4,237.5 164.8,239.0"/>
<polygon fill="#00d2ff" points="73.4,254.4 77.9,252.4 73.4,253.1 68.9,255.1"/>
<polygon fill="#00fdff" points="82.4,251.9 87.0,250.0 82.5,250.4 77.9,252.4"/>
<polygon fill="#00ffda" points="91.5,249.7 96.1,247.8 91.6,248.1 87.0,250.0"/>
<polygon fill="#00ffb8" points="100.6,247.7 105.2,245.9 100.7,246.0 96.1,247.8"/>
<polygon fill="#00ff9b" points="109.7,246.1 114.3,244.3 109.8,244.1 105.2,245.9"/>
<polygon fill="#00ff82" points="118.9,244.7 123.5,243.0 118.9,242.6 114.3,244.3"/>
<polygon fill="#00ff6e" points="128.1,243.6 132.7,241.9 128.1,241.3 123.5,243.0"/>
<polygon fill="#00ff5e" points="137.2,242.7 141.8,241.2 137.3,240.3 132.7,241.9"/>
<polygon fill="#00ff54" points="146.4,242.2 151.0,240.7 146.4,239.6 141.8,241.2"/>
<polygon fill="#00ff57" points="183.1,242.8 187.7,241.5 183.2,239.4 178.6,240.9"/>
<polygon fill="#00c6ff" points="68.8,256.3 73.4,254.4 68.9,255.1 64.4,257.1"/>
<polygon fill="#00ff4e" points="155.6,241.9 160.2,240.4 155.6,239.1 151.0,240.7"/>
<polygon fill="#00ff4f" points="174.0,242.3 178.6,240.9 174.0,239.1 169.4,240.5"/>
<polygon fill="#00ff4c" points="164.8,242.0 169.4,240.5 164.8,239.0 160.2,240.4"/>
<polygon fill="#00f2ff" points="77.9,253.8 82.4,251.9 77.9,252.4 73.4,254.4"/>
<polygon fill="#00ffe4" points="86.9,251.5 91.5,249.7 87.0,250.0 82.4,251.9"/>
<polygon fill="#00ffc1" points="96.0,249.5 100.6,247.7 96.1,247.8 91.5,249.7"/>
<polygon fill="#00ffa3" points="105.2,247.8 109.7,246.1 105.2,245.9 100.6,247.7"/>
<polygon fill="#00ff89" points="114.3,246.3 118.9,244.7 114.3,244.3 109.7,246.1"/>
<polygon fill="#00ff75" points="123.5,245.2 128.1,243.6 123.5,243.0 118.9,244.7"/>
<polygon fill="#00ff65" points="132.6,244.3 137.2,242.7 132.7,241.9 128.1,243.6"/>
<polygon fill="#00ff66" points="187.7,245.0 192.3,243.7 187.7,241.5 183.1,242.8"/>
<polygon fill="#00bbff" points="64.3,258.3 68.8,256.3 64.4,257.1 59.8,259.1"/>
<polygon fill="#00ff59" points="141.8,243.7 146.4,242.2 141.8,241.2 137.2,242.7"/>
<polygon fill="#00ff5a" points="178.5,244.2 183.1,242.8 178.6,240.9 174.0,242.3"/>
<polygon fill="#00ff52" points="151.0,243.4 155.6,241.9 151.0,240.7 146.4,242.2"/>
<polygon fill="#00ff53" points="169.4,243.6 174.0,242.3 169.4,240.5 164.8,242.0"/>
<polygon fill="#00ff50" points="160.2,243.4 164.8,242.0 160.2,240.4 155.6,241.9"/>
<polygon fill="#00e8ff" points="73.3,255.6 77.9,253.8 73.4,254.4 68.8,256.3"/>
<polygon fill="#00ffed" points="82.4,253.3 86.9,251.5 82.4,251.9 77.9,253.8"/>
<polygon fill="#00ffca" points="91.5,251.3 96.0,249.5 91.5,249.7 86.9,251.5"/>
<polygon fill="#00ffab" points="100.6,249.5 105.2,247.8 100.6,247.7 96.0,249.5"/>
<polygon fill="#00ff91" points="109.7,248.0 114.3,246.3 109.7,246.1 105.2,247.8"/>
<polygon fill="#00ff7b" points="118.9,246.8 123.5,245.2 118.9,244.7 114.3,246.3"/>
<polygon fill="#00ff77" points="192.2,247.4 196.8,246.1 192.3,243.7 187.7,245.0"/>
<polygon fill="#00ff6a" points="128.0,245.9 132.6,244.3 128.1,243.6 123.5,245.2"/>
<polygon fill="#00b1ff" points="59.8,260.2 64.3,258.3 59.8,259.1 55.3,261.1"/>
<polygon fill="#00ff67" points="183.1,246.3 187.7,245.0 183.1,242.8 178.5,244.2"/>
<polygon fill="#00ff5e" points="137.2,245.2 141.8,243.7 137.2,242.7 132.6,244.3"/>
<polygon fill="#00ff5c" points="173.9,245.5 178.5,244.2 174.0,242.3 169.4,243.6"/>
<polygon fill="#00ff56" points="146.4,244.9 151.0,243.4 146.4,242.2 141.8,243.7"/>
<polygon fill="#00ff55" points="164.8,245.0 169.4,243.6 164.8,242.0 160.2,243.4"/>
<polygon fill="#00ff54" points="155.6,244.8 160.2,243.4 155.6,241.9 151.0,243.4"/>
<polygon fill="#00deff" points="68.8,257.5 73.3,255.6 68.8,256.3 64.3,258.3"/>
<polygon fill="#00fff7" points="77.8,255.1 82.4,253.3 77.9,253.8 73.3,255.6"/>
<polygon fill="#00ffd2" points="86.9,253.0 91.5,251.3 86.9,251.5 82.4,253.3"/>
<polygon fill="#00ffb3" points="96.0,251.2 100.6,249.5 96.0,249.5 91.5,251.3"/>
<polygon fill="#00ff98" points="105.1,249.7 109.7,248.0 105.2,247.8 100.6,249.5"/>
<polygon fill="#00ff81" points="114.3,248.4 118.9,246.8 114.3,246.3 109.7,248.0"/>
<polygon fill="#00ff8a" points="196.7,249.9 201.3,248.7 196.8,246.1 192.2,247.4"/>
<polygon fill="#00ff70" points="123.4,247.4 128.0,245.9 123.5,245.2 118.9,246.8"/>
<polygon fill="#00ff77" points="187.6,248.6 192.2,247.4 187.7,245.0 183.1,246.3"/>
<polygon fill="#00a7ff" points="55.2,262.1 59.8,260.2 55.3,261.1 50.8,263.1"/>
<polygon fill="#00ff63" points="132.6,246.8 137.2,245.2 132.6,244.3 128.0,245.9"/>
<polygon fill="#00ff68" points="178.5,247.6 183.1,246.3 178.5,244.2 173.9,245.5"/>
<polygon fill="#00ff5a" points="141.8,246.3 146.4,244.9 141.8,243.7 137.2,245.2"/>
<polygon fill="#00ff5d" points="169.3,246.8 173.9,245.5 169.4,243.6 164.8,245.0"/>
<polygon fill="#00ff57" points="151.0,246.2 155.6,244.8 151.0,243.4 146.4,244.9"/>
<polygon fill="#00ff58" points="160.1,246.4 164.8,245.0 160.2,243.4 155.6,244.8"/>
<polygon fill="#00d5ff" points="64.2,259.4 68.8,257.5 64.3,258.3 59.8,260.2"/>
<polygon fill="#00ffff" points="73.2,257.0 77.8,255.1 73.3,255.6 68.8,257.5"/>
<polygon fill="#00ffda" points="82.3,254.8 86.9,253.0 82.4,253.3 77.8,255.1"/>
<polygon fill="#00ffba" points="91.4,252.9 96.0,251.2 91.5,251.3 86.9,253.0"/>
<polygon fill="#00ff9e" points="100.5,251.3 105.1,249.7 100.6,249.5 96.0,251.2"/>
<polygon fill="#00ffa1" points="201.2,252.7 205.8,251.5 201.3,248.7 196.7,249.9"/>
<polygon fill="#00ff87" points="109.7,250.0 114.3,248.4 109.7,248.0 105.1,249.7"/>
<polygon fill="#00ff89" points="192.1,251.1 196.7,249.9 192.2,247.4 187.6,248.6"/>
<polygon fill="#009dff" points="50.7,264.1 55.2,262.1 50.8,263.1 46.3,265.1"/>
<polygon fill="#00ff74" points="118.8,249.0 123.4,247.4 118.9,246.8 114.3,248.4"/>
<polygon fill="#00ff76" points="183.0,249.8 187.6,248.6 183.1,246.3 178.5,247.6"/>
<polygon fill="#00ff67" points="128.0,248.3 132.6,246.8 128.0,245.9 123.4,247.4"/>
<polygon fill="#00ff68" points="173.9,248.9 178.5,247.6 173.9,245.5 169.3,246.8"/>
<polygon fill="#00ff5e" points="137.2,247.8 141.8,246.3 137.2,245.2 132.6,246.8"/>
<polygon fill="#00ff5e" points="164.7,248.2 169.3,246.8 164.8,245.0 160.1,246.4"/>
<polygon fill="#00ff59" points="146.4,247.6 151.0,246.2 146.4,244.9 141.8,246.3"/>
<polygon fill="#00ff59" points="155.5,247.8 160.1,246.4 155.6,244.8 151.0,246.2"/>
<polygon fill="#00ccff" points="59.7,261.3 64.2,259.4 59.8,260.2 55.2,262.1"/>
<polygon fill="#00f7ff" points="68.7,258.8 73.2,257.0 68.8,257.5 64.2,259.4"/>
<polygon fill="#00ffe1" points="77.7,256.6 82.3,254.8 77.8,255.1 73.2,257.0"/>
<polygon fill="#00ffc0" points="86.8,254.6 91.4,252.9 86.9,253.0 82.3,254.8"/>
<polygon fill="#00ffba" points="205.7,255.6 210.3,254.5 205.8,251.5 201.2,252.7"/>
<polygon fill="#00ffa4" points="96.0,253.0 100.5,251.3 96.0,251.2 91.4,252.9"/>
<polygon fill="#00ff9f" points="196.6,253.8 201.2,252.7 196.7,249.9 192.1,251.1"/>
<polygon fill="#00ff8c" points="105.1,251.6 109.7,250.0 105.1,249.7 100.5,251.3"/>
<polygon fill="#0094ff" points="46.1,266.0 50.7,264.1 46.3,265.1 41.7,267.1"/>
<polygon fill="#00ff88" points="187.5,252.3 192.1,251.1 187.6,248.6 183.0,249.8"/>
<polygon fill="#00ff79" points="114.3,250.5 118.8,249.0 114.3,248.4 109.7,250.0"/>
<polygon fill="#00ff76" points="178.4,251.1 183.0,249.8 178.5,247.6 173.9,248.9"/>
<polygon fill="#00ff6a" points="123.4,249.7 128.0,248.3 123.4,247.4 118.8,249.0"/>
<polygon fill="#00ff68" points="169.3,250.1 173.9,248.9 169.3,246.8 164.7,248.2"/>
<polygon fill="#00ff61" points="132.6,249.2 137.2,247.8 132.6,246.8 128.0,248.3"/>
<polygon fill="#00ff5f" points="160.1,249.5 164.7,248.2 160.1,246.4 155.5,247.8"/>
<polygon fill="#00ff5b" points="141.8,249.0 146.4,247.6 141.8,246.3 137.2,247.8"/>
<polygon fill="#00ff5b" points="150.9,249.1 155.5,247.8 151.0,246.2 146.4,247.6"/>
<polygon fill="#00c4ff" points="55.1,263.1 59.7,261.3 55.2,262.1 50.7,264.1"/>
<polygon fill="#00efff" points="64.1,260.6 68.7,258.8 64.2,259.4 59.7,261.3"/>
<polygon fill="#00ffe8" points="73.2,258.3 77.7,256.6 73.2,257.0 68.7,258.8"/>
<polygon fill="#00ffc6" points="82.3,256.3 86.8,254.6 82.3,254.8 77.7,256.6"/>
<polygon fill="#00ffd6" points="210.2,258.8 214.8,257.7 210.3,254.5 205.7,255.6"/>
<polygon fill="#00ffa9" points="91.4,254.6 96.0,253.0 91.4,252.9 86.8,254.6"/>
<polygon fill="#00ffb7" points="201.1,256.7 205.7,255.6 201.2,252.7 196.6,253.8"/>
<polygon fill="#00ff91" points="100.5,253.2 105.1,251.6 100.5,251.3 96.0,253.0"/>
<polygon fill="#00ff9c" points="192.1,254.9 196.6,253.8 192.1,251.1 187.5,252.3"/>
<polygon fill="#008bff" points="41.6,267.9 46.1,266.0 41.7,267.1 37.2,269.1"/>
<polygon fill="#00ff7d" points="109.7,252.1 114.3,250.5 109.7,250.0 105.1,251.6"/>
<polygon fill="#00ff86" points="183.0,253.5 187.5,252.3 183.0,249.8 178.4,251.1"/>
<polygon fill="#00ff6e" points="118.8,251.2 123.4,249.7 118.8,249.0 114.3,250.5"/>
<polygon fill="#00ff74" points="173.8,252.3 178.4,251.1 173.9,248.9 169.3,250.1"/>
<polygon fill="#00ff63" points="128.0,250.7 132.6,249.2 128.0,248.3 123.4,249.7"/>
<polygon fill="#00ff67" points="164.7,251.4 169.3,250.1 164.7,248.2 160.1,249.5"/>
<polygon fill="#00ff5d" points="137.2,250.4 141.8,249.0 137.2,247.8 132.6,249.2"/>
<polygon fill="#00ff5f" points="155.5,250.8 160.1,249.5 155.5,247.8 150.9,249.1"/>
<polygon fill="#00ff5c" points="146.3,250.4 150.9,249.1 146.4,247.6 141.8,249.0"/>
<polygon fill="#00bcff" points="50.6,265.0 55.1,263.1 50.7,264.1 46.1,266.0"/>
<polygon fill="#00e8ff" points="59.6,262.4 64.1,260.6 59.7,261.3 55.1,263.1"/>
<polygon fill="#00ffef" points="68.6,260.0 73.2,258.3 68.7,258.8 64.1,260.6"/>
<polygon fill="#00fff5" points="214.7,262.1 219.2,261.1 214.8,257.7 210.2,258.8"/>
<polygon fill="#00ffcc" points="77.7,258.0 82.3,256.3 77.7,256.6 73.2,258.3"/>
<polygon fill="#00ffd1" points="205.6,259.8 210.2,258.8 205.7,255.6 201.1,256.7"/>
<polygon fill="#00ffae" points="86.8,256.2 91.4,254.6 86.8,254.6 82.3,256.3"/>
<polygon fill="#00ffb3" points="196.6,257.8 201.1,256.7 196.6,253.8 192.1,254.9"/>
<polygon fill="#00ff95" points="95.9,254.8 100.5,253.2 96.0,253.0 91.4,254.6"/>
<polygon fill="#00ff99" points="187.5,256.1 192.1,254.9 187.5,252.3 183.0,253.5"/>
<polygon fill="#00ff80" points="105.1,253.6 109.7,252.1 105.1,251.6 100.5,253.2"/>
<polygon fill="#00ff83" points="178.4,254.6 183.0,253.5 178.4,251.1 173.8,252.3"/>
<polygon fill="#00ff70" points="114.2,252.7 118.8,251.2 114.3,250.5 109.7,252.1"/>
<polygon fill="#00ff73" points="169.2,253.5 173.8,252.3 169.3,250.1 164.7,251.4"/>
<polygon fill="#00ff65" points="123.4,252.1 128.0,250.7 123.4,249.7 118.8,251.2"/>
<polygon fill="#00ff66" points="160.1,252.6 164.7,251.4 160.1,249.5 155.5,250.8"/>
<polygon fill="#00b4ff" points="46.0,266.8 50.6,265.0 46.1,266.0 41.6,267.9"/>
<polygon fill="#00ff5e" points="132.6,251.8 137.2,250.4 132.6,249.2 128.0,250.7"/>
<polygon fill="#00ff5f" points="150.9,252.0 155.5,250.8 150.9,249.1 146.3,250.4"/>
<polygon fill="#00ff5c" points="141.7,251.8 146.3,250.4 141.8,249.0 137.2,250.4"/>
<polygon fill="#00e1ff" points="55.0,264.2 59.6,262.4 55.1,263.1 50.6,265.0"/>
<polygon fill="#00fff5" points="64.0,261.8 68.6,260.0 64.1,260.6 59.6,262.4"/>
<polygon fill="#00ffef" points="210.1,263.1 214.7,262.1 210.2,258.8 205.6,259.8"/>
<polygon fill="#00ffd2" points="73.1,259.7 77.7,258.0 73.2,258.3 68.6,260.0"/>
<polygon fill="#00ffcc" points="201.1,260.8 205.6,259.8 201.1,256.7 196.6,257.8"/>
<polygon fill="#00ffb3" points="82.2,257.9 86.8,256.2 82.3,256.3 77.7,258.0"/>
<polygon fill="#00ffae" points="192.0,258.8 196.6,257.8 192.1,254.9 187.5,256.1"/>
<polygon fill="#00ff99" points="91.3,256.3 95.9,254.8 91.4,254.6 86.8,256.2"/>
<polygon fill="#00ff95" points="182.9,257.2 187.5,256.1 183.0,253.5 178.4,254.6"/>
<polygon fill="#00ff83" points="100.5,255.1 105.1,253.6 100.5,253.2 95.9,254.8"/>
<polygon fill="#00ff80" points="173.8,255.8 178.4,254.6 173.8,252.3 169.2,253.5"/>
<polygon fill="#00ff73" points="109.6,254.1 114.2,252.7 109.7,252.1 105.1,253.6"/>
<polygon fill="#00ff70" points="164.6,254.6 169.2,253.5 164.7,251.4 160.1,252.6"/>
<polygon fill="#00ff67" points="118.8,253.5 123.4,252.1 118.8,251.2 114.2,252.7"/>
<polygon fill="#00ff65" points="155.5,253.8 160.1,252.6 155.5,250.8 150.9,252.0"/>
<polygon fill="#00ff5f" points="128.0,253.1 132.6,251.8 128.0,250.7 123.4,252.1"/>
<polygon fill="#00ff5e" points="146.3,253.3 150.9,252.0 146.3,250.4 141.7,251.8"/>
<polygon fill="#00ff5d" points="137.1,253.1 141.7,251.8 137.2,250.4 132.6,251.8"/>
<polygon fill="#00dbff" points="50.5,266.0 55.0,264.2 50.6,265.0 46.0,266.8"/>
<polygon fill="#00fffb" points="59.5,263.5 64.0,261.8 59.6,262.4 55.0,264.2"/>
<polygon fill="#00ffd6" points="68.5,261.3 73.1,259.7 68.6,260.0 64.0,261.8"/>
<polygon fill="#00ffe9" points="205.5,264.1 210.1,263.1 205.6,259.8 201.1,260.8"/>
<polygon fill="#00ffb7" points="77.6,259.5 82.2,257.9 77.7,258.0 73.1,259.7"/>
<polygon fill="#00ffc7" points="196.5,261.8 201.1,260.8 196.6,257.8 192.0,258.8"/>
<polygon fill="#00ff9c" points="86.7,257.9 91.3,256.3 86.8,256.2 82.2,257.9"/>
<polygon fill="#00ffa9" points="187.4,259.9 192.0,258.8 187.5,256.1 182.9,257.2"/>
<polygon fill="#00ff86" points="95.9,256.6 100.5,255.1 95.9,254.8 91.3,256.3"/>
<polygon fill="#00ff91" points="178.3,258.2 182.9,257.2 178.4,254.6 173.8,255.8"/>
<polygon fill="#00ff75" points="105.0,255.6 109.6,254.1 105.1,253.6 100.5,255.1"/>
<polygon fill="#00ff7d" points="169.2,256.9 173.8,255.8 169.2,253.5 164.6,254.6"/>
<polygon fill="#00ff68" points="114.2,254.9 118.8,253.5 114.2,252.7 109.6,254.1"/>
<polygon fill="#00ff6e" points="160.1,255.8 164.6,254.6 160.1,252.6 155.5,253.8"/>
<polygon fill="#00ff60" points="123.4,254.5 128.0,253.1 123.4,252.1 118.8,253.5"/>
<polygon fill="#00ff63" points="150.9,255.0 155.5,253.8 150.9,252.0 146.3,253.3"/>
<polygon fill="#00ff5c" points="132.5,254.4 137.1,253.1 132.6,251.8 128.0,253.1"/>
<polygon fill="#00ff5d" points="141.7,254.6 146.3,253.3 141.7,251.8 137.1,253.1"/>
<polygon fill="#00feff" points="54.9,265.2 59.5,263.5 55.0,264.2 50.5,266.0"/>
<polygon fill="#00ffdb" points="64.0,263.0 68.5,261.3 64.0,261.8 59.5,263.5"/>
<polygon fill="#00ffe2" points="201.0,265.0 205.5,264.1 201.1,260.8 196.5,261.8"/>
<polygon fill="#00ffbb" points="73.0,261.1 77.6,259.5 73.1,259.7 68.5,261.3"/>
<polygon fill="#00ffc1" points="191.9,262.8 196.5,261.8 192.0,258.8 187.4,259.9"/>
<polygon fill="#00ff9f" points="82.2,259.4 86.7,257.9 82.2,257.9 77.6,259.5"/>
<polygon fill="#00ffa4" points="182.9,260.9 187.4,259.9 182.9,257.2 178.3,258.2"/>
<polygon fill="#00ff88" points="91.3,258.1 95.9,256.6 91.3,256.3 86.7,257.9"/>
<polygon fill="#00ff8c" points="173.7,259.3 178.3,258.2 173.8,255.8 169.2,256.9"/>
<polygon fill="#00ff76" points="100.4,257.0 105.0,255.6 100.5,255.1 95.9,256.6"/>
<polygon fill="#00ff79" points="164.6,258.0 169.2,256.9 164.6,254.6 160.1,255.8"/>
<polygon fill="#00ff68" points="109.6,256.3 114.2,254.9 109.6,254.1 105.0,255.6"/>
<polygon fill="#00ff6b" points="155.5,257.0 160.1,255.8 155.5,253.8 150.9,255.0"/>
<polygon fill="#00ff60" points="118.8,255.8 123.4,254.5 118.8,253.5 114.2,254.9"/>
<polygon fill="#00ff61" points="146.3,256.2 150.9,255.0 146.3,253.3 141.7,254.6"/>
<polygon fill="#00ff5b" points="127.9,255.7 132.5,254.4 128.0,253.1 123.4,254.5"/>
<polygon fill="#00ff5c" points="137.1,255.8 141.7,254.6 137.1,253.1 132.5,254.4"/>
<polygon fill="#00ffdf" points="59.4,264.6 64.0,263.0 59.5,263.5 54.9,265.2"/>
<polygon fill="#00ffdb" points="196.4,266.0 201.0,265.0 196.5,261.8 191.9,262.8"/>
<polygon fill="#00ffbe" points="68.5,262.6 73.0,261.1 68.5,261.3 64.0,263.0"/>
<polygon fill="#00ffba" points="187.4,263.8 191.9,262.8 187.4,259.9 182.9,260.9"/>
<polygon fill="#00ffa2" points="77.6,260.9 82.2,259.4 77.6,259.5 73.0,261.1"/>
<polygon fill="#00ff9e" points="178.3,261.9 182.9,260.9 178.3,258.2 173.7,259.3"/>
<polygon fill="#00ff8a" points="86.7,259.5 91.3,258.1 86.7,257.9 82.2,259.4"/>
<polygon fill="#00ff87" points="169.2,260.4 173.7,259.3 169.2,256.9 164.6,258.0"/>
<polygon fill="#00ff77" points="95.8,258.4 100.4,257.0 95.9,256.6 91.3,258.1"/>
<polygon fill="#00ff75" points="160.0,259.1 164.6,258.0 160.1,255.8 155.5,257.0"/>
<polygon fill="#00ff69" points="105.0,257.6 109.6,256.3 105.0,255.6 100.4,257.0"/>
<polygon fill="#00ff67" points="150.9,258.1 155.5,257.0 150.9,255.0 146.3,256.2"/>
<polygon fill="#00ff5f" points="114.2,257.1 118.8,255.8 114.2,254.9 109.6,256.3"/>
<polygon fill="#00ff5e" points="141.7,257.4 146.3,256.2 141.7,254.6 137.1,255.8"/>
<polygon fill="#00ff5a" points="123.3,256.9 127.9,255.7 123.4,254.5 118.8,255.8"/>
<polygon fill="#00ff5a" points="132.5,257.0 137.1,255.8 132.5,254.4 127.9,255.7"/>
<polygon fill="#00ffd3" points="191.9,266.9 196.4,266.0 191.9,262.8 187.4,263.8"/>
<polygon fill="#00ffc1" points="63.9,264.2 68.5,262.6 64.0,263.0 59.4,264.6"/>
<polygon fill="#00ffb3" points="182.8,264.8 187.4,263.8 182.9,260.9 178.3,261.9"/>
<polygon fill="#00ffa4" points="73.0,262.5 77.6,260.9 73.0,261.1 68.5,262.6"/>
<polygon fill="#00ff98" points="173.7,262.9 178.3,261.9 173.7,259.3 169.2,260.4"/>
<polygon fill="#00ff8b" points="82.1,261.0 86.7,259.5 82.2,259.4 77.6,260.9"/>
<polygon fill="#00ff82" points="164.6,261.4 169.2,260.4 164.6,258.0 160.0,259.1"/>
<polygon fill="#00ff78" points="91.2,259.9 95.8,258.4 91.3,258.1 86.7,259.5"/>
<polygon fill="#00ff70" points="155.4,260.2 160.0,259.1 155.5,257.0 150.9,258.1"/>
<polygon fill="#00ff69" points="100.4,259.0 105.0,257.6 100.4,257.0 95.8,258.4"/>
<polygon fill="#00ff63" points="146.3,259.2 150.9,258.1 146.3,256.2 141.7,257.4"/>
<polygon fill="#00ff5e" points="109.6,258.4 114.2,257.1 109.6,256.3 105.0,257.6"/>
<polygon fill="#00ff5b" points="137.1,258.6 141.7,257.4 137.1,255.8 132.5,257.0"/>
<polygon fill="#00ff58" points="118.7,258.2 123.3,256.9 118.8,255.8 114.2,257.1"/>
<polygon fill="#00ff57" points="127.9,258.2 132.5,257.0 127.9,255.7 123.3,256.9"/>
<polygon fill="#00ffcb" points="187.3,267.8 191.9,266.9 187.4,263.8 182.8,264.8"/>
<polygon fill="#00ffa5" points="68.4,264.0 73.0,262.5 68.5,262.6 63.9,264.2"/>
<polygon fill="#00ffac" points="178.2,265.7 182.8,264.8 178.3,261.9 173.7,262.9"/>
<polygon fill="#00ff8c" points="77.5,262.5 82.1,261.0 77.6,260.9 73.0,262.5"/>
<polygon fill="#00ff92" points="169.1,263.9 173.7,262.9 169.2,260.4 164.6,261.4"/>
<polygon fill="#00ff78" points="86.6,261.2 91.2,259.9 86.7,259.5 82.1,261.0"/>
<polygon fill="#00ff7c" points="160.0,262.4 164.6,261.4 160.0,259.1 155.4,260.2"/>
<polygon fill="#00ff68" points="95.8,260.3 100.4,259.0 95.8,258.4 91.2,259.9"/>
<polygon fill="#00ff6b" points="150.8,261.2 155.4,260.2 150.9,258.1 146.3,259.2"/>
<polygon fill="#00ff5d" points="105.0,259.7 109.6,258.4 105.0,257.6 100.4,259.0"/>
<polygon fill="#00ff5f" points="141.7,260.3 146.3,259.2 141.7,257.4 137.1,258.6"/>
<polygon fill="#00ff56" points="114.1,259.4 118.7,258.2 114.2,257.1 109.6,258.4"/>
<polygon fill="#00ff57" points="132.5,259.7 137.1,258.6 132.5,257.0 127.9,258.2"/>
<polygon fill="#00ff55" points="123.3,259.4 127.9,258.2 123.3,256.9 118.7,258.2"/>
<polygon fill="#00ffc2" points="182.7,268.7 187.3,267.8 182.8,264.8 178.2,265.7"/>
<polygon fill="#00ffa4" points="173.7,266.6 178.2,265.7 173.7,262.9 169.1,263.9"/>
<polygon fill="#00ff8d" points="72.9,263.9 77.5,262.5 73.0,262.5 68.4,264.0"/>
<polygon fill="#00ff8b" points="164.5,264.9 169.1,263.9 164.6,261.4 160.0,262.4"/>
<polygon fill="#00ff77" points="82.0,262.6 86.6,261.2 82.1,261.0 77.5,262.5"/>
<polygon fill="#00ff76" points="155.4,263.4 160.0,262.4 155.4,260.2 150.8,261.2"/>
<polygon fill="#00ff67" points="91.2,261.7 95.8,260.3 91.2,259.9 86.6,261.2"/>
<polygon fill="#00ff66" points="146.2,262.3 150.8,261.2 146.3,259.2 141.7,260.3"/>
<polygon fill="#00ff5b" points="100.4,261.0 105.0,259.7 100.4,259.0 95.8,260.3"/>
<polygon fill="#00ff5a" points="137.1,261.4 141.7,260.3 137.1,258.6 132.5,259.7"/>
<polygon fill="#00ff54" points="109.5,260.6 114.1,259.4 109.6,258.4 105.0,259.7"/>
<polygon fill="#00ff53" points="127.9,260.8 132.5,259.7 127.9,258.2 123.3,259.4"/>
<polygon fill="#00ff51" points="118.7,260.6 123.3,259.4 118.7,258.2 114.1,259.4"/>
<polygon fill="#00ffb9" points="178.2,269.6 182.7,268.7 178.2,265.7 173.7,266.6"/>
<polygon fill="#00ff9c" points="169.1,267.5 173.7,266.6 169.1,263.9 164.5,264.9"/>
<polygon fill="#00ff83" points="160.0,265.8 164.5,264.9 160.0,262.4 155.4,263.4"/>
<polygon fill="#00ff77" points="77.4,264.0 82.0,262.6 77.5,262.5 72.9,263.9"/>
<polygon fill="#00ff6f" points="150.8,264.4 155.4,263.4 150.8,261.2 146.2,262.3"/>
<polygon fill="#00ff65" points="86.6,263.0 91.2,261.7 86.6,261.2 82.0,262.6"/>
<polygon fill="#00ff60" points="141.6,263.3 146.2,262.3 141.7,260.3 137.1,261.4"/>
<polygon fill="#00ff59" points="95.8,262.3 100.4,261.0 95.8,260.3 91.2,261.7"/>
<polygon fill="#00ff55" points="132.5,262.5 137.1,261.4 132.5,259.7 127.9,260.8"/>
<polygon fill="#00ff51" points="104.9,261.9 109.5,260.6 105.0,259.7 100.4,261.0"/>
<polygon fill="#00ff4f" points="123.3,262.0 127.9,260.8 123.3,259.4 118.7,260.6"/>
<polygon fill="#00ff4d" points="114.1,261.8 118.7,260.6 114.1,259.4 109.5,260.6"/>
<polygon fill="#00ffb0" points="173.6,270.4 178.2,269.6 173.7,266.6 169.1,267.5"/>
<polygon fill="#00ff93" points="164.5,268.4 169.1,267.5 164.5,264.9 160.0,265.8"/>
<polygon fill="#00ff7b" points="155.4,266.7 160.0,265.8 155.4,263.4 150.8,264.4"/>
<polygon fill="#00ff63" points="82.0,264.3 86.6,263.0 82.0,262.6 77.4,264.0"/>
<polygon fill="#00ff68" points="146.2,265.4 150.8,264.4 146.2,262.3 141.6,263.3"/>
<polygon fill="#00ff56" points="91.1,263.5 95.8,262.3 91.2,261.7 86.6,263.0"/>
<polygon fill="#00ff59" points="137.1,264.3 141.6,263.3 137.1,261.4 132.5,262.5"/>
<polygon fill="#00ff4d" points="100.3,263.0 104.9,261.9 100.4,261.0 95.8,262.3"/>
<polygon fill="#00ff4f" points="127.9,263.5 132.5,262.5 127.9,260.8 123.3,262.0"/>
<polygon fill="#00ff49" points="109.5,262.9 114.1,261.8 109.5,260.6 104.9,261.9"/>
<polygon fill="#00ff4a" points="118.7,263.0 123.3,262.0 118.7,260.6 114.1,261.8"/>
<polygon fill="#00ffa6" points="169.0,271.2 173.6,270.4 169.1,267.5 164.5,268.4"/>
<polygon fill="#00ff8a" points="159.9,269.3 164.5,268.4 160.0,265.8 155.4,266.7"/>
<polygon fill="#00ff73" points="150.8,267.6 155.4,266.7 150.8,264.4 146.2,265.4"/>
<polygon fill="#00ff60" points="141.6,266.3 146.2,265.4 141.6,263.3 137.1,264.3"/>
<polygon fill="#00ff53" points="86.5,264.7 91.1,263.5 86.6,263.0 82.0,264.3"/>
<polygon fill="#00ff52" points="132.5,265.3 137.1,264.3 132.5,262.5 127.9,263.5"/>
<polygon fill="#00ff49" points="95.7,264.2 100.3,263.0 95.8,262.3 91.1,263.5"/>
<polygon fill="#00ff49" points="123.3,264.5 127.9,263.5 123.3,262.0 118.7,263.0"/>
<polygon fill="#00ff45" points="104.9,264.0 109.5,262.9 104.9,261.9 100.3,263.0"/>
<polygon fill="#00ff45" points="114.1,264.1 118.7,263.0 114.1,261.8 109.5,262.9"/>
<polygon fill="#00ff9c" points="164.5,272.0 169.0,271.2 164.5,268.4 159.9,269.3"/>
<polygon fill="#00ff80" points="155.3,270.1 159.9,269.3 155.4,266.7 150.8,267.6"/>
<polygon fill="#00ff6a" points="146.2,268.5 150.8,267.6 146.2,265.4 141.6,266.3"/>
<polygon fill="#00ff58" points="137.0,267.2 141.6,266.3 137.1,264.3 132.5,265.3"/>
<polygon fill="#00ff4b" points="127.8,266.2 132.5,265.3 127.9,263.5 123.3,264.5"/>
<polygon fill="#00ff45" points="91.1,265.4 95.7,264.2 91.1,263.5 86.5,264.7"/>
<polygon fill="#00ff43" points="118.7,265.6 123.3,264.5 118.7,263.0 114.1,264.1"/>
<polygon fill="#00ff40" points="100.3,265.1 104.9,264.0 100.3,263.0 95.7,264.2"/>
<polygon fill="#00ff3f" points="109.5,265.2 114.1,264.1 109.5,262.9 104.9,264.0"/>
<polygon fill="#00ff91" points="159.9,272.8 164.5,272.0 159.9,269.3 155.3,270.1"/>
<polygon fill="#00ff76" points="150.8,270.9 155.3,270.1 150.8,267.6 146.2,268.5"/>
<polygon fill="#00ff61" points="141.6,269.4 146.2,268.5 141.6,266.3 137.0,267.2"/>
<polygon fill="#00ff50" points="132.4,268.1 137.0,267.2 132.5,265.3 127.8,266.2"/>
<polygon fill="#00ff43" points="123.2,267.2 127.8,266.2 123.3,264.5 118.7,265.6"/>
<polygon fill="#00ff3a" points="95.7,266.2 100.3,265.1 95.7,264.2 91.1,265.4"/>
<polygon fill="#00ff3c" points="114.1,266.5 118.7,265.6 114.1,264.1 109.5,265.2"/>
<polygon fill="#00ff38" points="104.9,266.2 109.5,265.2 104.9,264.0 100.3,265.1"/>
<polygon fill="#00ff86" points="155.3,273.6 159.9,272.8 155.3,270.1 150.8,270.9"/>
<polygon fill="#00ff6c" points="146.2,271.7 150.8,270.9 146.2,268.5 141.6,269.4"/>
<polygon fill="#00ff57" points="137.0,270.2 141.6,269.4 137.0,267.2 132.4,268.1"/>
<polygon fill="#00ff47" points="127.8,269.0 132.4,268.1 127.8,266.2 123.2,267.2"/>
<polygon fill="#00ff3b" points="118.6,268.1 123.2,267.2 118.7,265.6 114.1,266.5"/>
<polygon fill="#00ff34" points="109.4,267.5 114.1,266.5 109.5,265.2 104.9,266.2"/>
<polygon fill="#00ff32" points="100.2,267.2 104.9,266.2 100.3,265.1 95.7,266.2"/>
<polygon fill="#00ff7a" points="150.7,274.3 155.3,273.6 150.8,270.9 146.2,271.7"/>
<polygon fill="#00ff61" points="141.6,272.5 146.2,271.7 141.6,269.4 137.0,270.2"/>
<polygon fill="#00ff4d" points="132.4,271.0 137.0,270.2 132.4,268.1 127.8,269.0"/>
<polygon fill="#00ff3d" points="123.2,269.9 127.8,269.0 123.2,267.2 118.6,268.1"/>
<polygon fill="#00ff32" points="114.0,269.0 118.6,268.1 114.1,266.5 109.4,267.5"/>
<polygon fill="#00ff2c" points="104.8,268.5 109.4,267.5 104.9,266.2 100.2,267.2"/>
<polygon fill="#00ff6e" points="146.1,275.0 150.7,274.3 146.2,271.7 141.6,272.5"/>
<polygon fill="#00ff56" points="137.0,273.2 141.6,272.5 137.0,270.2 132.4,271.0"/>
<polygon fill="#00ff42" points="127.8,271.8 132.4,271.0 127.8,269.0 123.2,269.9"/>
<polygon fill="#00ff33" points="118.6,270.7 123.2,269.9 118.6,268.1 114.0,269.0"/>
<polygon fill="#00ff29" points="109.4,269.9 114.0,269.0 109.4,267.5 104.8,268.5"/>
<polygon fill="#00ff61" points="141.6,275.7 146.1,275.0 141.6,272.5 137.0,273.2"/>
<polygon fill="#00ff4a" points="132.4,274.0 137.0,273.2 132.4,271.0 127.8,271.8"/>
<polygon fill="#00ff37" points="123.2,272.6 127.8,271.8 123.2,269.9 118.6,270.7"/>
<polygon fill="#00ff29" points="114.0,271.5 118.6,270.7 114.0,269.0 109.4,269.9"/>
<polygon fill="#00ff54" points="137.0,276.3 141.6,275.7 137.0,273.2 132.4,274.0"/>
<polygon fill="#00ff3e" points="127.8,274.7 132.4,274.0 127.8,271.8 123.2,272.6"/>
<polygon fill="#00ff2c" points="118.6,273.3 123.2,272.6 118.6,270.7 114.0,271.5"/>
<polygon fill="#00ff47" points="132.4,277.0 137.0,276.3 132.4,274.0 127.8,274.7"/>
<polygon fill="#00ff31" points="123.2,275.4 127.8,274.7 123.2,272.6 118.6,273.3"/>
<polygon fill="#00ff39" points="127.8,277.6 132.4,277.0 127.8,274.7 123.2,275.4"/>
</g>
<ellipse cx="128.0" cy="245.9" rx="1.9" ry="2.3" fill="#c00010" stroke="#300" stroke-width="0.6"/>
<polyline class="wl" points="261.1,278.7 350.6,251.8 440.2,278.6"/>
<polyline class="wl" points="260.3,263.3 350.6,238.2 441.0,263.3"/>
<polyline class="wl" points="259.5,247.7 350.6,224.5 441.9,247.7"/>
<polyline class="wl" points="258.6,231.9 350.6,210.5 442.7,231.9"/>
<polyline class="wl" points="257.8,215.9 350.6,196.3 443.5,215.9"/>
<polyline class="wl" points="257.0,199.7 350.5,181.9 444.4,199.7"/>
<polyline class="wl" points="283.5,271.4 280.4,194.7"/>
<polyline class="wl" points="305.8,264.4 303.8,190.0"/>
<polyline class="wl" points="328.2,257.9 327.2,185.8"/>
<polyline class="wl" points="417.8,271.3 420.9,194.6"/>
<polyline class="wl" points="395.4,264.4 397.5,190.0"/>
<polyline class="wl" points="373.0,257.9 374.0,185.8"/>
<polyline class="wl" points="262.7,306.5 257.0,199.7"/>
<polyline class="wl" points="350.6,276.3 350.5,181.9"/>
<polyline class="wl" points="438.7,306.5 444.4,199.7"/>
<polygon class="fl" points="350.8,343.2 438.7,306.5 350.6,276.3 262.7,306.5"/>
<polyline class="fc" stroke="#1dd9a7" points="327.0,332.7 327.9,332.4 328.6,332.2 328.8,332.2 329.7,331.9 330.6,331.7 331.5,331.5 332.3,331.3 332.4,331.2 333.4,331.0 334.3,330.8 335.3,330.6 335.5,330.5 336.3,330.3 337.2,330.1 338.2,329.9 338.4,329.9 339.2,329.7 340.3,329.5 341.0,329.4 341.3,329.4 342.4,329.2 343.3,329.0 343.4,329.0 344.5,328.9 345.5,328.7 345.6,328.7 346.8,328.6 347.6,328.5 347.9,328.4 349.1,328.3 349.5,328.3 350.3,328.2 351.3,328.1 351.6,328.1 352.8,328.0 353.0,328.0 354.2,328.0 354.7,327.9 355.5,327.9 356.2,327.9 357.0,327.9 357.7,327.9 358.4,327.9 359.1,327.9 360.0,327.9 360.5,328.0 361.6,328.0 361.8,328.0 363.1,328.1 363.4,328.1 364.3,328.2 365.2,328.3 365.5,328.3 366.6,328.5 367.3,328.5 367.8,328.6 368.9,328.8 369.5,328.9 369.9,328.9 370.9,329.1 372.0,329.3 372.1,329.4 372.9,329.5 373.9,329.7 374.9,330.0 375.2,330.1 375.8,330.2 376.7,330.4 377.6,330.7 378.4,330.9"/>
<polyline class="fc" stroke="#1dd964" points="309.9,325.4 310.6,325.1 311.3,324.8 312.0,324.4 312.6,324.1 313.3,323.8 313.4,323.7 314.0,323.4 314.7,323.1 315.4,322.8 316.1,322.5 316.7,322.1 317.4,321.8 318.1,321.5 318.8,321.2 319.5,320.9 320.2,320.6 320.9,320.2 321.6,319.9 322.3,319.6 323.0,319.3 323.7,319.0 324.4,318.7 325.1,318.4 325.8,318.1 326.5,317.8 327.3,317.5 328.0,317.2 328.5,316.9 328.7,316.9 329.4,316.6 330.1,316.3 330.9,316.0 331.6,315.7 332.3,315.4 333.1,315.1 333.8,314.8 334.5,314.5 335.3,314.2 335.8,314.0 336.0,313.9 336.8,313.6 337.5,313.4 338.3,313.1 339.1,312.8 339.8,312.5 340.6,312.3 341.4,312.0 342.2,311.7 343.0,311.5 343.8,311.2 344.6,310.9 345.4,310.7 346.2,310.4 346.9,310.2 347.0,310.2 347.9,309.9 348.7,309.7 349.6,309.5 350.4,309.2 351.3,309.0 351.9,308.9 352.2,308.8 353.1,308.6 354.0,308.4 355.0,308.1 355.4,308.1 355.9,308.0 356.9,307.8 357.9,307.6 358.2,307.5 358.9,307.4 360.0,307.3 360.6,307.2 361.1,307.1 362.2,307.0 362.7,307.0 363.4,306.9 364.5,306.8 364.7,306.8 366.0,306.8 366.2,306.7 367.4,306.7 367.7,306.7 368.9,306.8 369.1,306.8 370.4,306.8 370.6,306.8 371.6,306.9 372.6,307.0 372.7,307.0 373.8,307.2 374.9,307.3 374.9,307.4 375.8,307.5 376.8,307.7 377.7,307.9 378.3,308.1 378.6,308.2 379.4,308.4 380.3,308.6 381.1,308.9 381.8,309.2 382.6,309.4 383.3,309.7 384.1,310.0 384.8,310.3 385.5,310.6 386.1,310.9 386.8,311.2 387.5,311.5 388.1,311.9 388.2,311.9 388.7,312.2 389.4,312.5 390.0,312.9 390.6,313.2 391.2,313.5 391.8,313.9 391.8,313.9 392.3,314.2 392.9,314.6 393.5,315.0 394.0,315.3 394.3,315.5 394.6,315.7 395.2,316.0 395.7,316.4 396.2,316.8 396.5,316.9 396.8,317.2 397.3,317.5 397.8,317.9 398.3,318.3 398.4,318.3 398.9,318.7 399.4,319.1 399.9,319.5 400.1,319.6 400.4,319.9 400.9,320.2 401.4,320.6 401.7,320.8 401.9,321.0"/>
<polyline class="fc" stroke="#1dd921" points="417.5,298.6 417.6,299.0 417.6,299.2 417.7,299.5 417.8,299.8 417.8,300.0 417.9,300.4 417.9,300.5 418.0,301.0 418.0,301.0 418.2,301.5 418.2,301.6 418.3,302.0 418.3,302.2 418.4,302.5 418.5,302.8 418.6,303.0 418.7,303.4 418.8,303.5 418.9,304.0 418.9,304.0 419.1,304.5 419.2,304.6 419.3,304.9 419.4,305.3 419.4,305.4 419.6,305.9 419.6,305.9 419.8,306.4 419.9,306.6 420.0,306.9 420.2,307.3 420.2,307.4 420.4,307.8 420.5,307.9 420.6,308.3 420.7,308.6 420.8,308.8 421.1,309.3 421.1,309.3 421.3,309.8 421.4,310.0 421.5,310.3 421.7,310.7 421.7,310.7 422.0,311.2 422.1,311.4 422.2,311.7 422.4,312.1 422.5,312.2 422.7,312.7"/>
<polyline class="fc" stroke="#1dd921" points="295.9,319.6 296.4,319.2 296.4,319.2 297.0,318.9 297.6,318.5 298.1,318.1 298.7,317.8 298.8,317.7 299.2,317.4 299.8,317.0 300.3,316.7 300.9,316.3 301.1,316.2 301.4,315.9 302.0,315.6 302.6,315.2 303.1,314.8 303.3,314.7 303.6,314.5 304.2,314.1 304.7,313.7 305.3,313.4 305.5,313.2 305.8,313.0 306.4,312.7 306.9,312.3 307.4,311.9 307.6,311.9 308.0,311.6 308.5,311.2 309.1,310.8 309.5,310.5 309.6,310.5 310.1,310.1 310.7,309.7 311.2,309.4 311.5,309.2 311.7,309.0 312.2,308.7 312.8,308.3 313.3,307.9 313.3,307.9 313.8,307.6 314.3,307.2 314.8,306.8 315.0,306.7 315.3,306.5 315.8,306.1 316.4,305.7 316.7,305.5 316.9,305.4 317.4,305.0 317.9,304.7 318.3,304.3 318.4,304.3 318.9,303.9 319.4,303.6 319.8,303.2 319.8,303.2 320.3,302.8 320.8,302.5 321.3,302.1 321.3,302.1 321.8,301.7 322.3,301.4 322.7,301.1 322.7,301.0 323.2,300.6 323.7,300.3 324.0,300.1 324.1,299.9 324.6,299.6 325.1,299.2 325.2,299.1 325.5,298.8 326.0,298.4 326.4,298.1 326.4,298.1 326.9,297.7 327.3,297.3 327.5,297.2 327.7,297.0 328.2,296.6 328.5,296.3 328.6,296.2 329.0,295.9 329.4,295.5 329.5,295.4 329.8,295.1 330.2,294.7 330.4,294.6 330.6,294.4 331.0,294.0 331.3,293.7 331.4,293.6 331.8,293.2 332.1,292.9 332.2,292.8 332.6,292.5 332.9,292.2 332.9,292.1 333.3,291.7 333.6,291.4 333.7,291.3 334.0,290.9 334.2,290.7 334.3,290.5 334.7,290.2 334.9,289.9 335.0,289.8 335.3,289.4 335.4,289.2 335.7,289.0 336.0,288.6 336.0,288.6 336.3,288.2 336.5,287.9 336.5,287.8 336.8,287.4 336.9,287.3 337.1,287.0 337.4,286.6 337.4,286.6 337.6,286.2 337.7,286.0 337.9,285.8 338.1,285.4 338.1,285.4 338.3,285.0 338.4,284.8 338.6,284.6 338.7,284.2 338.8,284.2 339.0,283.7 339.0,283.6 339.2,283.3 339.3,283.1 339.3,282.9 339.5,282.5 339.5,282.5 339.7,282.1 339.7,282.0 339.8,281.6 339.9,281.5 339.9,281.2 340.0,280.9 340.1,280.8 340.1,280.4 340.2,280.3 340.3,279.9 340.3,279.9 340.4,279.5 340.4,279.4"/>
<polyline class="fc" stroke="#5cd91d" points="283.7,314.7 284.1,314.3 284.5,314.0 284.6,313.9 285.1,313.5 285.6,313.1 285.9,312.9 286.1,312.8 286.5,312.4 287.0,312.0 287.3,311.8 287.5,311.6 288.0,311.2 288.4,310.8 288.6,310.7 288.9,310.4 289.4,310.0 289.8,309.6 289.9,309.6 290.3,309.3 290.8,308.9 291.1,308.6 291.2,308.5 291.7,308.1 292.1,307.7 292.3,307.5 292.6,307.3 293.0,306.9 293.5,306.5 293.5,306.5 293.9,306.1 294.3,305.8 294.6,305.6 294.8,305.4 295.2,305.0 295.6,304.6 295.7,304.6 296.1,304.2 296.5,303.8 296.7,303.7 296.9,303.4 297.4,303.0 297.7,302.7 297.8,302.6 298.2,302.3 298.6,301.9 298.6,301.8 299.0,301.5 299.4,301.1 299.6,300.9 299.8,300.7 300.2,300.3 300.5,300.1 300.6,299.9 301.0,299.5 301.3,299.2 301.4,299.1 301.8,298.7 302.1,298.4 302.2,298.3 302.6,298.0 302.9,297.6 303.0,297.6 303.3,297.2 303.7,296.8 303.7,296.8 304.1,296.4 304.4,296.0 304.4,296.0 304.8,295.6 305.1,295.2 305.1,295.2 305.5,294.8 305.8,294.5 305.8,294.4 306.2,294.0 306.4,293.7 306.5,293.6 306.9,293.2 307.1,293.0 307.2,292.8 307.5,292.4 307.7,292.3 307.8,292.0 308.2,291.6 308.2,291.6 308.5,291.2 308.8,290.9 308.8,290.8 309.1,290.4 309.3,290.2 309.4,290.0 309.7,289.6 309.8,289.5"/>
<polyline class="fc" stroke="#9fd91d" points="272.7,310.4 273.1,310.0 273.4,309.8 273.6,309.6 274.0,309.2 274.4,308.8 274.4,308.8 274.8,308.4 275.2,308.0 275.4,307.8 275.7,307.6 276.1,307.2 276.4,306.9 276.5,306.8 276.9,306.4 277.3,306.0 277.3,306.0 277.7,305.6 278.1,305.2 278.2,305.1 278.5,304.8 278.9,304.4 279.1,304.2 279.3,304.0 279.7,303.6 280.0,303.3 280.1,303.2 280.5,302.8 280.8,302.5 280.9,302.4 281.3,302.0 281.6,301.6 281.7,301.6 282.0,301.2 282.4,300.8 282.4,300.8 282.8,300.4 283.1,300.0 283.2,300.0 283.5,299.6 283.9,299.2 283.9,299.2 284.2,298.8 284.6,298.4"/>
<circle cx="261.1" cy="278.7" r="0.75" fill="#222"/>
<text class="zl" x="254.0" y="277.1" text-anchor="middle">40</text>
<circle cx="260.3" cy="263.3" r="0.75" fill="#222"/>
<text class="zl" x="253.2" y="261.7" text-anchor="middle">50</text>
<circle cx="259.5" cy="247.7" r="0.75" fill="#222"/>
<text class="zl" x="252.4" y="246.1" text-anchor="middle">60</text>
<circle cx="258.6" cy="231.9" r="0.75" fill="#222"/>
<text class="zl" x="251.5" y="230.3" text-anchor="middle">70</text>
<circle cx="257.8" cy="215.9" r="0.75" fill="#222"/>
<text class="zl" x="250.7" y="214.3" text-anchor="middle">80</text>
<circle cx="257.0" cy="199.7" r="0.75" fill="#222"/>
<text class="zl" x="249.9" y="198.1" text-anchor="middle">90</text>
<line class="tk3" x1="350.8" y1="343.2" x2="353.9" y2="344.6"/>
<text class="zl" x="357.0" y="349.9" text-anchor="middle">4</text>
<line class="tk3" x1="372.7" y1="333.4" x2="375.8" y2="334.8"/>
<text class="zl" x="378.9" y="340.1" text-anchor="middle">5</text>
<line class="tk3" x1="394.7" y1="324.0" x2="397.8" y2="325.3"/>
<text class="zl" x="400.9" y="330.7" text-anchor="middle">6</text>
<line class="tk3" x1="416.7" y1="315.0" x2="419.8" y2="316.3"/>
<text class="zl" x="422.9" y="321.7" text-anchor="middle">7</text>
<line class="tk3" x1="438.7" y1="306.5" x2="441.7" y2="307.6"/>
<text class="zl" x="444.9" y="313.2" text-anchor="middle">8</text>
<line class="tk3" x1="350.8" y1="343.2" x2="347.7" y2="344.6"/>
<text class="zl" x="344.4" y="349.7" text-anchor="middle">10</text>
<line class="tk3" x1="328.7" y1="333.4" x2="325.7" y2="334.8"/>
<text class="zl" x="322.3" y="339.9" text-anchor="middle">15</text>
<line class="tk3" x1="306.7" y1="324.1" x2="303.6" y2="325.4"/>
<text class="zl" x="300.3" y="330.6" text-anchor="middle">20</text>
<line class="tk3" x1="284.7" y1="315.1" x2="281.6" y2="316.3"/>
<text class="zl" x="278.3" y="321.6" text-anchor="middle">25</text>
<line class="tk3" x1="262.7" y1="306.5" x2="259.6" y2="307.7"/>
<text class="zl" x="256.3" y="313.0" text-anchor="middle">30</text>
<text class="ax3" transform="translate(373.6,356.1) rotate(-25.1) scale(0.95,1)">A: Total Lipid (%w/v)</text>
<text class="ax3" transform="translate(252.1,324.6) rotate(25.6) scale(0.95,1)">C: Sonication Time min)</text>
<g class="sf">
<polygon fill="#00ff39" points="350.6,226.1 355.1,225.6 350.6,224.1 346.0,224.5"/>
<polygon fill="#00ff41" points="355.1,227.6 359.7,227.0 355.1,225.6 350.6,226.1"/>
<polygon fill="#00ff2e" points="346.0,226.6 350.6,226.1 346.0,224.5 341.4,224.9"/>
<polygon fill="#00ff49" points="359.7,229.1 364.2,228.4 359.7,227.0 355.1,227.6"/>
<polygon fill="#00ff38" points="350.6,228.2 355.1,227.6 350.6,226.1 346.0,226.6"/>
<polygon fill="#00ff23" points="341.4,227.0 346.0,226.6 341.4,224.9 336.9,225.2"/>
<polygon fill="#00ff4e" points="364.3,230.5 368.8,229.7 364.2,228.4 359.7,229.1"/>
<polygon fill="#00ff41" points="355.1,229.8 359.7,229.1 355.1,227.6 350.6,228.2"/>
<polygon fill="#00ff2f" points="346.0,228.8 350.6,228.2 346.0,226.6 341.4,227.0"/>
<polygon fill="#00ff17" points="336.9,227.5 341.4,227.0 336.9,225.2 332.3,225.6"/>
<polygon fill="#00ff53" points="368.8,231.8 373.4,230.9 368.8,229.7 364.3,230.5"/>
<polygon fill="#00ff48" points="359.7,231.3 364.3,230.5 359.7,229.1 355.1,229.8"/>
<polygon fill="#00ff39" points="350.6,230.5 355.1,229.8 350.6,228.2 346.0,228.8"/>
<polygon fill="#00ff25" points="341.5,229.3 346.0,228.8 341.4,227.0 336.9,227.5"/>
<polygon fill="#00ff0b" points="332.3,227.9 336.9,227.5 332.3,225.6 327.7,225.9"/>
<polygon fill="#00ff56" points="373.4,233.1 377.9,232.1 373.4,230.9 368.8,231.8"/>
<polygon fill="#00ff4e" points="364.3,232.8 368.8,231.8 364.3,230.5 359.7,231.3"/>
<polygon fill="#00ff42" points="355.2,232.1 359.7,231.3 355.1,229.8 350.6,230.5"/>
<polygon fill="#00ff31" points="346.0,231.1 350.6,230.5 346.0,228.8 341.5,229.3"/>
<polygon fill="#00ff1a" points="336.9,229.9 341.5,229.3 336.9,227.5 332.3,227.9"/>
<polygon fill="#02ff00" points="327.7,228.3 332.3,227.9 327.7,225.9 323.1,226.2"/>
<polygon fill="#00ff57" points="377.9,234.3 382.5,233.2 377.9,232.1 373.4,233.1"/>
<polygon fill="#00ff53" points="368.8,234.1 373.4,233.1 368.8,231.8 364.3,232.8"/>
<polygon fill="#00ff4a" points="359.7,233.6 364.3,232.8 359.7,231.3 355.2,232.1"/>
<polygon fill="#00ff3b" points="350.6,232.9 355.2,232.1 350.6,230.5 346.0,231.1"/>
<polygon fill="#00ff28" points="341.5,231.8 346.0,231.1 341.5,229.3 336.9,229.9"/>
<polygon fill="#00ff0f" points="332.3,230.4 336.9,229.9 332.3,227.9 327.7,228.3"/>
<polygon fill="#0fff00" points="323.2,228.7 327.7,228.3 323.1,226.2 318.6,226.5"/>
<polygon fill="#00ff57" points="382.5,235.5 387.0,234.3 382.5,233.2 377.9,234.3"/>
<polygon fill="#00ff56" points="373.4,235.5 377.9,234.3 373.4,233.1 368.8,234.1"/>
<polygon fill="#00ff50" points="364.3,235.2 368.8,234.1 364.3,232.8 359.7,233.6"/>
<polygon fill="#00ff45" points="355.2,234.5 359.7,233.6 355.2,232.1 350.6,232.9"/>
<polygon fill="#00ff34" points="346.0,233.6 350.6,232.9 346.0,231.1 341.5,231.8"/>
<polygon fill="#00ff1f" points="336.9,232.4 341.5,231.8 336.9,229.9 332.3,230.4"/>
<polygon fill="#00ff04" points="327.8,230.9 332.3,230.4 327.7,228.3 323.2,228.7"/>
<polygon fill="#1cff00" points="318.6,229.1 323.2,228.7 318.6,226.5 314.0,226.7"/>
<polygon fill="#00ff58" points="377.9,236.7 382.5,235.5 377.9,234.3 373.4,235.5"/>
<polygon fill="#00ff56" points="387.1,236.6 391.6,235.2 387.0,234.3 382.5,235.5"/>
<polygon fill="#00ff55" points="368.8,236.6 373.4,235.5 368.8,234.1 364.3,235.2"/>
<polygon fill="#00ff4d" points="359.7,236.1 364.3,235.2 359.7,233.6 355.2,234.5"/>
<polygon fill="#00ff3f" points="350.6,235.4 355.2,234.5 350.6,232.9 346.0,233.6"/>
<polygon fill="#00ff2d" points="341.5,234.4 346.0,233.6 341.5,231.8 336.9,232.4"/>
<polygon fill="#00ff15" points="332.3,233.0 336.9,232.4 332.3,230.4 327.8,230.9"/>
<polygon fill="#08ff00" points="323.2,231.4 327.8,230.9 323.2,228.7 318.6,229.1"/>
<polygon fill="#2aff00" points="314.0,229.4 318.6,229.1 314.0,226.7 309.4,226.9"/>
<polygon fill="#00ff58" points="382.5,237.9 387.1,236.6 382.5,235.5 377.9,236.7"/>
<polygon fill="#00ff58" points="373.4,238.0 377.9,236.7 373.4,235.5 368.8,236.6"/>
<polygon fill="#00ff53" points="391.6,237.6 396.2,236.1 391.6,235.2 387.1,236.6"/>
<polygon fill="#00ff53" points="364.3,237.7 368.8,236.6 364.3,235.2 359.7,236.1"/>
<polygon fill="#00ff49" points="355.2,237.1 359.7,236.1 355.2,234.5 350.6,235.4"/>
<polygon fill="#00ff39" points="346.1,236.3 350.6,235.4 346.0,233.6 341.5,234.4"/>
<polygon fill="#00ff24" points="336.9,235.1 341.5,234.4 336.9,232.4 332.3,233.0"/>
<polygon fill="#00ff0b" points="327.8,233.6 332.3,233.0 327.8,230.9 323.2,231.4"/>
<polygon fill="#14ff00" points="318.6,231.8 323.2,231.4 318.6,229.1 314.0,229.4"/>
<polygon fill="#38ff00" points="309.4,229.7 314.0,229.4 309.4,226.9 304.8,227.2"/>
<polygon fill="#00ff5a" points="378.0,239.3 382.5,237.9 377.9,236.7 373.4,238.0"/>
<polygon fill="#00ff57" points="387.1,239.1 391.6,237.6 387.1,236.6 382.5,237.9"/>
<polygon fill="#00ff58" points="368.8,239.2 373.4,238.0 368.8,236.6 364.3,237.7"/>
<polygon fill="#00ff4f" points="396.2,238.6 400.8,237.0 396.2,236.1 391.6,237.6"/>
<polygon fill="#00ff51" points="359.7,238.8 364.3,237.7 359.7,236.1 355.2,237.1"/>
<polygon fill="#00ff44" points="350.6,238.1 355.2,237.1 350.6,235.4 346.1,236.3"/>
<polygon fill="#00ff33" points="341.5,237.1 346.1,236.3 341.5,234.4 336.9,235.1"/>
<polygon fill="#00ff1c" points="332.4,235.8 336.9,235.1 332.3,233.0 327.8,233.6"/>
<polygon fill="#00ff00" points="323.2,234.2 327.8,233.6 323.2,231.4 318.6,231.8"/>
<polygon fill="#21ff00" points="314.0,232.3 318.6,231.8 314.0,229.4 309.4,229.7"/>
<polygon fill="#47ff00" points="304.8,230.0 309.4,229.7 304.8,227.2 300.2,227.3"/>
<polygon fill="#00ff5c" points="373.4,240.6 378.0,239.3 373.4,238.0 368.8,239.2"/>
<polygon fill="#00ff5b" points="382.5,240.5 387.1,239.1 382.5,237.9 378.0,239.3"/>
<polygon fill="#00ff57" points="364.3,240.4 368.8,239.2 364.3,237.7 359.7,238.8"/>
<polygon fill="#00ff55" points="391.6,240.1 396.2,238.6 391.6,237.6 387.1,239.1"/>
<polygon fill="#00ff4e" points="355.2,239.9 359.7,238.8 355.2,237.1 350.6,238.1"/>
<polygon fill="#00ff49" points="400.8,239.4 405.3,237.8 400.8,237.0 396.2,238.6"/>
<polygon fill="#00ff3f" points="346.1,239.1 350.6,238.1 346.1,236.3 341.5,237.1"/>
<polygon fill="#00ff2c" points="336.9,237.9 341.5,237.1 336.9,235.1 332.4,235.8"/>
<polygon fill="#00ff13" points="327.8,236.5 332.4,235.8 327.8,233.6 323.2,234.2"/>
<polygon fill="#0bff00" points="318.6,234.7 323.2,234.2 318.6,231.8 314.0,232.3"/>
<polygon fill="#2eff00" points="309.4,232.7 314.0,232.3 309.4,229.7 304.8,230.0"/>
<polygon fill="#56ff00" points="300.2,230.3 304.8,230.0 300.2,227.3 295.6,227.5"/>
<polygon fill="#00ff5e" points="378.0,242.0 382.5,240.5 378.0,239.3 373.4,240.6"/>
<polygon fill="#00ff5d" points="368.8,241.9 373.4,240.6 368.8,239.2 364.3,240.4"/>
<polygon fill="#00ff5a" points="387.1,241.7 391.6,240.1 387.1,239.1 382.5,240.5"/>
<polygon fill="#00ff56" points="359.7,241.6 364.3,240.4 359.7,238.8 355.2,239.9"/>
<polygon fill="#00ff51" points="396.2,241.1 400.8,239.4 396.2,238.6 391.6,240.1"/>
<polygon fill="#00ff4b" points="350.6,241.0 355.2,239.9 350.6,238.1 346.1,239.1"/>
<polygon fill="#00ff42" points="405.3,240.3 409.9,238.4 405.3,237.8 400.8,239.4"/>
<polygon fill="#00ff3a" points="341.5,240.0 346.1,239.1 341.5,237.1 336.9,237.9"/>
<polygon fill="#00ff24" points="332.4,238.7 336.9,237.9 332.4,235.8 327.8,236.5"/>
<polygon fill="#00ff09" points="323.2,237.2 327.8,236.5 323.2,234.2 318.6,234.7"/>
<polygon fill="#17ff00" points="314.0,235.3 318.6,234.7 314.0,232.3 309.4,232.7"/>
<polygon fill="#3cff00" points="304.8,233.1 309.4,232.7 304.8,230.0 300.2,230.3"/>
<polygon fill="#66ff00" points="295.6,230.6 300.2,230.3 295.6,227.5 290.9,227.7"/>
<polygon fill="#00ff60" points="373.4,243.4 378.0,242.0 373.4,240.6 368.8,241.9"/>
<polygon fill="#00ff5e" points="382.5,243.3 387.1,241.7 382.5,240.5 378.0,242.0"/>
<polygon fill="#00ff5d" points="364.3,243.3 368.8,241.9 364.3,240.4 359.7,241.6"/>
<polygon fill="#00ff57" points="391.6,242.8 396.2,241.1 391.6,240.1 387.1,241.7"/>
<polygon fill="#00ff55" points="355.2,242.8 359.7,241.6 355.2,239.9 350.6,241.0"/>
<polygon fill="#00ff4b" points="400.8,242.1 405.3,240.3 400.8,239.4 396.2,241.1"/>
<polygon fill="#00ff47" points="346.1,242.0 350.6,241.0 346.1,239.1 341.5,240.0"/>
<polygon fill="#00ff3a" points="409.9,241.0 414.5,239.1 409.9,238.4 405.3,240.3"/>
<polygon fill="#00ff34" points="337.0,240.9 341.5,240.0 336.9,237.9 332.4,238.7"/>
<polygon fill="#00ff1d" points="327.8,239.5 332.4,238.7 327.8,236.5 323.2,237.2"/>
<polygon fill="#00ff00" points="318.6,237.8 323.2,237.2 318.6,234.7 314.0,235.3"/>
<polygon fill="#23ff00" points="309.5,235.8 314.0,235.3 309.4,232.7 304.8,233.1"/>
<polygon fill="#4aff00" points="300.2,233.5 304.8,233.1 300.2,230.3 295.6,230.6"/>
<polygon fill="#76ff00" points="291.0,230.8 295.6,230.6 290.9,227.7 286.3,227.8"/>
<polygon fill="#00ff63" points="378.0,244.8 382.5,243.3 378.0,242.0 373.4,243.4"/>
<polygon fill="#00ff62" points="368.9,244.8 373.4,243.4 368.8,241.9 364.3,243.3"/>
<polygon fill="#00ff5e" points="387.1,244.5 391.6,242.8 387.1,241.7 382.5,243.3"/>
<polygon fill="#00ff5d" points="359.7,244.6 364.3,243.3 359.7,241.6 355.2,242.8"/>
<polygon fill="#00ff54" points="396.2,243.9 400.8,242.1 396.2,241.1 391.6,242.8"/>
<polygon fill="#00ff53" points="350.6,244.0 355.2,242.8 350.6,241.0 346.1,242.0"/>
<polygon fill="#00ff44" points="405.3,242.9 409.9,241.0 405.3,240.3 400.8,242.1"/>
<polygon fill="#00ff43" points="341.5,243.1 346.1,242.0 341.5,240.0 337.0,240.9"/>
<polygon fill="#00ff30" points="414.5,241.6 419.1,239.6 414.5,239.1 409.9,241.0"/>
<polygon fill="#00ff2e" points="332.4,241.8 337.0,240.9 332.4,238.7 327.8,239.5"/>
<polygon fill="#00ff14" points="323.2,240.3 327.8,239.5 323.2,237.2 318.6,237.8"/>
<polygon fill="#0bff00" points="314.1,238.5 318.6,237.8 314.0,235.3 309.5,235.8"/>
<polygon fill="#2fff00" points="304.9,236.3 309.5,235.8 304.8,233.1 300.2,233.5"/>
<polygon fill="#58ff00" points="295.6,233.9 300.2,233.5 295.6,230.6 291.0,230.8"/>
<polygon fill="#87ff00" points="286.4,231.1 291.0,230.8 286.3,227.8 281.7,227.9"/>
<polygon fill="#00ff66" points="373.4,246.4 378.0,244.8 373.4,243.4 368.9,244.8"/>
<polygon fill="#00ff64" points="382.5,246.2 387.1,244.5 382.5,243.3 378.0,244.8"/>
<polygon fill="#00ff64" points="364.3,246.3 368.9,244.8 364.3,243.3 359.7,244.6"/>
<polygon fill="#00ff5c" points="391.6,245.6 396.2,243.9 391.6,242.8 387.1,244.5"/>
<polygon fill="#00ff5d" points="355.2,245.9 359.7,244.6 355.2,242.8 350.6,244.0"/>
<polygon fill="#00ff4e" points="400.8,244.8 405.3,242.9 400.8,242.1 396.2,243.9"/>
<polygon fill="#00ff50" points="346.1,245.1 350.6,244.0 346.1,242.0 341.5,243.1"/>
<polygon fill="#00ff3c" points="409.9,243.7 414.5,241.6 409.9,241.0 405.3,242.9"/>
<polygon fill="#00ff3f" points="337.0,244.1 341.5,243.1 337.0,240.9 332.4,241.8"/>
<polygon fill="#00ff24" points="419.1,242.2 423.7,240.1 419.1,239.6 414.5,241.6"/>
<polygon fill="#00ff28" points="327.8,242.7 332.4,241.8 327.8,239.5 323.2,240.3"/>
<polygon fill="#00ff0c" points="318.7,241.1 323.2,240.3 318.6,237.8 314.1,238.5"/>
<polygon fill="#15ff00" points="309.5,239.1 314.1,238.5 309.5,235.8 304.9,236.3"/>
<polygon fill="#3cff00" points="300.3,236.8 304.9,236.3 300.2,233.5 295.6,233.9"/>
<polygon fill="#67ff00" points="291.0,234.2 295.6,233.9 291.0,230.8 286.4,231.1"/>
<polygon fill="#00ff6a" points="368.9,247.9 373.4,246.4 368.9,244.8 364.3,246.3"/>
<polygon fill="#00ff69" points="378.0,247.8 382.5,246.2 378.0,244.8 373.4,246.4"/>
<polygon fill="#00ff66" points="359.8,247.7 364.3,246.3 359.7,244.6 355.2,245.9"/>
<polygon fill="#00ff63" points="387.1,247.4 391.6,245.6 387.1,244.5 382.5,246.2"/>
<polygon fill="#00ff5c" points="350.7,247.1 355.2,245.9 350.6,244.0 346.1,245.1"/>
<polygon fill="#00ff58" points="396.2,246.7 400.8,244.8 396.2,243.9 391.6,245.6"/>
<polygon fill="#98ff00" points="281.7,231.3 286.4,231.1 281.7,227.9 277.0,228.0"/>
<polygon fill="#00ff4d" points="341.5,246.3 346.1,245.1 341.5,243.1 337.0,244.1"/>
<polygon fill="#00ff48" points="405.4,245.7 409.9,243.7 405.3,242.9 400.8,244.8"/>
<polygon fill="#00ff3a" points="332.4,245.1 337.0,244.1 332.4,241.8 327.8,242.7"/>
<polygon fill="#00ff32" points="414.5,244.4 419.1,242.2 414.5,241.6 409.9,243.7"/>
<polygon fill="#00ff21" points="323.3,243.6 327.8,242.7 323.2,240.3 318.7,241.1"/>
<polygon fill="#00ff18" points="423.7,242.7 428.3,240.4 423.7,240.1 419.1,242.2"/>
<polygon fill="#00ff03" points="314.1,241.8 318.7,241.1 314.1,238.5 309.5,239.1"/>
<polygon fill="#21ff00" points="304.9,239.7 309.5,239.1 304.9,236.3 300.3,236.8"/>
<polygon fill="#49ff00" points="295.7,237.3 300.3,236.8 295.6,233.9 291.0,234.2"/>
<polygon fill="#77ff00" points="286.4,234.5 291.0,234.2 286.4,231.1 281.7,231.3"/>
<polygon fill="#00ff6e" points="373.4,249.5 378.0,247.8 373.4,246.4 368.9,247.9"/>
<polygon fill="#00ff6d" points="364.3,249.4 368.9,247.9 364.3,246.3 359.8,247.7"/>
<polygon fill="#00ff6a" points="382.5,249.2 387.1,247.4 382.5,246.2 378.0,247.8"/>
<polygon fill="#00ff66" points="355.2,249.1 359.8,247.7 355.2,245.9 350.7,247.1"/>
<polygon fill="#00ff61" points="391.6,248.6 396.2,246.7 391.6,245.6 387.1,247.4"/>
<polygon fill="#00ff5b" points="346.1,248.4 350.7,247.1 346.1,245.1 341.5,246.3"/>
<polygon fill="#00ff53" points="400.8,247.7 405.4,245.7 400.8,244.8 396.2,246.7"/>
<polygon fill="#00ff4a" points="337.0,247.4 341.5,246.3 337.0,244.1 332.4,245.1"/>
<polygon fill="#a9ff00" points="277.1,231.4 281.7,231.3 277.0,228.0 272.4,228.0"/>
<polygon fill="#00ff40" points="409.9,246.5 414.5,244.4 409.9,243.7 405.4,245.7"/>
<polygon fill="#00ff34" points="327.9,246.1 332.4,245.1 327.8,242.7 323.3,243.6"/>
<polygon fill="#00ff27" points="419.1,245.0 423.7,242.7 419.1,242.2 414.5,244.4"/>
<polygon fill="#00ff19" points="318.7,244.5 323.3,243.6 318.7,241.1 314.1,241.8"/>
<polygon fill="#00ff09" points="428.3,243.1 432.9,240.8 428.3,240.4 423.7,242.7"/>
<polygon fill="#07ff00" points="309.5,242.6 314.1,241.8 309.5,239.1 304.9,239.7"/>
<polygon fill="#2cff00" points="300.3,240.3 304.9,239.7 300.3,236.8 295.7,237.3"/>
<polygon fill="#57ff00" points="291.1,237.7 295.7,237.3 291.0,234.2 286.4,234.5"/>
<polygon fill="#00ff73" points="368.9,251.1 373.4,249.5 368.9,247.9 364.3,249.4"/>
<polygon fill="#00ff71" points="378.0,251.0 382.5,249.2 378.0,247.8 373.4,249.5"/>
<polygon fill="#00ff6f" points="359.8,251.0 364.3,249.4 359.8,247.7 355.2,249.1"/>
<polygon fill="#00ff6a" points="387.1,250.5 391.6,248.6 387.1,247.4 382.5,249.2"/>
<polygon fill="#86ff00" points="281.8,234.8 286.4,234.5 281.7,231.3 277.1,231.4"/>
<polygon fill="#00ff67" points="350.7,250.5 355.2,249.1 350.7,247.1 346.1,248.4"/>
<polygon fill="#00ff5e" points="396.2,249.8 400.8,247.7 396.2,246.7 391.6,248.6"/>
<polygon fill="#00ff59" points="341.6,249.7 346.1,248.4 341.5,246.3 337.0,247.4"/>
<polygon fill="#00ff4c" points="405.4,248.7 409.9,246.5 405.4,245.7 400.8,247.7"/>
<polygon fill="#00ff46" points="332.4,248.6 337.0,247.4 332.4,245.1 327.9,246.1"/>
<polygon fill="#00ff36" points="414.5,247.3 419.1,245.0 414.5,244.4 409.9,246.5"/>
<polygon fill="#bbff00" points="272.5,231.6 277.1,231.4 272.4,228.0 267.8,228.0"/>
<polygon fill="#00ff2e" points="323.3,247.1 327.9,246.1 323.3,243.6 318.7,244.5"/>
<polygon fill="#00ff1b" points="423.7,245.5 428.3,243.1 423.7,242.7 419.1,245.0"/>
<polygon fill="#00ff11" points="314.1,245.4 318.7,244.5 314.1,241.8 309.5,242.6"/>
<polygon fill="#06ff00" points="432.9,243.5 437.6,241.0 432.9,240.8 428.3,243.1"/>
<polygon fill="#11ff00" points="304.9,243.3 309.5,242.6 304.9,239.7 300.3,240.3"/>
<polygon fill="#38ff00" points="295.7,240.9 300.3,240.3 295.7,237.3 291.1,237.7"/>
<polygon fill="#65ff00" points="286.5,238.2 291.1,237.7 286.4,234.5 281.8,234.8"/>
<polygon fill="#00ff77" points="373.4,252.8 378.0,251.0 373.4,249.5 368.9,251.1"/>
<polygon fill="#00ff77" points="364.3,252.8 368.9,251.1 364.3,249.4 359.8,251.0"/>
<polygon fill="#00ff72" points="382.5,252.4 387.1,250.5 382.5,249.2 378.0,251.0"/>
<polygon fill="#00ff71" points="355.2,252.5 359.8,251.0 355.2,249.1 350.7,250.5"/>
<polygon fill="#00ff68" points="391.6,251.8 396.2,249.8 391.6,248.6 387.1,250.5"/>
<polygon fill="#00ff67" points="346.1,251.9 350.7,250.5 346.1,248.4 341.6,249.7"/>
<polygon fill="#00ff59" points="400.8,250.8 405.4,248.7 400.8,247.7 396.2,249.8"/>
<polygon fill="#97ff00" points="277.2,235.1 281.8,234.8 277.1,231.4 272.5,231.6"/>
<polygon fill="#00ff57" points="337.0,250.9 341.6,249.7 337.0,247.4 332.4,248.6"/>
<polygon fill="#00ff45" points="409.9,249.5 414.5,247.3 409.9,246.5 405.4,248.7"/>
<polygon fill="#00ff42" points="327.9,249.7 332.4,248.6 327.9,246.1 323.3,247.1"/>
<polygon fill="#00ff2b" points="419.1,247.9 423.7,245.5 419.1,245.0 414.5,247.3"/>
<polygon fill="#00ff28" points="318.7,248.1 323.3,247.1 318.7,244.5 314.1,245.4"/>
<polygon fill="#cdff00" points="267.8,231.7 272.5,231.6 267.8,228.0 263.1,228.0"/>
<polygon fill="#00ff0d" points="428.3,246.0 432.9,243.5 428.3,243.1 423.7,245.5"/>
<polygon fill="#00ff09" points="309.6,246.2 314.1,245.4 309.5,242.6 304.9,243.3"/>
<polygon fill="#17ff00" points="437.6,243.7 442.2,241.1 437.6,241.0 432.9,243.5"/>
<polygon fill="#1bff00" points="300.4,244.0 304.9,243.3 300.3,240.3 295.7,240.9"/>
<polygon fill="#45ff00" points="291.1,241.4 295.7,240.9 291.1,237.7 286.5,238.2"/>
<polygon fill="#00ff7d" points="368.9,254.5 373.4,252.8 368.9,251.1 364.3,252.8"/>
<polygon fill="#73ff00" points="281.9,238.6 286.5,238.2 281.8,234.8 277.2,235.1"/>
<polygon fill="#00ff7a" points="378.0,254.3 382.5,252.4 378.0,251.0 373.4,252.8"/>
<polygon fill="#00ff7a" points="359.8,254.4 364.3,252.8 359.8,251.0 355.2,252.5"/>
<polygon fill="#00ff72" points="387.1,253.8 391.6,251.8 387.1,250.5 382.5,252.4"/>
<polygon fill="#00ff73" points="350.7,254.0 355.2,252.5 350.7,250.5 346.1,251.9"/>
<polygon fill="#00ff65" points="396.2,253.0 400.8,250.8 396.2,249.8 391.6,251.8"/>
<polygon fill="#00ff66" points="341.6,253.2 346.1,251.9 341.6,249.7 337.0,250.9"/>
<polygon fill="#00ff53" points="405.3,251.8 409.9,249.5 405.4,248.7 400.8,250.8"/>
<polygon fill="#00ff55" points="332.5,252.2 337.0,250.9 332.4,248.6 327.9,249.7"/>
<polygon fill="#a7ff00" points="272.5,235.4 277.2,235.1 272.5,231.6 267.8,231.7"/>
<polygon fill="#00ff3b" points="414.5,250.3 419.1,247.9 414.5,247.3 409.9,249.5"/>
<polygon fill="#00ff3e" points="323.3,250.8 327.9,249.7 323.3,247.1 318.7,248.1"/>
<polygon fill="#00ff1f" points="423.7,248.5 428.3,246.0 423.7,245.5 419.1,247.9"/>
<polygon fill="#00ff21" points="314.2,249.1 318.7,248.1 314.1,245.4 309.6,246.2"/>
<polygon fill="#e0ff00" points="263.2,231.8 267.8,231.7 263.1,228.0 258.4,228.0"/>
<polygon fill="#03ff00" points="432.9,246.3 437.6,243.7 432.9,243.5 428.3,246.0"/>
<polygon fill="#00ff00" points="305.0,247.0 309.6,246.2 304.9,243.3 300.4,244.0"/>
<polygon fill="#26ff00" points="295.8,244.7 300.4,244.0 295.7,240.9 291.1,241.4"/>
<polygon fill="#52ff00" points="286.5,242.0 291.1,241.4 286.5,238.2 281.9,238.6"/>
<polygon fill="#00ff82" points="364.3,256.3 368.9,254.5 364.3,252.8 359.8,254.4"/>
<polygon fill="#00ff81" points="373.4,256.2 378.0,254.3 373.4,252.8 368.9,254.5"/>
<polygon fill="#00ff7e" points="355.2,256.1 359.8,254.4 355.2,252.5 350.7,254.0"/>
<polygon fill="#00ff7c" points="382.5,255.8 387.1,253.8 382.5,252.4 378.0,254.3"/>
<polygon fill="#00ff74" points="346.1,255.5 350.7,254.0 346.1,251.9 341.6,253.2"/>
<polygon fill="#00ff71" points="391.6,255.1 396.2,253.0 391.6,251.8 387.1,253.8"/>
<polygon fill="#82ff00" points="277.2,238.9 281.9,238.6 277.2,235.1 272.5,235.4"/>
<polygon fill="#00ff65" points="337.0,254.6 341.6,253.2 337.0,250.9 332.5,252.2"/>
<polygon fill="#00ff60" points="400.8,254.1 405.3,251.8 400.8,250.8 396.2,253.0"/>
<polygon fill="#00ff52" points="327.9,253.4 332.5,252.2 327.9,249.7 323.3,250.8"/>
<polygon fill="#00ff4b" points="409.9,252.7 414.5,250.3 409.9,249.5 405.3,251.8"/>
<polygon fill="#b8ff00" points="267.9,235.6 272.5,235.4 267.8,231.7 263.2,231.8"/>
<polygon fill="#00ff38" points="318.8,251.9 323.3,250.8 318.7,248.1 314.2,249.1"/>
<polygon fill="#00ff31" points="419.1,251.0 423.7,248.5 419.1,247.9 414.5,250.3"/>
<polygon fill="#00ff1a" points="309.6,250.0 314.2,249.1 309.6,246.2 305.0,247.0"/>
<polygon fill="#00ff11" points="428.3,249.0 432.9,246.3 428.3,246.0 423.7,248.5"/>
<polygon fill="#09ff00" points="300.4,247.8 305.0,247.0 300.4,244.0 295.8,244.7"/>
<polygon fill="#32ff00" points="291.2,245.3 295.8,244.7 291.1,241.4 286.5,242.0"/>
<polygon fill="#5fff00" points="281.9,242.5 286.5,242.0 281.9,238.6 277.2,238.9"/>
<polygon fill="#00ff88" points="368.9,258.1 373.4,256.2 368.9,254.5 364.3,256.3"/>
<polygon fill="#00ff87" points="359.8,258.0 364.3,256.3 359.8,254.4 355.2,256.1"/>
<polygon fill="#00ff85" points="378.0,257.8 382.5,255.8 378.0,254.3 373.4,256.2"/>
<polygon fill="#00ff81" points="350.7,257.7 355.2,256.1 350.7,254.0 346.1,255.5"/>
<polygon fill="#00ff7c" points="387.1,257.2 391.6,255.1 387.1,253.8 382.5,255.8"/>
<polygon fill="#00ff75" points="341.6,257.0 346.1,255.5 341.6,253.2 337.0,254.6"/>
<polygon fill="#00ff6e" points="396.2,256.3 400.8,254.1 396.2,253.0 391.6,255.1"/>
<polygon fill="#00ff64" points="332.5,256.0 337.0,254.6 332.5,252.2 327.9,253.4"/>
<polygon fill="#00ff5a" points="405.3,255.1 409.9,252.7 405.3,251.8 400.8,254.1"/>
<polygon fill="#92ff00" points="272.6,239.3 277.2,238.9 272.5,235.4 267.9,235.6"/>
<polygon fill="#00ff4e" points="323.3,254.6 327.9,253.4 323.3,250.8 318.8,251.9"/>
<polygon fill="#00ff42" points="414.5,253.5 419.1,251.0 414.5,250.3 409.9,252.7"/>
<polygon fill="#00ff33" points="314.2,252.9 318.8,251.9 314.2,249.1 309.6,250.0"/>
<polygon fill="#00ff24" points="423.7,251.6 428.3,249.0 423.7,248.5 419.1,251.0"/>
<polygon fill="#00ff13" points="305.0,250.9 309.6,250.0 305.0,247.0 300.4,247.8"/>
<polygon fill="#13ff00" points="295.8,248.6 300.4,247.8 295.8,244.7 291.2,245.3"/>
<polygon fill="#3dff00" points="286.6,245.9 291.2,245.3 286.5,242.0 281.9,242.5"/>
<polygon fill="#00ff8f" points="364.3,260.0 368.9,258.1 364.3,256.3 359.8,258.0"/>
<polygon fill="#00ff8d" points="373.4,259.8 378.0,257.8 373.4,256.2 368.9,258.1"/>
<polygon fill="#00ff8c" points="355.2,259.8 359.8,258.0 355.2,256.1 350.7,257.7"/>
<polygon fill="#00ff86" points="382.5,259.4 387.1,257.2 382.5,255.8 378.0,257.8"/>
<polygon fill="#6dff00" points="277.3,243.0 281.9,242.5 277.2,238.9 272.6,239.3"/>
<polygon fill="#00ff83" points="346.1,259.3 350.7,257.7 346.1,255.5 341.6,257.0"/>
<polygon fill="#00ff7a" points="391.6,258.6 396.2,256.3 391.6,255.1 387.1,257.2"/>
<polygon fill="#00ff75" points="337.0,258.5 341.6,257.0 337.0,254.6 332.5,256.0"/>
<polygon fill="#00ff69" points="400.8,257.5 405.3,255.1 400.8,254.1 396.2,256.3"/>
<polygon fill="#00ff62" points="327.9,257.3 332.5,256.0 327.9,253.4 323.3,254.6"/>
<polygon fill="#00ff53" points="409.9,256.0 414.5,253.5 409.9,252.7 405.3,255.1"/>
<polygon fill="#00ff4a" points="318.8,255.8 323.3,254.6 318.8,251.9 314.2,252.9"/>
<polygon fill="#00ff37" points="419.1,254.2 423.7,251.6 419.1,251.0 414.5,253.5"/>
<polygon fill="#00ff2d" points="309.6,254.0 314.2,252.9 309.6,250.0 305.0,250.9"/>
<polygon fill="#00ff0b" points="300.5,251.8 305.0,250.9 300.4,247.8 295.8,248.6"/>
<polygon fill="#1dff00" points="291.2,249.4 295.8,248.6 291.2,245.3 286.6,245.9"/>
<polygon fill="#49ff00" points="282.0,246.6 286.6,245.9 281.9,242.5 277.3,243.0"/>
<polygon fill="#00ff95" points="368.9,261.8 373.4,259.8 368.9,258.1 364.3,260.0"/>
<polygon fill="#00ff95" points="359.8,261.8 364.3,260.0 359.8,258.0 355.2,259.8"/>
<polygon fill="#00ff91" points="378.0,261.5 382.5,259.4 378.0,257.8 373.4,259.8"/>
<polygon fill="#00ff90" points="350.7,261.5 355.2,259.8 350.7,257.7 346.1,259.3"/>
<polygon fill="#00ff87" points="387.1,260.8 391.6,258.6 387.1,257.2 382.5,259.4"/>
<polygon fill="#00ff85" points="341.6,260.9 346.1,259.3 341.6,257.0 337.0,258.5"/>
<polygon fill="#00ff78" points="396.2,259.8 400.8,257.5 396.2,256.3 391.6,258.6"/>
<polygon fill="#00ff75" points="332.5,259.9 337.0,258.5 332.5,256.0 327.9,257.3"/>
<polygon fill="#00ff63" points="405.3,258.5 409.9,256.0 405.3,255.1 400.8,257.5"/>
<polygon fill="#00ff60" points="323.4,258.6 327.9,257.3 323.3,254.6 318.8,255.8"/>
<polygon fill="#00ff4a" points="414.5,256.9 419.1,254.2 414.5,253.5 409.9,256.0"/>
<polygon fill="#00ff46" points="314.2,257.0 318.8,255.8 314.2,252.9 309.6,254.0"/>
<polygon fill="#00ff27" points="305.1,255.0 309.6,254.0 305.0,250.9 300.5,251.8"/>
<polygon fill="#00ff02" points="295.9,252.7 300.5,251.8 295.8,248.6 291.2,249.4"/>
<polygon fill="#27ff00" points="286.6,250.1 291.2,249.4 286.6,245.9 282.0,246.6"/>
<polygon fill="#00ff9d" points="364.3,263.8 368.9,261.8 364.3,260.0 359.8,261.8"/>
<polygon fill="#00ff9a" points="373.4,263.6 378.0,261.5 373.4,259.8 368.9,261.8"/>
<polygon fill="#00ff9b" points="355.2,263.7 359.8,261.8 355.2,259.8 350.7,261.5"/>
<polygon fill="#00ff93" points="382.5,263.1 387.1,260.8 382.5,259.4 378.0,261.5"/>
<polygon fill="#00ff93" points="346.2,263.3 350.7,261.5 346.1,259.3 341.6,260.9"/>
<polygon fill="#00ff86" points="391.6,262.2 396.2,259.8 391.6,258.6 387.1,260.8"/>
<polygon fill="#00ff86" points="337.1,262.5 341.6,260.9 337.0,258.5 332.5,259.9"/>
<polygon fill="#00ff74" points="400.8,261.0 405.3,258.5 400.8,257.5 396.2,259.8"/>
<polygon fill="#00ff74" points="328.0,261.4 332.5,259.9 327.9,257.3 323.4,258.6"/>
<polygon fill="#00ff5c" points="409.9,259.5 414.5,256.9 409.9,256.0 405.3,258.5"/>
<polygon fill="#00ff5d" points="318.8,259.9 323.4,258.6 318.8,255.8 314.2,257.0"/>
<polygon fill="#00ff41" points="309.7,258.2 314.2,257.0 309.6,254.0 305.1,255.0"/>
<polygon fill="#00ff20" points="300.5,256.1 305.1,255.0 300.5,251.8 295.9,252.7"/>
<polygon fill="#07ff00" points="291.3,253.6 295.9,252.7 291.2,249.4 286.6,250.1"/>
<polygon fill="#00ffa4" points="359.8,265.8 364.3,263.8 359.8,261.8 355.2,263.7"/>
<polygon fill="#00ffa4" points="368.9,265.7 373.4,263.6 368.9,261.8 364.3,263.8"/>
<polygon fill="#00ffa0" points="350.7,265.6 355.2,263.7 350.7,261.5 346.2,263.3"/>
<polygon fill="#00ff9e" points="378.0,265.3 382.5,263.1 378.0,261.5 373.4,263.6"/>
<polygon fill="#00ff96" points="341.6,265.0 346.2,263.3 341.6,260.9 337.1,262.5"/>
<polygon fill="#00ff93" points="387.1,264.6 391.6,262.2 387.1,260.8 382.5,263.1"/>
<polygon fill="#00ff87" points="332.5,264.1 337.1,262.5 332.5,259.9 328.0,261.4"/>
<polygon fill="#00ff83" points="396.2,263.5 400.8,261.0 396.2,259.8 391.6,262.2"/>
<polygon fill="#00ff73" points="323.4,262.8 328.0,261.4 323.4,258.6 318.8,259.9"/>
<polygon fill="#00ff6e" points="405.3,262.1 409.9,259.5 405.3,258.5 400.8,261.0"/>
<polygon fill="#00ff5a" points="314.3,261.2 318.8,259.9 314.2,257.0 309.7,258.2"/>
<polygon fill="#00ff3c" points="305.1,259.3 309.7,258.2 305.1,255.0 300.5,256.1"/>
<polygon fill="#00ff19" points="295.9,257.1 300.5,256.1 295.9,252.7 291.3,253.6"/>
<polygon fill="#00ffad" points="364.3,267.9 368.9,265.7 364.3,263.8 359.8,265.8"/>
<polygon fill="#00ffab" points="355.3,267.8 359.8,265.8 355.2,263.7 350.7,265.6"/>
<polygon fill="#00ffa9" points="373.4,267.6 378.0,265.3 373.4,263.6 368.9,265.7"/>
<polygon fill="#00ffa5" points="346.2,267.4 350.7,265.6 346.2,263.3 341.6,265.0"/>
<polygon fill="#00ffa0" points="382.5,267.0 387.1,264.6 382.5,263.1 378.0,265.3"/>
<polygon fill="#00ff99" points="337.1,266.7 341.6,265.0 337.1,262.5 332.5,264.1"/>
<polygon fill="#00ff92" points="391.6,266.0 396.2,263.5 391.6,262.2 387.1,264.6"/>
<polygon fill="#00ff88" points="328.0,265.6 332.5,264.1 328.0,261.4 323.4,262.8"/>
<polygon fill="#00ff7f" points="400.7,264.8 405.3,262.1 400.8,261.0 396.2,263.5"/>
<polygon fill="#00ff72" points="318.9,264.2 323.4,262.8 318.8,259.9 314.3,261.2"/>
<polygon fill="#00ff57" points="309.7,262.5 314.3,261.2 309.7,258.2 305.1,259.3"/>
<polygon fill="#00ff36" points="300.6,260.5 305.1,259.3 300.5,256.1 295.9,257.1"/>
<polygon fill="#00ffb5" points="359.8,270.0 364.3,267.9 359.8,265.8 355.3,267.8"/>
<polygon fill="#00ffb4" points="368.9,269.8 373.4,267.6 368.9,265.7 364.3,267.9"/>
<polygon fill="#00ffb2" points="350.7,269.8 355.3,267.8 350.7,265.6 346.2,267.4"/>
<polygon fill="#00ffad" points="378.0,269.3 382.5,267.0 378.0,265.3 373.4,267.6"/>
<polygon fill="#00ffa9" points="341.6,269.2 346.2,267.4 341.6,265.0 337.1,266.7"/>
<polygon fill="#00ffa1" points="387.1,268.5 391.6,266.0 387.1,264.6 382.5,267.0"/>
<polygon fill="#00ff9b" points="332.5,268.4 337.1,266.7 332.5,264.1 328.0,265.6"/>
<polygon fill="#00ff90" points="396.2,267.4 400.7,264.8 396.2,263.5 391.6,266.0"/>
<polygon fill="#00ff88" points="323.4,267.2 328.0,265.6 323.4,262.8 318.9,264.2"/>
<polygon fill="#00ff70" points="314.3,265.6 318.9,264.2 314.3,261.2 309.7,262.5"/>
<polygon fill="#00ff53" points="305.2,263.8 309.7,262.5 305.1,259.3 300.6,260.5"/>
<polygon fill="#00ffbe" points="364.3,272.1 368.9,269.8 364.3,267.9 359.8,270.0"/>
<polygon fill="#00ffbd" points="355.3,272.1 359.8,270.0 355.3,267.8 350.7,269.8"/>
<polygon fill="#00ffb9" points="373.4,271.7 378.0,269.3 373.4,267.6 368.9,269.8"/>
<polygon fill="#00ffb8" points="346.2,271.7 350.7,269.8 346.2,267.4 341.6,269.2"/>
<polygon fill="#00ffaf" points="382.5,271.0 387.1,268.5 382.5,267.0 378.0,269.3"/>
<polygon fill="#00ffad" points="337.1,271.1 341.6,269.2 337.1,266.7 332.5,268.4"/>
<polygon fill="#00ffa0" points="391.6,270.0 396.2,267.4 391.6,266.0 387.1,268.5"/>
<polygon fill="#00ff9d" points="328.0,270.1 332.5,268.4 328.0,265.6 323.4,267.2"/>
<polygon fill="#00ff88" points="318.9,268.7 323.4,267.2 318.9,264.2 314.3,265.6"/>
<polygon fill="#00ff6e" points="309.8,267.0 314.3,265.6 309.7,262.5 305.2,263.8"/>
<polygon fill="#00ffc8" points="359.8,274.3 364.3,272.1 359.8,270.0 355.3,272.1"/>
<polygon fill="#00ffc5" points="368.9,274.1 373.4,271.7 368.9,269.8 364.3,272.1"/>
<polygon fill="#00ffc5" points="350.7,274.2 355.3,272.1 350.7,269.8 346.2,271.7"/>
<polygon fill="#00ffbd" points="378.0,273.5 382.5,271.0 378.0,269.3 373.4,271.7"/>
<polygon fill="#00ffbd" points="341.7,273.7 346.2,271.7 341.6,269.2 337.1,271.1"/>
<polygon fill="#00ffb0" points="387.1,272.7 391.6,270.0 387.1,268.5 382.5,271.0"/>
<polygon fill="#00ffb0" points="332.6,272.9 337.1,271.1 332.5,268.4 328.0,270.1"/>
<polygon fill="#00ff9e" points="323.5,271.7 328.0,270.1 323.4,267.2 318.9,268.7"/>
<polygon fill="#00ff87" points="314.4,270.3 318.9,268.7 314.3,265.6 309.8,267.0"/>
<polygon fill="#00ffd0" points="364.3,276.4 368.9,274.1 364.3,272.1 359.8,274.3"/>
<polygon fill="#00ffd1" points="355.3,276.5 359.8,274.3 355.3,272.1 350.7,274.2"/>
<polygon fill="#00ffcb" points="373.4,276.0 378.0,273.5 373.4,271.7 368.9,274.1"/>
<polygon fill="#00ffcc" points="346.2,276.2 350.7,274.2 346.2,271.7 341.7,273.7"/>
<polygon fill="#00ffc0" points="382.5,275.3 387.1,272.7 382.5,271.0 378.0,273.5"/>
<polygon fill="#00ffc2" points="337.1,275.6 341.7,273.7 337.1,271.1 332.6,272.9"/>
<polygon fill="#00ffb3" points="328.0,274.7 332.6,272.9 328.0,270.1 323.5,271.7"/>
<polygon fill="#00ff9f" points="318.9,273.4 323.5,271.7 318.9,268.7 314.4,270.3"/>
<polygon fill="#00ffdb" points="359.8,278.8 364.3,276.4 359.8,274.3 355.3,276.5"/>
<polygon fill="#00ffda" points="350.7,278.7 355.3,276.5 350.7,274.2 346.2,276.2"/>
<polygon fill="#00ffd8" points="368.9,278.5 373.4,276.0 368.9,274.1 364.3,276.4"/>
<polygon fill="#00ffd3" points="341.7,278.3 346.2,276.2 341.7,273.7 337.1,275.6"/>
<polygon fill="#00ffcf" points="377.9,277.9 382.5,275.3 378.0,273.5 373.4,276.0"/>
<polygon fill="#00ffc7" points="332.6,277.6 337.1,275.6 332.6,272.9 328.0,274.7"/>
<polygon fill="#00ffb6" points="323.5,276.5 328.0,274.7 323.5,271.7 318.9,273.4"/>
<polygon fill="#00ffe6" points="355.3,281.2 359.8,278.8 355.3,276.5 350.7,278.7"/>
<polygon fill="#00ffe4" points="364.3,281.0 368.9,278.5 364.3,276.4 359.8,278.8"/>
<polygon fill="#00ffe2" points="346.2,280.9 350.7,278.7 346.2,276.2 341.7,278.3"/>
<polygon fill="#00ffdd" points="373.4,280.5 377.9,277.9 373.4,276.0 368.9,278.5"/>
<polygon fill="#00ffd9" points="337.1,280.4 341.7,278.3 337.1,275.6 332.6,277.6"/>
<polygon fill="#00ffcb" points="328.1,279.5 332.6,277.6 328.0,274.7 323.5,276.5"/>
<polygon fill="#00fff0" points="359.8,283.5 364.3,281.0 359.8,278.8 355.3,281.2"/>
<polygon fill="#00fff0" points="350.7,283.5 355.3,281.2 350.7,278.7 346.2,280.9"/>
<polygon fill="#00ffec" points="368.9,283.2 373.4,280.5 368.9,278.5 364.3,281.0"/>
<polygon fill="#00ffea" points="341.7,283.2 346.2,280.9 341.7,278.3 337.1,280.4"/>
<polygon fill="#00ffdf" points="332.6,282.5 337.1,280.4 332.6,277.6 328.1,279.5"/>
<polygon fill="#00fffc" points="355.3,286.0 359.8,283.5 355.3,281.2 350.7,283.5"/>
<polygon fill="#00fff9" points="364.3,285.8 368.9,283.2 364.3,281.0 359.8,283.5"/>
<polygon fill="#00fff9" points="346.2,285.8 350.7,283.5 346.2,280.9 341.7,283.2"/>
<polygon fill="#00fff1" points="337.2,285.3 341.7,283.2 337.1,280.4 332.6,282.5"/>
<polygon fill="#00f7ff" points="359.8,288.4 364.3,285.8 359.8,283.5 355.3,286.0"/>
<polygon fill="#00f7ff" points="350.8,288.5 355.3,286.0 350.7,283.5 346.2,285.8"/>
<polygon fill="#00fcff" points="341.7,288.2 346.2,285.8 341.7,283.2 337.2,285.3"/>
<polygon fill="#00ebff" points="355.3,291.0 359.8,288.4 355.3,286.0 350.8,288.5"/>
<polygon fill="#00ecff" points="346.2,290.9 350.8,288.5 346.2,285.8 341.7,288.2"/>
<polygon fill="#00deff" points="350.8,293.6 355.3,291.0 350.8,288.5 346.2,290.9"/>
</g>
<ellipse cx="350.7" cy="246.5" rx="1.9" ry="2.3" fill="#c00010" stroke="#300" stroke-width="0.6"/>
<polyline class="wl" points="482.5,281.3 569.7,255.3 656.7,281.4"/>
<polyline class="wl" points="481.7,266.1 569.7,241.7 657.5,266.2"/>
<polyline class="wl" points="480.8,250.8 569.7,227.9 658.3,250.8"/>
<polyline class="wl" points="480.0,235.2 569.7,213.9 659.2,235.3"/>
<polyline class="wl" points="479.2,219.5 569.7,199.8 660.0,219.5"/>
<polyline class="wl" points="478.3,203.5 569.7,185.4 660.8,203.6"/>
<polyline class="wl" points="499.9,275.7 496.6,199.5"/>
<polyline class="wl" points="517.4,270.3 514.9,195.6"/>
<polyline class="wl" points="534.8,265.1 533.2,192.0"/>
<polyline class="wl" points="552.3,260.1 551.4,188.6"/>
<polyline class="wl" points="634.9,274.4 638.1,198.5"/>
<polyline class="wl" points="613.2,267.7 615.3,193.8"/>
<polyline class="wl" points="591.5,261.3 592.5,189.4"/>
<polyline class="wl" points="483.9,306.7 478.3,203.5"/>
<polyline class="wl" points="569.7,278.0 569.7,185.4"/>
<polyline class="wl" points="655.2,306.8 660.8,203.6"/>
<polygon class="fl" points="569.5,341.0 655.2,306.8 569.7,278.0 483.9,306.7"/>
<polyline class="fc" stroke="#1dd6d9" points="544.2,330.3 544.7,330.4 545.9,330.5 546.0,330.5 547.0,330.6 547.9,330.7 548.2,330.7 549.4,330.8 549.7,330.8 550.5,330.9 551.6,331.0 551.7,331.0 552.8,331.2 553.6,331.3 553.9,331.3 555.0,331.4 555.6,331.5 556.1,331.6 557.2,331.7 557.7,331.8 558.3,331.9 559.3,332.0 559.8,332.1 560.4,332.2 561.4,332.3 562.0,332.4 562.5,332.5 563.5,332.6 564.3,332.8 564.6,332.8 565.6,333.0 566.6,333.2 566.8,333.2 567.6,333.3 568.6,333.5 569.3,333.7 569.6,333.7 570.5,333.9 571.5,334.1 572.0,334.2 572.4,334.3 573.4,334.5 574.3,334.7 575.0,334.8 575.3,334.9 576.2,335.1 577.1,335.3 578.0,335.6 578.2,335.6 578.9,335.8 579.8,336.0 580.7,336.2"/>
<polyline class="fc" stroke="#1dd6d9" points="625.7,296.2 625.2,296.1 624.4,295.9 623.5,295.7 622.7,295.5 621.8,295.3 621.4,295.2 621.0,295.1 620.1,294.9 619.3,294.7 618.5,294.5 617.7,294.3 616.9,294.1 616.1,293.9 615.4,293.7 615.3,293.7 614.5,293.4 613.8,293.2 613.0,293.0 612.2,292.8 611.5,292.5 610.7,292.3 610.0,292.1 609.2,291.8 608.5,291.6 607.8,291.4 607.1,291.1 606.3,290.9 605.6,290.7 604.9,290.4 604.2,290.2 603.5,289.9 602.8,289.7 602.2,289.4 601.5,289.2 600.8,289.0 600.1,288.7 599.5,288.5 598.8,288.2 598.1,288.0 597.5,287.7 597.3,287.6 596.8,287.4 596.2,287.2 595.5,286.9 594.9,286.7 594.3,286.4 593.6,286.2 593.0,285.9 592.4,285.7 591.8,285.4 591.4,285.3 591.1,285.1 590.5,284.9 589.9,284.6 589.3,284.4 588.7,284.1 588.1,283.8 587.5,283.6 587.3,283.5"/>
<polyline class="fc" stroke="#1dd99f" points="654.2,307.2 653.4,307.2 652.9,307.2 651.8,307.1 651.6,307.1 650.3,307.1 650.2,307.1 649.0,307.0 648.6,307.0 647.7,307.0 647.0,306.9 646.4,306.9 645.4,306.8 645.2,306.8 643.9,306.8 643.7,306.7 642.7,306.7 642.0,306.6 641.5,306.6 640.3,306.5 640.2,306.5 639.1,306.4 638.4,306.4 637.9,306.3 636.8,306.2 636.5,306.2 635.6,306.1 634.6,306.0 634.5,306.0 633.4,305.9 632.6,305.8 632.3,305.8 631.2,305.7 630.6,305.6 630.1,305.5 629.1,305.4 628.4,305.3 628.0,305.3 627.0,305.1 626.0,305.0 626.0,305.0 625.0,304.8 624.0,304.6 623.4,304.5 623.0,304.5 622.1,304.3 621.1,304.1 620.5,304.0 620.2,304.0 619.3,303.8 618.4,303.6 617.5,303.4 617.1,303.3 616.6,303.2 615.8,303.0 614.9,302.8 614.1,302.6 613.2,302.3 612.5,302.1 612.4,302.1 611.6,301.9 610.8,301.7 610.1,301.4 609.3,301.2 608.5,301.0 607.8,300.7 607.0,300.5 606.3,300.2 605.6,300.0 604.9,299.7 604.2,299.5 603.5,299.2 602.8,299.0 602.1,298.7 601.4,298.4 600.7,298.2 600.1,297.9 599.4,297.6 598.8,297.4 598.1,297.1 597.9,297.0 597.5,296.8 596.9,296.5 596.3,296.3 595.6,296.0 595.0,295.7 594.4,295.4 593.8,295.1 593.3,294.9 593.2,294.8 592.6,294.6 592.0,294.3 591.4,294.0 590.9,293.7 590.3,293.4 590.0,293.3 589.7,293.1 589.1,292.8 588.6,292.5 588.0,292.3 587.4,292.0 587.3,291.9 586.9,291.7 586.3,291.4 585.8,291.1 585.2,290.8 584.8,290.6 584.7,290.5 584.1,290.2 583.6,289.9 583.1,289.6 582.6,289.4 582.5,289.3 582.0,289.0 581.5,288.7 580.9,288.4 580.5,288.2 580.4,288.1 579.9,287.8 579.4,287.5 578.8,287.3 578.6,287.1 578.3,287.0 577.8,286.7 577.3,286.4 576.8,286.1 576.7,286.0 576.3,285.8 575.8,285.5 575.2,285.2 574.9,285.0 574.7,284.9 574.2,284.6 573.7,284.3 573.2,284.0 573.2,284.0 572.7,283.7 572.2,283.4 571.7,283.1 571.5,283.0 571.2,282.8 570.7,282.5 570.2,282.2 569.9,282.0 569.7,282.0 569.3,281.7 568.8,281.4 568.3,281.1 568.3,281.1 567.8,280.8 567.3,280.5 566.8,280.2 566.7,280.2 566.3,279.9 565.8,279.6 565.3,279.3"/>
<polyline class="fc" stroke="#1dd99f" points="527.4,323.5 527.4,323.5 528.8,323.4 528.9,323.4 530.2,323.4 530.3,323.4 531.6,323.4 531.8,323.4 533.0,323.4 533.3,323.4 534.4,323.4 534.7,323.4 535.8,323.4 536.1,323.4 537.2,323.4 537.6,323.4 538.7,323.4 539.0,323.4 540.1,323.4 540.4,323.4 541.5,323.4 541.8,323.4 543.0,323.4 543.2,323.4 544.5,323.5 544.6,323.5 546.0,323.5 546.0,323.5 547.3,323.5 547.4,323.5 548.7,323.5 548.9,323.5 550.0,323.6 550.5,323.6 551.4,323.6 552.0,323.6 552.7,323.6 553.5,323.7 554.0,323.7 555.1,323.7 555.3,323.7 556.6,323.8 556.7,323.8 557.9,323.8 558.3,323.9 559.2,323.9 559.9,323.9 560.5,324.0 561.6,324.0 561.7,324.0 562.9,324.1 563.3,324.1 564.2,324.2 565.0,324.3 565.4,324.3 566.6,324.4 566.8,324.4 567.8,324.5 568.6,324.6 568.9,324.6 570.1,324.7 570.5,324.7 571.2,324.8 572.3,324.9 572.4,324.9 573.5,325.1 574.4,325.2 574.6,325.2 575.6,325.3 576.5,325.5 576.7,325.5 577.8,325.6 578.8,325.8 578.8,325.8 579.8,326.0 580.8,326.1 581.2,326.2 581.8,326.3 582.8,326.5 583.8,326.7 583.8,326.7 584.7,326.9 585.7,327.1 586.6,327.3 586.8,327.3 587.5,327.5 588.4,327.7 589.3,327.9 590.1,328.1 590.5,328.2 591.0,328.4 591.8,328.6 592.7,328.9 593.5,329.1 594.3,329.4 595.1,329.6 595.9,329.9"/>
<polyline class="fc" stroke="#1dd962" points="513.8,318.1 513.9,318.1 515.0,318.0 515.8,317.9 516.2,317.9 517.3,317.8 517.6,317.8 518.5,317.7 519.4,317.6 519.7,317.6 520.8,317.5 521.3,317.4 522.0,317.4 523.1,317.3 523.1,317.3 524.3,317.2 525.0,317.1 525.5,317.1 526.6,316.9 526.9,316.9 527.8,316.8 528.8,316.7 528.9,316.7 530.0,316.6 530.7,316.6 531.2,316.5 532.3,316.4 532.6,316.4 533.4,316.3 534.6,316.2 534.6,316.2 535.7,316.0 536.5,316.0 536.8,315.9 537.9,315.8 538.5,315.7 539.0,315.7 540.1,315.6 540.6,315.5 541.2,315.4 542.3,315.3 542.6,315.3 543.4,315.2 544.5,315.0 544.7,315.0 545.6,314.9 546.6,314.8 546.9,314.7 547.7,314.6 548.8,314.5 549.1,314.4 549.8,314.3 550.8,314.2 551.4,314.1 551.9,314.0 552.9,313.9 553.8,313.7 553.9,313.7 554.9,313.6 555.9,313.4 556.4,313.3 556.8,313.2 557.8,313.0 558.7,312.9 559.2,312.8 559.7,312.7 560.6,312.5 561.5,312.3 562.4,312.1 562.7,312.0 563.2,311.8 564.1,311.6 564.9,311.4 565.7,311.2 566.5,310.9 567.2,310.7 567.9,310.4 568.6,310.1 569.3,309.8 569.9,309.5 570.5,309.2 571.1,308.9 571.3,308.8 571.6,308.6 572.1,308.2 572.5,307.9 572.7,307.7 572.9,307.5 573.3,307.1 573.4,306.9 573.6,306.7 573.9,306.2 573.9,306.2 574.1,305.8 574.2,305.6 574.3,305.3 574.4,305.0 574.4,304.9 574.5,304.5 574.5,304.4 574.5,303.9 574.5,303.9 574.5,303.4 574.5,303.4 574.5,302.9 574.4,302.8 574.4,302.4 574.3,302.3 574.3,302.0 574.2,301.7 574.1,301.5 574.0,301.1 573.9,301.1 573.8,300.6 573.7,300.5 573.6,300.2 573.4,299.9 573.3,299.8 573.1,299.3 573.1,299.3 572.9,298.9 572.7,298.6 572.6,298.5 572.4,298.1 572.3,298.0 572.1,297.7 571.9,297.3 571.8,297.3 571.5,296.9 571.4,296.7 571.2,296.5 570.9,296.1 570.9,296.0 570.6,295.7 570.3,295.3 570.3,295.3 570.0,295.0 569.7,294.6 569.7,294.6 569.4,294.2 569.1,293.9 569.0,293.8 568.7,293.5 568.5,293.2 568.4,293.1 568.0,292.7 567.8,292.5 567.7,292.4 567.3,292.0 567.2,291.8 567.0,291.6 566.6,291.3 566.5,291.1 566.3,290.9 565.9,290.6 565.7,290.4 565.5,290.2 565.2,289.9 565.0,289.7 564.8,289.5 564.4,289.2 564.2,288.9 564.1,288.8 563.7,288.5 563.4,288.2 563.3,288.1 563.0,287.8 562.6,287.5 562.6,287.4 562.2,287.1 561.8,286.8 561.8,286.7 561.4,286.4 561.1,286.1 561.0,286.0 560.7,285.7 560.3,285.4 560.2,285.3 559.9,285.1 559.5,284.7 559.3,284.6 559.1,284.4 558.7,284.1 558.5,283.8 558.3,283.7 558.0,283.4 557.6,283.1 557.6,283.1 557.2,282.8 556.8,282.4 556.7,282.4 556.4,282.1"/>
<polyline class="fc" stroke="#1dd924" points="502.1,313.6 503.2,313.4 503.2,313.4 504.2,313.3 505.2,313.1 505.5,313.1 506.2,312.9 507.3,312.8 507.9,312.7 508.3,312.6 509.3,312.5 510.3,312.3 510.4,312.3 511.3,312.2 512.3,312.0 512.9,311.9 513.3,311.8 514.2,311.7 515.2,311.5 515.6,311.4 516.2,311.3 517.1,311.1 518.1,310.9 518.4,310.9 519.0,310.8 520.0,310.6 520.9,310.4 521.5,310.3 521.8,310.2 522.7,310.0 523.6,309.8 524.5,309.6 525.0,309.5 525.4,309.4 526.3,309.2 527.1,309.0 528.0,308.8 528.8,308.6 529.3,308.4 529.7,308.3 530.5,308.1 531.3,307.9 532.1,307.7 532.9,307.4 533.6,307.2 534.4,306.9 535.1,306.7 535.9,306.4 536.6,306.2 537.3,305.9 537.9,305.6 538.6,305.3 539.3,305.0 539.9,304.8 540.5,304.5 541.1,304.2 541.4,304.0 541.7,303.9 542.2,303.5 542.8,303.2 543.3,302.9 543.6,302.7 543.8,302.6 544.3,302.2 544.7,301.9 545.0,301.7 545.2,301.5 545.6,301.2 545.9,300.9 546.0,300.8 546.4,300.4 546.6,300.1 546.7,300.0 547.0,299.6 547.2,299.4 547.3,299.2 547.6,298.8 547.7,298.7 547.8,298.4 548.0,298.1 548.1,298.0 548.3,297.6 548.3,297.5 548.4,297.1 548.5,296.9 548.6,296.7 548.7,296.4 548.7,296.2 548.8,295.9 548.8,295.8 548.9,295.3 548.9,295.3 548.9,294.8 548.9,294.8 548.9,294.3 548.9,294.3 548.9,293.9 548.9,293.9 548.9,293.4 548.9,293.4 548.9,292.9 548.9,292.9 548.8,292.5 548.8,292.3 548.7,292.0 548.7,291.8 548.6,291.6 548.5,291.3 548.5,291.1 548.4,290.8 548.3,290.7 548.2,290.3 548.2,290.2 548.0,289.8 548.0,289.7 547.9,289.4 547.8,289.2 547.7,289.0 547.5,288.6 547.5,288.6 547.3,288.2 547.2,288.0 547.1,287.8 546.9,287.5 546.9,287.4 546.7,287.0 546.6,286.9 546.5,286.6 546.3,286.3 546.2,286.2 546.0,285.9 545.9,285.8 545.7,285.5"/>
<polyline class="fc" stroke="#53d91d" points="491.7,309.6 492.0,309.6 492.6,309.4 493.6,309.2 494.5,309.1 495.0,309.0 495.4,308.9 496.4,308.7 497.3,308.5 498.2,308.3 498.3,308.3 499.1,308.1 500.0,307.9 500.8,307.7 501.7,307.5 502.0,307.4 502.6,307.3 503.4,307.1 504.3,306.9 505.1,306.7 506.0,306.4 506.5,306.3 506.8,306.2 507.6,306.0 508.4,305.8 509.2,305.5 510.0,305.3 510.8,305.1 511.6,304.8 512.4,304.6 513.1,304.3 513.8,304.1 514.6,303.8 515.3,303.6 516.0,303.3 516.7,303.1 517.4,302.8 518.1,302.5 518.7,302.3 519.4,302.0 520.0,301.7 520.6,301.4 521.2,301.1 521.8,300.8 522.0,300.7 522.4,300.5 523.0,300.2 523.5,299.9 524.1,299.6 524.4,299.4 524.6,299.3 525.1,298.9 525.6,298.6 526.0,298.3 526.0,298.3 526.5,297.9 526.9,297.6 527.1,297.4 527.4,297.2 527.8,296.9 528.1,296.6 528.2,296.5 528.5,296.2 528.8,295.8 528.9,295.8 529.2,295.4 529.4,295.1 529.5,295.0 529.8,294.6 529.9,294.5 530.1,294.2 530.4,293.8 530.4,293.8 530.6,293.4 530.7,293.2 530.8,293.0 531.0,292.7 531.0,292.6 531.2,292.2 531.3,292.1 531.4,291.8 531.5,291.5 531.5,291.3 531.6,291.0 531.7,290.9 531.8,290.5 531.8,290.5 531.9,290.0 531.9,290.0"/>
<circle cx="482.5" cy="281.3" r="0.75" fill="#222"/>
<text class="zl" x="475.4" y="279.7" text-anchor="middle">40</text>
<circle cx="481.7" cy="266.1" r="0.75" fill="#222"/>
<text class="zl" x="474.6" y="264.5" text-anchor="middle">50</text>
<circle cx="480.8" cy="250.8" r="0.75" fill="#222"/>
<text class="zl" x="473.7" y="249.2" text-anchor="middle">60</text>
<circle cx="480.0" cy="235.2" r="0.75" fill="#222"/>
<text class="zl" x="472.9" y="233.6" text-anchor="middle">70</text>
<circle cx="479.2" cy="219.5" r="0.75" fill="#222"/>
<text class="zl" x="472.1" y="217.9" text-anchor="middle">80</text>
<circle cx="478.3" cy="203.5" r="0.75" fill="#222"/>
<text class="zl" x="471.2" y="201.9" text-anchor="middle">90</text>
<line class="tk3" x1="569.5" y1="341.0" x2="572.4" y2="342.3"/>
<text class="zl" x="577.3" y="347.2" text-anchor="middle">25</text>
<line class="tk3" x1="586.6" y1="333.7" x2="589.6" y2="335.0"/>
<text class="zl" x="594.4" y="339.9" text-anchor="middle">30</text>
<line class="tk3" x1="603.8" y1="326.7" x2="606.8" y2="327.9"/>
<text class="zl" x="611.6" y="332.9" text-anchor="middle">35</text>
<line class="tk3" x1="620.9" y1="319.8" x2="623.9" y2="321.0"/>
<text class="zl" x="628.7" y="326.0" text-anchor="middle">40</text>
<line class="tk3" x1="638.1" y1="313.2" x2="641.1" y2="314.4"/>
<text class="zl" x="645.9" y="319.4" text-anchor="middle">45</text>
<line class="tk3" x1="655.2" y1="306.8" x2="658.2" y2="307.9"/>
<text class="zl" x="663.0" y="313.0" text-anchor="middle">50</text>
<line class="tk3" x1="569.5" y1="341.0" x2="566.5" y2="342.3"/>
<text class="zl" x="562.6" y="347.3" text-anchor="middle">10</text>
<line class="tk3" x1="548.1" y1="331.9" x2="545.1" y2="333.2"/>
<text class="zl" x="541.2" y="338.2" text-anchor="middle">15</text>
<line class="tk3" x1="526.7" y1="323.2" x2="523.7" y2="324.4"/>
<text class="zl" x="519.8" y="329.5" text-anchor="middle">20</text>
<line class="tk3" x1="505.3" y1="314.8" x2="502.3" y2="315.9"/>
<text class="zl" x="498.4" y="321.1" text-anchor="middle">25</text>
<line class="tk3" x1="483.9" y1="306.7" x2="480.9" y2="307.8"/>
<text class="zl" x="477.0" y="313.0" text-anchor="middle">30</text>
<text class="ax3" transform="translate(561.6,366.0) rotate(-25.5) scale(0.95,1)">B: Liquid lipid to Total Lipid (%w/v)</text>
<text class="ax3" transform="translate(473.6,324.6) rotate(21.3) scale(0.95,1)">C: Sonication Time min)</text>
<g class="sf">
<polygon fill="#00ffdd" points="569.7,237.7 574.1,239.0 569.7,237.3 565.3,235.9"/>
<polygon fill="#00ffe8" points="574.1,239.4 578.5,240.6 574.1,239.0 569.7,237.7"/>
<polygon fill="#00ffb2" points="565.3,236.5 569.7,237.7 565.3,235.9 560.9,234.7"/>
<polygon fill="#00fff2" points="578.5,241.0 582.9,242.2 578.5,240.6 574.1,239.4"/>
<polygon fill="#00ffbe" points="569.7,238.3 574.1,239.4 569.7,237.7 565.3,236.5"/>
<polygon fill="#00ff8a" points="560.8,235.5 565.3,236.5 560.9,234.7 556.4,233.6"/>
<polygon fill="#00fffa" points="582.9,242.6 587.3,243.7 582.9,242.2 578.5,241.0"/>
<polygon fill="#00ffca" points="574.1,240.0 578.5,241.0 574.1,239.4 569.7,238.3"/>
<polygon fill="#00ff98" points="565.3,237.4 569.7,238.3 565.3,236.5 560.8,235.5"/>
<polygon fill="#00ff64" points="556.4,234.6 560.8,235.5 556.4,233.6 551.9,232.6"/>
<polygon fill="#00fdff" points="587.3,244.1 591.7,245.1 587.3,243.7 582.9,242.6"/>
<polygon fill="#00ffd3" points="578.5,241.7 582.9,242.6 578.5,241.0 574.1,240.0"/>
<polygon fill="#00ffa4" points="569.7,239.2 574.1,240.0 569.7,238.3 565.3,237.4"/>
<polygon fill="#00ff74" points="560.8,236.6 565.3,237.4 560.8,235.5 556.4,234.6"/>
<polygon fill="#00ff41" points="551.9,233.9 556.4,234.6 551.9,232.6 547.5,231.8"/>
<polygon fill="#00f8ff" points="591.7,245.6 596.1,246.5 591.7,245.1 587.3,244.1"/>
<polygon fill="#00ffdb" points="582.9,243.3 587.3,244.1 582.9,242.6 578.5,241.7"/>
<polygon fill="#00ffaf" points="574.1,240.9 578.5,241.7 574.1,240.0 569.7,239.2"/>
<polygon fill="#00ff81" points="565.2,238.5 569.7,239.2 565.3,237.4 560.8,236.6"/>
<polygon fill="#00ff52" points="556.4,235.9 560.8,236.6 556.4,234.6 551.9,233.9"/>
<polygon fill="#00ff21" points="547.5,233.2 551.9,233.9 547.5,231.8 543.0,231.1"/>
<polygon fill="#00f4ff" points="596.1,247.0 600.5,247.8 596.1,246.5 591.7,245.6"/>
<polygon fill="#00ffe2" points="587.3,244.8 591.7,245.6 587.3,244.1 582.9,243.3"/>
<polygon fill="#00ffb9" points="578.5,242.6 582.9,243.3 578.5,241.7 574.1,240.9"/>
<polygon fill="#00ff8e" points="569.7,240.3 574.1,240.9 569.7,239.2 565.2,238.5"/>
<polygon fill="#00ff61" points="560.8,237.9 565.2,238.5 560.8,236.6 556.4,235.9"/>
<polygon fill="#00ff34" points="551.9,235.4 556.4,235.9 551.9,233.9 547.5,233.2"/>
<polygon fill="#00f1ff" points="600.5,248.3 604.9,249.0 600.5,247.8 596.1,247.0"/>
<polygon fill="#00ff04" points="543.0,232.8 547.5,233.2 543.0,231.1 538.5,230.5"/>
<polygon fill="#00ffe8" points="591.7,246.3 596.1,247.0 591.7,245.6 587.3,244.8"/>
<polygon fill="#00ffc1" points="582.9,244.2 587.3,244.8 582.9,243.3 578.5,242.6"/>
<polygon fill="#00ff99" points="574.1,242.1 578.5,242.6 574.1,240.9 569.7,240.3"/>
<polygon fill="#00ff6f" points="565.2,239.8 569.7,240.3 565.2,238.5 560.8,237.9"/>
<polygon fill="#00ff44" points="556.3,237.5 560.8,237.9 556.4,235.9 551.9,235.4"/>
<polygon fill="#00f0ff" points="604.9,249.6 609.3,250.2 604.9,249.0 600.5,248.3"/>
<polygon fill="#00ff18" points="547.4,235.0 551.9,235.4 547.5,233.2 543.0,232.8"/>
<polygon fill="#00ffec" points="596.1,247.7 600.5,248.3 596.1,247.0 591.7,246.3"/>
<polygon fill="#16ff00" points="538.5,232.5 543.0,232.8 538.5,230.5 534.0,230.1"/>
<polygon fill="#00ffc8" points="587.3,245.8 591.7,246.3 587.3,244.8 582.9,244.2"/>
<polygon fill="#00ffa3" points="578.5,243.8 582.9,244.2 578.5,242.6 574.1,242.1"/>
<polygon fill="#00ff7c" points="569.6,241.7 574.1,242.1 569.7,240.3 565.2,239.8"/>
<polygon fill="#00ff54" points="560.8,239.5 565.2,239.8 560.8,237.9 556.3,237.5"/>
<polygon fill="#00ff2a" points="551.9,237.2 556.3,237.5 551.9,235.4 547.4,235.0"/>
<polygon fill="#00f0ff" points="609.3,250.8 613.7,251.3 609.3,250.2 604.9,249.6"/>
<polygon fill="#02ff00" points="543.0,234.8 547.4,235.0 543.0,232.8 538.5,232.5"/>
<polygon fill="#00ffee" points="600.5,249.1 604.9,249.6 600.5,248.3 596.1,247.7"/>
<polygon fill="#00ffcd" points="591.7,247.3 596.1,247.7 591.7,246.3 587.3,245.8"/>
<polygon fill="#2eff00" points="534.0,232.3 538.5,232.5 534.0,230.1 529.5,229.9"/>
<polygon fill="#00ffab" points="582.9,245.4 587.3,245.8 582.9,244.2 578.5,243.8"/>
<polygon fill="#00ff87" points="574.1,243.5 578.5,243.8 574.1,242.1 569.6,241.7"/>
<polygon fill="#00ff61" points="565.2,241.4 569.6,241.7 565.2,239.8 560.8,239.5"/>
<polygon fill="#00ff3a" points="556.3,239.3 560.8,239.5 556.3,237.5 551.9,237.2"/>
<polygon fill="#00f2ff" points="613.7,251.9 618.1,252.4 613.7,251.3 609.3,250.8"/>
<polygon fill="#00ff12" points="547.4,237.1 551.9,237.2 547.4,235.0 543.0,234.8"/>
<polygon fill="#00ffef" points="604.9,250.4 609.3,250.8 604.9,249.6 600.5,249.1"/>
<polygon fill="#18ff00" points="538.5,234.8 543.0,234.8 538.5,232.5 534.0,232.3"/>
<polygon fill="#00ffd1" points="596.1,248.7 600.5,249.1 596.1,247.7 591.7,247.3"/>
<polygon fill="#43ff00" points="529.5,232.3 534.0,232.3 529.5,229.9 525.0,229.8"/>
<polygon fill="#00ffb2" points="587.3,247.0 591.7,247.3 587.3,245.8 582.9,245.4"/>
<polygon fill="#00ff90" points="578.5,245.2 582.9,245.4 578.5,243.8 574.1,243.5"/>
<polygon fill="#00ff6e" points="569.6,243.3 574.1,243.5 569.6,241.7 565.2,241.4"/>
<polygon fill="#00ff4a" points="560.8,241.4 565.2,241.4 560.8,239.5 556.3,239.3"/>
<polygon fill="#00ff24" points="551.9,239.3 556.3,239.3 551.9,237.2 547.4,237.1"/>
<polygon fill="#00f5ff" points="618.1,253.0 622.5,253.3 618.1,252.4 613.7,251.9"/>
<polygon fill="#03ff00" points="542.9,237.1 547.4,237.1 543.0,234.8 538.5,234.8"/>
<polygon fill="#00ffef" points="609.3,251.6 613.7,251.9 609.3,250.8 604.9,250.4"/>
<polygon fill="#00ffd4" points="600.5,250.1 604.9,250.4 600.5,249.1 596.1,248.7"/>
<polygon fill="#2cff00" points="534.0,234.9 538.5,234.8 534.0,232.3 529.5,232.3"/>
<polygon fill="#00ffb7" points="591.7,248.6 596.1,248.7 591.7,247.3 587.3,247.0"/>
<polygon fill="#56ff00" points="525.0,232.5 529.5,232.3 525.0,229.8 520.5,229.8"/>
<polygon fill="#00ff99" points="582.9,246.9 587.3,247.0 582.9,245.4 578.5,245.2"/>
<polygon fill="#00ff79" points="574.1,245.2 578.5,245.2 574.1,243.5 569.6,243.3"/>
<polygon fill="#00ff58" points="565.2,243.3 569.6,243.3 565.2,241.4 560.8,241.4"/>
<polygon fill="#00ff35" points="556.3,241.4 560.8,241.4 556.3,239.3 551.9,239.3"/>
<polygon fill="#00ff10" points="547.4,239.4 551.9,239.3 547.4,237.1 542.9,237.1"/>
<polygon fill="#00faff" points="622.5,253.9 626.9,254.2 622.5,253.3 618.1,253.0"/>
<polygon fill="#00ffed" points="613.7,252.7 618.1,253.0 613.7,251.9 609.3,251.6"/>
<polygon fill="#15ff00" points="538.5,237.3 542.9,237.1 538.5,234.8 534.0,234.9"/>
<polygon fill="#00ffd5" points="604.9,251.4 609.3,251.6 604.9,250.4 600.5,250.1"/>
<polygon fill="#00ffbb" points="596.1,250.0 600.5,250.1 596.1,248.7 591.7,248.6"/>
<polygon fill="#3dff00" points="529.5,235.1 534.0,234.9 529.5,232.3 525.0,232.5"/>
<polygon fill="#00ff9f" points="587.3,248.5 591.7,248.6 587.3,247.0 582.9,246.9"/>
<polygon fill="#65ff00" points="520.5,232.8 525.0,232.5 520.5,229.8 516.0,230.1"/>
<polygon fill="#00ff82" points="578.5,246.9 582.9,246.9 578.5,245.2 574.1,245.2"/>
<polygon fill="#00ff64" points="569.6,245.3 574.1,245.2 569.6,243.3 565.2,243.3"/>
<polygon fill="#00ff44" points="560.7,243.5 565.2,243.3 560.8,241.4 556.3,241.4"/>
<polygon fill="#00ff23" points="551.9,241.7 556.3,241.4 551.9,239.3 547.4,239.4"/>
<polygon fill="#00fffe" points="626.9,254.8 631.3,255.1 626.9,254.2 622.5,253.9"/>
<polygon fill="#00ff00" points="542.9,239.7 547.4,239.4 542.9,237.1 538.5,237.3"/>
<polygon fill="#00ffea" points="618.1,253.8 622.5,253.9 618.1,253.0 613.7,252.7"/>
<polygon fill="#00ffd4" points="609.4,252.6 613.7,252.7 609.3,251.6 604.9,251.4"/>
<polygon fill="#25ff00" points="534.0,237.7 538.5,237.3 534.0,234.9 529.5,235.1"/>
<polygon fill="#00ffbd" points="600.5,251.4 604.9,251.4 600.5,250.1 596.1,250.0"/>
<polygon fill="#4bff00" points="525.0,235.6 529.5,235.1 525.0,232.5 520.5,232.8"/>
<polygon fill="#00ffa5" points="591.7,250.1 596.1,250.0 591.7,248.6 587.3,248.5"/>
<polygon fill="#00ff8b" points="582.9,248.7 587.3,248.5 582.9,246.9 578.5,246.9"/>
<polygon fill="#72ff00" points="516.0,233.3 520.5,232.8 516.0,230.1 511.5,230.5"/>
<polygon fill="#00ff6f" points="574.0,247.1 578.5,246.9 574.1,245.2 569.6,245.3"/>
<polygon fill="#00ff52" points="565.2,245.5 569.6,245.3 565.2,243.3 560.7,243.5"/>
<polygon fill="#00ff33" points="556.3,243.8 560.7,243.5 556.3,241.4 551.9,241.7"/>
<polygon fill="#00ff13" points="547.4,242.1 551.9,241.7 547.4,239.4 542.9,239.7"/>
<polygon fill="#00fff7" points="631.4,255.7 635.7,255.8 631.3,255.1 626.9,254.8"/>
<polygon fill="#0fff00" points="538.5,240.2 542.9,239.7 538.5,237.3 534.0,237.7"/>
<polygon fill="#00ffe5" points="622.6,254.8 626.9,254.8 622.5,253.9 618.1,253.8"/>
<polygon fill="#00ffd3" points="613.8,253.8 618.1,253.8 613.7,252.7 609.4,252.6"/>
<polygon fill="#32ff00" points="529.5,238.2 534.0,237.7 529.5,235.1 525.0,235.6"/>
<polygon fill="#00ffbe" points="605.0,252.7 609.4,252.6 604.9,251.4 600.5,251.4"/>
<polygon fill="#00ffa9" points="596.1,251.5 600.5,251.4 596.1,250.0 591.7,250.1"/>
<polygon fill="#56ff00" points="520.6,236.2 525.0,235.6 520.5,232.8 516.0,233.3"/>
<polygon fill="#00ff91" points="587.3,250.3 591.7,250.1 587.3,248.5 582.9,248.7"/>
<polygon fill="#7dff00" points="511.6,234.0 516.0,233.3 511.5,230.5 507.0,231.0"/>
<polygon fill="#00ff78" points="578.5,248.9 582.9,248.7 578.5,246.9 574.0,247.1"/>
<polygon fill="#00ff5e" points="569.6,247.5 574.0,247.1 569.6,245.3 565.2,245.5"/>
<polygon fill="#00ff42" points="560.7,246.0 565.2,245.5 560.7,243.5 556.3,243.8"/>
<polygon fill="#00ff25" points="551.8,244.3 556.3,243.8 551.9,241.7 547.4,242.1"/>
<polygon fill="#00ff06" points="542.9,242.6 547.4,242.1 542.9,239.7 538.5,240.2"/>
<polygon fill="#00ffee" points="635.8,256.4 640.1,256.5 635.7,255.8 631.4,255.7"/>
<polygon fill="#00ffdf" points="627.0,255.7 631.4,255.7 626.9,254.8 622.6,254.8"/>
<polygon fill="#1aff00" points="534.0,240.8 538.5,240.2 534.0,237.7 529.5,238.2"/>
<polygon fill="#00ffcf" points="618.2,254.9 622.6,254.8 618.1,253.8 613.8,253.8"/>
<polygon fill="#00ffbe" points="609.4,254.0 613.8,253.8 609.4,252.6 605.0,252.7"/>
<polygon fill="#3cff00" points="525.0,238.9 529.5,238.2 525.0,235.6 520.6,236.2"/>
<polygon fill="#00ffab" points="600.6,253.0 605.0,252.7 600.5,251.4 596.1,251.5"/>
<polygon fill="#5fff00" points="516.1,236.9 520.6,236.2 516.0,233.3 511.6,234.0"/>
<polygon fill="#00ff97" points="591.7,251.9 596.1,251.5 591.7,250.1 587.3,250.3"/>
<polygon fill="#00ff81" points="582.9,250.7 587.3,250.3 582.9,248.7 578.5,248.9"/>
<polygon fill="#84ff00" points="507.1,234.9 511.6,234.0 507.0,231.0 502.5,231.8"/>
<polygon fill="#00ff69" points="574.0,249.4 578.5,248.9 574.0,247.1 569.6,247.5"/>
<polygon fill="#00ff50" points="565.2,248.0 569.6,247.5 565.2,245.5 560.7,246.0"/>
<polygon fill="#00ff36" points="556.3,246.6 560.7,246.0 556.3,243.8 551.8,244.3"/>
<polygon fill="#00ff1a" points="547.4,245.0 551.8,244.3 547.4,242.1 542.9,242.6"/>
<polygon fill="#04ff00" points="538.5,243.4 542.9,242.6 538.5,240.2 534.0,240.8"/>
<polygon fill="#00ffe3" points="640.2,257.1 644.6,257.1 640.1,256.5 635.8,256.4"/>
<polygon fill="#00ffd8" points="631.4,256.6 635.8,256.4 631.4,255.7 627.0,255.7"/>
<polygon fill="#23ff00" points="529.5,241.6 534.0,240.8 529.5,238.2 525.0,238.9"/>
<polygon fill="#00ffcb" points="622.6,255.9 627.0,255.7 622.6,254.8 618.2,254.9"/>
<polygon fill="#00ffbc" points="613.8,255.1 618.2,254.9 613.8,253.8 609.4,254.0"/>
<polygon fill="#43ff00" points="520.6,239.8 525.0,238.9 520.6,236.2 516.1,236.9"/>
<polygon fill="#00ffac" points="605.0,254.3 609.4,254.0 605.0,252.7 600.6,253.0"/>
<polygon fill="#00ff9a" points="596.1,253.4 600.6,253.0 596.1,251.5 591.7,251.9"/>
<polygon fill="#65ff00" points="511.6,237.9 516.1,236.9 511.6,234.0 507.1,234.9"/>
<polygon fill="#00ff87" points="587.3,252.3 591.7,251.9 587.3,250.3 582.9,250.7"/>
<polygon fill="#00ff73" points="578.5,251.2 582.9,250.7 578.5,248.9 574.0,249.4"/>
<polygon fill="#89ff00" points="502.6,235.9 507.1,234.9 502.5,231.8 498.0,232.7"/>
<polygon fill="#00ff5d" points="569.6,250.0 574.0,249.4 569.6,247.5 565.2,248.0"/>
<polygon fill="#00ff45" points="560.7,248.7 565.2,248.0 560.7,246.0 556.3,246.6"/>
<polygon fill="#00ff2c" points="551.8,247.3 556.3,246.6 551.8,244.3 547.4,245.0"/>
<polygon fill="#00ff11" points="542.9,245.9 547.4,245.0 542.9,242.6 538.5,243.4"/>
<polygon fill="#0bff00" points="534.0,244.3 538.5,243.4 534.0,240.8 529.5,241.6"/>
<polygon fill="#00ffd8" points="644.6,257.7 649.0,257.6 644.6,257.1 640.2,257.1"/>
<polygon fill="#29ff00" points="525.1,242.6 529.5,241.6 525.0,238.9 520.6,239.8"/>
<polygon fill="#00ffcf" points="635.8,257.3 640.2,257.1 635.8,256.4 631.4,256.6"/>
<polygon fill="#00ffc5" points="627.0,256.8 631.4,256.6 627.0,255.7 622.6,255.9"/>
<polygon fill="#00ffb9" points="618.2,256.2 622.6,255.9 618.2,254.9 613.8,255.1"/>
<polygon fill="#48ff00" points="516.1,240.9 520.6,239.8 516.1,236.9 511.6,237.9"/>
<polygon fill="#00ffac" points="609.4,255.6 613.8,255.1 609.4,254.0 605.0,254.3"/>
<polygon fill="#00ff9d" points="600.6,254.8 605.0,254.3 600.6,253.0 596.1,253.4"/>
<polygon fill="#68ff00" points="507.1,239.0 511.6,237.9 507.1,234.9 502.6,235.9"/>
<polygon fill="#00ff8d" points="591.7,253.9 596.1,253.4 591.7,251.9 587.3,252.3"/>
<polygon fill="#00ff7b" points="582.9,253.0 587.3,252.3 582.9,250.7 578.5,251.2"/>
<polygon fill="#8bff00" points="498.1,237.1 502.6,235.9 498.0,232.7 493.6,233.8"/>
<polygon fill="#00ff67" points="574.0,252.0 578.5,251.2 574.0,249.4 569.6,250.0"/>
<polygon fill="#00ff53" points="565.2,250.8 569.6,250.0 565.2,248.0 560.7,248.7"/>
<polygon fill="#00ff3c" points="556.3,249.6 560.7,248.7 556.3,246.6 551.8,247.3"/>
<polygon fill="#00ff25" points="547.4,248.3 551.8,247.3 547.4,245.0 542.9,245.9"/>
<polygon fill="#00ff0b" points="538.5,246.9 542.9,245.9 538.5,243.4 534.0,244.3"/>
<polygon fill="#10ff00" points="529.6,245.4 534.0,244.3 529.5,241.6 525.1,242.6"/>
<polygon fill="#2cff00" points="520.6,243.8 525.1,242.6 520.6,239.8 516.1,240.9"/>
<polygon fill="#00ffca" points="649.1,258.3 653.5,258.0 649.0,257.6 644.6,257.7"/>
<polygon fill="#00ffc5" points="640.3,258.0 644.6,257.7 640.2,257.1 635.8,257.3"/>
<polygon fill="#00ffbd" points="631.4,257.7 635.8,257.3 631.4,256.6 627.0,256.8"/>
<polygon fill="#00ffb4" points="622.6,257.3 627.0,256.8 622.6,255.9 618.2,256.2"/>
<polygon fill="#4aff00" points="511.6,242.1 516.1,240.9 511.6,237.9 507.1,239.0"/>
<polygon fill="#00ffaa" points="613.8,256.8 618.2,256.2 613.8,255.1 609.4,255.6"/>
<polygon fill="#00ff9e" points="605.0,256.2 609.4,255.6 605.0,254.3 600.6,254.8"/>
<polygon fill="#00ff90" points="596.1,255.5 600.6,254.8 596.1,253.4 591.7,253.9"/>
<polygon fill="#69ff00" points="502.7,240.3 507.1,239.0 502.6,235.9 498.1,237.1"/>
<polygon fill="#00ff81" points="587.3,254.7 591.7,253.9 587.3,252.3 582.9,253.0"/>
<polygon fill="#00ff71" points="578.4,253.8 582.9,253.0 578.5,251.2 574.0,252.0"/>
<polygon fill="#8aff00" points="493.6,238.4 498.1,237.1 493.6,233.8 489.1,235.0"/>
<polygon fill="#00ff5f" points="569.6,252.9 574.0,252.0 569.6,250.0 565.2,250.8"/>
<polygon fill="#00ff4c" points="560.7,251.8 565.2,250.8 560.7,248.7 556.3,249.6"/>
<polygon fill="#00ff37" points="551.8,250.6 556.3,249.6 551.8,247.3 547.4,248.3"/>
<polygon fill="#00ff20" points="542.9,249.4 547.4,248.3 542.9,245.9 538.5,246.9"/>
<polygon fill="#00ff08" points="534.0,248.1 538.5,246.9 534.0,244.3 529.6,245.4"/>
<polygon fill="#11ff00" points="525.1,246.6 529.6,245.4 525.1,242.6 520.6,243.8"/>
<polygon fill="#2cff00" points="516.2,245.1 520.6,243.8 516.1,240.9 511.6,242.1"/>
<polygon fill="#00ffbc" points="653.6,258.7 657.9,258.4 653.5,258.0 649.1,258.3"/>
<polygon fill="#00ffb9" points="644.7,258.6 649.1,258.3 644.6,257.7 640.3,258.0"/>
<polygon fill="#00ffb4" points="635.9,258.5 640.3,258.0 635.8,257.3 631.4,257.7"/>
<polygon fill="#49ff00" points="507.2,243.5 511.6,242.1 507.1,239.0 502.7,240.3"/>
<polygon fill="#00ffae" points="627.1,258.2 631.4,257.7 627.0,256.8 622.6,257.3"/>
<polygon fill="#00ffa6" points="618.2,257.9 622.6,257.3 618.2,256.2 613.8,256.8"/>
<polygon fill="#00ff9d" points="609.4,257.5 613.8,256.8 609.4,255.6 605.0,256.2"/>
<polygon fill="#67ff00" points="498.2,241.8 502.7,240.3 498.1,237.1 493.6,238.4"/>
<polygon fill="#00ff93" points="600.5,256.9 605.0,256.2 600.6,254.8 596.1,255.5"/>
<polygon fill="#00ff87" points="591.7,256.3 596.1,255.5 591.7,253.9 587.3,254.7"/>
<polygon fill="#00ff79" points="582.9,255.6 587.3,254.7 582.9,253.0 578.4,253.8"/>
<polygon fill="#86ff00" points="489.2,240.0 493.6,238.4 489.1,235.0 484.6,236.5"/>
<polygon fill="#00ff6a" points="574.0,254.8 578.4,253.8 574.0,252.0 569.6,252.9"/>
<polygon fill="#00ff59" points="565.1,253.9 569.6,252.9 565.2,250.8 560.7,251.8"/>
<polygon fill="#00ff47" points="556.3,252.9 560.7,251.8 556.3,249.6 551.8,250.6"/>
<polygon fill="#00ff33" points="547.4,251.9 551.8,250.6 547.4,248.3 542.9,249.4"/>
<polygon fill="#00ff1e" points="538.5,250.7 542.9,249.4 538.5,246.9 534.0,248.1"/>
<polygon fill="#00ff08" points="529.6,249.4 534.0,248.1 529.6,245.4 525.1,246.6"/>
<polygon fill="#11ff00" points="520.6,248.1 525.1,246.6 520.6,243.8 516.2,245.1"/>
<polygon fill="#2aff00" points="511.7,246.6 516.2,245.1 511.6,242.1 507.2,243.5"/>
<polygon fill="#45ff00" points="502.7,245.1 507.2,243.5 502.7,240.3 498.2,241.8"/>
<polygon fill="#00ffac" points="649.2,259.2 653.6,258.7 649.1,258.3 644.7,258.6"/>
<polygon fill="#00ffaa" points="640.3,259.2 644.7,258.6 640.3,258.0 635.9,258.5"/>
<polygon fill="#00ffa7" points="631.5,259.1 635.9,258.5 631.4,257.7 627.1,258.2"/>
<polygon fill="#00ffa2" points="622.6,258.9 627.1,258.2 622.6,257.3 618.2,257.9"/>
<polygon fill="#00ff9c" points="613.8,258.7 618.2,257.9 613.8,256.8 609.4,257.5"/>
<polygon fill="#62ff00" points="493.7,243.5 498.2,241.8 493.6,238.4 489.2,240.0"/>
<polygon fill="#00ff94" points="605.0,258.3 609.4,257.5 605.0,256.2 600.5,256.9"/>
<polygon fill="#00ff8a" points="596.1,257.9 600.5,256.9 596.1,255.5 591.7,256.3"/>
<polygon fill="#00ff80" points="587.3,257.3 591.7,256.3 587.3,254.7 582.9,255.6"/>
<polygon fill="#80ff00" points="484.7,241.7 489.2,240.0 484.6,236.5 480.2,238.1"/>
<polygon fill="#00ff73" points="578.4,256.7 582.9,255.6 578.4,253.8 574.0,254.8"/>
<polygon fill="#00ff66" points="569.6,256.0 574.0,254.8 569.6,252.9 565.1,253.9"/>
<polygon fill="#00ff56" points="560.7,255.2 565.1,253.9 560.7,251.8 556.3,252.9"/>
<polygon fill="#00ff45" points="551.8,254.3 556.3,252.9 551.8,250.6 547.4,251.9"/>
<polygon fill="#00ff33" points="542.9,253.3 547.4,251.9 542.9,249.4 538.5,250.7"/>
<polygon fill="#00ff1f" points="534.0,252.2 538.5,250.7 534.0,248.1 529.6,249.4"/>
<polygon fill="#00ff0a" points="525.1,251.0 529.6,249.4 525.1,246.6 520.6,248.1"/>
<polygon fill="#0dff00" points="516.2,249.7 520.6,248.1 516.2,245.1 511.7,246.6"/>
<polygon fill="#25ff00" points="507.3,248.3 511.7,246.6 507.2,243.5 502.7,245.1"/>
<polygon fill="#3fff00" points="498.3,246.9 502.7,245.1 498.2,241.8 493.7,243.5"/>
<polygon fill="#5aff00" points="489.3,245.3 493.7,243.5 489.2,240.0 484.7,241.7"/>
<polygon fill="#00ff9e" points="635.9,259.9 640.3,259.2 635.9,258.5 631.5,259.1"/>
<polygon fill="#00ff9e" points="644.8,259.8 649.2,259.2 644.7,258.6 640.3,259.2"/>
<polygon fill="#00ff9c" points="627.1,259.9 631.5,259.1 627.1,258.2 622.6,258.9"/>
<polygon fill="#00ff98" points="618.2,259.8 622.6,258.9 618.2,257.9 613.8,258.7"/>
<polygon fill="#00ff93" points="609.4,259.6 613.8,258.7 609.4,257.5 605.0,258.3"/>
<polygon fill="#00ff8d" points="600.5,259.4 605.0,258.3 600.5,256.9 596.1,257.9"/>
<polygon fill="#00ff85" points="591.7,259.0 596.1,257.9 591.7,256.3 587.3,257.3"/>
<polygon fill="#00ff7b" points="582.8,258.5 587.3,257.3 582.9,255.6 578.4,256.7"/>
<polygon fill="#00ff70" points="574.0,258.0 578.4,256.7 574.0,254.8 569.6,256.0"/>
<polygon fill="#00ff64" points="565.1,257.4 569.6,256.0 565.1,253.9 560.7,255.2"/>
<polygon fill="#00ff56" points="556.3,256.6 560.7,255.2 556.3,252.9 551.8,254.3"/>
<polygon fill="#00ff46" points="547.4,255.8 551.8,254.3 547.4,251.9 542.9,253.3"/>
<polygon fill="#00ff35" points="538.5,254.9 542.9,253.3 538.5,250.7 534.0,252.2"/>
<polygon fill="#00ff23" points="529.6,253.9 534.0,252.2 529.6,249.4 525.1,251.0"/>
<polygon fill="#00ff0f" points="520.7,252.7 525.1,251.0 520.6,248.1 516.2,249.7"/>
<polygon fill="#07ff00" points="511.8,251.5 516.2,249.7 511.7,246.6 507.3,248.3"/>
<polygon fill="#1eff00" points="502.8,250.2 507.3,248.3 502.7,245.1 498.3,246.9"/>
<polygon fill="#36ff00" points="493.9,248.9 498.3,246.9 493.7,243.5 489.3,245.3"/>
<polygon fill="#00ff93" points="622.7,260.9 627.1,259.9 622.6,258.9 618.2,259.8"/>
<polygon fill="#00ff94" points="631.5,260.8 635.9,259.9 631.5,259.1 627.1,259.9"/>
<polygon fill="#00ff91" points="613.8,260.9 618.2,259.8 613.8,258.7 609.4,259.6"/>
<polygon fill="#00ff93" points="640.4,260.6 644.8,259.8 640.3,259.2 635.9,259.9"/>
<polygon fill="#00ff8e" points="605.0,260.8 609.4,259.6 605.0,258.3 600.5,259.4"/>
<polygon fill="#00ff89" points="596.1,260.6 600.5,259.4 596.1,257.9 591.7,259.0"/>
<polygon fill="#00ff82" points="587.3,260.3 591.7,259.0 587.3,257.3 582.8,258.5"/>
<polygon fill="#00ff7a" points="578.4,259.9 582.8,258.5 578.4,256.7 574.0,258.0"/>
<polygon fill="#00ff70" points="569.6,259.5 574.0,258.0 569.6,256.0 565.1,257.4"/>
<polygon fill="#00ff65" points="560.7,258.9 565.1,257.4 560.7,255.2 556.3,256.6"/>
<polygon fill="#00ff58" points="551.8,258.2 556.3,256.6 551.8,254.3 547.4,255.8"/>
<polygon fill="#00ff4a" points="543.0,257.5 547.4,255.8 542.9,253.3 538.5,254.9"/>
<polygon fill="#00ff3b" points="534.1,256.6 538.5,254.9 534.0,252.2 529.6,253.9"/>
<polygon fill="#00ff29" points="525.2,255.7 529.6,253.9 525.1,251.0 520.7,252.7"/>
<polygon fill="#00ff17" points="516.3,254.7 520.7,252.7 516.2,249.7 511.8,251.5"/>
<polygon fill="#00ff03" points="507.3,253.5 511.8,251.5 507.3,248.3 502.8,250.2"/>
<polygon fill="#13ff00" points="498.4,252.3 502.8,250.2 498.3,246.9 493.9,248.9"/>
<polygon fill="#00ff8e" points="618.2,262.0 622.7,260.9 618.2,259.8 613.8,260.9"/>
<polygon fill="#00ff8d" points="609.4,262.1 613.8,260.9 609.4,259.6 605.0,260.8"/>
<polygon fill="#00ff8d" points="627.1,261.9 631.5,260.8 627.1,259.9 622.7,260.9"/>
<polygon fill="#00ff8b" points="600.5,262.1 605.0,260.8 600.5,259.4 596.1,260.6"/>
<polygon fill="#00ff8b" points="635.9,261.6 640.4,260.6 635.9,259.9 631.5,260.8"/>
<polygon fill="#00ff87" points="591.7,262.0 596.1,260.6 591.7,259.0 587.3,260.3"/>
<polygon fill="#00ff82" points="582.8,261.8 587.3,260.3 582.8,258.5 578.4,259.9"/>
<polygon fill="#00ff7b" points="574.0,261.5 578.4,259.9 574.0,258.0 569.6,259.5"/>
<polygon fill="#00ff73" points="565.1,261.1 569.6,259.5 565.1,257.4 560.7,258.9"/>
<polygon fill="#00ff69" points="556.3,260.6 560.7,258.9 556.3,256.6 551.8,258.2"/>
<polygon fill="#00ff5e" points="547.4,260.0 551.8,258.2 547.4,255.8 543.0,257.5"/>
<polygon fill="#00ff51" points="538.5,259.4 543.0,257.5 538.5,254.9 534.1,256.6"/>
<polygon fill="#00ff42" points="529.6,258.6 534.1,256.6 529.6,253.9 525.2,255.7"/>
<polygon fill="#00ff33" points="520.7,257.7 525.2,255.7 520.7,252.7 516.3,254.7"/>
<polygon fill="#00ff21" points="511.8,256.8 516.3,254.7 511.8,251.5 507.3,253.5"/>
<polygon fill="#00ff0e" points="502.9,255.7 507.3,253.5 502.8,250.2 498.4,252.3"/>
<polygon fill="#00ff8c" points="604.9,263.5 609.4,262.1 605.0,260.8 600.5,262.1"/>
<polygon fill="#00ff8b" points="596.1,263.6 600.5,262.1 596.1,260.6 591.7,262.0"/>
<polygon fill="#00ff8b" points="613.8,263.4 618.2,262.0 613.8,260.9 609.4,262.1"/>
<polygon fill="#00ff88" points="587.2,263.6 591.7,262.0 587.3,260.3 582.8,261.8"/>
<polygon fill="#00ff89" points="622.7,263.1 627.1,261.9 622.7,260.9 618.2,262.0"/>
<polygon fill="#00ff84" points="578.4,263.5 582.8,261.8 578.4,259.9 574.0,261.5"/>
<polygon fill="#00ff86" points="631.5,262.8 635.9,261.6 631.5,260.8 627.1,261.9"/>
<polygon fill="#00ff7f" points="569.5,263.2 574.0,261.5 569.6,259.5 565.1,261.1"/>
<polygon fill="#00ff78" points="560.7,262.9 565.1,261.1 560.7,258.9 556.3,260.6"/>
<polygon fill="#00ff70" points="551.8,262.5 556.3,260.6 551.8,258.2 547.4,260.0"/>
<polygon fill="#00ff66" points="543.0,262.0 547.4,260.0 543.0,257.5 538.5,259.4"/>
<polygon fill="#00ff5a" points="534.1,261.4 538.5,259.4 534.1,256.6 529.6,258.6"/>
<polygon fill="#00ff4d" points="525.2,260.8 529.6,258.6 525.2,255.7 520.7,257.7"/>
<polygon fill="#00ff3f" points="516.3,260.0 520.7,257.7 516.3,254.7 511.8,256.8"/>
<polygon fill="#00ff2f" points="507.4,259.1 511.8,256.8 507.3,253.5 502.9,255.7"/>
<polygon fill="#00ff8e" points="591.7,265.3 596.1,263.6 591.7,262.0 587.2,263.6"/>
<polygon fill="#00ff8c" points="582.8,265.4 587.2,263.6 582.8,261.8 578.4,263.5"/>
<polygon fill="#00ff8d" points="600.5,265.2 604.9,263.5 600.5,262.1 596.1,263.6"/>
<polygon fill="#00ff8a" points="574.0,265.3 578.4,263.5 574.0,261.5 569.5,263.2"/>
<polygon fill="#00ff8b" points="609.4,264.9 613.8,263.4 609.4,262.1 604.9,263.5"/>
<polygon fill="#00ff86" points="565.1,265.2 569.5,263.2 565.1,261.1 560.7,262.9"/>
<polygon fill="#00ff88" points="618.2,264.6 622.7,263.1 618.2,262.0 613.8,263.4"/>
<polygon fill="#00ff80" points="556.3,265.0 560.7,262.9 556.3,260.6 551.8,262.5"/>
<polygon fill="#00ff83" points="627.1,264.1 631.5,262.8 627.1,261.9 622.7,263.1"/>
<polygon fill="#00ff79" points="547.4,264.6 551.8,262.5 547.4,260.0 543.0,262.0"/>
<polygon fill="#00ff70" points="538.6,264.2 543.0,262.0 538.5,259.4 534.1,261.4"/>
<polygon fill="#00ff66" points="529.7,263.7 534.1,261.4 529.6,258.6 525.2,260.8"/>
<polygon fill="#00ff5a" points="520.8,263.1 525.2,260.8 520.7,257.7 516.3,260.0"/>
<polygon fill="#00ff4d" points="511.9,262.4 516.3,260.0 511.8,256.8 507.4,259.1"/>
<polygon fill="#00ff93" points="578.4,267.3 582.8,265.4 578.4,263.5 574.0,265.3"/>
<polygon fill="#00ff92" points="569.5,267.4 574.0,265.3 569.5,263.2 565.1,265.2"/>
<polygon fill="#00ff93" points="587.2,267.2 591.7,265.3 587.2,263.6 582.8,265.4"/>
<polygon fill="#00ff8f" points="560.7,267.3 565.1,265.2 560.7,262.9 556.3,265.0"/>
<polygon fill="#00ff91" points="596.1,267.0 600.5,265.2 596.1,263.6 591.7,265.3"/>
<polygon fill="#00ff8b" points="551.8,267.2 556.3,265.0 551.8,262.5 547.4,264.6"/>
<polygon fill="#00ff8e" points="604.9,266.6 609.4,264.9 604.9,263.5 600.5,265.2"/>
<polygon fill="#00ff85" points="543.0,266.9 547.4,264.6 543.0,262.0 538.6,264.2"/>
<polygon fill="#00ff89" points="613.8,266.2 618.2,264.6 613.8,263.4 609.4,264.9"/>
<polygon fill="#00ff7e" points="534.1,266.6 538.6,264.2 534.1,261.4 529.7,263.7"/>
<polygon fill="#00ff83" points="622.7,265.7 627.1,264.1 622.7,263.1 618.2,264.6"/>
<polygon fill="#00ff75" points="525.3,266.2 529.7,263.7 525.2,260.8 520.8,263.1"/>
<polygon fill="#00ff6a" points="516.4,265.6 520.8,263.1 516.3,260.0 511.9,262.4"/>
<polygon fill="#00ff9d" points="565.1,269.6 569.5,267.4 565.1,265.2 560.7,267.3"/>
<polygon fill="#00ff9d" points="573.9,269.5 578.4,267.3 574.0,265.3 569.5,267.4"/>
<polygon fill="#00ff9b" points="556.3,269.6 560.7,267.3 556.3,265.0 551.8,267.2"/>
<polygon fill="#00ff9b" points="582.8,269.3 587.2,267.2 582.8,265.4 578.4,267.3"/>
<polygon fill="#00ff98" points="547.4,269.6 551.8,267.2 547.4,264.6 543.0,266.9"/>
<polygon fill="#00ff98" points="591.6,268.9 596.1,267.0 591.7,265.3 587.2,267.2"/>
<polygon fill="#00ff94" points="538.6,269.4 543.0,266.9 538.6,264.2 534.1,266.6"/>
<polygon fill="#00ff94" points="600.5,268.5 604.9,266.6 600.5,265.2 596.1,267.0"/>
<polygon fill="#00ff8e" points="529.7,269.2 534.1,266.6 529.7,263.7 525.3,266.2"/>
<polygon fill="#00ff8e" points="609.3,268.0 613.8,266.2 609.4,264.9 604.9,266.6"/>
<polygon fill="#00ff86" points="520.9,268.8 525.3,266.2 520.8,263.1 516.4,265.6"/>
<polygon fill="#00ff86" points="618.2,267.4 622.7,265.7 618.2,264.6 613.8,266.2"/>
<polygon fill="#00ffaa" points="551.8,272.2 556.3,269.6 551.8,267.2 547.4,269.6"/>
<polygon fill="#00ffaa" points="560.7,272.0 565.1,269.6 560.7,267.3 556.3,269.6"/>
<polygon fill="#00ffa8" points="543.0,272.2 547.4,269.6 543.0,266.9 538.6,269.4"/>
<polygon fill="#00ffa9" points="569.5,271.8 573.9,269.5 569.5,267.4 565.1,269.6"/>
<polygon fill="#00ffa5" points="534.2,272.1 538.6,269.4 534.1,266.6 529.7,269.2"/>
<polygon fill="#00ffa6" points="578.4,271.5 582.8,269.3 578.4,267.3 573.9,269.5"/>
<polygon fill="#00ffa1" points="525.3,271.9 529.7,269.2 525.3,266.2 520.9,268.8"/>
<polygon fill="#00ffa2" points="587.2,271.1 591.6,268.9 587.2,267.2 582.8,269.3"/>
<polygon fill="#00ff9c" points="596.0,270.6 600.5,268.5 596.1,267.0 591.6,268.9"/>
<polygon fill="#00ff95" points="604.9,270.0 609.3,268.0 604.9,266.6 600.5,268.5"/>
<polygon fill="#00ff8c" points="613.8,269.3 618.2,267.4 613.8,266.2 609.3,268.0"/>
<polygon fill="#00ffbb" points="538.6,275.0 543.0,272.2 538.6,269.4 534.2,272.1"/>
<polygon fill="#00ffbc" points="547.4,274.9 551.8,272.2 547.4,269.6 543.0,272.2"/>
<polygon fill="#00ffb9" points="529.8,275.0 534.2,272.1 529.7,269.2 525.3,271.9"/>
<polygon fill="#00ffbb" points="556.3,274.7 560.7,272.0 556.3,269.6 551.8,272.2"/>
<polygon fill="#00ffb8" points="565.1,274.4 569.5,271.8 565.1,269.6 560.7,272.0"/>
<polygon fill="#00ffb4" points="573.9,274.0 578.4,271.5 573.9,269.5 569.5,271.8"/>
<polygon fill="#00ffae" points="582.8,273.5 587.2,271.1 582.8,269.3 578.4,271.5"/>
<polygon fill="#00ffa7" points="591.6,272.9 596.0,270.6 591.6,268.9 587.2,271.1"/>
<polygon fill="#00ff9e" points="600.5,272.2 604.9,270.0 600.5,268.5 596.0,270.6"/>
<polygon fill="#00ff94" points="609.3,271.4 613.8,269.3 609.3,268.0 604.9,270.0"/>
<polygon fill="#00ffd1" points="534.2,278.0 538.6,275.0 534.2,272.1 529.8,275.0"/>
<polygon fill="#00ffd0" points="543.0,277.8 547.4,274.9 543.0,272.2 538.6,275.0"/>
<polygon fill="#00ffce" points="551.9,277.5 556.3,274.7 551.8,272.2 547.4,274.9"/>
<polygon fill="#00ffca" points="560.7,277.1 565.1,274.4 560.7,272.0 556.3,274.7"/>
<polygon fill="#00ffc4" points="569.5,276.6 573.9,274.0 569.5,271.8 565.1,274.4"/>
<polygon fill="#00ffbd" points="578.3,276.1 582.8,273.5 578.4,271.5 573.9,274.0"/>
<polygon fill="#00ffb5" points="587.2,275.4 591.6,272.9 587.2,271.1 582.8,273.5"/>
<polygon fill="#00ffab" points="596.0,274.6 600.5,272.2 596.0,270.6 591.6,272.9"/>
<polygon fill="#00ff9f" points="604.9,273.8 609.3,271.4 604.9,270.0 600.5,272.2"/>
<polygon fill="#00ffe7" points="538.7,280.9 543.0,277.8 538.6,275.0 534.2,278.0"/>
<polygon fill="#00ffe3" points="547.5,280.5 551.9,277.5 547.4,274.9 543.0,277.8"/>
<polygon fill="#00ffde" points="556.3,280.1 560.7,277.1 556.3,274.7 551.9,277.5"/>
<polygon fill="#00ffd7" points="565.1,279.5 569.5,276.6 565.1,274.4 560.7,277.1"/>
<polygon fill="#00ffcf" points="573.9,278.8 578.3,276.1 573.9,274.0 569.5,276.6"/>
<polygon fill="#00ffc5" points="582.7,278.1 587.2,275.4 582.8,273.5 578.3,276.1"/>
<polygon fill="#00ffba" points="591.6,277.2 596.0,274.6 591.6,272.9 587.2,275.4"/>
<polygon fill="#00ffad" points="600.4,276.3 604.9,273.8 600.5,272.2 596.0,274.6"/>
<polygon fill="#00fffc" points="543.1,283.8 547.5,280.5 543.0,277.8 538.7,280.9"/>
<polygon fill="#00fff5" points="551.9,283.2 556.3,280.1 551.9,277.5 547.5,280.5"/>
<polygon fill="#00ffed" points="560.7,282.6 565.1,279.5 560.7,277.1 556.3,280.1"/>
<polygon fill="#00ffe3" points="569.5,281.8 573.9,278.8 569.5,276.6 565.1,279.5"/>
<polygon fill="#00ffd8" points="578.3,281.0 582.7,278.1 578.3,276.1 573.9,278.8"/>
<polygon fill="#00ffcb" points="587.1,280.0 591.6,277.2 587.2,275.4 582.7,278.1"/>
<polygon fill="#00ffbd" points="596.0,279.0 600.4,276.3 596.0,274.6 591.6,277.2"/>
<polygon fill="#00efff" points="547.5,286.6 551.9,283.2 547.5,280.5 543.1,283.8"/>
<polygon fill="#00f9ff" points="556.3,285.8 560.7,282.6 556.3,280.1 551.9,283.2"/>
<polygon fill="#00fffa" points="565.1,285.0 569.5,281.8 565.1,279.5 560.7,282.6"/>
<polygon fill="#00ffee" points="573.9,284.0 578.3,281.0 573.9,278.8 569.5,281.8"/>
<polygon fill="#00ffe0" points="582.7,283.0 587.1,280.0 582.7,278.1 578.3,281.0"/>
<polygon fill="#00ffd0" points="591.5,281.9 596.0,279.0 591.6,277.2 587.1,280.0"/>
<polygon fill="#00ddff" points="551.9,289.3 556.3,285.8 551.9,283.2 547.5,286.6"/>
<polygon fill="#00eaff" points="560.7,288.4 565.1,285.0 560.7,282.6 556.3,285.8"/>
<polygon fill="#00f7ff" points="569.5,287.3 573.9,284.0 569.5,281.8 565.1,285.0"/>
<polygon fill="#00fff7" points="578.3,286.2 582.7,283.0 578.3,281.0 573.9,284.0"/>
<polygon fill="#00ffe6" points="587.1,285.0 591.5,281.9 587.1,280.0 582.7,283.0"/>
<polygon fill="#00cdff" points="556.3,292.0 560.7,288.4 556.3,285.8 551.9,289.3"/>
<polygon fill="#00dcff" points="565.1,290.8 569.5,287.3 565.1,285.0 560.7,288.4"/>
<polygon fill="#00edff" points="573.9,289.6 578.3,286.2 573.9,284.0 569.5,287.3"/>
<polygon fill="#00ffff" points="582.7,288.3 587.1,285.0 582.7,283.0 578.3,286.2"/>
<polygon fill="#00beff" points="560.7,294.5 565.1,290.8 560.7,288.4 556.3,292.0"/>
<polygon fill="#00d0ff" points="569.5,293.2 573.9,289.6 569.5,287.3 565.1,290.8"/>
<polygon fill="#00e3ff" points="578.3,291.8 582.7,288.3 578.3,286.2 573.9,289.6"/>
<polygon fill="#00b0ff" points="565.1,297.1 569.5,293.2 565.1,290.8 560.7,294.5"/>
<polygon fill="#00c5ff" points="573.9,295.6 578.3,291.8 573.9,289.6 569.5,293.2"/>
<polygon fill="#00a4ff" points="569.5,299.5 573.9,295.6 569.5,293.2 565.1,297.1"/>
</g>
<ellipse cx="569.6" cy="249.4" rx="1.9" ry="2.3" fill="#c00010" stroke="#300" stroke-width="0.6"/>
</svg></body></html>
